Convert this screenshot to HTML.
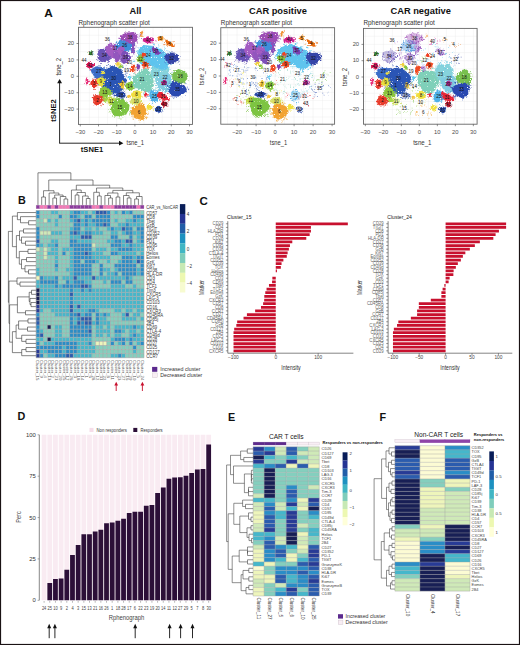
<!DOCTYPE html>
<html><head><meta charset="utf-8"><title>Figure</title>
<style>
html,body{margin:0;padding:0;background:#fff;width:520px;height:645px;overflow:hidden}
svg{display:block;font-family:"Liberation Sans", sans-serif}
</style></head><body>
<svg width="520" height="645" viewBox="0 0 520 645">
<defs><filter id="rough" x="-10%" y="-10%" width="120%" height="120%"><feTurbulence type="fractalNoise" baseFrequency="0.7" numOctaves="2" seed="3" result="n"/><feDisplacementMap in="SourceGraphic" in2="n" scale="3.2" xChannelSelector="R" yChannelSelector="G" result="d"/><feTurbulence type="fractalNoise" baseFrequency="1.3" numOctaves="1" seed="11" result="n2"/><feColorMatrix in="n2" type="matrix" values="0 0 0 0 0  0 0 0 0 0  0 0 0 0 0  0 0 0 -14 10.6" result="m"/><feComposite in="d" in2="m" operator="in"/></filter></defs>
<text x="44.3" y="17.2" font-size="11.8" fill="#111" text-anchor="start" font-weight="bold">A</text>
<text x="135.5" y="14.2" font-size="9.3" fill="#111" text-anchor="middle" font-weight="bold">All</text>
<text x="78.5" y="24.6" font-size="6.35" fill="#333" text-anchor="start" font-weight="normal">Rphenograph scatter plot</text>
<rect x="78.5" y="27.3" width="114" height="97.1" fill="#fff"/>
<path d="M80.3 27.3V124.4M89.4 27.3V124.4M98.5 27.3V124.4M107.6 27.3V124.4M116.7 27.3V124.4M125.8 27.3V124.4M134.9 27.3V124.4M144 27.3V124.4M153.1 27.3V124.4M162.2 27.3V124.4M171.3 27.3V124.4M180.4 27.3V124.4M189.5 27.3V124.4M78.5 117.3H192.5M78.5 109.1H192.5M78.5 100.9H192.5M78.5 92.7H192.5M78.5 84.5H192.5M78.5 76.3H192.5M78.5 68.1H192.5M78.5 59.9H192.5M78.5 51.7H192.5M78.5 43.5H192.5M78.5 35.3H192.5" stroke="#ececec" stroke-width="0.4" fill="none"/>
<clipPath id="clipA0"><rect x="78.5" y="27.3" width="114" height="97.1"/></clipPath>
<g clip-path="url(#clipA0)"><g filter="url(#rough)">
<path d="M101.24 60.82h0.9v0.9h-0.9zM100.49 50.67h0.9v0.9h-0.9zM97.08 53.9h0.9v0.9h-0.9zM111.45 57.94h0.9v0.9h-0.9zM111.52 57.01h0.9v0.9h-0.9zM110.01 57.9h0.9v0.9h-0.9zM96.37 59.08h0.9v0.9h-0.9zM109.08 59.8h0.9v0.9h-0.9zM97.8 49.35h0.9v0.9h-0.9zM97.65 52.24h0.9v0.9h-0.9zM110.4 54.54h0.9v0.9h-0.9zM108.65 50.37h0.9v0.9h-0.9zM108.21 60.09h0.9v0.9h-0.9zM101.05 62.9h0.9v0.9h-0.9zM107.58 62.05h0.9v0.9h-0.9zM99.49 50.26h0.9v0.9h-0.9zM98.16 53.69h0.9v0.9h-0.9zM110.52 57.68h0.9v0.9h-0.9zM101.02 49.17h0.9v0.9h-0.9zM101.06 62.16h0.9v0.9h-0.9zM97.41 57.29h0.9v0.9h-0.9zM106.51 48.01h0.9v0.9h-0.9z" stroke="none" stroke-width="0" fill="#6753b6"/>
<path d="M112.14 55.4 L111.56 57.38 L110.61 59.18 L108.76 60.23 L106.82 60.65 L105.27 62.23 L103.21 61.71 L101 61.83 L98.9 61.01 L98.42 58.8 L97.69 57.15 L98.24 55.4 L97.51 53.6 L97.8 51.63 L99.07 49.98 L100.75 48.47 L103.17 48.82 L105.23 48.86 L106.99 49.81 L108.62 50.73 L110.11 51.92 L111.92 53.32Z" stroke="none" stroke-width="0" fill="#6753b6"/>
<path d="M117.3 47.17h0.9v0.9h-0.9zM108.89 44.13h0.9v0.9h-0.9zM109.51 41.51h0.9v0.9h-0.9zM118.57 49.59h0.9v0.9h-0.9zM110.22 57.8h0.9v0.9h-0.9zM109.06 44.15h0.9v0.9h-0.9zM106.29 51.72h0.9v0.9h-0.9zM115.27 54.59h0.9v0.9h-0.9zM112.1 42.96h0.9v0.9h-0.9zM111.59 58h0.9v0.9h-0.9zM115.05 45h0.9v0.9h-0.9zM105.46 52.69h0.9v0.9h-0.9zM116.75 43.64h0.9v0.9h-0.9zM115.21 44.26h0.9v0.9h-0.9zM106.45 54h0.9v0.9h-0.9zM117.05 43.35h0.9v0.9h-0.9zM114.64 55.89h0.9v0.9h-0.9zM112.13 57.4h0.9v0.9h-0.9zM105.06 50.82h0.9v0.9h-0.9zM111.1 56.62h0.9v0.9h-0.9zM106.35 53.86h0.9v0.9h-0.9z" stroke="none" stroke-width="0" fill="#a35cc2"/>
<path d="M117.2 47.93 L117.17 50.15 L117.08 52.13 L117.13 54.27 L116.61 56.37 L114.95 57.04 L113.61 58.53 L111.67 57.78 L109.96 56.79 L108.46 55.45 L107.28 53.74 L105.95 52.02 L105.43 49.84 L104.87 47.48 L106.28 46.03 L107.45 44.95 L108.57 44.02 L109.86 43.37 L111.34 42.64 L113.04 43.2 L114.63 44.39 L115.87 46.13Z" stroke="none" stroke-width="0" fill="#a35cc2"/>
<path d="M119.85 59.62h0.9v0.9h-0.9zM121.3 57.19h0.9v0.9h-0.9zM114.58 52.39h0.9v0.9h-0.9zM116.95 62.04h0.9v0.9h-0.9zM114.92 60.09h0.9v0.9h-0.9zM119.64 49.67h0.9v0.9h-0.9zM113.35 57.36h0.9v0.9h-0.9zM119.69 58.76h0.9v0.9h-0.9zM115.14 60.86h0.9v0.9h-0.9zM118.53 51.13h0.9v0.9h-0.9zM121.43 57.11h0.9v0.9h-0.9zM113.84 55.03h0.9v0.9h-0.9zM114.09 54.61h0.9v0.9h-0.9z" stroke="none" stroke-width="0" fill="#9256bd"/>
<path d="M120.75 56 L120.32 57.67 L119.8 59.08 L119.11 60.18 L118.48 61.55 L117.51 62.1 L116.44 62.67 L115.52 61.54 L114.73 60.49 L114.41 58.85 L114 57.51 L113.25 56 L113.09 54.03 L113.62 52.27 L114.5 51.06 L115.52 50.45 L116.52 50.32 L117.44 50.79 L118.44 50.58 L119.37 51.31 L119.96 52.74 L120.26 54.36Z" stroke="none" stroke-width="0" fill="#9256bd"/>
<path d="M132 52.65h0.9v0.9h-0.9zM131.23 37.62h0.9v0.9h-0.9zM129.13 48.9h0.9v0.9h-0.9zM136.07 45.33h0.9v0.9h-0.9zM130.75 50.99h0.9v0.9h-0.9zM132.88 52.5h0.9v0.9h-0.9zM133.4 53.59h0.9v0.9h-0.9zM135.29 40.96h0.9v0.9h-0.9zM129.32 47.03h0.9v0.9h-0.9zM133.26 40.08h0.9v0.9h-0.9zM130.62 38.54h0.9v0.9h-0.9zM133.17 37.86h0.9v0.9h-0.9z" stroke="none" stroke-width="0" fill="#8d4fba"/>
<path d="M135.17 46 L135.17 47.96 L134.57 49.33 L134.33 51.27 L133.78 52.99 L132.92 53.32 L132.07 53.4 L131.2 53.12 L130.66 51.31 L130.49 49.23 L130.2 47.69 L129.91 46 L129.46 43.77 L129.8 41.67 L130.68 40.74 L131.28 39.34 L132.1 39 L132.88 39.47 L133.59 40.04 L134.42 40.46 L134.9 42.14 L135.15 44.05Z" stroke="none" stroke-width="0" fill="#8d4fba"/>
<path d="M132.92 43.65h0.9v0.9h-0.9zM115.11 43.63h0.9v0.9h-0.9zM115.98 48.26h0.9v0.9h-0.9zM127.76 39.55h0.9v0.9h-0.9zM124.42 51.38h0.9v0.9h-0.9zM125 52.23h0.9v0.9h-0.9zM124.04 51.74h0.9v0.9h-0.9zM130.92 51.01h0.9v0.9h-0.9zM119.69 50.46h0.9v0.9h-0.9zM116.34 40.92h0.9v0.9h-0.9zM116.18 48.93h0.9v0.9h-0.9zM116.33 44.93h0.9v0.9h-0.9zM118.13 44.18h0.9v0.9h-0.9zM118 47.23h0.9v0.9h-0.9zM133.57 45.19h0.9v0.9h-0.9zM128.24 51.1h0.9v0.9h-0.9zM123.22 37.93h0.9v0.9h-0.9zM120.77 51.25h0.9v0.9h-0.9zM116.02 42.33h0.9v0.9h-0.9zM131 49.43h0.9v0.9h-0.9zM124.57 51.33h0.9v0.9h-0.9zM125.63 38.06h0.9v0.9h-0.9zM116.22 42.07h0.9v0.9h-0.9z" stroke="none" stroke-width="0" fill="#3f8fda"/>
<path d="M131.57 45 L132.04 46.92 L131.34 48.81 L129.82 50.32 L127.8 51.26 L125.5 51.06 L123.52 50.9 L121.61 50.49 L119.19 50.31 L117.53 48.88 L116.18 47.12 L116.05 45 L117.81 43.3 L118.64 41.74 L119.6 40.09 L121.27 38.87 L123.45 38.66 L125.59 38.43 L127.79 38.75 L129.03 40.47 L130.08 41.89 L130.5 43.47Z" stroke="none" stroke-width="0" fill="#3f8fda"/>
<path d="M124.75 31.62h0.9v0.9h-0.9zM136.6 34.31h0.9v0.9h-0.9zM127.82 31.25h0.9v0.9h-0.9zM136.99 42.57h0.9v0.9h-0.9zM138.36 36.26h0.9v0.9h-0.9zM138.85 35.66h0.9v0.9h-0.9zM118.38 37.86h0.9v0.9h-0.9zM134.11 32.97h0.9v0.9h-0.9zM121.15 39.74h0.9v0.9h-0.9zM125.52 41.59h0.9v0.9h-0.9zM125.59 43.07h0.9v0.9h-0.9zM139.82 38.02h0.9v0.9h-0.9zM122.81 38.99h0.9v0.9h-0.9zM125.01 42.62h0.9v0.9h-0.9zM122.11 36.94h0.9v0.9h-0.9zM140.8 36.69h0.9v0.9h-0.9zM137.95 36.44h0.9v0.9h-0.9zM129.24 41.96h0.9v0.9h-0.9zM131.58 32.14h0.9v0.9h-0.9zM136.43 41.38h0.9v0.9h-0.9zM139.31 33.82h0.9v0.9h-0.9zM129.55 42.25h0.9v0.9h-0.9zM138.7 34.39h0.9v0.9h-0.9z" stroke="none" stroke-width="0" fill="#9d4db5"/>
<path d="M137.56 37.3 L137.28 38.58 L137.71 40.27 L136.15 41.56 L133.79 42.28 L131.46 43.39 L128.7 42.72 L126.34 42.11 L125.06 40.72 L122.24 40.29 L121.74 38.76 L119.64 37.3 L120.77 35.67 L122.53 34.42 L124.39 33.41 L126.31 32.45 L128.85 32.5 L131.21 32.26 L134.03 32 L136.13 33.06 L137.34 34.47 L137.81 35.92Z" stroke="none" stroke-width="0" fill="#9d4db5"/>
<path d="M124.58 52.32h0.9v0.9h-0.9zM119.5 55.11h0.9v0.9h-0.9zM121.23 46.6h0.9v0.9h-0.9zM117.28 51h0.9v0.9h-0.9zM119.04 54.17h0.9v0.9h-0.9zM120.99 54.86h0.9v0.9h-0.9zM120.53 46.09h0.9v0.9h-0.9zM122.58 55.44h0.9v0.9h-0.9zM124.29 49.39h0.9v0.9h-0.9zM122.75 46.73h0.9v0.9h-0.9zM116.1 51.17h0.9v0.9h-0.9zM117.63 54.02h0.9v0.9h-0.9z" stroke="none" stroke-width="0" fill="#a35cc2"/>
<path d="M125.01 51 L124.42 52.13 L124.49 53.52 L123.85 54.7 L122.85 55.56 L121.6 55.67 L120.45 55.32 L119.59 54.48 L118.79 53.87 L118.05 53.13 L116.89 52.36 L116.84 51 L117.09 49.71 L117.81 48.69 L118.35 47.56 L119.38 47 L120.45 46.7 L121.55 46.71 L122.7 46.81 L123.75 47.42 L124.5 48.47 L124.49 49.85Z" stroke="none" stroke-width="0" fill="#a35cc2"/>
<path d="M120.84 59.54h0.9v0.9h-0.9zM131.65 55.76h0.9v0.9h-0.9zM120.81 55.92h0.9v0.9h-0.9zM130.23 56.33h0.9v0.9h-0.9zM122.76 61.6h0.9v0.9h-0.9zM121.49 61.92h0.9v0.9h-0.9zM120.7 57.5h0.9v0.9h-0.9zM121.14 57.45h0.9v0.9h-0.9zM125 62.92h0.9v0.9h-0.9zM121.89 60.68h0.9v0.9h-0.9zM130.29 58.43h0.9v0.9h-0.9zM126 64.24h0.9v0.9h-0.9zM119.56 56.3h0.9v0.9h-0.9zM122.18 51.72h0.9v0.9h-0.9zM129.12 53.36h0.9v0.9h-0.9zM122.42 64.49h0.9v0.9h-0.9z" stroke="none" stroke-width="0" fill="#7b4fb8"/>
<path d="M130.96 57.6 L130.74 59.48 L129.44 60.71 L128.77 62.26 L127.45 62.98 L126.07 63.21 L124.67 63.68 L123.09 63.66 L122.04 62.25 L120.91 61.06 L120.63 59.28 L120.46 57.6 L120.76 55.97 L121.12 54.3 L121.97 52.85 L123 51.29 L124.61 51 L126.15 51.35 L127.26 52.71 L128.1 53.86 L129.06 54.77 L130.11 55.94Z" stroke="none" stroke-width="0" fill="#7b4fb8"/>
<path d="M92.54 54.75h0.9v0.9h-0.9zM88.9 52.67h0.9v0.9h-0.9zM89.34 51.92h0.9v0.9h-0.9zM89.27 53.5h0.9v0.9h-0.9zM91.43 51.36h0.9v0.9h-0.9zM88.84 53.36h0.9v0.9h-0.9zM89.95 52.07h0.9v0.9h-0.9z" stroke="none" stroke-width="0" fill="#3a9a3a"/>
<path d="M92.36 53.4 L92.28 53.84 L92.26 54.34 L92.11 54.91 L91.57 55.09 L91.08 55.34 L90.53 55.28 L90.12 54.9 L89.74 54.62 L89.32 54.35 L88.92 53.95 L88.75 53.4 L88.93 52.85 L89.25 52.41 L89.79 52.24 L90.17 52.01 L90.57 51.78 L91.08 51.49 L91.58 51.68 L92.09 51.91 L92.21 52.49 L92.3 52.96Z" stroke="none" stroke-width="0" fill="#3a9a3a"/>
<path d="M89.71 68.75h0.9v0.9h-0.9zM88.72 61.86h0.9v0.9h-0.9zM89.21 68.45h0.9v0.9h-0.9zM86.48 65.92h0.9v0.9h-0.9zM93.51 67.83h0.9v0.9h-0.9zM91.66 69h0.9v0.9h-0.9zM93.04 64.16h0.9v0.9h-0.9zM85.96 66.16h0.9v0.9h-0.9zM93.91 64.55h0.9v0.9h-0.9z" stroke="none" stroke-width="0" fill="#d8185a"/>
<path d="M93.93 65.2 L94.11 66.19 L93 66.75 L92.4 67.39 L91.48 67.6 L90.7 68.2 L89.62 68.66 L88.67 68.08 L87.54 67.84 L87.16 66.88 L86.73 66.08 L86.79 65.2 L87.09 64.41 L86.88 63.37 L87.66 62.67 L88.71 62.39 L89.72 62.32 L90.69 62.28 L91.55 62.66 L92.31 63.1 L93.03 63.64 L93.79 64.29Z" stroke="none" stroke-width="0" fill="#d8185a"/>
<path d="M95.14 79.47h0.9v0.9h-0.9zM108.26 72.58h0.9v0.9h-0.9zM102.74 67.75h0.9v0.9h-0.9zM107.17 69.26h0.9v0.9h-0.9zM105.23 68.97h0.9v0.9h-0.9zM93.44 77.08h0.9v0.9h-0.9zM107.7 72.45h0.9v0.9h-0.9zM93.79 77.46h0.9v0.9h-0.9zM97.93 77.84h0.9v0.9h-0.9zM106.67 77.03h0.9v0.9h-0.9zM96.8 80.18h0.9v0.9h-0.9zM99.03 78.51h0.9v0.9h-0.9zM91.72 72.1h0.9v0.9h-0.9zM92.01 78.17h0.9v0.9h-0.9zM106.08 67.49h0.9v0.9h-0.9zM92.31 66.77h0.9v0.9h-0.9zM106.97 70.02h0.9v0.9h-0.9zM97.71 67.19h0.9v0.9h-0.9zM98.09 66.01h0.9v0.9h-0.9zM99.15 65.43h0.9v0.9h-0.9zM97.47 77.77h0.9v0.9h-0.9zM105.34 70h0.9v0.9h-0.9z" stroke="none" stroke-width="0" fill="#3a6cc8"/>
<path d="M106.7 72.5 L105.79 74.08 L105.25 75.69 L104.23 77.3 L102.13 77.95 L100.22 79.26 L97.83 78.95 L95.6 78.42 L94.17 76.93 L93.39 75.36 L92.55 74.01 L91.73 72.5 L90.55 70.53 L91.85 68.85 L93.84 67.76 L95.55 66.5 L97.87 66.27 L100 66.95 L101.9 67.45 L104 67.91 L105.64 69.11 L106.85 70.67Z" stroke="none" stroke-width="0" fill="#3a6cc8"/>
<path d="M123.06 85.98h0.9v0.9h-0.9zM112.27 93.31h0.9v0.9h-0.9zM124.27 69.84h0.9v0.9h-0.9zM101.94 86.25h0.9v0.9h-0.9zM100.4 77.57h0.9v0.9h-0.9zM107.23 88.83h0.9v0.9h-0.9zM110.24 95.33h0.9v0.9h-0.9zM122.46 89.07h0.9v0.9h-0.9zM102.38 68.24h0.9v0.9h-0.9zM115.58 91.37h0.9v0.9h-0.9zM113.13 92.37h0.9v0.9h-0.9zM97.93 84.84h0.9v0.9h-0.9zM122.03 66.86h0.9v0.9h-0.9zM123.71 80.98h0.9v0.9h-0.9zM109.06 64.34h0.9v0.9h-0.9zM99.27 81.83h0.9v0.9h-0.9zM125.83 79.51h0.9v0.9h-0.9zM126.68 72.72h0.9v0.9h-0.9zM122.9 66.81h0.9v0.9h-0.9zM113.11 90.74h0.9v0.9h-0.9zM120.67 90.69h0.9v0.9h-0.9zM106.41 65.01h0.9v0.9h-0.9zM110.48 65.46h0.9v0.9h-0.9zM114.22 66.36h0.9v0.9h-0.9zM102.72 76.05h0.9v0.9h-0.9zM115.4 67.81h0.9v0.9h-0.9zM125.49 72.62h0.9v0.9h-0.9zM109.24 90.2h0.9v0.9h-0.9zM112.84 93.7h0.9v0.9h-0.9zM109.43 68.83h0.9v0.9h-0.9zM125.27 85.31h0.9v0.9h-0.9zM101.89 73.13h0.9v0.9h-0.9zM115.31 93.31h0.9v0.9h-0.9zM125.29 80.31h0.9v0.9h-0.9zM97.47 83.42h0.9v0.9h-0.9zM103.41 67.2h0.9v0.9h-0.9zM101.2 81.35h0.9v0.9h-0.9zM113.3 95.53h0.9v0.9h-0.9zM109.53 67.64h0.9v0.9h-0.9zM126.3 81.33h0.9v0.9h-0.9zM107.06 67.95h0.9v0.9h-0.9zM112.35 93.86h0.9v0.9h-0.9zM123.61 74.11h0.9v0.9h-0.9zM125.24 82.16h0.9v0.9h-0.9zM100.3 86.42h0.9v0.9h-0.9zM117.84 93.81h0.9v0.9h-0.9zM112.08 66.07h0.9v0.9h-0.9zM117.47 94.95h0.9v0.9h-0.9zM107.24 93.61h0.9v0.9h-0.9zM114.43 91.28h0.9v0.9h-0.9zM113.81 67.24h0.9v0.9h-0.9zM125.81 75.51h0.9v0.9h-0.9zM117.56 90.47h0.9v0.9h-0.9zM100.54 86.66h0.9v0.9h-0.9zM123.86 75.88h0.9v0.9h-0.9zM103.73 86.84h0.9v0.9h-0.9zM124.27 77.65h0.9v0.9h-0.9zM123.39 83.01h0.9v0.9h-0.9zM100.72 89.24h0.9v0.9h-0.9zM123.97 69.65h0.9v0.9h-0.9z" stroke="none" stroke-width="0" fill="#2c55b5"/>
<path d="M126.45 79.5 L125.43 83.15 L123.86 86.48 L122.24 90.16 L118.3 91.1 L114.48 89.83 L111.32 91.22 L108.06 90.32 L104.61 89.18 L101.87 86.65 L100.89 83.06 L101.6 79.5 L102.28 76.35 L103.7 73.53 L104.55 69.75 L108.04 68.63 L110.93 65.09 L114.83 66.76 L118.2 68.12 L121.27 69.95 L123.19 72.95 L124.02 76.26Z" stroke="none" stroke-width="0" fill="#2c55b5"/>
<path d="M120.56 90.28h0.9v0.9h-0.9zM111.1 93.49h0.9v0.9h-0.9zM117.28 93.72h0.9v0.9h-0.9zM118.94 85.64h0.9v0.9h-0.9zM110.35 92.05h0.9v0.9h-0.9zM115.95 83.75h0.9v0.9h-0.9zM119.79 89.55h0.9v0.9h-0.9zM119.73 85.94h0.9v0.9h-0.9zM115.39 81.6h0.9v0.9h-0.9zM112.92 93.03h0.9v0.9h-0.9zM120.94 86.87h0.9v0.9h-0.9zM115.05 94.93h0.9v0.9h-0.9zM113.52 93.4h0.9v0.9h-0.9zM121.45 88.66h0.9v0.9h-0.9zM120.41 85.37h0.9v0.9h-0.9z" stroke="none" stroke-width="0" fill="#2c55b5"/>
<path d="M119.91 88.5 L120.27 90.04 L120.06 91.72 L119.28 93.3 L117.76 93.95 L116.15 93.49 L114.88 93.21 L113.56 93.17 L112.17 92.73 L110.64 91.94 L110.57 90.09 L110.07 88.5 L110.7 86.95 L111.42 85.62 L112.3 84.44 L113.4 83.43 L114.77 82.88 L116.25 82.74 L117.64 83.35 L118.88 84.21 L119.06 85.99 L119.63 87.17Z" stroke="none" stroke-width="0" fill="#2c55b5"/>
<path d="M105.55 97.1h0.9v0.9h-0.9zM107.88 100.36h0.9v0.9h-0.9zM102.67 98.69h0.9v0.9h-0.9zM109.21 99.11h0.9v0.9h-0.9zM108.4 99.31h0.9v0.9h-0.9zM107.81 100.63h0.9v0.9h-0.9zM101.99 99.53h0.9v0.9h-0.9zM102.79 100.28h0.9v0.9h-0.9z" stroke="none" stroke-width="0" fill="#a8d848"/>
<path d="M108.7 99.5 L108.38 100.21 L107.93 100.8 L107.43 101.36 L106.76 101.79 L105.92 101.93 L105.01 102.35 L104.22 101.84 L103.52 101.4 L103.21 100.73 L102.75 100.17 L102.8 99.5 L102.67 98.81 L102.88 98.1 L103.5 97.58 L104.14 97.02 L105.09 97.12 L105.88 97.32 L106.64 97.42 L107.65 97.44 L108.21 98.05 L108.49 98.77Z" stroke="none" stroke-width="0" fill="#a8d848"/>
<path d="M95.44 78.59h0.9v0.9h-0.9zM97.13 83.27h0.9v0.9h-0.9zM89.79 84.39h0.9v0.9h-0.9zM96.38 78.61h0.9v0.9h-0.9zM97.33 84.63h0.9v0.9h-0.9zM96.4 86.43h0.9v0.9h-0.9zM97.84 82.63h0.9v0.9h-0.9zM97.22 81.51h0.9v0.9h-0.9zM96.45 79.89h0.9v0.9h-0.9zM93.74 89.01h0.9v0.9h-0.9zM96.96 82.12h0.9v0.9h-0.9z" stroke="none" stroke-width="0" fill="#e8352a"/>
<path d="M97.4 83.5 L96.89 84.61 L96.68 85.76 L96.15 86.76 L95.48 87.75 L94.52 88.26 L93.47 88.35 L92.55 87.68 L92.02 86.5 L91.55 85.57 L90.82 84.73 L90.21 83.5 L90.53 82.16 L90.96 80.93 L91.84 80.22 L92.57 79.39 L93.54 79.31 L94.44 79.52 L95.39 79.5 L96.44 79.8 L97.21 80.79 L97.52 82.14Z" stroke="none" stroke-width="0" fill="#e8352a"/>
<path d="M88.09 82.7h0.9v0.9h-0.9zM86.51 77.69h0.9v0.9h-0.9zM86.71 84.29h0.9v0.9h-0.9zM88.33 80.02h0.9v0.9h-0.9zM85.71 79.61h0.9v0.9h-0.9zM85.5 83.11h0.9v0.9h-0.9zM88.42 80.93h0.9v0.9h-0.9z" stroke="none" stroke-width="0" fill="#e8307a"/>
<path d="M88.58 81 L88.38 81.98 L88.09 82.71 L87.93 83.61 L87.52 83.77 L87.2 84.35 L86.8 84.34 L86.34 84.53 L86.01 83.78 L85.85 82.8 L85.82 81.84 L85.71 81 L85.73 80.09 L85.76 79.06 L86.1 78.48 L86.35 77.56 L86.79 77.5 L87.2 77.66 L87.5 78.33 L87.8 78.76 L88.13 79.23 L88.49 79.94Z" stroke="none" stroke-width="0" fill="#e8307a"/>
<path d="M104.02 84.58h0.9v0.9h-0.9zM102.43 76.28h0.9v0.9h-0.9zM101.88 85.37h0.9v0.9h-0.9zM105.53 79.61h0.9v0.9h-0.9zM97.22 82.02h0.9v0.9h-0.9zM104.36 79.58h0.9v0.9h-0.9zM104.42 78.79h0.9v0.9h-0.9zM102.36 77.98h0.9v0.9h-0.9zM101.55 77.53h0.9v0.9h-0.9zM96.64 84.66h0.9v0.9h-0.9zM102.48 77.99h0.9v0.9h-0.9zM101.52 86.04h0.9v0.9h-0.9z" stroke="none" stroke-width="0" fill="#e6df3e"/>
<path d="M104.58 81.6 L103.99 82.66 L103.62 83.66 L103.32 84.93 L102.54 86.03 L101.27 85.97 L100.08 86.34 L98.94 85.85 L98.45 84.46 L97.43 83.91 L97.36 82.68 L96.59 81.6 L96.54 80.26 L96.96 78.96 L98.07 78.26 L99.12 77.79 L100.17 77.55 L101.22 77.64 L102.38 77.55 L103.44 78.12 L104.33 79.03 L104.44 80.39Z" stroke="none" stroke-width="0" fill="#e6df3e"/>
<path d="M100.09 88.37h0.9v0.9h-0.9zM105.46 98.72h0.9v0.9h-0.9zM105.99 86.7h0.9v0.9h-0.9zM107.53 97.49h0.9v0.9h-0.9zM109.06 95.35h0.9v0.9h-0.9zM99.95 94.33h0.9v0.9h-0.9zM98.75 94.38h0.9v0.9h-0.9zM111.4 93.85h0.9v0.9h-0.9zM110.96 95.45h0.9v0.9h-0.9zM105.92 86.55h0.9v0.9h-0.9zM110.89 94.24h0.9v0.9h-0.9zM99.28 97.09h0.9v0.9h-0.9zM109.66 97.34h0.9v0.9h-0.9zM111.87 92.14h0.9v0.9h-0.9zM107.03 87.66h0.9v0.9h-0.9zM111.19 91.64h0.9v0.9h-0.9zM112.09 90.46h0.9v0.9h-0.9z" stroke="none" stroke-width="0" fill="#8cc43c"/>
<path d="M111.58 92.3 L111.49 94.07 L109.63 95.09 L108.46 96.11 L107.19 97.01 L105.54 96.92 L103.89 97.98 L102.26 97.31 L100.29 96.98 L99.79 95.2 L99.13 93.8 L98.81 92.3 L99.84 90.99 L100.14 89.61 L100.71 88.05 L102.17 87.12 L103.95 87.01 L105.61 87.21 L106.99 87.99 L108.68 88.27 L109.73 89.45 L111.06 90.65Z" stroke="none" stroke-width="0" fill="#8cc43c"/>
<path d="M100.72 105.25h0.9v0.9h-0.9zM101.93 103.6h0.9v0.9h-0.9zM94.09 96.18h0.9v0.9h-0.9zM101.67 96.06h0.9v0.9h-0.9zM91.81 97h0.9v0.9h-0.9zM103.04 103.96h0.9v0.9h-0.9zM93.87 96.26h0.9v0.9h-0.9zM99.11 95.37h0.9v0.9h-0.9zM103.47 99.67h0.9v0.9h-0.9zM93.56 104.59h0.9v0.9h-0.9zM92.99 101.65h0.9v0.9h-0.9zM97.41 95.64h0.9v0.9h-0.9zM99.77 95.64h0.9v0.9h-0.9zM93.21 95.04h0.9v0.9h-0.9zM92.38 97.05h0.9v0.9h-0.9z" stroke="none" stroke-width="0" fill="#e83a2a"/>
<path d="M102.87 100 L102.4 101.33 L101.57 102.41 L100.84 103.52 L99.62 104.17 L98.35 104.94 L96.74 105.63 L95.35 104.65 L94.12 103.79 L93.12 102.72 L93.36 101.17 L93.22 100 L92.79 98.67 L93.25 97.36 L93.91 95.98 L95.35 95.36 L96.83 94.96 L98.32 95.3 L99.49 96.1 L100.97 96.33 L102.14 97.25 L102.76 98.57Z" stroke="none" stroke-width="0" fill="#e83a2a"/>
<path d="M114.94 99.31h0.9v0.9h-0.9zM113.51 103.68h0.9v0.9h-0.9zM108.19 97.01h0.9v0.9h-0.9zM112.23 96.76h0.9v0.9h-0.9zM111.09 104.21h0.9v0.9h-0.9zM108.69 97.31h0.9v0.9h-0.9zM108.71 104.49h0.9v0.9h-0.9zM106.63 102.56h0.9v0.9h-0.9zM111 96.97h0.9v0.9h-0.9zM114.26 98.82h0.9v0.9h-0.9zM107.35 99.99h0.9v0.9h-0.9z" stroke="none" stroke-width="0" fill="#c6dc48"/>
<path d="M115.44 100.8 L115.68 102.06 L114.45 102.76 L113.86 103.63 L113.05 104.41 L111.91 104.33 L110.84 104.67 L109.57 104.82 L108.57 104.07 L107.88 103.06 L107.55 101.93 L107.99 100.8 L107.94 99.78 L108.14 98.7 L108.81 97.81 L109.48 96.59 L110.78 96.47 L111.97 96.81 L112.77 97.79 L113.97 97.83 L114.85 98.58 L115.42 99.62Z" stroke="none" stroke-width="0" fill="#c6dc48"/>
<path d="M119.18 97.83h0.9v0.9h-0.9zM120.98 115.28h0.9v0.9h-0.9zM120.62 115.06h0.9v0.9h-0.9zM113.93 116.48h0.9v0.9h-0.9zM115.75 96.88h0.9v0.9h-0.9zM117.5 98.82h0.9v0.9h-0.9zM110.32 104.18h0.9v0.9h-0.9zM122.17 97.81h0.9v0.9h-0.9zM118.66 117.5h0.9v0.9h-0.9zM128.49 105.45h0.9v0.9h-0.9zM125.63 102.02h0.9v0.9h-0.9zM119.11 115.89h0.9v0.9h-0.9zM119.23 95.83h0.9v0.9h-0.9zM119.47 98.33h0.9v0.9h-0.9zM126.62 101.16h0.9v0.9h-0.9zM120.51 118.6h0.9v0.9h-0.9zM112.18 99.65h0.9v0.9h-0.9zM113.47 97.29h0.9v0.9h-0.9zM108.25 109.41h0.9v0.9h-0.9zM115.9 96.77h0.9v0.9h-0.9zM109.39 111.37h0.9v0.9h-0.9zM111.21 103.5h0.9v0.9h-0.9zM122.24 117.18h0.9v0.9h-0.9zM130.27 112.62h0.9v0.9h-0.9zM124.74 113.42h0.9v0.9h-0.9zM129.14 114.39h0.9v0.9h-0.9zM114.83 114.11h0.9v0.9h-0.9zM127.82 108.7h0.9v0.9h-0.9zM115.89 97.74h0.9v0.9h-0.9zM116.03 97.25h0.9v0.9h-0.9zM129.41 111.33h0.9v0.9h-0.9zM112.14 115.59h0.9v0.9h-0.9zM124.73 97.1h0.9v0.9h-0.9zM130.49 111.79h0.9v0.9h-0.9zM130.1 101.42h0.9v0.9h-0.9z" stroke="none" stroke-width="0" fill="#7dc443"/>
<path d="M129.23 107.3 L129 109.89 L127.52 112.06 L126.25 114.47 L123.58 115.34 L120.97 115.65 L118.32 116.37 L115.53 115.96 L113.19 114.42 L111.66 112.19 L111.09 109.69 L110.29 107.3 L111.89 105.13 L112.46 102.89 L113.51 100.53 L115.8 99.22 L118.29 98 L121.05 98.38 L123.67 99.07 L125.24 101.24 L126.81 102.97 L129.43 104.59Z" stroke="none" stroke-width="0" fill="#7dc443"/>
<path d="M114.84 94.71h0.9v0.9h-0.9zM117.82 93.05h0.9v0.9h-0.9zM116.53 96.43h0.9v0.9h-0.9zM121.72 91.81h0.9v0.9h-0.9zM119.46 91.66h0.9v0.9h-0.9zM122.29 98.43h0.9v0.9h-0.9zM126.13 96.78h0.9v0.9h-0.9zM123.04 97.04h0.9v0.9h-0.9zM122.77 98.22h0.9v0.9h-0.9zM125.22 94.45h0.9v0.9h-0.9zM115.65 94.99h0.9v0.9h-0.9z" stroke="none" stroke-width="0" fill="#2a48a8"/>
<path d="M125.29 94.8 L125.62 95.61 L125.25 96.44 L124.75 97.4 L123.14 97.62 L121.78 98.04 L120.36 97.48 L119.22 97.14 L117.8 97.02 L116.74 96.44 L116.17 95.65 L115.45 94.8 L116.39 93.99 L116.73 93.16 L117.89 92.65 L118.97 92.14 L120.28 91.8 L121.74 91.73 L123.23 91.87 L124.4 92.44 L125.45 93.09 L125.08 94.08Z" stroke="none" stroke-width="0" fill="#2a48a8"/>
<path d="M123.75 82.76h0.9v0.9h-0.9zM122.76 87.96h0.9v0.9h-0.9zM124.29 82.51h0.9v0.9h-0.9zM119.84 87.7h0.9v0.9h-0.9zM122.37 88.38h0.9v0.9h-0.9zM119.18 83.88h0.9v0.9h-0.9zM122.15 80.71h0.9v0.9h-0.9zM120.65 87.54h0.9v0.9h-0.9zM123.82 88.26h0.9v0.9h-0.9z" stroke="none" stroke-width="0" fill="#f0c838"/>
<path d="M124.52 84.7 L124.15 85.54 L124.1 86.5 L123.88 87.58 L123.24 88.21 L122.46 88.19 L121.74 88.18 L121.05 87.91 L120.69 86.98 L120.24 86.38 L119.75 85.66 L119.32 84.7 L119.35 83.57 L120.05 82.86 L120.63 82.32 L121.2 81.94 L121.78 81.6 L122.45 81.26 L123.14 81.52 L123.83 81.9 L124.21 82.8 L124.67 83.64Z" stroke="none" stroke-width="0" fill="#f0c838"/>
<path d="M129.39 82.08h0.9v0.9h-0.9zM133.64 85h0.9v0.9h-0.9zM125.75 89.6h0.9v0.9h-0.9zM131.31 81.03h0.9v0.9h-0.9zM126.2 87.5h0.9v0.9h-0.9zM127.4 82.96h0.9v0.9h-0.9zM131.09 90.14h0.9v0.9h-0.9zM134.23 86.84h0.9v0.9h-0.9zM131.17 81.07h0.9v0.9h-0.9zM125.02 85.89h0.9v0.9h-0.9zM126.07 86.8h0.9v0.9h-0.9zM126.37 83.21h0.9v0.9h-0.9z" stroke="none" stroke-width="0" fill="#88c840"/>
<path d="M134.13 85.9 L133.71 87.02 L133.59 88.27 L133.05 89.53 L131.82 90.1 L130.51 90.13 L129.28 90.19 L128.14 89.75 L127.17 89.06 L126.22 88.27 L125.29 87.25 L125.07 85.9 L125.41 84.58 L126.34 83.61 L127.38 83 L128.23 82.24 L129.36 82.13 L130.52 81.57 L131.93 81.46 L133.04 82.27 L133.67 83.48 L133.61 84.81Z" stroke="none" stroke-width="0" fill="#88c840"/>
<path d="M130.85 70.45h0.9v0.9h-0.9zM131.28 65.64h0.9v0.9h-0.9zM131.68 63.98h0.9v0.9h-0.9zM134.07 72.68h0.9v0.9h-0.9zM133.41 64.46h0.9v0.9h-0.9zM130.04 68.83h0.9v0.9h-0.9zM135.45 69.54h0.9v0.9h-0.9zM134.47 72.57h0.9v0.9h-0.9zM135.32 66.92h0.9v0.9h-0.9z" stroke="none" stroke-width="0" fill="#f04a20"/>
<path d="M135.31 69.34 L134.85 70.49 L134.19 71.47 L133.38 71.84 L132.67 72.07 L131.98 72.22 L131.4 71.96 L130.83 71.64 L130.15 71.21 L130.37 69.91 L130.41 68.82 L131 67.77 L131.38 66.76 L132.06 66.16 L132.58 64.83 L133.36 64.58 L134.06 64.64 L134.67 64.88 L135.04 65.56 L135.03 66.57 L135.32 67.26 L135.38 68.21Z" stroke="none" stroke-width="0" fill="#f04a20"/>
<path d="M128.72 75.78h0.9v0.9h-0.9zM129.06 79.2h0.9v0.9h-0.9zM129.1 75.21h0.9v0.9h-0.9zM127.8 77.21h0.9v0.9h-0.9zM129.69 75.75h0.9v0.9h-0.9zM129.52 79.09h0.9v0.9h-0.9z" stroke="none" stroke-width="0" fill="#60c8f0"/>
<path d="M130.65 77.5 L130.61 78 L130.49 78.49 L130.27 78.99 L129.84 79.19 L129.44 79.47 L129 79.14 L128.62 79.03 L128.23 78.85 L127.86 78.53 L127.67 78.04 L127.62 77.5 L127.68 76.96 L128.06 76.62 L128.24 76.17 L128.64 76.04 L128.98 75.65 L129.42 75.7 L129.86 75.75 L130.2 76.11 L130.44 76.54 L130.46 77.06Z" stroke="none" stroke-width="0" fill="#60c8f0"/>
<path d="M136.61 81.06h0.9v0.9h-0.9zM134.98 83.83h0.9v0.9h-0.9zM134.79 84.03h0.9v0.9h-0.9zM133.97 82.48h0.9v0.9h-0.9zM134.54 78.44h0.9v0.9h-0.9zM136.54 79.4h0.9v0.9h-0.9zM136.57 82.29h0.9v0.9h-0.9z" stroke="none" stroke-width="0" fill="#e83a2a"/>
<path d="M136.4 81 L136.3 81.81 L136.35 82.85 L136.07 83.51 L135.67 83.57 L135.35 83.57 L135.03 83.95 L134.72 83.62 L134.45 83.16 L134.2 82.61 L134.02 81.87 L134 81 L134.02 80.13 L134.3 79.55 L134.53 79.06 L134.68 78.15 L135.01 77.74 L135.38 77.94 L135.77 77.89 L136 78.68 L136.19 79.4 L136.28 80.2Z" stroke="none" stroke-width="0" fill="#e83a2a"/>
<path d="M141.33 91.62h0.9v0.9h-0.9zM139.08 91.41h0.9v0.9h-0.9zM134.68 90.52h0.9v0.9h-0.9zM136.33 90.42h0.9v0.9h-0.9zM140.67 91.64h0.9v0.9h-0.9zM136.17 98.41h0.9v0.9h-0.9zM140.03 97.89h0.9v0.9h-0.9zM141.55 96.12h0.9v0.9h-0.9zM139.9 97.98h0.9v0.9h-0.9zM131.14 94.65h0.9v0.9h-0.9zM139.38 92.01h0.9v0.9h-0.9zM139.46 91.03h0.9v0.9h-0.9zM131.29 92.84h0.9v0.9h-0.9z" stroke="none" stroke-width="0" fill="#f0e040"/>
<path d="M141.11 94.6 L141.26 95.7 L141.4 97.07 L139.92 97.66 L138.85 98.54 L137.32 98.61 L136 97.92 L134.66 98 L133.34 97.61 L131.91 97.01 L131.54 95.79 L130.79 94.6 L131.73 93.46 L132.65 92.57 L133.39 91.63 L134.82 91.48 L135.85 90.44 L137.38 90.25 L138.8 90.75 L140.21 91.27 L140.55 92.57 L140.96 93.58Z" stroke="none" stroke-width="0" fill="#f0e040"/>
<path d="M129.5 100.63h0.9v0.9h-0.9zM137.41 104.85h0.9v0.9h-0.9zM130.66 103.1h0.9v0.9h-0.9zM138.5 98.26h0.9v0.9h-0.9zM138.66 98.11h0.9v0.9h-0.9zM130.65 101.22h0.9v0.9h-0.9zM128.92 101.12h0.9v0.9h-0.9zM132.25 97.81h0.9v0.9h-0.9zM133.34 104.34h0.9v0.9h-0.9zM134.14 105.01h0.9v0.9h-0.9zM131.62 98.15h0.9v0.9h-0.9zM142.26 102.32h0.9v0.9h-0.9z" stroke="none" stroke-width="0" fill="#d8e068"/>
<path d="M141.22 101.3 L140.91 102.22 L140.81 103.27 L139.59 103.94 L138.24 104.43 L136.81 104.9 L135.27 104.53 L133.82 104.33 L132.26 104.05 L130.76 103.44 L130.14 102.39 L130.06 101.3 L130.67 100.3 L131.56 99.48 L132.65 98.84 L133.73 98.13 L135.23 97.89 L136.87 97.43 L138.44 97.9 L139.82 98.49 L140.02 99.65 L140.5 100.46Z" stroke="none" stroke-width="0" fill="#d8e068"/>
<path d="M147.75 114.01h0.9v0.9h-0.9zM146.37 107.09h0.9v0.9h-0.9zM132.78 118.96h0.9v0.9h-0.9zM140.88 103.21h0.9v0.9h-0.9zM138.63 119.68h0.9v0.9h-0.9zM132.43 115.55h0.9v0.9h-0.9zM131.26 115.64h0.9v0.9h-0.9zM145 108.97h0.9v0.9h-0.9zM133.07 108.94h0.9v0.9h-0.9zM145.69 118.4h0.9v0.9h-0.9zM130.57 107.19h0.9v0.9h-0.9zM132.94 114.06h0.9v0.9h-0.9zM132.65 117.62h0.9v0.9h-0.9zM147.95 107.86h0.9v0.9h-0.9zM131.33 113.07h0.9v0.9h-0.9zM145.85 117.25h0.9v0.9h-0.9zM140.62 118.94h0.9v0.9h-0.9zM145.36 112.46h0.9v0.9h-0.9zM136.26 105.18h0.9v0.9h-0.9zM145.52 110.31h0.9v0.9h-0.9zM143.65 106.49h0.9v0.9h-0.9zM147.75 112.85h0.9v0.9h-0.9zM139.43 121.23h0.9v0.9h-0.9zM141.51 118.25h0.9v0.9h-0.9zM140.32 102.54h0.9v0.9h-0.9zM144.44 104.37h0.9v0.9h-0.9zM146.33 116.38h0.9v0.9h-0.9z" stroke="none" stroke-width="0" fill="#f2a330"/>
<path d="M145.79 111.8 L146.22 114.06 L144.96 115.89 L144.62 118.72 L142.52 120.02 L140.03 119.47 L138.04 118.91 L136.04 118.71 L134.23 117.67 L133.39 115.65 L131.76 114.07 L130.54 111.8 L131.7 109.51 L132.22 107.15 L134.4 106.14 L136.41 105.75 L138.02 104.52 L140.1 103.65 L142.32 104.04 L144.49 105.04 L145.13 107.6 L146.3 109.51Z" stroke="none" stroke-width="0" fill="#f2a330"/>
<path d="M147.27 109.62h0.9v0.9h-0.9zM147.36 105.09h0.9v0.9h-0.9zM146.78 109.42h0.9v0.9h-0.9zM152.9 106.06h0.9v0.9h-0.9zM146.81 106.08h0.9v0.9h-0.9zM153.09 108.54h0.9v0.9h-0.9zM148.44 103.92h0.9v0.9h-0.9zM147.84 109.93h0.9v0.9h-0.9z" stroke="none" stroke-width="0" fill="#f0e040"/>
<path d="M152.64 107.2 L152.6 108.05 L152.16 108.8 L151.56 109.41 L150.82 109.89 L149.89 109.7 L149.1 109.82 L148.28 109.7 L147.32 109.55 L146.62 108.93 L146.52 108.02 L146.73 107.2 L146.91 106.49 L147.24 105.84 L147.62 105.18 L148.17 104.48 L149.01 104.03 L149.93 104.42 L150.87 104.4 L151.5 105.04 L151.97 105.72 L152.2 106.46Z" stroke="none" stroke-width="0" fill="#f0e040"/>
<path d="M128.42 98.43h0.9v0.9h-0.9zM129.31 94.97h0.9v0.9h-0.9zM129.99 95.82h0.9v0.9h-0.9zM130.12 97.44h0.9v0.9h-0.9zM129.11 95.25h0.9v0.9h-0.9zM128.7 94.7h0.9v0.9h-0.9z" stroke="none" stroke-width="0" fill="#f0c040"/>
<path d="M130.36 96.6 L130.28 97.06 L129.95 97.4 L129.56 97.59 L129.24 97.78 L128.91 98.08 L128.47 98.21 L128.03 98.07 L127.71 97.74 L127.34 97.47 L127.26 97.02 L127.41 96.6 L127.33 96.2 L127.34 95.73 L127.58 95.31 L128.02 95.11 L128.48 95.05 L128.91 95.13 L129.24 95.43 L129.55 95.62 L129.86 95.85 L130.27 96.14Z" stroke="none" stroke-width="0" fill="#f0c040"/>
<path d="M136.15 90.44h0.9v0.9h-0.9zM134.4 87.96h0.9v0.9h-0.9zM149.12 88.86h0.9v0.9h-0.9zM154.39 80.59h0.9v0.9h-0.9zM153.06 88.87h0.9v0.9h-0.9zM145.95 70.51h0.9v0.9h-0.9zM135.05 74.17h0.9v0.9h-0.9zM134.75 79.6h0.9v0.9h-0.9zM157 83.92h0.9v0.9h-0.9zM151.18 71.63h0.9v0.9h-0.9zM134.43 76.24h0.9v0.9h-0.9zM145.69 69.02h0.9v0.9h-0.9zM155.55 76.26h0.9v0.9h-0.9zM149.35 67.4h0.9v0.9h-0.9zM143.47 90.77h0.9v0.9h-0.9zM146.66 91.01h0.9v0.9h-0.9zM151.63 85.84h0.9v0.9h-0.9zM131.5 75.76h0.9v0.9h-0.9zM130.76 84.6h0.9v0.9h-0.9zM151.49 75.38h0.9v0.9h-0.9zM134.88 73.96h0.9v0.9h-0.9zM153.52 90.88h0.9v0.9h-0.9zM143.18 93.48h0.9v0.9h-0.9zM135.17 69.42h0.9v0.9h-0.9zM138.49 70.46h0.9v0.9h-0.9zM134.53 84.18h0.9v0.9h-0.9zM157 77.62h0.9v0.9h-0.9zM145.31 90.62h0.9v0.9h-0.9zM143.31 92.39h0.9v0.9h-0.9zM154.51 72.5h0.9v0.9h-0.9zM148.46 72.25h0.9v0.9h-0.9zM146.48 67.7h0.9v0.9h-0.9zM135.49 68.95h0.9v0.9h-0.9zM152.73 84.41h0.9v0.9h-0.9zM144.11 66.17h0.9v0.9h-0.9zM139.12 70.65h0.9v0.9h-0.9zM133.2 73.36h0.9v0.9h-0.9zM151.94 87.84h0.9v0.9h-0.9zM143.28 91.21h0.9v0.9h-0.9zM134.05 82.05h0.9v0.9h-0.9zM144.4 91.29h0.9v0.9h-0.9zM139.75 71.96h0.9v0.9h-0.9zM141.69 70.24h0.9v0.9h-0.9zM156.67 84.07h0.9v0.9h-0.9zM146.15 95.16h0.9v0.9h-0.9zM152.49 70.12h0.9v0.9h-0.9zM150.75 90.1h0.9v0.9h-0.9zM154.62 89.15h0.9v0.9h-0.9z" stroke="none" stroke-width="0" fill="#7fd0b9"/>
<path d="M153.65 80.8 L153.56 83.97 L152.8 87.21 L151.59 90.78 L148.3 91.83 L145.21 92.29 L142.42 90.59 L139.93 89.83 L137.63 88.48 L134.19 87.49 L132.66 84.35 L133.08 80.8 L132.83 77.3 L135.76 75.21 L137.55 73.03 L139.86 71.6 L142.25 69.73 L145.4 67.86 L148.31 69.75 L150.42 72.31 L152.18 74.83 L152.57 77.95Z" stroke="none" stroke-width="0" fill="#7fd0b9"/>
<path d="M166.66 67.35h0.9v0.9h-0.9zM167.81 71.33h0.9v0.9h-0.9zM168.18 65.45h0.9v0.9h-0.9zM162.32 82.83h0.9v0.9h-0.9zM158.04 81.91h0.9v0.9h-0.9zM162.73 82.17h0.9v0.9h-0.9zM171.67 71.77h0.9v0.9h-0.9zM167.17 68.44h0.9v0.9h-0.9zM157.23 84.65h0.9v0.9h-0.9zM169.91 76.66h0.9v0.9h-0.9zM156.86 84.92h0.9v0.9h-0.9zM170.86 73.72h0.9v0.9h-0.9zM155.56 80.18h0.9v0.9h-0.9zM171.02 72.65h0.9v0.9h-0.9zM151.71 70.95h0.9v0.9h-0.9zM149.58 77.49h0.9v0.9h-0.9zM161.97 83.35h0.9v0.9h-0.9zM165.42 79.6h0.9v0.9h-0.9zM161.35 60.89h0.9v0.9h-0.9zM162.62 80.86h0.9v0.9h-0.9zM168.63 78.37h0.9v0.9h-0.9zM151.24 72.78h0.9v0.9h-0.9zM162.76 83.33h0.9v0.9h-0.9zM157.13 60.77h0.9v0.9h-0.9zM152.65 67.82h0.9v0.9h-0.9zM169.73 77.23h0.9v0.9h-0.9zM151.14 78.91h0.9v0.9h-0.9zM170.28 76.64h0.9v0.9h-0.9zM154.36 83.07h0.9v0.9h-0.9zM166.36 64.44h0.9v0.9h-0.9zM171.28 73.72h0.9v0.9h-0.9zM148.94 74.32h0.9v0.9h-0.9zM159.14 81.79h0.9v0.9h-0.9zM164.48 63.65h0.9v0.9h-0.9zM164.73 81.2h0.9v0.9h-0.9zM153.65 67.72h0.9v0.9h-0.9zM150.62 71.2h0.9v0.9h-0.9z" stroke="none" stroke-width="0" fill="#86d3dc"/>
<path d="M168.31 72.5 L168.34 75.22 L167.34 77.74 L166.04 80.24 L163.74 81.61 L161.44 83.62 L158.65 82.96 L156.03 82.16 L154.9 79.04 L152.6 77.78 L151.19 75.37 L150.93 72.5 L150.71 69.47 L151.73 66.59 L153.82 64.58 L156.71 64.49 L158.72 62.61 L161.12 63.86 L163.46 64.08 L165.8 65.06 L167.91 66.85 L169.66 69.35Z" stroke="none" stroke-width="0" fill="#86d3dc"/>
<path d="M171.52 84.51h0.9v0.9h-0.9zM162.13 74.99h0.9v0.9h-0.9zM173.4 84.12h0.9v0.9h-0.9zM156.8 78.49h0.9v0.9h-0.9zM162.4 75.29h0.9v0.9h-0.9zM170.9 75.28h0.9v0.9h-0.9zM171.45 85.28h0.9v0.9h-0.9zM155.9 83.39h0.9v0.9h-0.9zM163.16 91h0.9v0.9h-0.9zM158.45 87.58h0.9v0.9h-0.9zM156.2 76.93h0.9v0.9h-0.9zM169.83 90.96h0.9v0.9h-0.9zM164.34 74.69h0.9v0.9h-0.9zM169.18 72.83h0.9v0.9h-0.9zM158.14 89.02h0.9v0.9h-0.9zM169.14 74.73h0.9v0.9h-0.9zM156.43 89.99h0.9v0.9h-0.9zM165.85 74.11h0.9v0.9h-0.9zM164.98 91.99h0.9v0.9h-0.9zM155 87.58h0.9v0.9h-0.9zM167.88 72.31h0.9v0.9h-0.9zM168.41 72.83h0.9v0.9h-0.9zM172.68 86.22h0.9v0.9h-0.9zM174.31 80.01h0.9v0.9h-0.9zM164.54 92.36h0.9v0.9h-0.9zM159.05 76.24h0.9v0.9h-0.9zM157.58 81.48h0.9v0.9h-0.9zM156.63 86.96h0.9v0.9h-0.9zM171.74 84.07h0.9v0.9h-0.9zM173.92 80.96h0.9v0.9h-0.9zM172.88 79.06h0.9v0.9h-0.9z" stroke="none" stroke-width="0" fill="#80cce2"/>
<path d="M172.38 83 L172.47 85.63 L170.96 87.67 L170.33 90.57 L167.92 91.43 L165.68 92.24 L163.48 90.97 L161.45 90.51 L159.14 89.96 L157.49 88.07 L156.56 85.62 L155.8 83 L156.68 80.42 L157.52 77.95 L159.92 77.06 L161.53 75.68 L163.34 73.9 L165.63 74.13 L168.18 73.94 L170.45 75.28 L171.11 78.22 L171.25 80.77Z" stroke="none" stroke-width="0" fill="#80cce2"/>
<path d="M171.7 78.51h0.9v0.9h-0.9zM183.75 82.26h0.9v0.9h-0.9zM184.7 82.21h0.9v0.9h-0.9zM173.58 80.87h0.9v0.9h-0.9zM179.98 83.47h0.9v0.9h-0.9zM170.88 74.16h0.9v0.9h-0.9zM173.3 71.51h0.9v0.9h-0.9zM175.57 71.08h0.9v0.9h-0.9zM177.74 69.11h0.9v0.9h-0.9zM171.64 74.29h0.9v0.9h-0.9zM172.42 78.24h0.9v0.9h-0.9zM180.05 83.91h0.9v0.9h-0.9zM172.06 76.2h0.9v0.9h-0.9zM174.19 73.51h0.9v0.9h-0.9zM174.12 84.22h0.9v0.9h-0.9zM180.29 85.03h0.9v0.9h-0.9zM172.37 77.2h0.9v0.9h-0.9zM187.05 76.22h0.9v0.9h-0.9zM180.66 69.96h0.9v0.9h-0.9zM188.21 80.6h0.9v0.9h-0.9zM173.58 79.22h0.9v0.9h-0.9zM173.71 81.89h0.9v0.9h-0.9zM179.08 70.08h0.9v0.9h-0.9zM181.19 86.3h0.9v0.9h-0.9zM179.21 69.92h0.9v0.9h-0.9z" stroke="none" stroke-width="0" fill="#78c050"/>
<path d="M187.58 76.8 L187.23 79.01 L185.78 80.71 L184.48 82.32 L182.81 83.6 L180.78 84.33 L178.51 85.1 L176.18 84.51 L174.37 82.96 L173.64 80.69 L172.75 78.84 L172.5 76.8 L172.08 74.56 L173.45 72.79 L174.02 70.24 L176.67 70.17 L178.59 69.1 L180.7 69.81 L182.54 70.57 L184.83 70.88 L186.31 72.55 L187.41 74.54Z" stroke="none" stroke-width="0" fill="#78c050"/>
<path d="M164.95 79.56h0.9v0.9h-0.9zM162.31 81.01h0.9v0.9h-0.9zM161.78 83.38h0.9v0.9h-0.9zM163.89 80.18h0.9v0.9h-0.9zM162.17 84.34h0.9v0.9h-0.9zM162.44 84.25h0.9v0.9h-0.9zM165.01 79.6h0.9v0.9h-0.9zM161.68 82.61h0.9v0.9h-0.9z" stroke="none" stroke-width="0" fill="#b0208a"/>
<path d="M166.92 82.6 L166.74 83.32 L166.48 84 L165.88 84.42 L165.17 84.5 L164.66 85.1 L163.96 85 L163.13 85.17 L162.42 84.77 L161.92 84.13 L162.09 83.25 L162.04 82.6 L161.92 81.9 L162.43 81.4 L162.71 80.77 L163.16 80.1 L163.92 79.96 L164.68 79.94 L165.32 80.37 L165.8 80.87 L166.49 81.19 L166.77 81.87Z" stroke="none" stroke-width="0" fill="#b0208a"/>
<path d="M166.64 88.4h0.9v0.9h-0.9zM170.01 93.96h0.9v0.9h-0.9zM169.49 85.23h0.9v0.9h-0.9zM186.84 86.63h0.9v0.9h-0.9zM169.05 88.28h0.9v0.9h-0.9zM170.47 94.57h0.9v0.9h-0.9zM167.76 86.3h0.9v0.9h-0.9zM185.41 82.96h0.9v0.9h-0.9zM167.6 89.93h0.9v0.9h-0.9zM168.72 82.71h0.9v0.9h-0.9zM171.58 95.83h0.9v0.9h-0.9zM180.35 83.19h0.9v0.9h-0.9zM172.18 97.75h0.9v0.9h-0.9zM181.47 82.39h0.9v0.9h-0.9zM185.66 95.07h0.9v0.9h-0.9zM172.95 81.14h0.9v0.9h-0.9zM188.23 88.75h0.9v0.9h-0.9zM169.72 92.46h0.9v0.9h-0.9zM174.59 96.83h0.9v0.9h-0.9zM168.59 89.09h0.9v0.9h-0.9zM181.2 96.74h0.9v0.9h-0.9zM169.76 84.92h0.9v0.9h-0.9zM187.22 88.98h0.9v0.9h-0.9zM185.99 91.26h0.9v0.9h-0.9zM179.08 82.38h0.9v0.9h-0.9zM174.21 83.59h0.9v0.9h-0.9zM173.29 97.64h0.9v0.9h-0.9zM168.13 85.03h0.9v0.9h-0.9z" stroke="none" stroke-width="0" fill="#2a48b0"/>
<path d="M186.76 89.3 L186.39 91.51 L184.38 93.1 L182.72 94.58 L180.42 95.3 L178.32 96.62 L175.69 96.58 L173.05 96.22 L170.99 94.85 L169.58 93.11 L168.25 91.36 L169.4 89.3 L169.66 87.58 L170.01 85.71 L170.76 83.53 L172.71 81.78 L175.61 81.58 L178.34 81.84 L180.17 83.75 L181.86 84.81 L184.63 85.38 L185.65 87.27Z" stroke="none" stroke-width="0" fill="#2a48b0"/>
<path d="M153.3 89.89h0.9v0.9h-0.9zM157.09 100.89h0.9v0.9h-0.9zM160.11 100.21h0.9v0.9h-0.9zM149.68 92.81h0.9v0.9h-0.9zM149.15 97.7h0.9v0.9h-0.9zM160.98 98.33h0.9v0.9h-0.9zM148.38 91.98h0.9v0.9h-0.9zM148.73 98.31h0.9v0.9h-0.9zM154.52 101.02h0.9v0.9h-0.9zM160.66 92.68h0.9v0.9h-0.9zM151.77 102.71h0.9v0.9h-0.9zM156.68 90.38h0.9v0.9h-0.9zM148.86 91.18h0.9v0.9h-0.9zM147.48 96.01h0.9v0.9h-0.9zM154.75 101.95h0.9v0.9h-0.9zM153.47 90.21h0.9v0.9h-0.9zM152.02 102.75h0.9v0.9h-0.9z" stroke="none" stroke-width="0" fill="#50b0e8"/>
<path d="M160.34 95.8 L159.21 97.31 L158.44 98.56 L157.81 99.97 L156.69 101.04 L155.41 102.7 L153.68 102.02 L152.11 101.5 L151.3 99.83 L150.25 98.78 L149.72 97.33 L149.15 95.8 L149.31 94.14 L149.77 92.48 L150.49 90.75 L152.31 90.58 L153.81 90.6 L155.17 90.7 L156.62 90.74 L158.08 91.29 L159.14 92.54 L160.32 93.94Z" stroke="none" stroke-width="0" fill="#50b0e8"/>
<path d="M159.5 99.05h0.9v0.9h-0.9zM161.29 93.67h0.9v0.9h-0.9zM161.94 100.51h0.9v0.9h-0.9zM168.1 98.99h0.9v0.9h-0.9zM167.38 93.07h0.9v0.9h-0.9zM166.81 99.3h0.9v0.9h-0.9zM161.77 93.19h0.9v0.9h-0.9zM169.38 95.69h0.9v0.9h-0.9zM170.18 95.42h0.9v0.9h-0.9zM164.05 99.94h0.9v0.9h-0.9zM168.56 99.33h0.9v0.9h-0.9zM162.41 100.63h0.9v0.9h-0.9zM156.94 94.75h0.9v0.9h-0.9zM163.19 100.21h0.9v0.9h-0.9z" stroke="none" stroke-width="0" fill="#e82838"/>
<path d="M170 100.54 L168.38 100.69 L167.25 101.04 L165.57 100.71 L163.88 100.02 L162.23 99.81 L160.51 98.82 L158.55 97.77 L157.28 96.35 L157.01 95.1 L157.1 94.1 L157.92 93.57 L158.35 92.88 L158.56 91.76 L160.2 91.91 L161.86 91.96 L163.76 93.22 L165.48 94.18 L166.61 95.47 L167.77 96.62 L168.57 97.8 L169.05 98.96Z" stroke="none" stroke-width="0" fill="#e82838"/>
<path d="M163.23 106.01h0.9v0.9h-0.9zM166.77 105.89h0.9v0.9h-0.9zM163.68 106.33h0.9v0.9h-0.9zM167.32 102.18h0.9v0.9h-0.9zM167.05 101.72h0.9v0.9h-0.9zM166.27 105.6h0.9v0.9h-0.9zM167.71 104.33h0.9v0.9h-0.9zM162.74 101.64h0.9v0.9h-0.9z" stroke="none" stroke-width="0" fill="#c01830"/>
<path d="M167.53 103.8 L167.2 104.51 L166.5 104.98 L166.23 105.65 L165.48 105.96 L164.76 106.46 L163.86 106.35 L163.06 106.07 L162.19 105.83 L161.84 105.11 L161.57 104.47 L161.69 103.8 L161.58 103.13 L161.72 102.42 L162.28 101.86 L163.07 101.55 L163.9 101.5 L164.65 101.75 L165.42 101.76 L166.32 101.86 L166.85 102.43 L167.61 102.99Z" stroke="none" stroke-width="0" fill="#c01830"/>
<path d="M154.9 107.75h0.9v0.9h-0.9zM158.3 112.85h0.9v0.9h-0.9zM157.07 106.36h0.9v0.9h-0.9zM162.44 109.42h0.9v0.9h-0.9zM158.93 106.21h0.9v0.9h-0.9zM162.33 110.49h0.9v0.9h-0.9zM156.15 107.6h0.9v0.9h-0.9zM158.5 112.37h0.9v0.9h-0.9zM159.2 106.39h0.9v0.9h-0.9z" stroke="none" stroke-width="0" fill="#2848a8"/>
<path d="M161.7 109.4 L161.42 110.29 L161.5 111.39 L160.69 112.05 L159.86 112.6 L158.87 112.69 L157.99 112.25 L157.22 111.98 L156.06 112.1 L155.47 111.28 L154.71 110.48 L154.83 109.4 L155.19 108.46 L155.69 107.66 L156.36 107.05 L157.07 106.49 L157.94 106.23 L158.93 105.72 L159.84 106.24 L160.56 106.91 L161.2 107.6 L161.07 108.62Z" stroke="none" stroke-width="0" fill="#2848a8"/>
<path d="M145.92 93.04h0.9v0.9h-0.9zM145.16 92.51h0.9v0.9h-0.9zM145.66 96.57h0.9v0.9h-0.9zM147.81 94.21h0.9v0.9h-0.9zM144.13 94.13h0.9v0.9h-0.9zM147.49 95.26h0.9v0.9h-0.9zM144.36 95.49h0.9v0.9h-0.9z" stroke="none" stroke-width="0" fill="#e82838"/>
<path d="M147.63 94.6 L147.64 95.14 L147.29 95.56 L146.82 95.78 L146.46 96.05 L146.06 96.38 L145.53 96.48 L144.93 96.51 L144.59 96 L144.37 95.52 L144.09 95.1 L144.27 94.6 L144.1 94.1 L144.26 93.61 L144.45 93.04 L144.99 92.83 L145.53 92.73 L146.02 93.04 L146.5 93.06 L146.94 93.29 L147.34 93.61 L147.75 94.03Z" stroke="none" stroke-width="0" fill="#e82838"/>
<path d="M150.72 37.64h0.9v0.9h-0.9zM146.94 42.94h0.9v0.9h-0.9zM149.6 42.53h0.9v0.9h-0.9zM147.3 42.76h0.9v0.9h-0.9zM146.57 36.99h0.9v0.9h-0.9zM152.45 41.95h0.9v0.9h-0.9zM142.83 40.6h0.9v0.9h-0.9zM150.69 42.3h0.9v0.9h-0.9zM155.41 40.26h0.9v0.9h-0.9zM148.31 37.34h0.9v0.9h-0.9zM146.84 36.21h0.9v0.9h-0.9z" stroke="none" stroke-width="0" fill="#d02090"/>
<path d="M153.22 40 L153.12 40.77 L152.52 41.48 L151.64 42.11 L150.73 42.91 L149.08 42.97 L147.41 43.37 L145.98 42.77 L144.88 42.15 L143.71 41.61 L143.09 40.83 L142.85 40 L142.81 39.12 L143.62 38.36 L144.95 37.89 L146.03 37.29 L147.54 37.12 L149.01 37.32 L150.48 37.4 L152.26 37.51 L153.62 38.14 L154.19 39.06Z" stroke="none" stroke-width="0" fill="#d02090"/>
<path d="M162.27 40.4h0.9v0.9h-0.9zM162.22 36.23h0.9v0.9h-0.9zM159.2 39.95h0.9v0.9h-0.9zM161.86 36.53h0.9v0.9h-0.9zM158.27 39.91h0.9v0.9h-0.9zM158 40.09h0.9v0.9h-0.9zM160.67 40.03h0.9v0.9h-0.9zM157.4 37.38h0.9v0.9h-0.9z" stroke="none" stroke-width="0" fill="#f08a20"/>
<path d="M163.37 38.3 L163.52 38.89 L163.35 39.52 L162.64 39.94 L161.83 40.24 L160.9 40.16 L160.12 40.07 L159.35 39.98 L158.78 39.62 L157.83 39.45 L157.56 38.88 L157.29 38.3 L157.31 37.67 L158.29 37.35 L158.87 37.05 L159.35 36.62 L160.1 36.43 L160.97 36.11 L161.75 36.48 L162.68 36.62 L163.12 37.18 L163.29 37.75Z" stroke="none" stroke-width="0" fill="#f08a20"/>
<path d="M164.7 44.38h0.9v0.9h-0.9zM166.36 41.66h0.9v0.9h-0.9zM164.65 44.45h0.9v0.9h-0.9zM163.64 44.36h0.9v0.9h-0.9zM172.68 41.27h0.9v0.9h-0.9zM172.27 45.19h0.9v0.9h-0.9zM163.81 44.27h0.9v0.9h-0.9zM166.52 45.03h0.9v0.9h-0.9zM174.21 44.51h0.9v0.9h-0.9z" stroke="none" stroke-width="0" fill="#e86a10"/>
<path d="M174.49 46.99 L173.59 47.07 L172.59 46.96 L171.62 46.87 L170.4 46.54 L168.96 45.76 L167.47 44.84 L166.68 43.67 L165.67 42.67 L165.37 41.84 L165.4 41.23 L165.04 40.38 L164.97 39.55 L166.06 39.66 L167.22 39.89 L168.7 40.81 L169.95 41.63 L171.24 42.35 L172.03 43.34 L173.21 44.3 L174.42 45.47 L174.48 46.25Z" stroke="none" stroke-width="0" fill="#e86a10"/>
<path d="M142.49 35.56h0.9v0.9h-0.9zM140.73 36.2h0.9v0.9h-0.9zM140.56 35.44h0.9v0.9h-0.9zM140.56 32.58h0.9v0.9h-0.9zM142.2 35.64h0.9v0.9h-0.9zM142.34 31.7h0.9v0.9h-0.9zM142.44 36.21h0.9v0.9h-0.9z" stroke="none" stroke-width="0" fill="#f09030"/>
<path d="M142.46 34.15 L142.15 34.99 L141.72 35.5 L141.35 35.97 L141 36.3 L140.69 36.4 L140.29 36.68 L140.15 36.26 L140 35.85 L140.12 35.07 L140.47 34.2 L140.66 33.49 L140.97 32.83 L141.26 31.98 L141.68 31.11 L142.09 30.84 L142.45 30.75 L142.66 31.04 L142.62 31.76 L142.91 31.87 L142.88 32.53 L142.68 33.34Z" stroke="none" stroke-width="0" fill="#f09030"/>
<path d="M158.43 46.51h0.9v0.9h-0.9zM160.13 66.78h0.9v0.9h-0.9zM134.41 50.88h0.9v0.9h-0.9zM162.74 64.58h0.9v0.9h-0.9zM164.42 58.88h0.9v0.9h-0.9zM142.07 61.66h0.9v0.9h-0.9zM139.23 50.22h0.9v0.9h-0.9zM145.59 66.61h0.9v0.9h-0.9zM134.24 61.11h0.9v0.9h-0.9zM137.51 46.93h0.9v0.9h-0.9zM133.52 50.63h0.9v0.9h-0.9zM160.55 48.78h0.9v0.9h-0.9zM150.57 45.47h0.9v0.9h-0.9zM152.48 43.98h0.9v0.9h-0.9zM157.21 47.45h0.9v0.9h-0.9zM138.62 63.96h0.9v0.9h-0.9zM167.69 51.73h0.9v0.9h-0.9zM167.2 58.53h0.9v0.9h-0.9zM164.33 61.93h0.9v0.9h-0.9zM155.42 46.99h0.9v0.9h-0.9zM166.44 50.28h0.9v0.9h-0.9zM150.59 64.87h0.9v0.9h-0.9zM133.61 59.53h0.9v0.9h-0.9zM139.21 51.09h0.9v0.9h-0.9zM164.38 56.68h0.9v0.9h-0.9zM155.38 46.64h0.9v0.9h-0.9zM137.14 52.22h0.9v0.9h-0.9zM145.11 46.07h0.9v0.9h-0.9zM162.51 65.29h0.9v0.9h-0.9zM134.1 52.73h0.9v0.9h-0.9zM157.85 43.57h0.9v0.9h-0.9zM166 56.37h0.9v0.9h-0.9zM160.41 64.24h0.9v0.9h-0.9zM163.68 46.84h0.9v0.9h-0.9zM164.63 57.56h0.9v0.9h-0.9zM158.21 44.99h0.9v0.9h-0.9zM138.54 62.15h0.9v0.9h-0.9zM161.06 65.82h0.9v0.9h-0.9zM136.38 63.22h0.9v0.9h-0.9zM140.83 49.83h0.9v0.9h-0.9zM144.21 63.82h0.9v0.9h-0.9zM164.15 48.61h0.9v0.9h-0.9zM164.38 58.01h0.9v0.9h-0.9zM140.79 63.63h0.9v0.9h-0.9zM137.4 50.73h0.9v0.9h-0.9zM143.25 62.28h0.9v0.9h-0.9zM137.81 50.73h0.9v0.9h-0.9zM166.72 56.86h0.9v0.9h-0.9zM164.01 54.76h0.9v0.9h-0.9zM161.52 64.64h0.9v0.9h-0.9zM148.93 65.13h0.9v0.9h-0.9zM136.48 55.5h0.9v0.9h-0.9zM136.19 50.93h0.9v0.9h-0.9zM169.74 52.03h0.9v0.9h-0.9zM167.16 57.84h0.9v0.9h-0.9zM153.44 43.18h0.9v0.9h-0.9zM153.59 44.28h0.9v0.9h-0.9zM140.92 47.92h0.9v0.9h-0.9z" stroke="none" stroke-width="0" fill="#5ec4ee"/>
<path d="M168.12 55.5 L167 58.63 L164.24 61.17 L160.32 62.67 L156.51 63.55 L153.19 65.66 L148.66 66.35 L144.2 65.43 L140.3 63.73 L138.78 60.73 L137.5 58.14 L137.58 55.5 L138.39 53.03 L138.37 50.09 L140.67 47.55 L143.72 44.88 L148.83 45.43 L152.97 46.36 L156.38 47.64 L159.72 48.79 L163.34 50.21 L165.47 52.67Z" stroke="none" stroke-width="0" fill="#5ec4ee"/>
<path d="M170.93 64.78h0.9v0.9h-0.9zM152.96 66.03h0.9v0.9h-0.9zM153.84 62.44h0.9v0.9h-0.9zM164.43 68.34h0.9v0.9h-0.9zM158.49 69.19h0.9v0.9h-0.9zM159.71 59.07h0.9v0.9h-0.9zM168.41 62.58h0.9v0.9h-0.9zM168.83 61.86h0.9v0.9h-0.9zM167.52 66.74h0.9v0.9h-0.9zM151.94 61.37h0.9v0.9h-0.9zM155.03 69.19h0.9v0.9h-0.9zM152.07 67.2h0.9v0.9h-0.9zM168.78 66.71h0.9v0.9h-0.9zM167.28 61.61h0.9v0.9h-0.9zM160.67 68.8h0.9v0.9h-0.9zM164.97 68.67h0.9v0.9h-0.9zM158.85 59.95h0.9v0.9h-0.9zM154.93 67.27h0.9v0.9h-0.9zM153.09 60.77h0.9v0.9h-0.9zM156.51 60.74h0.9v0.9h-0.9z" stroke="none" stroke-width="0" fill="#5ec4ee"/>
<path d="M168.95 64.5 L168.31 65.84 L167.24 67.01 L166.9 68.75 L164.84 69.76 L162.16 69.53 L159.97 68.98 L158.14 68.41 L156.15 68 L153.96 67.33 L152.73 66.02 L151.67 64.5 L153.22 63.07 L154.5 61.89 L155.89 60.82 L157.88 60.23 L159.93 59.86 L162.21 59.25 L164.5 59.71 L166.24 60.72 L167.77 61.78 L167.65 63.28Z" stroke="none" stroke-width="0" fill="#5ec4ee"/>
<path d="M152.19 49.15h0.9v0.9h-0.9zM150.11 51.1h0.9v0.9h-0.9zM155.47 53.75h0.9v0.9h-0.9zM162.01 51.28h0.9v0.9h-0.9zM149.75 49.68h0.9v0.9h-0.9zM160.99 52.01h0.9v0.9h-0.9zM154.89 48.44h0.9v0.9h-0.9zM159.53 52.33h0.9v0.9h-0.9zM159.43 53.43h0.9v0.9h-0.9zM160.84 52.69h0.9v0.9h-0.9z" stroke="none" stroke-width="0" fill="#7b3fb0"/>
<path d="M159.41 54.71 L158.53 54.84 L157.53 54.67 L156.58 54.52 L155.5 54.14 L154.35 53.38 L153.07 52.49 L152.5 51.21 L151.88 50.05 L151.83 49.07 L151.94 48.23 L152.43 47.73 L152.59 46.77 L153.38 46.35 L154.71 47.04 L155.9 47.93 L156.95 48.8 L158 49.7 L158.44 50.82 L159.11 51.85 L159.94 53.12 L160.06 54.21Z" stroke="none" stroke-width="0" fill="#7b3fb0"/>
<path d="M172.54 52.49h0.9v0.9h-0.9zM177.96 57.94h0.9v0.9h-0.9zM171.75 53.14h0.9v0.9h-0.9zM177.6 59.22h0.9v0.9h-0.9zM178.3 60.6h0.9v0.9h-0.9zM165.54 56.46h0.9v0.9h-0.9zM177.91 56.12h0.9v0.9h-0.9zM175.24 62.65h0.9v0.9h-0.9zM170.84 50.99h0.9v0.9h-0.9zM174.58 62.56h0.9v0.9h-0.9zM172.64 52.82h0.9v0.9h-0.9zM178.76 57.61h0.9v0.9h-0.9zM167.02 53.9h0.9v0.9h-0.9zM173.74 52.48h0.9v0.9h-0.9zM167.68 64.82h0.9v0.9h-0.9zM177.75 62.59h0.9v0.9h-0.9zM178.61 60.94h0.9v0.9h-0.9zM164.63 62.46h0.9v0.9h-0.9zM178.48 60.66h0.9v0.9h-0.9z" stroke="none" stroke-width="0" fill="#3545a8"/>
<path d="M179.14 58.3 L178.38 60.02 L176.88 61.25 L175.37 62.11 L174.13 63.21 L172.47 64.08 L170.46 64.48 L168.62 63.68 L167.29 62.45 L165.9 61.37 L165.39 59.83 L165.28 58.3 L164.23 56.48 L165.6 55.07 L166.63 53.5 L168.78 53.22 L170.52 52.46 L172.45 52.69 L174.02 53.6 L176.16 53.72 L177.94 54.77 L178.35 56.58Z" stroke="none" stroke-width="0" fill="#3545a8"/>
<path d="M138.47 62.26h0.9v0.9h-0.9zM142.8 56.96h0.9v0.9h-0.9zM138.69 55.43h0.9v0.9h-0.9zM136.58 60.13h0.9v0.9h-0.9zM142.75 56.78h0.9v0.9h-0.9zM142.94 56.63h0.9v0.9h-0.9zM141.11 54.74h0.9v0.9h-0.9zM142.09 62.95h0.9v0.9h-0.9zM143.74 58.89h0.9v0.9h-0.9zM143.41 59.48h0.9v0.9h-0.9z" stroke="none" stroke-width="0" fill="#8cc63e"/>
<path d="M143.44 59 L144.1 60.12 L143.32 60.94 L142.83 61.92 L141.63 61.92 L140.73 62 L139.83 62.28 L139.01 61.82 L137.99 61.66 L136.88 61.2 L136.55 60.1 L136.51 59 L136.84 57.99 L137.87 57.44 L138.26 56.64 L138.75 55.61 L139.75 55.16 L140.8 55.52 L141.81 55.69 L142.4 56.58 L142.95 57.29 L143.16 58.16Z" stroke="none" stroke-width="0" fill="#8cc63e"/>
<path d="M149.5 64.99h0.9v0.9h-0.9zM143.23 67.91h0.9v0.9h-0.9zM147.72 66.7h0.9v0.9h-0.9zM147.4 66.86h0.9v0.9h-0.9zM146.75 67.63h0.9v0.9h-0.9zM147.48 67.34h0.9v0.9h-0.9zM141.85 64.49h0.9v0.9h-0.9zM142.72 67.06h0.9v0.9h-0.9zM148.07 63.02h0.9v0.9h-0.9z" stroke="none" stroke-width="0" fill="#f04a20"/>
<path d="M149.1 64.5 L148.83 65.46 L148.09 66.2 L147.05 66.53 L146.24 66.83 L145.45 67.18 L144.53 67.29 L143.55 67.22 L142.51 66.96 L142.01 66.15 L141.75 65.32 L141.89 64.5 L142.18 63.79 L141.98 62.83 L142.5 62.03 L143.4 61.5 L144.47 61.34 L145.51 61.48 L146.47 61.75 L147.25 62.27 L147.97 62.87 L148.44 63.63Z" stroke="none" stroke-width="0" fill="#f04a20"/>
<path d="M142.52 56.3h0.9v0.9h-0.9zM145.12 54.29h0.9v0.9h-0.9zM141.9 55.83h0.9v0.9h-0.9zM144.76 56.43h0.9v0.9h-0.9zM145.32 54.67h0.9v0.9h-0.9zM144.85 53.82h0.9v0.9h-0.9zM141.89 53.42h0.9v0.9h-0.9z" stroke="none" stroke-width="0" fill="#f04020"/>
<path d="M145.16 54.6 L145.02 55.1 L144.9 55.63 L144.45 55.93 L144.04 56.21 L143.52 56.16 L143.03 56.5 L142.51 56.32 L142 56.1 L141.75 55.6 L141.72 55.06 L141.51 54.6 L141.84 54.17 L141.71 53.58 L141.96 53.05 L142.49 52.82 L143.03 52.71 L143.57 52.72 L143.95 53.18 L144.41 53.31 L144.85 53.6 L145.08 54.08Z" stroke="none" stroke-width="0" fill="#f04020"/>
<path d="M137.96 64.6h0.9v0.9h-0.9zM136.4 66.56h0.9v0.9h-0.9zM137.61 64.86h0.9v0.9h-0.9zM137.04 65.1h0.9v0.9h-0.9zM138.74 69.66h0.9v0.9h-0.9zM138.19 70.01h0.9v0.9h-0.9zM136.32 67.47h0.9v0.9h-0.9z" stroke="none" stroke-width="0" fill="#8040b0"/>
<path d="M140.17 67 L139.91 67.59 L139.69 68.1 L139.62 68.88 L139.18 69.27 L138.68 69.59 L138.12 69.57 L137.6 69.34 L137.35 68.62 L137.11 68.1 L136.68 67.68 L136.59 67 L136.5 66.26 L136.67 65.51 L137.09 64.99 L137.63 64.75 L138.19 65.02 L138.63 64.86 L139.18 64.72 L139.72 64.98 L139.95 65.67 L140.12 66.33Z" stroke="none" stroke-width="0" fill="#8040b0"/>
<path d="M117.99 65.79h0.9v0.9h-0.9zM116.65 65.9h0.9v0.9h-0.9zM116.12 63.72h0.9v0.9h-0.9zM119.57 65.08h0.9v0.9h-0.9zM120.09 63.96h0.9v0.9h-0.9zM116.18 64.67h0.9v0.9h-0.9zM118.64 61.73h0.9v0.9h-0.9z" stroke="none" stroke-width="0" fill="#f0d040"/>
<path d="M119.99 64 L119.84 64.6 L119.58 65.13 L119.08 65.39 L118.67 65.62 L118.23 65.77 L117.75 65.9 L117.28 65.76 L116.78 65.57 L116.37 65.16 L116.42 64.51 L116.44 64 L116.36 63.46 L116.61 63.01 L116.82 62.49 L117.22 62.11 L117.71 61.75 L118.24 62.13 L118.73 62.24 L119.15 62.53 L119.34 63.04 L119.72 63.44Z" stroke="none" stroke-width="0" fill="#f0d040"/>
<path d="M121.53 64.54h0.9v0.9h-0.9zM119.92 67.63h0.9v0.9h-0.9zM119.29 67.15h0.9v0.9h-0.9zM120.59 64.78h0.9v0.9h-0.9zM119.28 67.62h0.9v0.9h-0.9zM121.68 64.82h0.9v0.9h-0.9zM119.5 67.82h0.9v0.9h-0.9z" stroke="none" stroke-width="0" fill="#8cc63e"/>
<path d="M122.63 66.5 L122.93 67.07 L122.7 67.59 L122.24 67.94 L121.78 68.21 L121.23 68.13 L120.79 67.98 L120.26 68.11 L119.84 67.84 L119.37 67.55 L119.12 67.05 L119 66.5 L119.25 65.99 L119.74 65.69 L119.89 65.22 L120.27 64.9 L120.73 64.63 L121.29 64.45 L121.78 64.79 L122.16 65.16 L122.51 65.53 L122.56 66.04Z" stroke="none" stroke-width="0" fill="#8cc63e"/>
<path d="M100.77 72.78h0.9v0.9h-0.9zM103.33 71.26h0.9v0.9h-0.9zM102.4 71.26h0.9v0.9h-0.9zM104.29 73.11h0.9v0.9h-0.9zM100.69 72.14h0.9v0.9h-0.9zM102.68 71.45h0.9v0.9h-0.9z" stroke="none" stroke-width="0" fill="#f0e040"/>
<path d="M104.12 72.7 L104.23 73.14 L103.75 73.41 L103.4 73.61 L103.14 73.92 L102.72 74.03 L102.29 74 L101.76 74.12 L101.33 73.89 L101.12 73.48 L101.16 73.04 L100.99 72.7 L101.1 72.34 L101.14 71.93 L101.29 71.48 L101.74 71.24 L102.25 71.15 L102.71 71.43 L103.09 71.57 L103.46 71.73 L103.69 72.03 L104.24 72.25Z" stroke="none" stroke-width="0" fill="#f0e040"/>
</g>
<text x="104.2" y="57.1" font-size="4.6" fill="#111" text-anchor="middle" font-weight="normal">34</text>
<text x="115.2" y="49.8" font-size="4.6" fill="#111" text-anchor="middle" font-weight="normal">17</text>
<text x="124.5" y="46.7" font-size="4.6" fill="#111" text-anchor="middle" font-weight="normal">26</text>
<text x="130" y="38.7" font-size="4.6" fill="#111" text-anchor="middle" font-weight="normal">38</text>
<text x="125.4" y="59.3" font-size="4.6" fill="#111" text-anchor="middle" font-weight="normal">39</text>
<text x="90.8" y="55.1" font-size="4.6" fill="#111" text-anchor="middle" font-weight="normal">16</text>
<text x="90" y="67.2" font-size="4.6" fill="#111" text-anchor="middle" font-weight="normal">42</text>
<text x="98.5" y="72.7" font-size="4.6" fill="#111" text-anchor="middle" font-weight="normal">27</text>
<text x="113.5" y="79.7" font-size="4.6" fill="#111" text-anchor="middle" font-weight="normal">30</text>
<text x="94" y="85.2" font-size="4.6" fill="#111" text-anchor="middle" font-weight="normal">3</text>
<text x="100.7" y="83.3" font-size="4.6" fill="#111" text-anchor="middle" font-weight="normal">9</text>
<text x="104.8" y="94" font-size="4.6" fill="#111" text-anchor="middle" font-weight="normal">13</text>
<text x="97.6" y="101.7" font-size="4.6" fill="#111" text-anchor="middle" font-weight="normal">2</text>
<text x="111.4" y="102.5" font-size="4.6" fill="#111" text-anchor="middle" font-weight="normal">11</text>
<text x="119.7" y="109" font-size="4.6" fill="#111" text-anchor="middle" font-weight="normal">15</text>
<text x="121" y="96.5" font-size="4.6" fill="#111" text-anchor="middle" font-weight="normal">28</text>
<text x="122.1" y="86.4" font-size="4.6" fill="#111" text-anchor="middle" font-weight="normal">7</text>
<text x="129.9" y="87.6" font-size="4.6" fill="#111" text-anchor="middle" font-weight="normal">14</text>
<text x="136.6" y="96.3" font-size="4.6" fill="#111" text-anchor="middle" font-weight="normal">8</text>
<text x="136" y="103" font-size="4.6" fill="#111" text-anchor="middle" font-weight="normal">10</text>
<text x="139" y="113.5" font-size="4.6" fill="#111" text-anchor="middle" font-weight="normal">6</text>
<text x="142" y="81.2" font-size="4.6" fill="#111" text-anchor="middle" font-weight="normal">21</text>
<text x="156.3" y="75.7" font-size="4.6" fill="#111" text-anchor="middle" font-weight="normal">23</text>
<text x="165" y="79.2" font-size="4.6" fill="#111" text-anchor="middle" font-weight="normal">22</text>
<text x="180.2" y="78.1" font-size="4.6" fill="#111" text-anchor="middle" font-weight="normal">18</text>
<text x="163.7" y="84.9" font-size="4.6" fill="#111" text-anchor="middle" font-weight="normal">29</text>
<text x="177.5" y="90.7" font-size="4.6" fill="#111" text-anchor="middle" font-weight="normal">35</text>
<text x="154.5" y="97.5" font-size="4.6" fill="#111" text-anchor="middle" font-weight="normal">25</text>
<text x="163" y="98.2" font-size="4.6" fill="#111" text-anchor="middle" font-weight="normal">31</text>
<text x="164.3" y="105.5" font-size="4.6" fill="#111" text-anchor="middle" font-weight="normal">43</text>
<text x="158.4" y="111.1" font-size="4.6" fill="#111" text-anchor="middle" font-weight="normal">33</text>
<text x="148.3" y="41.7" font-size="4.6" fill="#111" text-anchor="middle" font-weight="normal">40</text>
<text x="160.5" y="40" font-size="4.6" fill="#111" text-anchor="middle" font-weight="normal">5</text>
<text x="169.5" y="45.2" font-size="4.6" fill="#111" text-anchor="middle" font-weight="normal">4</text>
<text x="148.3" y="57.4" font-size="4.6" fill="#111" text-anchor="middle" font-weight="normal">24</text>
<text x="155.7" y="52.7" font-size="4.6" fill="#111" text-anchor="middle" font-weight="normal">37</text>
<text x="171.5" y="60.2" font-size="4.6" fill="#111" text-anchor="middle" font-weight="normal">32</text>
<text x="140.3" y="60.7" font-size="4.6" fill="#111" text-anchor="middle" font-weight="normal">12</text>
<text x="145" y="66.2" font-size="4.6" fill="#111" text-anchor="middle" font-weight="normal">9</text>
<text x="129.6" y="64.3" font-size="4.6" fill="#111" text-anchor="middle" font-weight="normal">20</text>
<text x="107.2" y="40.9" font-size="4.6" fill="#111" text-anchor="middle" font-weight="normal">36</text>
<text x="84.1" y="61.6" font-size="4.6" fill="#111" text-anchor="middle" font-weight="normal">44</text>
<text x="126.6" y="72.2" font-size="4.6" fill="#111" text-anchor="middle" font-weight="normal">19</text>
<text x="110.9" y="86.2" font-size="4.6" fill="#111" text-anchor="middle" font-weight="normal">1</text>
</g>
<rect x="78.5" y="27.3" width="114" height="97.1" fill="none" stroke="#666" stroke-width="0.9"/>
<line x1="76.5" y1="43.5" x2="78.5" y2="43.5" stroke="#4a4a4a" stroke-width="0.6"/>
<text x="74.1" y="45.1" font-size="5.8" fill="#4d4d4d" text-anchor="end" font-weight="normal">20</text>
<line x1="76.5" y1="59.9" x2="78.5" y2="59.9" stroke="#4a4a4a" stroke-width="0.6"/>
<text x="74.1" y="61.5" font-size="5.8" fill="#4d4d4d" text-anchor="end" font-weight="normal">10</text>
<line x1="76.5" y1="76.3" x2="78.5" y2="76.3" stroke="#4a4a4a" stroke-width="0.6"/>
<text x="74.1" y="77.9" font-size="5.8" fill="#4d4d4d" text-anchor="end" font-weight="normal">0</text>
<line x1="76.5" y1="92.7" x2="78.5" y2="92.7" stroke="#4a4a4a" stroke-width="0.6"/>
<text x="74.1" y="94.3" font-size="5.8" fill="#4d4d4d" text-anchor="end" font-weight="normal">−10</text>
<line x1="76.5" y1="109.1" x2="78.5" y2="109.1" stroke="#4a4a4a" stroke-width="0.6"/>
<text x="74.1" y="110.7" font-size="5.8" fill="#4d4d4d" text-anchor="end" font-weight="normal">−20</text>
<line x1="80.3" y1="124.4" x2="80.3" y2="126.4" stroke="#4a4a4a" stroke-width="0.6"/>
<text x="80.3" y="133.8" font-size="5.8" fill="#4d4d4d" text-anchor="middle" font-weight="normal">−30</text>
<line x1="98.5" y1="124.4" x2="98.5" y2="126.4" stroke="#4a4a4a" stroke-width="0.6"/>
<text x="98.5" y="133.8" font-size="5.8" fill="#4d4d4d" text-anchor="middle" font-weight="normal">−20</text>
<line x1="116.7" y1="124.4" x2="116.7" y2="126.4" stroke="#4a4a4a" stroke-width="0.6"/>
<text x="116.7" y="133.8" font-size="5.8" fill="#4d4d4d" text-anchor="middle" font-weight="normal">−10</text>
<line x1="134.9" y1="124.4" x2="134.9" y2="126.4" stroke="#4a4a4a" stroke-width="0.6"/>
<text x="134.9" y="133.8" font-size="5.8" fill="#4d4d4d" text-anchor="middle" font-weight="normal">0</text>
<line x1="153.1" y1="124.4" x2="153.1" y2="126.4" stroke="#4a4a4a" stroke-width="0.6"/>
<text x="153.1" y="133.8" font-size="5.8" fill="#4d4d4d" text-anchor="middle" font-weight="normal">10</text>
<line x1="171.3" y1="124.4" x2="171.3" y2="126.4" stroke="#4a4a4a" stroke-width="0.6"/>
<text x="171.3" y="133.8" font-size="5.8" fill="#4d4d4d" text-anchor="middle" font-weight="normal">20</text>
<line x1="189.5" y1="124.4" x2="189.5" y2="126.4" stroke="#4a4a4a" stroke-width="0.6"/>
<text x="189.5" y="133.8" font-size="5.8" fill="#4d4d4d" text-anchor="middle" font-weight="normal">30</text>
<text transform="translate(135.3 144.8) scale(0.814 1)" font-size="7.2" fill="#333" text-anchor="middle" font-weight="normal">tsne_1</text>
<text x="277.9" y="14.2" font-size="9.3" fill="#111" text-anchor="middle" font-weight="bold">CAR positive</text>
<text x="220.8" y="24.6" font-size="6.35" fill="#333" text-anchor="start" font-weight="normal">Rphenograph scatter plot</text>
<rect x="220.8" y="27.7" width="113.8" height="96.5" fill="#fff"/>
<path d="M227.6 27.7V124.2M237.1 27.7V124.2M246.6 27.7V124.2M256.1 27.7V124.2M265.6 27.7V124.2M275.1 27.7V124.2M284.6 27.7V124.2M294.1 27.7V124.2M303.6 27.7V124.2M313.1 27.7V124.2M322.6 27.7V124.2M332.1 27.7V124.2M220.8 117H334.6M220.8 108.8H334.6M220.8 100.6H334.6M220.8 92.4H334.6M220.8 84.2H334.6M220.8 76H334.6M220.8 67.8H334.6M220.8 59.6H334.6M220.8 51.4H334.6M220.8 43.2H334.6M220.8 35H334.6" stroke="#ececec" stroke-width="0.4" fill="none"/>
<clipPath id="clipA1"><rect x="220.8" y="27.7" width="113.8" height="96.5"/></clipPath>
<g clip-path="url(#clipA1)"><g filter="url(#rough)">
<path d="M244.46 63.48h0.9v0.9h-0.9zM249.2 60.59h0.9v0.9h-0.9zM249.27 58.34h0.9v0.9h-0.9zM250.15 55.06h0.9v0.9h-0.9zM238.06 49.68h0.9v0.9h-0.9zM235.33 57.16h0.9v0.9h-0.9zM246.32 62.65h0.9v0.9h-0.9zM249.12 58.46h0.9v0.9h-0.9zM250.28 55.9h0.9v0.9h-0.9zM235.16 59.64h0.9v0.9h-0.9zM238.14 59.2h0.9v0.9h-0.9zM242.54 63.64h0.9v0.9h-0.9zM250.88 57.98h0.9v0.9h-0.9zM236.87 60.38h0.9v0.9h-0.9zM238.45 61.61h0.9v0.9h-0.9zM234.46 55.22h0.9v0.9h-0.9zM249.85 50.84h0.9v0.9h-0.9zM247.19 59.62h0.9v0.9h-0.9zM250.63 52.75h0.9v0.9h-0.9zM246.36 63h0.9v0.9h-0.9zM235.26 51.4h0.9v0.9h-0.9zM248.44 50.71h0.9v0.9h-0.9zM237.24 61.54h0.9v0.9h-0.9z" stroke="none" stroke-width="0" fill="#6753b6"/>
<path d="M251.43 55.1 L250.38 56.99 L249.9 58.97 L248.03 60.15 L246.17 61.1 L244.1 61.5 L242.01 61.47 L239.95 61.06 L238 60.22 L236.26 58.93 L235.82 56.96 L236.62 55.1 L235.96 53.27 L237.03 51.7 L237.83 49.81 L239.83 48.91 L241.94 48.33 L244.05 48.97 L245.94 49.55 L247.33 50.77 L248.85 51.83 L250.1 53.28Z" stroke="none" stroke-width="0" fill="#6753b6"/>
<path d="M254.5 41.28h0.9v0.9h-0.9zM253.49 56.85h0.9v0.9h-0.9zM254.17 57.44h0.9v0.9h-0.9zM256.3 48.54h0.9v0.9h-0.9zM251.29 42.06h0.9v0.9h-0.9zM257.88 50.47h0.9v0.9h-0.9zM247.61 55.76h0.9v0.9h-0.9zM245.36 52.63h0.9v0.9h-0.9zM245.3 54.09h0.9v0.9h-0.9zM244.8 53.99h0.9v0.9h-0.9zM249.37 56.46h0.9v0.9h-0.9zM255.35 53.27h0.9v0.9h-0.9zM244.6 48.66h0.9v0.9h-0.9zM252.98 41.84h0.9v0.9h-0.9zM248.64 39.98h0.9v0.9h-0.9zM255.46 52.28h0.9v0.9h-0.9zM254.61 55.87h0.9v0.9h-0.9zM244.25 45.57h0.9v0.9h-0.9zM246.04 57.75h0.9v0.9h-0.9zM258.09 49.88h0.9v0.9h-0.9zM252.54 59.1h0.9v0.9h-0.9zM258.28 51.77h0.9v0.9h-0.9z" stroke="none" stroke-width="0" fill="#a35cc2"/>
<path d="M256.35 47.63 L256.63 49.77 L256.65 51.83 L257.35 54.56 L255.82 55.94 L253.98 56.37 L252.46 57.08 L250.73 56.56 L249.09 56.06 L247.56 55.01 L245.99 53.73 L244.39 51.99 L244.17 49.62 L244.97 47.67 L245.44 45.89 L246.09 44.15 L247.2 42.7 L248.77 41.87 L250.6 41.66 L252.46 42.47 L253.88 44.23 L254.83 46.12Z" stroke="none" stroke-width="0" fill="#a35cc2"/>
<path d="M253.32 57.49h0.9v0.9h-0.9zM255.75 48.77h0.9v0.9h-0.9zM254.01 52.37h0.9v0.9h-0.9zM253.91 60.43h0.9v0.9h-0.9zM260.33 59.97h0.9v0.9h-0.9zM256.55 49.25h0.9v0.9h-0.9zM255.46 50.28h0.9v0.9h-0.9zM256.92 62.17h0.9v0.9h-0.9zM256.25 48.86h0.9v0.9h-0.9zM260.52 55.98h0.9v0.9h-0.9zM260.05 51.85h0.9v0.9h-0.9zM260.65 52.29h0.9v0.9h-0.9zM257.01 61.52h0.9v0.9h-0.9z" stroke="none" stroke-width="0" fill="#9256bd"/>
<path d="M260.28 55.7 L259.55 57.21 L259.48 58.94 L258.9 60.41 L258.01 61.44 L256.99 62.3 L255.82 62.53 L254.82 61.43 L254.27 59.76 L253.42 58.86 L253.27 57.22 L252.75 55.7 L252.33 53.73 L252.9 51.99 L254.04 51.21 L255.03 50.72 L255.93 50.17 L256.93 49.8 L257.98 50.06 L259.16 50.5 L259.89 52.03 L260.29 53.83Z" stroke="none" stroke-width="0" fill="#9256bd"/>
<path d="M270.25 41.36h0.9v0.9h-0.9zM269.78 49h0.9v0.9h-0.9zM269.07 44.15h0.9v0.9h-0.9zM272.29 51.82h0.9v0.9h-0.9zM272.29 38.94h0.9v0.9h-0.9zM270.28 48.75h0.9v0.9h-0.9zM273.95 39.72h0.9v0.9h-0.9zM271.68 53.89h0.9v0.9h-0.9zM269.75 45.52h0.9v0.9h-0.9zM274.91 41.02h0.9v0.9h-0.9zM270.18 52.58h0.9v0.9h-0.9zM273.46 37.66h0.9v0.9h-0.9zM272.6 54.21h0.9v0.9h-0.9z" stroke="none" stroke-width="0" fill="#8d4fba"/>
<path d="M275.54 45.7 L275.08 47.45 L275.02 49.43 L274.62 51.29 L273.87 52.38 L273.06 53.44 L272.14 53.3 L271.31 52.45 L270.69 50.95 L270.21 49.37 L270.04 47.5 L269.46 45.7 L269.45 43.49 L270.16 41.95 L270.7 40.46 L271.38 39.36 L272.19 38.88 L273.02 38.56 L273.75 39.62 L274.7 39.87 L275.41 41.36 L275.54 43.63Z" stroke="none" stroke-width="0" fill="#8d4fba"/>
<path d="M261.35 49.8h0.9v0.9h-0.9zM272.72 40.82h0.9v0.9h-0.9zM259.72 39.28h0.9v0.9h-0.9zM268.75 37.73h0.9v0.9h-0.9zM262.85 37.51h0.9v0.9h-0.9zM261 50.5h0.9v0.9h-0.9zM259.36 49.76h0.9v0.9h-0.9zM257.24 43.96h0.9v0.9h-0.9zM262.83 38.26h0.9v0.9h-0.9zM268.3 49.99h0.9v0.9h-0.9zM257.97 49.05h0.9v0.9h-0.9zM265.65 39h0.9v0.9h-0.9zM265.56 50.99h0.9v0.9h-0.9zM268.38 51.61h0.9v0.9h-0.9zM269.54 48.29h0.9v0.9h-0.9zM255.56 42.06h0.9v0.9h-0.9zM268.16 38.32h0.9v0.9h-0.9zM259.72 51.88h0.9v0.9h-0.9zM263.52 37.8h0.9v0.9h-0.9zM255.05 41.52h0.9v0.9h-0.9zM274.18 44.56h0.9v0.9h-0.9zM269.49 49.5h0.9v0.9h-0.9zM258.18 47.99h0.9v0.9h-0.9z" stroke="none" stroke-width="0" fill="#3f8fda"/>
<path d="M270.75 44.7 L271.88 46.56 L271.06 48.34 L269.88 50.1 L267.72 51.02 L265.48 51.84 L263.16 50.95 L261.04 50.51 L259.09 49.63 L257.47 48.31 L255.6 46.81 L255.73 44.7 L256.51 42.81 L257.38 41.04 L259.5 40.15 L261.38 39.49 L263.13 38.26 L265.4 38.02 L267.56 38.66 L270.05 39.14 L270.87 41.16 L271.91 42.83Z" stroke="none" stroke-width="0" fill="#3f8fda"/>
<path d="M258.3 35.56h0.9v0.9h-0.9zM267.82 41.96h0.9v0.9h-0.9zM258.91 35.93h0.9v0.9h-0.9zM274.84 31.51h0.9v0.9h-0.9zM276.84 40.9h0.9v0.9h-0.9zM279.31 38.2h0.9v0.9h-0.9zM278.87 35.15h0.9v0.9h-0.9zM266.64 31.21h0.9v0.9h-0.9zM276.76 41.91h0.9v0.9h-0.9zM277.67 39.42h0.9v0.9h-0.9zM262.51 34.64h0.9v0.9h-0.9zM279.53 35.75h0.9v0.9h-0.9zM261.74 31.94h0.9v0.9h-0.9zM279.49 41.41h0.9v0.9h-0.9zM280.19 38.49h0.9v0.9h-0.9zM263.21 31.2h0.9v0.9h-0.9zM262.45 42.36h0.9v0.9h-0.9zM264.12 32.35h0.9v0.9h-0.9zM274.33 41.52h0.9v0.9h-0.9zM263.73 41.07h0.9v0.9h-0.9zM262.09 41.73h0.9v0.9h-0.9zM262.46 41.33h0.9v0.9h-0.9zM278.31 38.18h0.9v0.9h-0.9z" stroke="none" stroke-width="0" fill="#9d4db5"/>
<path d="M279.22 37 L278.03 38.36 L277.14 39.64 L276.22 41.13 L274.14 42.23 L271.37 42.52 L268.65 42.32 L266.52 41.36 L264.2 40.84 L261.95 39.97 L260.15 38.66 L259.36 37 L260.16 35.34 L262.34 34.18 L263.83 32.92 L266.58 32.72 L268.64 31.61 L271.33 31.62 L274.28 31.59 L276.66 32.57 L278.38 33.9 L278.38 35.58Z" stroke="none" stroke-width="0" fill="#9d4db5"/>
<path d="M256.24 48.19h0.9v0.9h-0.9zM257.58 54.56h0.9v0.9h-0.9zM256.32 51.99h0.9v0.9h-0.9zM257.18 53.99h0.9v0.9h-0.9zM259.61 46.66h0.9v0.9h-0.9zM263.68 55.06h0.9v0.9h-0.9zM264.87 53.57h0.9v0.9h-0.9zM260.81 46.44h0.9v0.9h-0.9zM257.95 47.43h0.9v0.9h-0.9zM263.47 47.84h0.9v0.9h-0.9zM263.29 53.29h0.9v0.9h-0.9zM259.81 46.53h0.9v0.9h-0.9z" stroke="none" stroke-width="0" fill="#a35cc2"/>
<path d="M265.47 50.7 L264.88 52.06 L264.09 53.12 L263.12 53.85 L262.25 54.61 L261.13 54.75 L259.92 55.7 L258.75 55.03 L257.54 54.49 L257.21 53.04 L256.61 51.96 L257.13 50.7 L256.35 49.36 L257.17 48.33 L257.61 46.99 L258.74 46.34 L259.94 45.85 L261.17 46.37 L262.32 46.62 L263.39 47.22 L264.14 48.24 L264.67 49.41Z" stroke="none" stroke-width="0" fill="#a35cc2"/>
<path d="M268.9 62.87h0.9v0.9h-0.9zM270.9 55.22h0.9v0.9h-0.9zM261.86 62.82h0.9v0.9h-0.9zM262.4 52.48h0.9v0.9h-0.9zM263.49 52.01h0.9v0.9h-0.9zM269.7 58.22h0.9v0.9h-0.9zM259.13 57.82h0.9v0.9h-0.9zM266 63.4h0.9v0.9h-0.9zM263.41 51.86h0.9v0.9h-0.9zM259.39 56.36h0.9v0.9h-0.9zM261.09 60.45h0.9v0.9h-0.9zM263.04 50.76h0.9v0.9h-0.9zM267.55 64.05h0.9v0.9h-0.9zM261.55 51.14h0.9v0.9h-0.9zM266.24 50.98h0.9v0.9h-0.9zM264.08 51.49h0.9v0.9h-0.9z" stroke="none" stroke-width="0" fill="#7b4fb8"/>
<path d="M269.62 57.3 L269.61 58.8 L269.4 60.42 L268.96 62.3 L267.61 63.4 L266.04 64.14 L264.38 63.73 L262.95 62.91 L262 61.52 L260.97 60.41 L260.15 59 L259.84 57.3 L259.47 55.37 L260.53 53.86 L262.09 53.2 L263.3 52.56 L264.53 52.12 L265.94 51.22 L267.51 51.44 L268.72 52.6 L269.99 53.75 L270.2 55.61Z" stroke="none" stroke-width="0" fill="#7b4fb8"/>
<path d="M228.86 54.98h0.9v0.9h-0.9zM230.78 53.02h0.9v0.9h-0.9zM229.24 55.1h0.9v0.9h-0.9zM230.33 51.18h0.9v0.9h-0.9zM227.25 54.37h0.9v0.9h-0.9zM230.48 54.35h0.9v0.9h-0.9zM230.41 51.48h0.9v0.9h-0.9z" stroke="none" stroke-width="0" fill="#3a9a3a"/>
<path d="M231.03 53.1 L230.78 53.58 L230.52 54 L230.29 54.46 L229.91 54.87 L229.33 54.9 L228.76 55.12 L228.18 54.95 L227.83 54.46 L227.61 54 L227.45 53.55 L227.24 53.1 L227.15 52.56 L227.31 52.02 L227.83 51.74 L228.21 51.31 L228.82 51.51 L229.31 51.46 L229.76 51.64 L230.35 51.68 L230.65 52.12 L230.96 52.57Z" stroke="none" stroke-width="0" fill="#3a9a3a"/>
<path d="M226.39 66.39h0.8v0.8h-0.8zM226.5 65.03h0.8v0.8h-0.8zM224.08 65.11h0.8v0.8h-0.8zM225.11 62.03h0.8v0.8h-0.8zM231.65 64.04h0.8v0.8h-0.8zM224.26 65.61h0.8v0.8h-0.8zM231.05 62.87h0.8v0.8h-0.8zM226.42 61.99h0.8v0.8h-0.8z" stroke="none" stroke-width="0" fill="#d8185a" fill-opacity="0.8"/>
<path d="M230.1 71.7h0.8v0.8h-0.8zM231.86 75.35h0.8v0.8h-0.8zM228.26 73.37h0.8v0.8h-0.8zM239.57 74.53h0.8v0.8h-0.8zM244.32 69.53h0.8v0.8h-0.8zM234.3 64.91h0.8v0.8h-0.8zM236.93 66.16h0.8v0.8h-0.8zM245.61 70.31h0.8v0.8h-0.8zM233.35 73.33h0.8v0.8h-0.8zM242.71 78.24h0.8v0.8h-0.8zM242.66 69.28h0.8v0.8h-0.8zM229.05 71h0.8v0.8h-0.8zM233.27 69.57h0.8v0.8h-0.8zM244.3 69.03h0.8v0.8h-0.8zM235.67 65.68h0.8v0.8h-0.8zM229.42 74.75h0.8v0.8h-0.8zM240.51 77.75h0.8v0.8h-0.8zM232.75 66.99h0.8v0.8h-0.8zM236.44 75.51h0.8v0.8h-0.8zM240.62 73.89h0.8v0.8h-0.8zM240.58 77.34h0.8v0.8h-0.8zM229.54 69.37h0.8v0.8h-0.8z" stroke="none" stroke-width="0" fill="#3a6cc8" fill-opacity="0.8"/>
<path d="M238.49 84.61h0.8v0.8h-0.8zM262.08 80.97h0.8v0.8h-0.8zM261.16 87.16h0.8v0.8h-0.8zM240.6 73.74h0.8v0.8h-0.8zM242.59 82.62h0.8v0.8h-0.8zM249.62 83.86h0.8v0.8h-0.8zM256.36 89.82h0.8v0.8h-0.8zM247.34 77.08h0.8v0.8h-0.8zM253.83 76.96h0.8v0.8h-0.8zM260.21 86.94h0.8v0.8h-0.8zM246.15 89.36h0.8v0.8h-0.8zM247.42 67.55h0.8v0.8h-0.8zM254.77 68.33h0.8v0.8h-0.8zM247.34 69.8h0.8v0.8h-0.8zM255.48 82.35h0.8v0.8h-0.8zM256.93 89.05h0.8v0.8h-0.8zM250.16 91.2h0.8v0.8h-0.8zM244.15 65.68h0.8v0.8h-0.8zM262.02 92.05h0.8v0.8h-0.8zM268.23 79.32h0.8v0.8h-0.8zM262.44 78.26h0.8v0.8h-0.8zM255.86 68.18h0.8v0.8h-0.8zM237.71 73.49h0.8v0.8h-0.8zM260.91 76h0.8v0.8h-0.8zM255.32 94.47h0.8v0.8h-0.8zM238.74 70.77h0.8v0.8h-0.8zM255.06 93.93h0.8v0.8h-0.8zM255.74 84.44h0.8v0.8h-0.8zM248.34 94.4h0.8v0.8h-0.8zM243.69 86.21h0.8v0.8h-0.8zM251.11 83.51h0.8v0.8h-0.8zM241.07 83.3h0.8v0.8h-0.8zM244.89 91.17h0.8v0.8h-0.8zM246.08 94.16h0.8v0.8h-0.8zM263.1 72.53h0.8v0.8h-0.8zM262.43 86.45h0.8v0.8h-0.8zM242.33 70.17h0.8v0.8h-0.8zM239.35 85.46h0.8v0.8h-0.8zM266.45 78.91h0.8v0.8h-0.8zM265.24 82.49h0.8v0.8h-0.8zM243.28 70.81h0.8v0.8h-0.8zM255.83 77.79h0.8v0.8h-0.8zM266.57 80.69h0.8v0.8h-0.8zM257.31 82.75h0.8v0.8h-0.8zM256.42 70.29h0.8v0.8h-0.8zM263.52 69.47h0.8v0.8h-0.8zM246.93 70.9h0.8v0.8h-0.8zM266.8 87.15h0.8v0.8h-0.8zM263.41 67.9h0.8v0.8h-0.8zM243.26 78.72h0.8v0.8h-0.8zM244.6 71.64h0.8v0.8h-0.8zM254.27 84.3h0.8v0.8h-0.8zM246.77 82.62h0.8v0.8h-0.8zM250.35 95.16h0.8v0.8h-0.8zM266.83 73.01h0.8v0.8h-0.8zM237.47 78.1h0.8v0.8h-0.8zM259.12 90.17h0.8v0.8h-0.8zM267.13 76.89h0.8v0.8h-0.8zM265.63 78.09h0.8v0.8h-0.8zM251.43 81.4h0.8v0.8h-0.8z" stroke="none" stroke-width="0" fill="#2c55b5" fill-opacity="0.8"/>
<path d="M254.05 94.66h0.8v0.8h-0.8zM249.57 87.22h0.8v0.8h-0.8zM256.04 84.52h0.8v0.8h-0.8zM258.9 93.41h0.8v0.8h-0.8zM253.95 87.5h0.8v0.8h-0.8zM252.95 82.47h0.8v0.8h-0.8zM255.02 85.62h0.8v0.8h-0.8zM254.01 94.22h0.8v0.8h-0.8zM252.91 84.52h0.8v0.8h-0.8zM258.51 87.43h0.8v0.8h-0.8zM256.78 86.54h0.8v0.8h-0.8zM248.33 90.09h0.8v0.8h-0.8zM252.82 82.36h0.8v0.8h-0.8zM258.85 84.42h0.8v0.8h-0.8z" stroke="none" stroke-width="0" fill="#2c55b5" fill-opacity="0.8"/>
<path d="M240.86 98.36h0.8v0.8h-0.8zM240.5 98.58h0.8v0.8h-0.8zM244.42 99.09h0.8v0.8h-0.8zM243.51 102.17h0.8v0.8h-0.8zM244.78 99.47h0.8v0.8h-0.8zM241.45 97.87h0.8v0.8h-0.8zM248.37 98.82h0.8v0.8h-0.8z" stroke="none" stroke-width="0" fill="#a8d848" fill-opacity="0.8"/>
<path d="M229.62 79.63h0.8v0.8h-0.8zM228.1 82.15h0.8v0.8h-0.8zM231.8 81.19h0.8v0.8h-0.8zM231.65 82.24h0.8v0.8h-0.8zM231 86.17h0.8v0.8h-0.8zM234.36 81.85h0.8v0.8h-0.8zM229.86 86.35h0.8v0.8h-0.8zM233.29 87.07h0.8v0.8h-0.8zM231.23 88.06h0.8v0.8h-0.8zM233.38 78.81h0.8v0.8h-0.8z" stroke="none" stroke-width="0" fill="#e8352a" fill-opacity="0.8"/>
<path d="M226.15 78.01h0.9v0.9h-0.9zM225.07 77.67h0.9v0.9h-0.9zM223.99 82.9h0.9v0.9h-0.9zM226.28 78.32h0.9v0.9h-0.9zM223.9 83.44h0.9v0.9h-0.9zM226.81 79.52h0.9v0.9h-0.9zM225.65 77.01h0.9v0.9h-0.9z" stroke="none" stroke-width="0" fill="#e8307a"/>
<path d="M226.45 80.7 L226.42 81.61 L226.33 82.55 L226.09 83.38 L225.73 83.93 L225.3 84.09 L224.89 84.08 L224.57 83.37 L224.21 83.08 L223.9 82.49 L223.59 81.73 L223.62 80.7 L223.61 79.69 L223.84 78.82 L224.15 78.16 L224.55 77.91 L224.9 77.56 L225.32 76.99 L225.78 77.19 L226.05 78.13 L226.21 79.04 L226.43 79.79Z" stroke="none" stroke-width="0" fill="#e8307a"/>
<path d="M236.54 84.14h0.8v0.8h-0.8zM234.71 79.18h0.8v0.8h-0.8zM241.34 83.37h0.8v0.8h-0.8zM243.8 82.32h0.8v0.8h-0.8zM243.8 83.82h0.8v0.8h-0.8zM236.4 78.69h0.8v0.8h-0.8zM238.84 86.6h0.8v0.8h-0.8zM242.51 84.17h0.8v0.8h-0.8zM241.51 77.23h0.8v0.8h-0.8zM241.12 81.88h0.8v0.8h-0.8zM238.37 86.07h0.8v0.8h-0.8z" stroke="none" stroke-width="0" fill="#e6df3e" fill-opacity="0.8"/>
<path d="M248.87 97.2h0.8v0.8h-0.8zM248.32 88.51h0.8v0.8h-0.8zM248.32 88.09h0.8v0.8h-0.8zM246.45 95.77h0.8v0.8h-0.8zM249.01 92.7h0.8v0.8h-0.8zM248.84 91.7h0.8v0.8h-0.8zM241.17 88.39h0.8v0.8h-0.8zM241.53 88.38h0.8v0.8h-0.8zM248.14 89.67h0.8v0.8h-0.8zM243.04 96.57h0.8v0.8h-0.8zM247.84 93.83h0.8v0.8h-0.8zM243.32 87.55h0.8v0.8h-0.8zM239.95 93.11h0.8v0.8h-0.8zM247.13 86.11h0.8v0.8h-0.8zM243.38 92.16h0.8v0.8h-0.8zM236.84 94.88h0.8v0.8h-0.8z" stroke="none" stroke-width="0" fill="#8cc43c" fill-opacity="0.8"/>
<path d="M234.17 97.17h0.8v0.8h-0.8zM241.51 103.46h0.8v0.8h-0.8zM241.12 102.14h0.8v0.8h-0.8zM233.63 98.13h0.8v0.8h-0.8zM229.92 101.86h0.8v0.8h-0.8zM238.13 99.67h0.8v0.8h-0.8zM239.76 100.34h0.8v0.8h-0.8zM242.75 101.64h0.8v0.8h-0.8zM239.98 101.61h0.8v0.8h-0.8zM239.21 96.23h0.8v0.8h-0.8zM236.35 101.32h0.8v0.8h-0.8zM236.75 103.28h0.8v0.8h-0.8zM238.88 96.19h0.8v0.8h-0.8zM232.67 98.62h0.8v0.8h-0.8z" stroke="none" stroke-width="0" fill="#e83a2a" fill-opacity="0.8"/>
<path d="M246.14 103.27h0.9v0.9h-0.9zM254.23 103.57h0.9v0.9h-0.9zM248.88 104.33h0.9v0.9h-0.9zM249.78 96.54h0.9v0.9h-0.9zM246.11 100.8h0.9v0.9h-0.9zM246.9 100.84h0.9v0.9h-0.9zM247.24 103.05h0.9v0.9h-0.9zM246.99 102.4h0.9v0.9h-0.9zM245.88 102h0.9v0.9h-0.9zM253.87 102.08h0.9v0.9h-0.9zM246.04 99.53h0.9v0.9h-0.9z" stroke="none" stroke-width="0" fill="#c6dc48"/>
<path d="M254.03 100.5 L254.08 101.49 L254.29 102.79 L253.4 103.63 L252.43 104.41 L251.15 104.36 L250.05 103.93 L248.97 103.85 L248.08 103.25 L247.01 102.69 L245.99 101.79 L246.07 100.5 L246.17 99.26 L247.32 98.5 L248.23 97.91 L248.99 97.2 L250 96.73 L251.22 96.14 L252.34 96.78 L253.57 97.18 L253.85 98.48 L254.2 99.48Z" stroke="none" stroke-width="0" fill="#c6dc48"/>
<path d="M261.16 115.05h0.9v0.9h-0.9zM267.48 115.92h0.9v0.9h-0.9zM269.43 113.65h0.9v0.9h-0.9zM247.25 109.78h0.9v0.9h-0.9zM263.98 116.04h0.9v0.9h-0.9zM255.2 98.9h0.9v0.9h-0.9zM249.81 99.6h0.9v0.9h-0.9zM251.83 110.9h0.9v0.9h-0.9zM250.05 100.11h0.9v0.9h-0.9zM247.54 110.1h0.9v0.9h-0.9zM252.81 114.48h0.9v0.9h-0.9zM251.17 110.31h0.9v0.9h-0.9zM269.39 111.44h0.9v0.9h-0.9zM266.33 101.61h0.9v0.9h-0.9zM267.4 101.95h0.9v0.9h-0.9zM251.73 110.85h0.9v0.9h-0.9zM270.22 107.46h0.9v0.9h-0.9zM267.65 100.21h0.9v0.9h-0.9zM267.04 114.52h0.9v0.9h-0.9zM266.44 113.96h0.9v0.9h-0.9zM259.22 97.78h0.9v0.9h-0.9zM255.15 115.14h0.9v0.9h-0.9zM257.08 114.46h0.9v0.9h-0.9zM257.76 97.86h0.9v0.9h-0.9zM263.01 115.22h0.9v0.9h-0.9zM269.41 109.44h0.9v0.9h-0.9zM249.53 101.91h0.9v0.9h-0.9zM247.15 110.97h0.9v0.9h-0.9zM264.69 113.84h0.9v0.9h-0.9zM249.72 103.49h0.9v0.9h-0.9zM255.41 117h0.9v0.9h-0.9zM248.32 106.07h0.9v0.9h-0.9zM255.54 98.26h0.9v0.9h-0.9zM246.43 106.13h0.9v0.9h-0.9zM264.76 115.11h0.9v0.9h-0.9zM250.23 100.02h0.9v0.9h-0.9zM266.82 111.3h0.9v0.9h-0.9z" stroke="none" stroke-width="0" fill="#7dc443"/>
<path d="M270.34 107 L268.74 109.53 L266.69 111.35 L265.11 113.15 L262.75 114 L260.65 115.96 L257.64 117.04 L254.56 116.29 L252.2 114.36 L251 111.8 L251.15 109.15 L250.32 107 L250.17 104.58 L251 102.2 L252.32 99.76 L254.44 97.48 L257.81 98.04 L260.52 98.88 L262.94 99.63 L265.78 100.14 L266.86 102.55 L269.32 104.31Z" stroke="none" stroke-width="0" fill="#7dc443"/>
<path d="M266.25 94.28h0.9v0.9h-0.9zM258.44 97.23h0.9v0.9h-0.9zM258.89 91.95h0.9v0.9h-0.9zM266.36 93.44h0.9v0.9h-0.9zM264.67 93.03h0.9v0.9h-0.9zM265.75 94.83h0.9v0.9h-0.9zM255.03 95.17h0.9v0.9h-0.9zM257.34 92.7h0.9v0.9h-0.9zM265 93.43h0.9v0.9h-0.9zM262.44 97h0.9v0.9h-0.9zM257.06 96.38h0.9v0.9h-0.9z" stroke="none" stroke-width="0" fill="#2a48a8"/>
<path d="M265.21 94.5 L264.9 95.23 L264.84 96.07 L264.42 97.04 L262.97 97.5 L261.31 97.4 L259.85 97.46 L258.59 97.01 L257.45 96.58 L256.14 96.14 L255.69 95.33 L254.73 94.5 L254.97 93.55 L255.84 92.74 L257.46 92.42 L258.72 92.15 L259.86 91.58 L261.41 91.21 L263.11 91.33 L264.35 92 L264.98 92.88 L265.77 93.63Z" stroke="none" stroke-width="0" fill="#2a48a8"/>
<path d="M263.45 87.66h0.9v0.9h-0.9zM263.52 81.37h0.9v0.9h-0.9zM261.6 80.75h0.9v0.9h-0.9zM261.03 81.23h0.9v0.9h-0.9zM260.74 81.5h0.9v0.9h-0.9zM262.82 87.21h0.9v0.9h-0.9zM260.76 87.08h0.9v0.9h-0.9zM260.76 80.18h0.9v0.9h-0.9zM262.93 81.82h0.9v0.9h-0.9z" stroke="none" stroke-width="0" fill="#f0c838"/>
<path d="M264.18 84.4 L264.11 85.33 L263.54 85.96 L263.5 87.12 L262.84 87.63 L262.12 87.94 L261.34 88.1 L260.66 87.57 L260.11 86.92 L259.77 86.1 L259.2 85.4 L259.22 84.4 L259.26 83.43 L259.32 82.32 L259.95 81.63 L260.7 81.37 L261.36 80.93 L262.1 81.01 L262.77 81.36 L263.41 81.81 L264.28 82.21 L264.55 83.29Z" stroke="none" stroke-width="0" fill="#f0c838"/>
<path d="M274.01 83.6h0.9v0.9h-0.9zM270.37 90.24h0.9v0.9h-0.9zM264.66 84.75h0.9v0.9h-0.9zM273.55 89.86h0.9v0.9h-0.9zM265.6 84.61h0.9v0.9h-0.9zM266.72 83.33h0.9v0.9h-0.9zM272.2 81.46h0.9v0.9h-0.9zM271.02 89.19h0.9v0.9h-0.9zM264.57 84.52h0.9v0.9h-0.9zM270.29 91.09h0.9v0.9h-0.9zM266.12 82.67h0.9v0.9h-0.9zM274.32 84.74h0.9v0.9h-0.9z" stroke="none" stroke-width="0" fill="#88c840"/>
<path d="M273.88 85.6 L273.74 86.69 L273.62 87.9 L273.23 89.3 L271.78 89.58 L270.55 90.04 L269.3 89.47 L268.18 89.16 L267.43 88.31 L266.04 87.96 L265.28 86.89 L264.63 85.6 L265.06 84.24 L266.15 83.31 L267.05 82.47 L268.3 82.28 L269.29 81.65 L270.48 81.6 L272.04 81.07 L273.16 81.97 L273.64 83.29 L274.06 84.42Z" stroke="none" stroke-width="0" fill="#88c840"/>
<path d="M270.79 71.36h0.9v0.9h-0.9zM271.85 64.03h0.9v0.9h-0.9zM271.55 65.61h0.9v0.9h-0.9zM270.44 66.1h0.9v0.9h-0.9zM271.71 70.67h0.9v0.9h-0.9zM272.36 71.4h0.9v0.9h-0.9zM270.79 66.44h0.9v0.9h-0.9zM275.41 71.35h0.9v0.9h-0.9zM273.1 72.4h0.9v0.9h-0.9z" stroke="none" stroke-width="0" fill="#f04a20"/>
<path d="M275.55 69.08 L275.08 70.23 L274.37 71.14 L273.51 71.18 L272.85 71.41 L272.23 71.49 L271.53 71.61 L270.7 71.62 L270.22 70.86 L270.2 69.68 L270.56 68.47 L271.22 67.51 L271.56 66.59 L272.01 65.59 L272.64 64.57 L273.44 64.2 L274.22 64.09 L274.77 64.65 L275.19 65.27 L275.37 66.13 L275.52 66.98 L275.88 67.91Z" stroke="none" stroke-width="0" fill="#f04a20"/>
<path d="M267.75 75.9h0.9v0.9h-0.9zM270.3 75.53h0.9v0.9h-0.9zM269.05 79.33h0.9v0.9h-0.9zM267.88 75.89h0.9v0.9h-0.9zM268.58 75.09h0.9v0.9h-0.9zM268.75 78.9h0.9v0.9h-0.9z" stroke="none" stroke-width="0" fill="#60c8f0"/>
<path d="M270.57 77.2 L270.61 77.69 L270.29 78.04 L270.11 78.47 L269.86 78.99 L269.41 79.26 L268.92 79.03 L268.54 78.74 L268.16 78.52 L267.92 78.11 L267.75 77.67 L267.65 77.2 L267.4 76.61 L267.82 76.21 L268.02 75.71 L268.56 75.71 L268.96 75.66 L269.35 75.57 L269.75 75.68 L270.29 75.69 L270.51 76.19 L270.67 76.69Z" stroke="none" stroke-width="0" fill="#60c8f0"/>
<path d="M274.62 83.64h0.8v0.8h-0.8zM276.77 81.48h0.8v0.8h-0.8zM275.17 83.8h0.8v0.8h-0.8zM276.1 80.37h0.8v0.8h-0.8zM276.29 81.1h0.8v0.8h-0.8zM275.22 78.89h0.8v0.8h-0.8z" stroke="none" stroke-width="0" fill="#e83a2a" fill-opacity="0.8"/>
<path d="M273.88 98.91h0.8v0.8h-0.8zM281.2 90.43h0.8v0.8h-0.8zM278.15 98.52h0.8v0.8h-0.8zM274.77 98.35h0.8v0.8h-0.8zM279.35 90.53h0.8v0.8h-0.8zM271.39 94.27h0.8v0.8h-0.8zM275.83 92.36h0.8v0.8h-0.8zM276.3 92.51h0.8v0.8h-0.8zM279.28 91.88h0.8v0.8h-0.8zM277.64 94.67h0.8v0.8h-0.8zM275.46 93.45h0.8v0.8h-0.8zM275.7 94.91h0.8v0.8h-0.8z" stroke="none" stroke-width="0" fill="#f0e040" fill-opacity="0.8"/>
<path d="M273.56 96.99h0.9v0.9h-0.9zM282.64 101.61h0.9v0.9h-0.9zM272.47 97.91h0.9v0.9h-0.9zM281.82 100.3h0.9v0.9h-0.9zM281.21 98.66h0.9v0.9h-0.9zM277.17 104.37h0.9v0.9h-0.9zM281.75 103.49h0.9v0.9h-0.9zM277.36 104.84h0.9v0.9h-0.9zM277.07 97.66h0.9v0.9h-0.9zM272.41 97.7h0.9v0.9h-0.9zM270.03 102.82h0.9v0.9h-0.9zM271.52 102.4h0.9v0.9h-0.9zM280.66 102.74h0.9v0.9h-0.9z" stroke="none" stroke-width="0" fill="#d8e068"/>
<path d="M281.48 101 L281.02 101.85 L281.46 103.04 L279.93 103.59 L278.89 104.52 L277.1 104.62 L275.39 104.62 L274.01 103.98 L272.57 103.59 L271.79 102.75 L270.45 102.04 L269.71 101 L270.49 99.97 L271.21 99.03 L272.8 98.57 L274.14 98.19 L275.51 97.85 L277.11 97.34 L279.04 97.28 L280.01 98.36 L280.96 99.16 L281.06 100.14Z" stroke="none" stroke-width="0" fill="#d8e068"/>
<path d="M283.4 119.08h0.9v0.9h-0.9zM270.95 108.01h0.9v0.9h-0.9zM286.12 118.55h0.9v0.9h-0.9zM282.48 120.58h0.9v0.9h-0.9zM272.68 116.79h0.9v0.9h-0.9zM284.56 102.91h0.9v0.9h-0.9zM272.73 109.76h0.9v0.9h-0.9zM275.94 120.18h0.9v0.9h-0.9zM283.44 102.4h0.9v0.9h-0.9zM272.78 109.07h0.9v0.9h-0.9zM277.88 119.69h0.9v0.9h-0.9zM284.61 117.52h0.9v0.9h-0.9zM275.99 120.25h0.9v0.9h-0.9zM270.93 113.55h0.9v0.9h-0.9zM276.76 120.51h0.9v0.9h-0.9zM272.78 109.29h0.9v0.9h-0.9zM285.63 108.19h0.9v0.9h-0.9zM279.47 118.61h0.9v0.9h-0.9zM282.24 102.05h0.9v0.9h-0.9zM270.35 113.96h0.9v0.9h-0.9zM282.34 102.09h0.9v0.9h-0.9zM287.8 108.41h0.9v0.9h-0.9zM273.91 107.42h0.9v0.9h-0.9zM281.33 121.68h0.9v0.9h-0.9zM269.58 109.65h0.9v0.9h-0.9zM281.05 121.09h0.9v0.9h-0.9zM281.92 102.43h0.9v0.9h-0.9z" stroke="none" stroke-width="0" fill="#f2a330"/>
<path d="M288.56 111.5 L286.89 113.75 L286.26 116.02 L284.46 117.49 L282.16 117.72 L280.4 118.78 L278.21 119.8 L275.97 119.12 L274.08 117.75 L273.31 115.49 L272.13 113.68 L272.78 111.5 L271.96 109.27 L272.7 107.12 L273.95 105.1 L275.84 103.57 L278.36 104.23 L280.47 103.74 L282.32 104.92 L284.46 105.51 L286.49 106.83 L288.06 108.9Z" stroke="none" stroke-width="0" fill="#f2a330"/>
<path d="M293.37 107.08h0.9v0.9h-0.9zM288.42 109.44h0.9v0.9h-0.9zM289.39 109.7h0.9v0.9h-0.9zM286.6 106.84h0.9v0.9h-0.9zM293.09 108.34h0.9v0.9h-0.9zM290.62 109.81h0.9v0.9h-0.9zM288.47 109h0.9v0.9h-0.9zM292.79 105.96h0.9v0.9h-0.9zM293.94 107.63h0.9v0.9h-0.9z" stroke="none" stroke-width="0" fill="#f0e040"/>
<path d="M293.98 106.9 L293.64 107.77 L293.15 108.52 L292.43 109.06 L291.58 109.33 L290.8 109.75 L289.91 109.56 L289.01 109.51 L288.29 109.01 L287.86 108.33 L287.3 107.7 L287.37 106.9 L287.66 106.2 L287.9 105.49 L288.31 104.8 L288.92 104.12 L289.83 103.73 L290.74 104.43 L291.56 104.52 L292.29 104.89 L292.77 105.5 L293.29 106.13Z" stroke="none" stroke-width="0" fill="#f0e040"/>
<path d="M270.27 95.42h0.9v0.9h-0.9zM267.62 97.96h0.9v0.9h-0.9zM266.79 96.85h0.9v0.9h-0.9zM268.14 94.78h0.9v0.9h-0.9zM267.69 97.29h0.9v0.9h-0.9zM267.35 97.57h0.9v0.9h-0.9z" stroke="none" stroke-width="0" fill="#f0c040"/>
<path d="M270.27 96.3 L270.12 96.72 L269.78 97.01 L269.63 97.41 L269.25 97.61 L268.86 97.82 L268.38 97.98 L267.91 97.81 L267.57 97.47 L267.26 97.14 L267.32 96.67 L267.12 96.3 L267.03 95.85 L267.33 95.5 L267.56 95.12 L267.95 94.88 L268.4 94.76 L268.84 94.91 L269.21 95.08 L269.68 95.14 L269.96 95.48 L270.18 95.86Z" stroke="none" stroke-width="0" fill="#f0c040"/>
<path d="M298.05 83.42h0.8v0.8h-0.8zM298.33 80h0.8v0.8h-0.8zM275.5 74.52h0.8v0.8h-0.8zM294.27 77.03h0.8v0.8h-0.8zM277.46 90.31h0.8v0.8h-0.8zM284.8 91.16h0.8v0.8h-0.8zM286.82 87.18h0.8v0.8h-0.8zM275.65 89.05h0.8v0.8h-0.8zM285.8 76.98h0.8v0.8h-0.8zM271.2 80.59h0.8v0.8h-0.8zM289.96 84.65h0.8v0.8h-0.8zM279.33 74.21h0.8v0.8h-0.8zM286.4 78.93h0.8v0.8h-0.8zM279.38 70.3h0.8v0.8h-0.8zM282.87 93.15h0.8v0.8h-0.8zM283.23 84.52h0.8v0.8h-0.8zM280.68 80.35h0.8v0.8h-0.8zM278.56 77.3h0.8v0.8h-0.8zM270.32 81.26h0.8v0.8h-0.8zM279.97 70.27h0.8v0.8h-0.8zM286.59 71.11h0.8v0.8h-0.8zM271.96 73.98h0.8v0.8h-0.8zM285.44 80.32h0.8v0.8h-0.8zM275.75 71.11h0.8v0.8h-0.8zM290.24 71.73h0.8v0.8h-0.8zM291.2 86.92h0.8v0.8h-0.8zM283.2 91.07h0.8v0.8h-0.8zM287.76 84.1h0.8v0.8h-0.8zM293.5 77.1h0.8v0.8h-0.8zM287.03 69.17h0.8v0.8h-0.8zM275.46 87.55h0.8v0.8h-0.8zM288.75 77.15h0.8v0.8h-0.8zM278.57 67.11h0.8v0.8h-0.8zM294.94 79.13h0.8v0.8h-0.8zM295.53 84.47h0.8v0.8h-0.8zM270.32 82.23h0.8v0.8h-0.8zM284.55 85.74h0.8v0.8h-0.8zM293.1 86.87h0.8v0.8h-0.8zM278.1 72.36h0.8v0.8h-0.8zM294.08 69.74h0.8v0.8h-0.8zM290.88 88.89h0.8v0.8h-0.8zM280.38 82.03h0.8v0.8h-0.8zM287.89 90.95h0.8v0.8h-0.8zM277.39 83.86h0.8v0.8h-0.8zM295.3 85.42h0.8v0.8h-0.8zM288.64 76.79h0.8v0.8h-0.8zM290.41 73.55h0.8v0.8h-0.8z" stroke="none" stroke-width="0" fill="#7fd0b9" fill-opacity="0.8"/>
<path d="M312.04 66.75h0.8v0.8h-0.8zM303.19 71.72h0.8v0.8h-0.8zM301.2 69.54h0.8v0.8h-0.8zM310.26 74.81h0.8v0.8h-0.8zM299.3 84.76h0.8v0.8h-0.8zM294.9 71.53h0.8v0.8h-0.8zM292.82 71.44h0.8v0.8h-0.8zM312.69 73.41h0.8v0.8h-0.8zM292.92 65.76h0.8v0.8h-0.8zM306.95 62.43h0.8v0.8h-0.8zM311.39 73.22h0.8v0.8h-0.8zM294.51 64.53h0.8v0.8h-0.8zM291.28 66.34h0.8v0.8h-0.8zM307.84 76.15h0.8v0.8h-0.8zM303.34 64.4h0.8v0.8h-0.8zM311.91 66.81h0.8v0.8h-0.8zM291.73 67.95h0.8v0.8h-0.8zM307.31 74.85h0.8v0.8h-0.8zM300.79 72.09h0.8v0.8h-0.8zM296.09 64.67h0.8v0.8h-0.8zM307.69 80.35h0.8v0.8h-0.8zM298.25 73.28h0.8v0.8h-0.8zM302.32 77.74h0.8v0.8h-0.8zM292.63 70.77h0.8v0.8h-0.8zM291.6 78.76h0.8v0.8h-0.8zM312.11 74.97h0.8v0.8h-0.8zM296.45 73.99h0.8v0.8h-0.8zM300.65 78.53h0.8v0.8h-0.8zM310.6 71.81h0.8v0.8h-0.8zM299.66 78.93h0.8v0.8h-0.8zM306.46 68.38h0.8v0.8h-0.8zM305.37 66.13h0.8v0.8h-0.8zM302.11 72.29h0.8v0.8h-0.8zM311.26 65.39h0.8v0.8h-0.8zM306.97 64.79h0.8v0.8h-0.8zM310.22 73.12h0.8v0.8h-0.8z" stroke="none" stroke-width="0" fill="#86d3dc" fill-opacity="0.8"/>
<path d="M305.93 90.6h0.8v0.8h-0.8zM309.22 79.02h0.8v0.8h-0.8zM304.88 78.75h0.8v0.8h-0.8zM309.61 83.81h0.8v0.8h-0.8zM303.42 85.47h0.8v0.8h-0.8zM305.72 75.03h0.8v0.8h-0.8zM300.94 83.03h0.8v0.8h-0.8zM304.48 81.81h0.8v0.8h-0.8zM309.18 85.92h0.8v0.8h-0.8zM302.67 92.77h0.8v0.8h-0.8zM304.88 87.89h0.8v0.8h-0.8zM305.39 82.79h0.8v0.8h-0.8zM300.62 89.79h0.8v0.8h-0.8zM297.08 77.54h0.8v0.8h-0.8zM298.31 85h0.8v0.8h-0.8zM311.32 89.13h0.8v0.8h-0.8zM312.47 76.87h0.8v0.8h-0.8zM312.47 85.45h0.8v0.8h-0.8zM306.05 80.72h0.8v0.8h-0.8zM314.19 77.4h0.8v0.8h-0.8zM299.49 75.29h0.8v0.8h-0.8zM297.24 83.15h0.8v0.8h-0.8zM296.94 83.6h0.8v0.8h-0.8zM308.26 88.74h0.8v0.8h-0.8zM303.66 91.13h0.8v0.8h-0.8zM311.35 77h0.8v0.8h-0.8zM295.87 80.83h0.8v0.8h-0.8zM309.37 87.55h0.8v0.8h-0.8zM300.64 73.96h0.8v0.8h-0.8zM300.62 81.57h0.8v0.8h-0.8z" stroke="none" stroke-width="0" fill="#80cce2" fill-opacity="0.8"/>
<path d="M324.51 70.01h0.8v0.8h-0.8zM325.57 77.1h0.8v0.8h-0.8zM324.16 71.63h0.8v0.8h-0.8zM325.88 80.02h0.8v0.8h-0.8zM322.54 73.18h0.8v0.8h-0.8zM314.8 82.27h0.8v0.8h-0.8zM316.24 80.05h0.8v0.8h-0.8zM324.97 79.11h0.8v0.8h-0.8zM321.33 81.48h0.8v0.8h-0.8zM321.8 79.81h0.8v0.8h-0.8zM321.33 84.09h0.8v0.8h-0.8zM327.64 74.48h0.8v0.8h-0.8zM317.49 76.16h0.8v0.8h-0.8zM318.09 79.34h0.8v0.8h-0.8zM319.29 79.47h0.8v0.8h-0.8zM329.77 72.02h0.8v0.8h-0.8zM322.81 78.02h0.8v0.8h-0.8zM316.19 78.51h0.8v0.8h-0.8zM325.5 73.83h0.8v0.8h-0.8zM329.13 70.49h0.8v0.8h-0.8zM312.43 75.32h0.8v0.8h-0.8zM323.39 73.02h0.8v0.8h-0.8zM329.27 70.17h0.8v0.8h-0.8zM313.39 79.85h0.8v0.8h-0.8z" stroke="none" stroke-width="0" fill="#78c050" fill-opacity="0.8"/>
<path d="M308.83 83.5h0.9v0.9h-0.9zM309.17 82.08h0.9v0.9h-0.9zM308.32 80.64h0.9v0.9h-0.9zM304.05 80.29h0.9v0.9h-0.9zM303.2 83.03h0.9v0.9h-0.9zM306.8 84.24h0.9v0.9h-0.9zM303.67 84.78h0.9v0.9h-0.9zM308.02 83.65h0.9v0.9h-0.9z" stroke="none" stroke-width="0" fill="#b0208a"/>
<path d="M308.43 82.3 L308.26 82.99 L307.86 83.57 L307.48 84.17 L307.02 84.87 L306.18 84.9 L305.4 84.95 L304.74 84.52 L304.24 84.02 L303.84 83.5 L303.38 82.98 L302.9 82.3 L302.88 81.48 L303.6 80.95 L304.09 80.41 L304.83 80.27 L305.42 79.85 L306.15 79.94 L306.91 79.96 L307.61 80.29 L308.05 80.91 L308.36 81.58Z" stroke="none" stroke-width="0" fill="#b0208a"/>
<path d="M313.69 96.53h0.8v0.8h-0.8zM319 83.67h0.8v0.8h-0.8zM314.98 92.42h0.8v0.8h-0.8zM328.36 86.32h0.8v0.8h-0.8zM314.96 86.43h0.8v0.8h-0.8zM330.32 87.38h0.8v0.8h-0.8zM322.38 92.8h0.8v0.8h-0.8zM321.15 87.41h0.8v0.8h-0.8zM311.71 89.28h0.8v0.8h-0.8zM318.24 82.53h0.8v0.8h-0.8zM313.54 91.05h0.8v0.8h-0.8zM318.37 89.49h0.8v0.8h-0.8zM327.49 92.77h0.8v0.8h-0.8zM314.29 89.29h0.8v0.8h-0.8zM310.82 85.88h0.8v0.8h-0.8zM320.13 94.55h0.8v0.8h-0.8zM314.63 92.03h0.8v0.8h-0.8zM316.96 95.91h0.8v0.8h-0.8zM327.79 94.52h0.8v0.8h-0.8zM315.95 92.23h0.8v0.8h-0.8zM317.62 85.74h0.8v0.8h-0.8zM318.15 87.9h0.8v0.8h-0.8zM322.35 86.08h0.8v0.8h-0.8zM323.5 94.87h0.8v0.8h-0.8zM314.67 83.85h0.8v0.8h-0.8zM314.39 94.4h0.8v0.8h-0.8zM321.49 82.35h0.8v0.8h-0.8zM322.93 97.03h0.8v0.8h-0.8z" stroke="none" stroke-width="0" fill="#2a48b0" fill-opacity="0.8"/>
<path d="M301.43 95.5 L301 97.17 L300.21 98.62 L298.74 99.34 L297.67 100.32 L296.22 100.26 L294.74 101.48 L293.08 101.17 L291.41 100.51 L290.67 98.79 L289.97 97.22 L290.84 95.5 L290.81 94.04 L291.02 92.45 L291.88 91.06 L293.25 90.22 L294.76 89.64 L296.39 89.46 L297.53 90.99 L298.5 91.96 L300.03 92.5 L300.58 93.96Z" stroke="none" stroke-width="0" fill="#50b0e8" fill-opacity="0.38"/>
<path d="M292.78 94.3h0.9v0.9h-0.9zM295.98 102.24h0.9v0.9h-0.9zM301.45 93.43h0.9v0.9h-0.9zM292.15 96.21h0.9v0.9h-0.9zM295.07 91h0.9v0.9h-0.9zM296.46 91.02h0.9v0.9h-0.9zM292.41 92.21h0.9v0.9h-0.9zM292.47 92.56h0.9v0.9h-0.9zM293.32 95.68h0.9v0.9h-0.9zM289.13 94.46h0.9v0.9h-0.9zM297.36 97.11h0.9v0.9h-0.9zM297.42 97.7h0.9v0.9h-0.9zM295.58 89.06h0.9v0.9h-0.9zM293.64 98.73h0.9v0.9h-0.9zM298.4 98.96h0.9v0.9h-0.9zM296.51 88.96h0.9v0.9h-0.9zM290.08 98.12h0.9v0.9h-0.9zM298 101.63h0.9v0.9h-0.9zM294.15 92.39h0.9v0.9h-0.9zM289.96 95.98h0.9v0.9h-0.9zM297.41 92.03h0.9v0.9h-0.9zM294.75 88.95h0.9v0.9h-0.9zM296.54 97.57h0.9v0.9h-0.9zM295.98 101.39h0.9v0.9h-0.9zM301.03 94.17h0.9v0.9h-0.9zM299.24 92.64h0.9v0.9h-0.9zM291.18 93.67h0.9v0.9h-0.9zM290.79 98.29h0.9v0.9h-0.9zM298.25 96.03h0.9v0.9h-0.9zM295.06 99.15h0.9v0.9h-0.9zM296.33 96.85h0.9v0.9h-0.9zM295.94 97.56h0.9v0.9h-0.9zM291.72 100.03h0.9v0.9h-0.9zM295.76 92.61h0.9v0.9h-0.9z" stroke="none" stroke-width="0" fill="#50b0e8"/>
<path d="M303.38 98.51h0.8v0.8h-0.8zM312.86 97.7h0.8v0.8h-0.8zM303.86 93.34h0.8v0.8h-0.8zM304.86 98.91h0.8v0.8h-0.8zM307.51 96.21h0.8v0.8h-0.8zM300.35 96.75h0.8v0.8h-0.8zM298.44 98.77h0.8v0.8h-0.8zM307.02 92.65h0.8v0.8h-0.8zM308.29 100.11h0.8v0.8h-0.8zM309.09 95.16h0.8v0.8h-0.8zM301.86 95.77h0.8v0.8h-0.8zM298.13 97.4h0.8v0.8h-0.8zM305.71 94.96h0.8v0.8h-0.8z" stroke="none" stroke-width="0" fill="#e82838" fill-opacity="0.8"/>
<path d="M307.88 104.88h0.8v0.8h-0.8zM305.62 104.05h0.8v0.8h-0.8zM305.58 102.68h0.8v0.8h-0.8zM307.57 101.12h0.8v0.8h-0.8zM308.25 105.61h0.8v0.8h-0.8zM303.09 102.87h0.8v0.8h-0.8zM304.29 105.25h0.8v0.8h-0.8z" stroke="none" stroke-width="0" fill="#c01830" fill-opacity="0.8"/>
<path d="M303.09 109.1 L302.72 109.97 L302.34 110.77 L301.42 111.08 L300.97 111.9 L300.08 112.09 L299.11 112.6 L298.27 111.97 L297.27 111.71 L297.11 110.65 L296.77 109.91 L296.51 109.1 L296.63 108.26 L296.8 107.36 L297.37 106.6 L298.21 106.11 L299.19 106.12 L300.06 106.26 L300.81 106.64 L301.49 107.05 L302.62 107.26 L302.99 108.16Z" stroke="none" stroke-width="0" fill="#2848a8" fill-opacity="0.38"/>
<path d="M300.25 111.79h0.9v0.9h-0.9zM295.71 109.22h0.9v0.9h-0.9zM300.11 109.87h0.9v0.9h-0.9zM297.46 112.08h0.9v0.9h-0.9zM301.39 109.58h0.9v0.9h-0.9zM300.95 112.35h0.9v0.9h-0.9zM298.44 111.33h0.9v0.9h-0.9zM295.97 108.01h0.9v0.9h-0.9zM297.32 106.75h0.9v0.9h-0.9zM298.83 110.53h0.9v0.9h-0.9zM302.13 107.62h0.9v0.9h-0.9zM297.68 107.68h0.9v0.9h-0.9zM297.11 110.73h0.9v0.9h-0.9zM298.78 107.76h0.9v0.9h-0.9zM301.74 109.76h0.9v0.9h-0.9zM301.44 108.87h0.9v0.9h-0.9zM298.91 109.62h0.9v0.9h-0.9z" stroke="none" stroke-width="0" fill="#2848a8"/>
<path d="M285.17 96.08h0.8v0.8h-0.8zM286.98 93.06h0.8v0.8h-0.8zM288.09 94.21h0.8v0.8h-0.8zM287.64 93.65h0.8v0.8h-0.8zM285.62 96.48h0.8v0.8h-0.8zM286.26 92.77h0.8v0.8h-0.8z" stroke="none" stroke-width="0" fill="#e82838" fill-opacity="0.8"/>
<path d="M290.87 36.64h0.9v0.9h-0.9zM294.13 37.33h0.9v0.9h-0.9zM289.74 43.02h0.9v0.9h-0.9zM295.09 39.21h0.9v0.9h-0.9zM283.75 42.13h0.9v0.9h-0.9zM284.08 39.28h0.9v0.9h-0.9zM284.1 38.61h0.9v0.9h-0.9zM288.03 42.5h0.9v0.9h-0.9zM283.29 38.34h0.9v0.9h-0.9zM292.7 41.7h0.9v0.9h-0.9zM283.28 38.12h0.9v0.9h-0.9zM293.67 40.73h0.9v0.9h-0.9z" stroke="none" stroke-width="0" fill="#d02090"/>
<path d="M295.25 39.7 L294.64 40.55 L294.01 41.35 L292.7 41.88 L291.13 42.03 L289.86 42.51 L288.24 42.79 L286.56 42.59 L284.99 42.17 L283.46 41.59 L283.61 40.54 L283.2 39.7 L284.4 38.98 L284.82 38.27 L285.18 37.34 L286.66 36.92 L288.14 36.24 L289.92 36.66 L291.25 37.23 L292.84 37.44 L293.76 38.13 L294.62 38.85Z" stroke="none" stroke-width="0" fill="#d02090"/>
<path d="M298.75 36.88h0.9v0.9h-0.9zM302.25 40.03h0.9v0.9h-0.9zM301.54 35.53h0.9v0.9h-0.9zM298.5 37.27h0.9v0.9h-0.9zM299.17 37.13h0.9v0.9h-0.9zM302.05 39.82h0.9v0.9h-0.9zM303.93 36.15h0.9v0.9h-0.9zM302.4 35.54h0.9v0.9h-0.9z" stroke="none" stroke-width="0" fill="#f08a20"/>
<path d="M304.64 38 L304.35 38.47 L304.35 39.04 L303.77 39.44 L303.32 40.09 L302.34 40.27 L301.4 39.91 L300.62 39.68 L299.94 39.39 L299.24 39.06 L298.84 38.56 L298.24 38 L298.73 37.42 L299.03 36.85 L299.98 36.64 L300.7 36.43 L301.45 36.31 L302.24 36.15 L303.16 36.13 L304.14 36.3 L304.42 36.94 L305.06 37.39Z" stroke="none" stroke-width="0" fill="#f08a20"/>
<path d="M313.88 45.3h0.9v0.9h-0.9zM314.07 44.61h0.9v0.9h-0.9zM305.3 43.67h0.9v0.9h-0.9zM316.27 42.67h0.9v0.9h-0.9zM315.7 41.81h0.9v0.9h-0.9zM316.28 42.94h0.9v0.9h-0.9zM304.08 43.44h0.9v0.9h-0.9zM308.13 44.91h0.9v0.9h-0.9zM312.9 45.03h0.9v0.9h-0.9zM310.05 45.01h0.9v0.9h-0.9z" stroke="none" stroke-width="0" fill="#e86a10"/>
<path d="M315.9 46.47 L314.85 46.34 L314.39 46.67 L313.54 46.75 L312.22 46.33 L310.72 45.46 L309.29 44.43 L308.27 43.32 L307.93 42.44 L306.98 41.45 L306.02 40.3 L305.88 39.46 L306.81 39.39 L307.58 39.22 L309.29 40.24 L310.42 40.69 L311.65 41.25 L312.93 42.11 L314.52 43.07 L315.18 44.12 L316.37 45.32 L316.14 45.94Z" stroke="none" stroke-width="0" fill="#e86a10"/>
<path d="M282.39 37.01h0.9v0.9h-0.9zM280.8 32.12h0.9v0.9h-0.9zM282.97 33.3h0.9v0.9h-0.9zM282.8 32.05h0.9v0.9h-0.9zM282.68 35.57h0.9v0.9h-0.9zM281.16 35.67h0.9v0.9h-0.9zM281.47 31.04h0.9v0.9h-0.9z" stroke="none" stroke-width="0" fill="#f09030"/>
<path d="M282.92 33.84 L282.58 34.52 L282.27 35.4 L281.85 35.91 L281.45 36.28 L281.12 36.32 L280.82 36.26 L280.75 35.73 L280.65 35.29 L280.65 34.69 L280.81 33.93 L280.99 33.14 L281.32 32.33 L281.72 31.66 L282.11 31.3 L282.5 30.89 L282.8 30.89 L283.04 31.01 L283.5 30.78 L283.47 31.51 L283.58 32.09 L283.26 33.03Z" stroke="none" stroke-width="0" fill="#f09030"/>
<path d="M279.34 50.1h0.9v0.9h-0.9zM298.77 64.79h0.9v0.9h-0.9zM301.62 46.23h0.9v0.9h-0.9zM284.31 44.51h0.9v0.9h-0.9zM285.74 43.87h0.9v0.9h-0.9zM309.97 53.69h0.9v0.9h-0.9zM277.63 51.17h0.9v0.9h-0.9zM306.49 53.84h0.9v0.9h-0.9zM287.54 64.88h0.9v0.9h-0.9zM283.8 61.95h0.9v0.9h-0.9zM292.82 44.91h0.9v0.9h-0.9zM299.64 64.24h0.9v0.9h-0.9zM296.4 42.59h0.9v0.9h-0.9zM277.43 49.25h0.9v0.9h-0.9zM308.63 61.08h0.9v0.9h-0.9zM309.73 50.17h0.9v0.9h-0.9zM280.23 48.26h0.9v0.9h-0.9zM281.99 65.51h0.9v0.9h-0.9zM296.62 63.26h0.9v0.9h-0.9zM310.43 56.39h0.9v0.9h-0.9zM305.89 53.58h0.9v0.9h-0.9zM277.14 63.39h0.9v0.9h-0.9zM277.09 55.97h0.9v0.9h-0.9zM296.69 42.6h0.9v0.9h-0.9zM308.74 57.14h0.9v0.9h-0.9zM277.66 60.88h0.9v0.9h-0.9zM278.97 49.21h0.9v0.9h-0.9zM275.04 58.24h0.9v0.9h-0.9zM305.58 50.07h0.9v0.9h-0.9zM307.29 47.08h0.9v0.9h-0.9zM279.96 46.22h0.9v0.9h-0.9zM300.69 46.62h0.9v0.9h-0.9zM276.77 50.57h0.9v0.9h-0.9zM305.36 63.86h0.9v0.9h-0.9zM306.9 59.32h0.9v0.9h-0.9zM273.87 57.04h0.9v0.9h-0.9zM306.36 61.65h0.9v0.9h-0.9zM309.21 57.17h0.9v0.9h-0.9zM289.68 42.56h0.9v0.9h-0.9zM310.42 57.49h0.9v0.9h-0.9zM306.89 53.66h0.9v0.9h-0.9zM309.12 49.92h0.9v0.9h-0.9zM287.27 65.32h0.9v0.9h-0.9zM283.49 43.78h0.9v0.9h-0.9zM279.71 49.43h0.9v0.9h-0.9zM303.11 61.71h0.9v0.9h-0.9zM277.24 58h0.9v0.9h-0.9zM275.92 55.32h0.9v0.9h-0.9zM304.21 58.54h0.9v0.9h-0.9zM285.03 45.85h0.9v0.9h-0.9zM307.72 47.41h0.9v0.9h-0.9zM281.23 60.94h0.9v0.9h-0.9zM306.3 46.8h0.9v0.9h-0.9zM295.04 43.11h0.9v0.9h-0.9zM307.88 55.35h0.9v0.9h-0.9zM282.97 44.31h0.9v0.9h-0.9zM276.95 57.81h0.9v0.9h-0.9zM273.29 53.82h0.9v0.9h-0.9zM300.02 63.69h0.9v0.9h-0.9zM294.04 64.36h0.9v0.9h-0.9z" stroke="none" stroke-width="0" fill="#5ec4ee"/>
<path d="M307.51 55.2 L307.82 58.18 L304.8 60.49 L302.22 62.8 L298.23 64.04 L293.87 63.9 L289.64 65.25 L285.03 64.82 L280.46 63.64 L278.25 60.81 L276.07 58.17 L277.14 55.2 L276.86 52.38 L278.3 49.62 L281.01 47.17 L285.22 45.85 L289.4 44.04 L294.28 44.67 L297.95 46.74 L301.76 47.94 L304.17 50.17 L307.99 52.18Z" stroke="none" stroke-width="0" fill="#5ec4ee"/>
<path d="M294.66 62.75h0.9v0.9h-0.9zM310.69 65.5h0.9v0.9h-0.9zM295.29 67.91h0.9v0.9h-0.9zM305.53 59.63h0.9v0.9h-0.9zM300.43 59.74h0.9v0.9h-0.9zM310.48 68.12h0.9v0.9h-0.9zM309.35 61.65h0.9v0.9h-0.9zM301.93 70.12h0.9v0.9h-0.9zM300.26 69.79h0.9v0.9h-0.9zM307.58 69.28h0.9v0.9h-0.9zM309.41 62.23h0.9v0.9h-0.9zM308.97 67.11h0.9v0.9h-0.9zM299.95 59.7h0.9v0.9h-0.9zM292.35 66.33h0.9v0.9h-0.9zM294.67 61.6h0.9v0.9h-0.9zM307.85 68.75h0.9v0.9h-0.9zM294.02 63.99h0.9v0.9h-0.9zM294.31 65.49h0.9v0.9h-0.9zM304.84 58.86h0.9v0.9h-0.9zM295.38 62.27h0.9v0.9h-0.9z" stroke="none" stroke-width="0" fill="#5ec4ee"/>
<path d="M311.47 64.2 L310.63 65.66 L308.45 66.55 L307.43 67.71 L305.74 68.65 L303.69 69.79 L301.03 69.7 L298.64 69.07 L297.07 67.85 L295.84 66.7 L294.54 65.57 L294.81 64.2 L294.67 62.85 L294.11 61.03 L296.06 59.86 L298.99 59.8 L301.13 59.12 L303.46 59.58 L305.93 59.51 L307.65 60.54 L310.51 61.06 L310.67 62.74Z" stroke="none" stroke-width="0" fill="#5ec4ee"/>
<path d="M295.73 48.28h0.9v0.9h-0.9zM293.01 52.05h0.9v0.9h-0.9zM302.29 50.21h0.9v0.9h-0.9zM292.09 50.07h0.9v0.9h-0.9zM292.78 52.65h0.9v0.9h-0.9zM301.56 49.4h0.9v0.9h-0.9zM293.86 52.46h0.9v0.9h-0.9zM294.04 48.3h0.9v0.9h-0.9zM293.7 47.94h0.9v0.9h-0.9zM301.7 51.51h0.9v0.9h-0.9z" stroke="none" stroke-width="0" fill="#7b3fb0"/>
<path d="M300.14 54.02 L299.69 54.56 L298.74 54.43 L297.86 54.58 L296.66 54.17 L295.46 53.16 L294.31 52.08 L293.78 50.83 L293.04 49.68 L293 48.73 L292.43 47.44 L292.7 46.58 L293.7 46.52 L294.58 46.37 L295.75 46.76 L296.93 48.05 L297.97 48.6 L299 49.49 L300.2 50.55 L301 51.83 L300.92 52.82 L300.89 53.74Z" stroke="none" stroke-width="0" fill="#7b3fb0"/>
<path d="M305.58 55.05h0.9v0.9h-0.9zM316.34 63.4h0.9v0.9h-0.9zM320.25 54.62h0.9v0.9h-0.9zM311.29 64.89h0.9v0.9h-0.9zM318.39 52.61h0.9v0.9h-0.9zM314.07 64.12h0.9v0.9h-0.9zM309.14 52.64h0.9v0.9h-0.9zM310.88 63.11h0.9v0.9h-0.9zM306.82 62.63h0.9v0.9h-0.9zM313.96 51.7h0.9v0.9h-0.9zM320.68 58.41h0.9v0.9h-0.9zM308.88 53.85h0.9v0.9h-0.9zM305.99 60.12h0.9v0.9h-0.9zM316.42 62.74h0.9v0.9h-0.9zM312.59 65.43h0.9v0.9h-0.9zM319.15 56.3h0.9v0.9h-0.9zM309.02 51.68h0.9v0.9h-0.9zM306.55 61.51h0.9v0.9h-0.9zM306.27 62.68h0.9v0.9h-0.9zM308.88 53.37h0.9v0.9h-0.9z" stroke="none" stroke-width="0" fill="#3545a8"/>
<path d="M321.18 58 L320.11 59.63 L318.37 60.66 L317.94 62.36 L316.21 63.19 L314.46 64.52 L312.13 64.67 L310.11 63.72 L308.8 62.25 L308.04 60.76 L307.19 59.47 L305.91 58 L306.32 56.32 L306.87 54.62 L307.96 52.95 L310.15 52.36 L312.45 53.13 L314.3 52.38 L316.18 52.86 L318.34 53.25 L319.38 54.81 L321.28 56.09Z" stroke="none" stroke-width="0" fill="#3545a8"/>
<path d="M284.19 58.47h0.9v0.9h-0.9zM276.98 57.79h0.9v0.9h-0.9zM281.2 54.76h0.9v0.9h-0.9zM282.12 55.94h0.9v0.9h-0.9zM278.12 56.21h0.9v0.9h-0.9zM281.92 63.03h0.9v0.9h-0.9zM281.16 62.56h0.9v0.9h-0.9zM283.72 56.21h0.9v0.9h-0.9zM281.49 62.49h0.9v0.9h-0.9zM281.83 61.75h0.9v0.9h-0.9z" stroke="none" stroke-width="0" fill="#8cc63e"/>
<path d="M284.58 58.7 L284.81 59.85 L284.21 60.84 L283.27 61.5 L282.09 61.55 L281.17 61.58 L280.2 62.27 L279.08 62.18 L277.95 61.78 L277.73 60.55 L276.99 59.75 L277.1 58.7 L277.29 57.73 L278.07 57.06 L278.1 55.78 L279.2 55.47 L280.17 54.94 L281.25 55.29 L282.2 55.64 L282.9 56.31 L283.84 56.79 L283.94 57.8Z" stroke="none" stroke-width="0" fill="#8cc63e"/>
<path d="M286.2 60.92h0.9v0.9h-0.9zM283.61 67.51h0.9v0.9h-0.9zM284.76 67.73h0.9v0.9h-0.9zM281.91 65.06h0.9v0.9h-0.9zM289.25 62.18h0.9v0.9h-0.9zM286.08 66.85h0.9v0.9h-0.9zM282.6 65.46h0.9v0.9h-0.9zM289.48 64.17h0.9v0.9h-0.9zM289.47 61.91h0.9v0.9h-0.9z" stroke="none" stroke-width="0" fill="#f04a20"/>
<path d="M288.96 64.2 L288.95 65 L288.89 65.91 L288.14 66.56 L287.29 67.16 L286.17 67.23 L285.13 67.16 L284.29 66.64 L283.2 66.52 L282.29 65.97 L281.71 65.15 L281.95 64.2 L281.94 63.31 L282.86 62.73 L283.48 62.15 L284.13 61.48 L285.07 60.9 L286.24 60.79 L287.41 61.02 L288.3 61.68 L288.75 62.56 L288.73 63.46Z" stroke="none" stroke-width="0" fill="#f04a20"/>
<path d="M283.22 56.45h0.9v0.9h-0.9zM285.09 55.91h0.9v0.9h-0.9zM285.53 55.21h0.9v0.9h-0.9zM282.4 53.26h0.9v0.9h-0.9zM283.14 52.66h0.9v0.9h-0.9zM285.68 54.1h0.9v0.9h-0.9zM285.77 52.97h0.9v0.9h-0.9z" stroke="none" stroke-width="0" fill="#f04020"/>
<path d="M285.79 54.3 L285.84 54.85 L285.59 55.36 L285.05 55.61 L284.56 55.75 L284.1 55.81 L283.62 55.95 L283.04 56.03 L282.55 55.75 L282.36 55.23 L282.29 54.74 L282.11 54.3 L282.11 53.8 L282.3 53.34 L282.5 52.78 L283.01 52.49 L283.58 52.35 L284.13 52.53 L284.66 52.65 L285.09 52.95 L285.39 53.37 L285.84 53.75Z" stroke="none" stroke-width="0" fill="#f04020"/>
<path d="M277.84 64.85h0.9v0.9h-0.9zM280.39 65.7h0.9v0.9h-0.9zM276.73 66.84h0.9v0.9h-0.9zM276.56 67.4h0.9v0.9h-0.9zM278.54 64.01h0.9v0.9h-0.9zM280.96 66.3h0.9v0.9h-0.9zM277.4 64.43h0.9v0.9h-0.9z" stroke="none" stroke-width="0" fill="#8040b0"/>
<path d="M280.77 66.7 L280.82 67.47 L280.54 68.17 L279.92 68.43 L279.42 68.57 L279.02 69.06 L278.5 68.92 L277.93 69.01 L277.35 68.77 L277.14 68.02 L276.99 67.36 L277.04 66.7 L277.15 66.1 L277.28 65.49 L277.46 64.8 L277.94 64.43 L278.45 64 L279.01 64.39 L279.48 64.68 L279.97 64.91 L280.09 65.6 L280.53 66.03Z" stroke="none" stroke-width="0" fill="#8040b0"/>
<path d="M257.43 61.79h0.9v0.9h-0.9zM259.02 62.05h0.9v0.9h-0.9zM258.6 65.26h0.9v0.9h-0.9zM258.82 64.74h0.9v0.9h-0.9zM258.66 65.37h0.9v0.9h-0.9zM258.01 65.62h0.9v0.9h-0.9zM259.11 63.7h0.9v0.9h-0.9z" stroke="none" stroke-width="0" fill="#f0d040"/>
<path d="M259.08 63.7 L259.11 64.22 L259.2 64.89 L258.75 65.28 L258.3 65.65 L257.73 65.74 L257.2 65.62 L256.75 65.35 L256.26 65.17 L255.85 64.8 L255.48 64.32 L255.25 63.7 L255.54 63.1 L256.03 62.72 L256.25 62.22 L256.75 62.05 L257.19 61.71 L257.74 61.57 L258.27 61.8 L258.66 62.22 L259.05 62.61 L259.13 63.18Z" stroke="none" stroke-width="0" fill="#f0d040"/>
<path d="M260.56 68.15h0.9v0.9h-0.9zM262.23 66.79h0.9v0.9h-0.9zM261.5 64.13h0.9v0.9h-0.9zM260.28 67.75h0.9v0.9h-0.9zM258.78 66.29h0.9v0.9h-0.9zM261.27 67.61h0.9v0.9h-0.9zM260.49 67.96h0.9v0.9h-0.9z" stroke="none" stroke-width="0" fill="#8cc63e"/>
<path d="M262.79 66.2 L262.48 66.73 L262.17 67.17 L261.8 67.54 L261.34 67.78 L260.88 68.13 L260.28 68.25 L259.7 68.06 L259.27 67.66 L259.04 67.15 L258.85 66.69 L258.77 66.2 L258.94 65.74 L258.95 65.19 L259.24 64.71 L259.71 64.36 L260.34 64.51 L260.85 64.46 L261.36 64.59 L261.72 64.95 L262.11 65.27 L262.52 65.66Z" stroke="none" stroke-width="0" fill="#8cc63e"/>
<path d="M243.21 71.69h0.8v0.8h-0.8zM241.01 71.41h0.8v0.8h-0.8zM242.52 73.48h0.8v0.8h-0.8zM242.39 72.65h0.8v0.8h-0.8zM243.29 72.27h0.8v0.8h-0.8z" stroke="none" stroke-width="0" fill="#f0e040" fill-opacity="0.8"/>
</g>
<text x="243.05" y="56.8" font-size="4.6" fill="#111" text-anchor="middle" font-weight="normal">34</text>
<text x="254.53" y="49.5" font-size="4.6" fill="#111" text-anchor="middle" font-weight="normal">17</text>
<text x="264.24" y="46.4" font-size="4.6" fill="#111" text-anchor="middle" font-weight="normal">26</text>
<text x="269.98" y="38.4" font-size="4.6" fill="#111" text-anchor="middle" font-weight="normal">38</text>
<text x="265.18" y="59" font-size="4.6" fill="#111" text-anchor="middle" font-weight="normal">39</text>
<text x="229.06" y="54.8" font-size="4.6" fill="#111" text-anchor="middle" font-weight="normal">16</text>
<text x="228.23" y="66.9" font-size="4.6" fill="#111" text-anchor="middle" font-weight="normal">42</text>
<text x="237.1" y="72.4" font-size="4.6" fill="#111" text-anchor="middle" font-weight="normal">27</text>
<text x="252.76" y="79.4" font-size="4.6" fill="#111" text-anchor="middle" font-weight="normal">30</text>
<text x="232.4" y="84.9" font-size="4.6" fill="#111" text-anchor="middle" font-weight="normal">3</text>
<text x="239.4" y="83" font-size="4.6" fill="#111" text-anchor="middle" font-weight="normal">9</text>
<text x="243.68" y="93.7" font-size="4.6" fill="#111" text-anchor="middle" font-weight="normal">13</text>
<text x="236.16" y="101.4" font-size="4.6" fill="#111" text-anchor="middle" font-weight="normal">2</text>
<text x="250.57" y="102.2" font-size="4.6" fill="#111" text-anchor="middle" font-weight="normal">11</text>
<text x="259.23" y="108.7" font-size="4.6" fill="#111" text-anchor="middle" font-weight="normal">15</text>
<text x="260.59" y="96.2" font-size="4.6" fill="#111" text-anchor="middle" font-weight="normal">28</text>
<text x="261.74" y="86.1" font-size="4.6" fill="#111" text-anchor="middle" font-weight="normal">7</text>
<text x="269.88" y="87.3" font-size="4.6" fill="#111" text-anchor="middle" font-weight="normal">14</text>
<text x="276.87" y="96" font-size="4.6" fill="#111" text-anchor="middle" font-weight="normal">8</text>
<text x="276.25" y="102.7" font-size="4.6" fill="#111" text-anchor="middle" font-weight="normal">10</text>
<text x="279.38" y="113.2" font-size="4.6" fill="#111" text-anchor="middle" font-weight="normal">6</text>
<text x="282.51" y="80.9" font-size="4.6" fill="#111" text-anchor="middle" font-weight="normal">21</text>
<text x="297.44" y="75.4" font-size="4.6" fill="#111" text-anchor="middle" font-weight="normal">23</text>
<text x="306.52" y="78.9" font-size="4.6" fill="#111" text-anchor="middle" font-weight="normal">22</text>
<text x="322.39" y="77.8" font-size="4.6" fill="#111" text-anchor="middle" font-weight="normal">18</text>
<text x="305.17" y="84.6" font-size="4.6" fill="#111" text-anchor="middle" font-weight="normal">29</text>
<text x="319.57" y="90.4" font-size="4.6" fill="#111" text-anchor="middle" font-weight="normal">35</text>
<text x="295.56" y="97.2" font-size="4.6" fill="#111" text-anchor="middle" font-weight="normal">25</text>
<text x="304.44" y="97.9" font-size="4.6" fill="#111" text-anchor="middle" font-weight="normal">31</text>
<text x="305.79" y="105.2" font-size="4.6" fill="#111" text-anchor="middle" font-weight="normal">43</text>
<text x="299.63" y="110.8" font-size="4.6" fill="#111" text-anchor="middle" font-weight="normal">33</text>
<text x="289.09" y="41.4" font-size="4.6" fill="#111" text-anchor="middle" font-weight="normal">40</text>
<text x="301.83" y="39.7" font-size="4.6" fill="#111" text-anchor="middle" font-weight="normal">5</text>
<text x="311.22" y="44.9" font-size="4.6" fill="#111" text-anchor="middle" font-weight="normal">4</text>
<text x="289.09" y="57.1" font-size="4.6" fill="#111" text-anchor="middle" font-weight="normal">24</text>
<text x="296.81" y="52.4" font-size="4.6" fill="#111" text-anchor="middle" font-weight="normal">37</text>
<text x="313.31" y="59.9" font-size="4.6" fill="#111" text-anchor="middle" font-weight="normal">32</text>
<text x="280.74" y="60.4" font-size="4.6" fill="#111" text-anchor="middle" font-weight="normal">12</text>
<text x="285.64" y="65.9" font-size="4.6" fill="#111" text-anchor="middle" font-weight="normal">9</text>
<text x="269.57" y="64" font-size="4.6" fill="#111" text-anchor="middle" font-weight="normal">20</text>
<text x="246.18" y="40.6" font-size="4.6" fill="#111" text-anchor="middle" font-weight="normal">36</text>
<text x="222.07" y="61.3" font-size="4.6" fill="#111" text-anchor="middle" font-weight="normal">44</text>
<text x="266.44" y="71.9" font-size="4.6" fill="#111" text-anchor="middle" font-weight="normal">19</text>
<text x="250.05" y="85.9" font-size="4.6" fill="#111" text-anchor="middle" font-weight="normal">1</text>
</g>
<rect x="220.8" y="27.7" width="113.8" height="96.5" fill="none" stroke="#666" stroke-width="0.9"/>
<line x1="218.8" y1="43.2" x2="220.8" y2="43.2" stroke="#4a4a4a" stroke-width="0.6"/>
<text x="216.4" y="44.8" font-size="5.8" fill="#4d4d4d" text-anchor="end" font-weight="normal">20</text>
<line x1="218.8" y1="59.6" x2="220.8" y2="59.6" stroke="#4a4a4a" stroke-width="0.6"/>
<text x="216.4" y="61.2" font-size="5.8" fill="#4d4d4d" text-anchor="end" font-weight="normal">10</text>
<line x1="218.8" y1="76" x2="220.8" y2="76" stroke="#4a4a4a" stroke-width="0.6"/>
<text x="216.4" y="77.6" font-size="5.8" fill="#4d4d4d" text-anchor="end" font-weight="normal">0</text>
<line x1="218.8" y1="92.4" x2="220.8" y2="92.4" stroke="#4a4a4a" stroke-width="0.6"/>
<text x="216.4" y="94" font-size="5.8" fill="#4d4d4d" text-anchor="end" font-weight="normal">−10</text>
<line x1="218.8" y1="108.8" x2="220.8" y2="108.8" stroke="#4a4a4a" stroke-width="0.6"/>
<text x="216.4" y="110.4" font-size="5.8" fill="#4d4d4d" text-anchor="end" font-weight="normal">−20</text>
<line x1="237.1" y1="124.2" x2="237.1" y2="126.2" stroke="#4a4a4a" stroke-width="0.6"/>
<text x="237.1" y="133.6" font-size="5.8" fill="#4d4d4d" text-anchor="middle" font-weight="normal">−20</text>
<line x1="256.1" y1="124.2" x2="256.1" y2="126.2" stroke="#4a4a4a" stroke-width="0.6"/>
<text x="256.1" y="133.6" font-size="5.8" fill="#4d4d4d" text-anchor="middle" font-weight="normal">−10</text>
<line x1="275.1" y1="124.2" x2="275.1" y2="126.2" stroke="#4a4a4a" stroke-width="0.6"/>
<text x="275.1" y="133.6" font-size="5.8" fill="#4d4d4d" text-anchor="middle" font-weight="normal">0</text>
<line x1="294.1" y1="124.2" x2="294.1" y2="126.2" stroke="#4a4a4a" stroke-width="0.6"/>
<text x="294.1" y="133.6" font-size="5.8" fill="#4d4d4d" text-anchor="middle" font-weight="normal">10</text>
<line x1="313.1" y1="124.2" x2="313.1" y2="126.2" stroke="#4a4a4a" stroke-width="0.6"/>
<text x="313.1" y="133.6" font-size="5.8" fill="#4d4d4d" text-anchor="middle" font-weight="normal">20</text>
<line x1="332.1" y1="124.2" x2="332.1" y2="126.2" stroke="#4a4a4a" stroke-width="0.6"/>
<text x="332.1" y="133.6" font-size="5.8" fill="#4d4d4d" text-anchor="middle" font-weight="normal">30</text>
<text transform="translate(278.5 144.8) scale(0.800 1)" font-size="7.2" fill="#333" text-anchor="middle" font-weight="normal">tsne_1</text>
<text x="420.7" y="14.2" font-size="9.3" fill="#111" text-anchor="middle" font-weight="bold">CAR negative</text>
<text x="363.5" y="24.6" font-size="6.35" fill="#333" text-anchor="start" font-weight="normal">Rphenograph scatter plot</text>
<rect x="363.5" y="28.4" width="113.6" height="95.8" fill="#fff"/>
<path d="M365.35 28.4V124.2M374.35 28.4V124.2M383.35 28.4V124.2M392.35 28.4V124.2M401.35 28.4V124.2M410.35 28.4V124.2M419.35 28.4V124.2M428.35 28.4V124.2M437.35 28.4V124.2M446.35 28.4V124.2M455.35 28.4V124.2M464.35 28.4V124.2M473.35 28.4V124.2M363.5 117.75H477.1M363.5 109.6H477.1M363.5 101.45H477.1M363.5 93.3H477.1M363.5 85.15H477.1M363.5 77H477.1M363.5 68.85H477.1M363.5 60.7H477.1M363.5 52.55H477.1M363.5 44.4H477.1M363.5 36.25H477.1" stroke="#ececec" stroke-width="0.4" fill="none"/>
<clipPath id="clipA2"><rect x="363.5" y="28.4" width="113.6" height="95.8"/></clipPath>
<g clip-path="url(#clipA2)"><g filter="url(#rough)">
<path d="M395.74 56.23 L394.72 57.78 L394.54 59.52 L392.74 60.21 L391.81 61.93 L390.09 63.28 L388.01 62.48 L386.02 62.2 L384.6 60.9 L384.24 59.04 L383.16 57.8 L382.12 56.23 L382.21 54.39 L382.56 52.42 L384.54 51.5 L386.32 50.85 L388.16 50.93 L389.87 50.6 L391.89 50.38 L393.62 51.3 L395.44 52.41 L395.86 54.37Z" stroke="none" stroke-width="0" fill="#6753b6" fill-opacity="0.38"/>
<path d="M388.92 53.82h0.9v0.9h-0.9zM387.27 62.22h0.9v0.9h-0.9zM388.18 51.39h0.9v0.9h-0.9zM392.59 58.27h0.9v0.9h-0.9zM390.07 60.1h0.9v0.9h-0.9zM390.32 53.09h0.9v0.9h-0.9zM394.79 51.6h0.9v0.9h-0.9zM393.73 57.79h0.9v0.9h-0.9zM387.73 56.29h0.9v0.9h-0.9zM382.05 59.5h0.9v0.9h-0.9zM393.81 60h0.9v0.9h-0.9zM393.5 60.19h0.9v0.9h-0.9zM391.91 54.15h0.9v0.9h-0.9zM391.35 56.34h0.9v0.9h-0.9zM387.94 55.98h0.9v0.9h-0.9zM393.96 58.93h0.9v0.9h-0.9zM393.65 53.9h0.9v0.9h-0.9zM383.74 59.83h0.9v0.9h-0.9zM394.18 59.41h0.9v0.9h-0.9zM391.98 61.43h0.9v0.9h-0.9zM390.83 55.77h0.9v0.9h-0.9zM382.99 54.24h0.9v0.9h-0.9zM391.5 59.38h0.9v0.9h-0.9zM397.16 55.98h0.9v0.9h-0.9zM393.96 60.6h0.9v0.9h-0.9zM392.78 55.11h0.9v0.9h-0.9zM387.69 55.22h0.9v0.9h-0.9zM384.51 60.85h0.9v0.9h-0.9zM382.91 52.66h0.9v0.9h-0.9zM393.11 58.53h0.9v0.9h-0.9zM393.1 51.88h0.9v0.9h-0.9zM384.04 57.67h0.9v0.9h-0.9zM395.17 55.73h0.9v0.9h-0.9zM396.26 57h0.9v0.9h-0.9zM386.43 60.6h0.9v0.9h-0.9zM390.23 61.12h0.9v0.9h-0.9zM387.88 58.23h0.9v0.9h-0.9zM387.18 54.47h0.9v0.9h-0.9zM389.26 55.05h0.9v0.9h-0.9zM390.4 49.57h0.9v0.9h-0.9zM382.09 56.33h0.9v0.9h-0.9zM389.06 62.71h0.9v0.9h-0.9z" stroke="none" stroke-width="0" fill="#6753b6"/>
<path d="M393.01 53.06h0.8v0.8h-0.8zM400.81 49.43h0.8v0.8h-0.8zM391.38 57.55h0.8v0.8h-0.8zM392.05 56.89h0.8v0.8h-0.8zM399.47 59h0.8v0.8h-0.8zM396.11 53.12h0.8v0.8h-0.8zM399.27 50.21h0.8v0.8h-0.8zM403.2 47.56h0.8v0.8h-0.8zM395.57 50.18h0.8v0.8h-0.8zM399.37 52.58h0.8v0.8h-0.8zM391.74 55.93h0.8v0.8h-0.8zM400.55 49.6h0.8v0.8h-0.8zM399.75 56.7h0.8v0.8h-0.8zM397.63 53.11h0.8v0.8h-0.8zM390.37 47.97h0.8v0.8h-0.8zM400.8 53.57h0.8v0.8h-0.8zM394.34 42.42h0.8v0.8h-0.8zM391 57.23h0.8v0.8h-0.8zM399.28 58.31h0.8v0.8h-0.8zM397.16 41.49h0.8v0.8h-0.8z" stroke="none" stroke-width="0" fill="#a35cc2" fill-opacity="0.8"/>
<path d="M400.23 56.91h0.8v0.8h-0.8zM404.77 58.51h0.8v0.8h-0.8zM403.3 62.28h0.8v0.8h-0.8zM405.08 60.28h0.8v0.8h-0.8zM401.74 57.69h0.8v0.8h-0.8zM403.01 61.5h0.8v0.8h-0.8zM399.03 55.07h0.8v0.8h-0.8zM403.1 61.59h0.8v0.8h-0.8zM404.75 54.95h0.8v0.8h-0.8zM402.36 56.35h0.8v0.8h-0.8zM405.89 56.51h0.8v0.8h-0.8zM398.52 55.28h0.8v0.8h-0.8z" stroke="none" stroke-width="0" fill="#9256bd" fill-opacity="0.8"/>
<path d="M419.75 46.88 L419.1 48.45 L419.06 50.25 L418.66 51.77 L418.08 52.95 L417.4 54.27 L416.56 54.15 L415.96 52.5 L415.3 51.74 L414.98 50.11 L414.59 48.65 L414.23 46.88 L414.45 45.02 L414.54 42.95 L415.24 41.85 L415.86 40.73 L416.65 41.24 L417.35 40.43 L418.11 40.65 L418.85 41.45 L419.54 42.75 L419.42 45.08Z" stroke="none" stroke-width="0" fill="#8d4fba" fill-opacity="0.38"/>
<path d="M414.93 43.3h0.9v0.9h-0.9zM416.09 42.3h0.9v0.9h-0.9zM418.23 48.35h0.9v0.9h-0.9zM415.92 44.74h0.9v0.9h-0.9zM418.72 48.77h0.9v0.9h-0.9zM414.69 47.97h0.9v0.9h-0.9zM419.74 48.03h0.9v0.9h-0.9zM415.56 53h0.9v0.9h-0.9zM420.08 47.31h0.9v0.9h-0.9zM414.32 42.64h0.9v0.9h-0.9zM419.87 46.26h0.9v0.9h-0.9zM418.45 49.81h0.9v0.9h-0.9zM417.31 53.9h0.9v0.9h-0.9zM417.51 50.4h0.9v0.9h-0.9zM417.82 48.66h0.9v0.9h-0.9zM419.89 43.89h0.9v0.9h-0.9zM415.07 51.83h0.9v0.9h-0.9zM414.72 48.06h0.9v0.9h-0.9zM415.25 51.55h0.9v0.9h-0.9zM417.12 50.92h0.9v0.9h-0.9zM415.57 46.49h0.9v0.9h-0.9zM414.11 49.78h0.9v0.9h-0.9zM417.99 47.24h0.9v0.9h-0.9z" stroke="none" stroke-width="0" fill="#8d4fba"/>
<path d="M414.95 45.89 L415.28 47.48 L415.6 49.55 L414.17 51.02 L412.06 51.61 L410 51.55 L408.16 51.35 L406.51 50.77 L404.46 50.51 L402.54 49.54 L401.43 47.84 L400.9 45.89 L401.54 43.97 L402.97 42.48 L404.5 41.31 L406.11 40.25 L408.15 40.32 L410.1 39.65 L412.12 40.06 L414.03 40.9 L414.89 42.63 L415.12 44.34Z" stroke="none" stroke-width="0" fill="#3f8fda" fill-opacity="0.38"/>
<path d="M411.87 41.88h0.9v0.9h-0.9zM410.21 49.67h0.9v0.9h-0.9zM402.59 47.27h0.9v0.9h-0.9zM403.92 43.84h0.9v0.9h-0.9zM411.17 50.23h0.9v0.9h-0.9zM407.46 48.62h0.9v0.9h-0.9zM405.5 45.01h0.9v0.9h-0.9zM407.41 40.04h0.9v0.9h-0.9zM413.44 50.36h0.9v0.9h-0.9zM406.07 50.12h0.9v0.9h-0.9zM403.23 41.87h0.9v0.9h-0.9zM414.5 41.64h0.9v0.9h-0.9zM410.58 51.2h0.9v0.9h-0.9zM408.46 46.77h0.9v0.9h-0.9zM403.53 44.24h0.9v0.9h-0.9zM412.32 42.75h0.9v0.9h-0.9zM412.13 41.28h0.9v0.9h-0.9zM414.93 49.56h0.9v0.9h-0.9zM407.72 51.19h0.9v0.9h-0.9zM409.86 46.23h0.9v0.9h-0.9zM410.6 45.17h0.9v0.9h-0.9zM411.11 48.31h0.9v0.9h-0.9zM415.44 49.72h0.9v0.9h-0.9zM415.93 45.71h0.9v0.9h-0.9zM402.7 50.17h0.9v0.9h-0.9zM405.93 45.78h0.9v0.9h-0.9zM407.19 41.75h0.9v0.9h-0.9zM408.46 50.06h0.9v0.9h-0.9zM406.33 47.99h0.9v0.9h-0.9zM403.02 41.39h0.9v0.9h-0.9zM408.32 45.58h0.9v0.9h-0.9zM408.58 44.93h0.9v0.9h-0.9zM401.2 46.81h0.9v0.9h-0.9zM405.47 39.54h0.9v0.9h-0.9zM409.19 42.01h0.9v0.9h-0.9zM412.61 49.81h0.9v0.9h-0.9zM407.31 42.65h0.9v0.9h-0.9zM405.47 51.5h0.9v0.9h-0.9zM405.26 50.6h0.9v0.9h-0.9zM401.18 43.88h0.9v0.9h-0.9zM412.7 46.42h0.9v0.9h-0.9zM410.31 39.91h0.9v0.9h-0.9zM411.63 47.44h0.9v0.9h-0.9z" stroke="none" stroke-width="0" fill="#3f8fda"/>
<path d="M423.76 38.24 L423.8 39.88 L421.32 40.88 L419.4 41.65 L417.82 42.61 L415.62 42.93 L413.21 43.68 L410.4 43.65 L408.06 42.72 L406.87 41.2 L406.72 39.62 L407.45 38.24 L406.54 36.83 L407.59 35.56 L408.66 34.17 L410.59 33.07 L413.13 32.49 L415.7 33.22 L418.01 33.61 L420.03 34.39 L420.84 35.78 L422.73 36.78Z" stroke="none" stroke-width="0" fill="#9d4db5" fill-opacity="0.38"/>
<path d="M421.36 34.75h0.9v0.9h-0.9zM418.84 37.72h0.9v0.9h-0.9zM404.81 37.08h0.9v0.9h-0.9zM406.38 36.99h0.9v0.9h-0.9zM418.71 37.83h0.9v0.9h-0.9zM423.37 40.22h0.9v0.9h-0.9zM410.5 36.89h0.9v0.9h-0.9zM417.2 35.38h0.9v0.9h-0.9zM418.33 40.69h0.9v0.9h-0.9zM420.86 39.12h0.9v0.9h-0.9zM415.78 34.15h0.9v0.9h-0.9zM416.55 37.96h0.9v0.9h-0.9zM416.31 40.31h0.9v0.9h-0.9zM410.42 36.99h0.9v0.9h-0.9zM410.82 34.36h0.9v0.9h-0.9zM406.28 35.48h0.9v0.9h-0.9zM416.94 32.49h0.9v0.9h-0.9zM418.14 41.34h0.9v0.9h-0.9zM420.75 37.28h0.9v0.9h-0.9zM412.93 42.42h0.9v0.9h-0.9zM418.47 43.39h0.9v0.9h-0.9zM412.44 36.81h0.9v0.9h-0.9zM421.7 37.25h0.9v0.9h-0.9zM414.32 43.07h0.9v0.9h-0.9zM420.23 37.1h0.9v0.9h-0.9zM419.04 38.48h0.9v0.9h-0.9zM421.45 39.85h0.9v0.9h-0.9zM410.95 43.51h0.9v0.9h-0.9zM414.85 38.97h0.9v0.9h-0.9zM411 38.72h0.9v0.9h-0.9zM412.7 40.96h0.9v0.9h-0.9zM418.06 42.67h0.9v0.9h-0.9zM420.24 36.77h0.9v0.9h-0.9zM410.75 35.55h0.9v0.9h-0.9zM421.06 35.9h0.9v0.9h-0.9zM423.17 39.21h0.9v0.9h-0.9zM415.06 39.53h0.9v0.9h-0.9zM423.82 38.92h0.9v0.9h-0.9zM412.97 34.66h0.9v0.9h-0.9zM406.46 36.4h0.9v0.9h-0.9zM422.15 40.61h0.9v0.9h-0.9zM411.96 32.45h0.9v0.9h-0.9zM421.72 39.93h0.9v0.9h-0.9z" stroke="none" stroke-width="0" fill="#9d4db5"/>
<path d="M400.88 51.58h0.8v0.8h-0.8zM402.85 55.42h0.8v0.8h-0.8zM408.03 49.78h0.8v0.8h-0.8zM400.76 51.32h0.8v0.8h-0.8zM410.56 53.08h0.8v0.8h-0.8zM404.26 55.48h0.8v0.8h-0.8zM404.53 56.9h0.8v0.8h-0.8zM401.25 50.83h0.8v0.8h-0.8zM409.44 55.17h0.8v0.8h-0.8zM407.43 47.53h0.8v0.8h-0.8zM406.05 54.77h0.8v0.8h-0.8z" stroke="none" stroke-width="0" fill="#a35cc2" fill-opacity="0.8"/>
<path d="M414.41 58.41 L414.62 60.06 L413.49 61.15 L413.07 62.75 L411.79 63.27 L410.69 64.55 L409.19 64.82 L407.85 63.96 L406.99 62.53 L406.67 60.96 L405.87 59.86 L405.48 58.41 L404.87 56.61 L405.31 54.82 L406.41 53.48 L407.83 52.81 L409.37 53.52 L410.51 53.78 L411.74 53.71 L412.83 54.41 L413.96 55.31 L414.9 56.66Z" stroke="none" stroke-width="0" fill="#7b4fb8" fill-opacity="0.38"/>
<path d="M411.3 63.52h0.9v0.9h-0.9zM407.78 60.86h0.9v0.9h-0.9zM412.36 57.85h0.9v0.9h-0.9zM413 55.06h0.9v0.9h-0.9zM408.83 56.19h0.9v0.9h-0.9zM409.78 51.95h0.9v0.9h-0.9zM411.21 62.88h0.9v0.9h-0.9zM407.72 54.54h0.9v0.9h-0.9zM410.01 52.91h0.9v0.9h-0.9zM408.12 63.62h0.9v0.9h-0.9zM410.51 53.79h0.9v0.9h-0.9zM406.13 55.48h0.9v0.9h-0.9zM408.28 58.71h0.9v0.9h-0.9zM405.76 61.73h0.9v0.9h-0.9zM409.7 56.57h0.9v0.9h-0.9zM405.64 59.14h0.9v0.9h-0.9zM407.8 57.87h0.9v0.9h-0.9zM407.08 53.85h0.9v0.9h-0.9zM404.58 56.94h0.9v0.9h-0.9zM409.4 58.06h0.9v0.9h-0.9zM408.92 64.02h0.9v0.9h-0.9zM414.85 61.65h0.9v0.9h-0.9zM408.39 52.72h0.9v0.9h-0.9zM410.18 58.91h0.9v0.9h-0.9zM412.79 54.9h0.9v0.9h-0.9zM406.13 60.17h0.9v0.9h-0.9zM410.35 54.26h0.9v0.9h-0.9zM410.28 55.68h0.9v0.9h-0.9zM414.66 57.71h0.9v0.9h-0.9zM408.31 62.72h0.9v0.9h-0.9z" stroke="none" stroke-width="0" fill="#7b4fb8"/>
<path d="M377.04 53.03h0.9v0.9h-0.9zM375.03 52.1h0.9v0.9h-0.9zM377.4 53.82h0.9v0.9h-0.9zM376.29 52.31h0.9v0.9h-0.9zM376.3 52.77h0.9v0.9h-0.9zM374.13 55.22h0.9v0.9h-0.9zM376.47 52.51h0.9v0.9h-0.9z" stroke="none" stroke-width="0" fill="#3a9a3a"/>
<path d="M377.46 54.24 L377.68 54.81 L377.46 55.35 L376.95 55.65 L376.38 55.67 L375.98 55.94 L375.48 56 L375.02 55.8 L374.49 55.68 L374.16 55.26 L374.08 54.73 L373.92 54.24 L374.27 53.81 L374.47 53.42 L374.51 52.82 L375.01 52.65 L375.45 52.23 L376.02 52.25 L376.44 52.68 L376.8 53.01 L377.02 53.41 L377.42 53.74Z" stroke="none" stroke-width="0" fill="#3a9a3a"/>
<path d="M379.3 65.36h0.9v0.9h-0.9zM371.26 66.12h0.9v0.9h-0.9zM371.65 67.94h0.9v0.9h-0.9zM374.73 68.9h0.9v0.9h-0.9zM374 63.16h0.9v0.9h-0.9zM379.32 65.7h0.9v0.9h-0.9zM376.38 68.39h0.9v0.9h-0.9zM372.5 64.35h0.9v0.9h-0.9zM371.15 65.97h0.9v0.9h-0.9z" stroke="none" stroke-width="0" fill="#d8185a"/>
<path d="M378.33 65.97 L378.48 66.82 L378.44 67.8 L377.52 68.35 L376.68 68.89 L375.68 69.2 L374.68 68.74 L373.68 68.74 L373.11 68 L372.31 67.54 L371.54 66.88 L371.3 65.97 L371.7 65.09 L372.43 64.46 L373.04 63.87 L373.66 63.17 L374.6 62.7 L375.69 62.65 L376.69 63.04 L377.63 63.48 L377.89 64.44 L378.02 65.24Z" stroke="none" stroke-width="0" fill="#d8185a"/>
<path d="M385.93 67.48h0.9v0.9h-0.9zM388.85 79.58h0.9v0.9h-0.9zM389.15 77.32h0.9v0.9h-0.9zM389.44 79.51h0.9v0.9h-0.9zM380.85 68.01h0.9v0.9h-0.9zM392.58 76.61h0.9v0.9h-0.9zM390.1 78.44h0.9v0.9h-0.9zM380.68 66.84h0.9v0.9h-0.9zM375.91 74.07h0.9v0.9h-0.9zM382.13 80.12h0.9v0.9h-0.9zM388.64 78.55h0.9v0.9h-0.9zM383.34 79.47h0.9v0.9h-0.9zM390.44 68.91h0.9v0.9h-0.9zM378.46 67.66h0.9v0.9h-0.9zM393.12 73.29h0.9v0.9h-0.9zM390.31 68.05h0.9v0.9h-0.9zM374.44 72.16h0.9v0.9h-0.9zM390.9 71.16h0.9v0.9h-0.9zM387.82 78.52h0.9v0.9h-0.9zM391.17 73.89h0.9v0.9h-0.9zM389.56 75.83h0.9v0.9h-0.9zM378.53 76.32h0.9v0.9h-0.9z" stroke="none" stroke-width="0" fill="#3a6cc8"/>
<path d="M392.13 73.22 L391.08 74.92 L389.23 75.99 L388.81 77.8 L386.92 78.6 L385.09 80.13 L382.62 80 L380.5 79.07 L379.05 77.64 L377.36 76.55 L377.38 74.74 L375.66 73.22 L376.39 71.47 L377.25 69.84 L378.76 68.54 L380.95 68.17 L382.77 67.23 L384.79 67.99 L386.98 67.74 L388.89 68.57 L390.73 69.69 L392.18 71.27Z" stroke="none" stroke-width="0" fill="#3a6cc8"/>
<path d="M386.27 76.5h0.9v0.9h-0.9zM397.33 68.82h0.9v0.9h-0.9zM411.59 83.84h0.9v0.9h-0.9zM406.54 68.31h0.9v0.9h-0.9zM392.58 65.28h0.9v0.9h-0.9zM409.91 74.04h0.9v0.9h-0.9zM403.75 92.56h0.9v0.9h-0.9zM384.74 86.61h0.9v0.9h-0.9zM391.34 89.1h0.9v0.9h-0.9zM401.62 90.83h0.9v0.9h-0.9zM396.13 65.86h0.9v0.9h-0.9zM385.68 77.65h0.9v0.9h-0.9zM395.97 67.23h0.9v0.9h-0.9zM386.1 80.6h0.9v0.9h-0.9zM410.66 79.93h0.9v0.9h-0.9zM386.22 82.29h0.9v0.9h-0.9zM385.26 84.42h0.9v0.9h-0.9zM384.64 86.86h0.9v0.9h-0.9zM390.58 92.27h0.9v0.9h-0.9zM392.28 70.26h0.9v0.9h-0.9zM402.51 70.36h0.9v0.9h-0.9zM396.97 95.37h0.9v0.9h-0.9zM406.51 88.42h0.9v0.9h-0.9zM384.23 88.43h0.9v0.9h-0.9zM409.19 77.89h0.9v0.9h-0.9zM388.11 68.42h0.9v0.9h-0.9zM385.48 79.1h0.9v0.9h-0.9zM403.96 89.13h0.9v0.9h-0.9zM408.04 83.18h0.9v0.9h-0.9zM395.45 66.5h0.9v0.9h-0.9zM412.03 86.66h0.9v0.9h-0.9zM410.45 79.03h0.9v0.9h-0.9zM387.72 91.95h0.9v0.9h-0.9zM390.26 67.49h0.9v0.9h-0.9zM403.69 93.52h0.9v0.9h-0.9zM387.57 84.03h0.9v0.9h-0.9zM409.13 83.76h0.9v0.9h-0.9zM398.87 92.18h0.9v0.9h-0.9zM408.5 73.44h0.9v0.9h-0.9zM400.59 90.94h0.9v0.9h-0.9zM409.68 84.58h0.9v0.9h-0.9zM388.08 85.45h0.9v0.9h-0.9zM385.33 78.89h0.9v0.9h-0.9zM410.74 81.76h0.9v0.9h-0.9zM404.01 89.85h0.9v0.9h-0.9zM397.86 67.23h0.9v0.9h-0.9zM389.23 90.87h0.9v0.9h-0.9zM396.27 66.19h0.9v0.9h-0.9zM411.45 75.63h0.9v0.9h-0.9zM389.12 93.53h0.9v0.9h-0.9zM409.19 81.32h0.9v0.9h-0.9zM406.81 88.96h0.9v0.9h-0.9zM390 90.31h0.9v0.9h-0.9zM389.33 70.92h0.9v0.9h-0.9zM383.5 81.73h0.9v0.9h-0.9zM411.85 73.06h0.9v0.9h-0.9zM389.12 89.53h0.9v0.9h-0.9zM412.85 79.34h0.9v0.9h-0.9zM405.69 72.38h0.9v0.9h-0.9z" stroke="none" stroke-width="0" fill="#2c55b5"/>
<path d="M410.96 80.18 L409.63 83.7 L407.67 86.62 L405.74 89.52 L402.32 90.38 L399.42 92.29 L395.89 92.78 L392.01 92.68 L389.03 90.22 L387.98 86.45 L387.64 83.14 L385.85 80.18 L385.6 76.61 L387.24 73.43 L389.34 70.5 L392.53 68.81 L395.86 67.41 L399.38 68.4 L402.77 69.01 L405.55 71.07 L408.33 73.31 L410.63 76.36Z" stroke="none" stroke-width="0" fill="#2c55b5"/>
<path d="M405.42 85.39h0.9v0.9h-0.9zM402.37 93.43h0.9v0.9h-0.9zM403.09 92.5h0.9v0.9h-0.9zM403.94 83.49h0.9v0.9h-0.9zM394.27 89.1h0.9v0.9h-0.9zM397.2 83.79h0.9v0.9h-0.9zM395.22 93.5h0.9v0.9h-0.9zM398.6 93.7h0.9v0.9h-0.9zM405.79 91.27h0.9v0.9h-0.9zM401.31 82.5h0.9v0.9h-0.9zM401.6 84.17h0.9v0.9h-0.9zM397.01 93.17h0.9v0.9h-0.9zM402.94 85.63h0.9v0.9h-0.9zM398.24 95.01h0.9v0.9h-0.9zM397.42 85.6h0.9v0.9h-0.9z" stroke="none" stroke-width="0" fill="#2c55b5"/>
<path d="M405.1 89.13 L405.1 90.73 L404.58 92.26 L403.09 92.86 L402.18 94.02 L400.8 94.03 L399.47 94.48 L398.08 94.16 L396.44 93.87 L395.98 92.1 L395.04 90.79 L395.73 89.13 L395.83 87.72 L396.2 86.31 L396.78 84.82 L397.94 83.74 L399.37 83.03 L400.84 83.95 L402.15 84.31 L403.12 85.35 L404.1 86.33 L404.51 87.72Z" stroke="none" stroke-width="0" fill="#2c55b5"/>
<path d="M389.58 97.93h0.9v0.9h-0.9zM392.75 100.68h0.9v0.9h-0.9zM392.99 99.75h0.9v0.9h-0.9zM389.23 98.07h0.9v0.9h-0.9zM388.05 98.61h0.9v0.9h-0.9zM387.42 98.34h0.9v0.9h-0.9zM388.83 97.63h0.9v0.9h-0.9zM389.76 97.99h0.9v0.9h-0.9z" stroke="none" stroke-width="0" fill="#a8d848"/>
<path d="M393.19 100.06 L393.33 100.81 L393.09 101.57 L392.09 101.81 L391.38 102.08 L390.66 102.31 L389.89 102.28 L389.13 102.16 L388.27 102 L387.77 101.41 L387.55 100.73 L387.21 100.06 L387.76 99.44 L387.88 98.77 L388.46 98.3 L388.92 97.58 L389.78 97.21 L390.69 97.65 L391.52 97.77 L392.22 98.18 L392.67 98.77 L392.8 99.44Z" stroke="none" stroke-width="0" fill="#a8d848"/>
<path d="M378.39 78.76h0.9v0.9h-0.9zM381.02 88.58h0.9v0.9h-0.9zM376.58 81.15h0.9v0.9h-0.9zM380.72 79.05h0.9v0.9h-0.9zM382.18 86.35h0.9v0.9h-0.9zM376.39 82.1h0.9v0.9h-0.9zM374.52 83.52h0.9v0.9h-0.9zM377.06 88.41h0.9v0.9h-0.9zM382.87 81.98h0.9v0.9h-0.9zM381.85 82.96h0.9v0.9h-0.9zM382.36 84.15h0.9v0.9h-0.9z" stroke="none" stroke-width="0" fill="#e8352a"/>
<path d="M382.41 84.16 L382.41 85.52 L381.66 86.5 L380.95 87.28 L380.26 88.1 L379.4 88.8 L378.36 89.11 L377.43 88.4 L376.48 87.84 L376.25 86.41 L376.16 85.22 L375.39 84.16 L375.83 82.96 L375.64 81.39 L376.32 80.23 L377.41 79.84 L378.41 79.65 L379.33 80.21 L380.14 80.55 L381.26 80.56 L382.08 81.46 L382.68 82.69Z" stroke="none" stroke-width="0" fill="#e8352a"/>
<path d="M370.82 82.44h0.9v0.9h-0.9zM372.24 77.39h0.9v0.9h-0.9zM371.33 85.15h0.9v0.9h-0.9zM373.04 85.14h0.9v0.9h-0.9zM371.67 78.8h0.9v0.9h-0.9zM371.49 77.96h0.9v0.9h-0.9zM370.56 83.14h0.9v0.9h-0.9z" stroke="none" stroke-width="0" fill="#e8307a"/>
<path d="M373.35 81.67 L373.35 82.65 L373.34 83.81 L372.97 84.48 L372.59 84.94 L372.16 84.85 L371.79 84.87 L371.41 84.71 L371.06 84.26 L370.73 83.62 L370.61 82.65 L370.5 81.67 L370.64 80.72 L370.93 80.03 L371.21 79.51 L371.39 78.52 L371.76 78.04 L372.2 77.94 L372.55 78.61 L372.93 78.97 L373.1 79.91 L373.26 80.75Z" stroke="none" stroke-width="0" fill="#e8307a"/>
<path d="M387.83 85.67h0.9v0.9h-0.9zM382.23 81.5h0.9v0.9h-0.9zM389.15 81.59h0.9v0.9h-0.9zM388.3 86.57h0.9v0.9h-0.9zM385.92 87.1h0.9v0.9h-0.9zM383.36 78.92h0.9v0.9h-0.9zM389.92 83.84h0.9v0.9h-0.9zM388.92 78.52h0.9v0.9h-0.9zM388.68 84.91h0.9v0.9h-0.9zM382.26 83.38h0.9v0.9h-0.9zM389.13 78.71h0.9v0.9h-0.9zM390.42 81.2h0.9v0.9h-0.9z" stroke="none" stroke-width="0" fill="#e6df3e"/>
<path d="M389.03 82.27 L389.37 83.52 L389.27 84.93 L388.12 85.58 L387.14 86.18 L386.13 86.93 L385.05 85.96 L383.9 86.19 L383.09 85.37 L382.23 84.61 L381.49 83.58 L380.99 82.27 L381.57 80.98 L382.61 80.2 L383.02 79.07 L384.03 78.64 L384.92 77.64 L386.13 77.62 L387.42 77.68 L388.24 78.8 L388.65 80.05 L389.33 81.03Z" stroke="none" stroke-width="0" fill="#e6df3e"/>
<path d="M396.04 92.21h0.9v0.9h-0.9zM382.99 92.06h0.9v0.9h-0.9zM386.97 88.25h0.9v0.9h-0.9zM395.17 90.54h0.9v0.9h-0.9zM396.15 92.78h0.9v0.9h-0.9zM396.09 89.52h0.9v0.9h-0.9zM388.77 97.49h0.9v0.9h-0.9zM383.82 90.03h0.9v0.9h-0.9zM386.47 97.53h0.9v0.9h-0.9zM388.79 97.64h0.9v0.9h-0.9zM383.36 94.39h0.9v0.9h-0.9zM382.84 95.43h0.9v0.9h-0.9zM383.09 95.4h0.9v0.9h-0.9zM389.76 87.12h0.9v0.9h-0.9zM384.05 94.02h0.9v0.9h-0.9zM386.7 86.78h0.9v0.9h-0.9zM396.65 91.72h0.9v0.9h-0.9z" stroke="none" stroke-width="0" fill="#8cc43c"/>
<path d="M395.5 92.9 L395.54 94.48 L395.45 96.32 L393.83 97.34 L391.84 97.37 L390.42 98.17 L388.8 97.84 L387.06 97.89 L385.63 97.02 L384.05 96.12 L383.34 94.56 L383.42 92.9 L383.81 91.37 L385.13 90.32 L385.82 88.97 L386.9 87.6 L388.74 87.6 L390.55 86.78 L392.23 87.65 L393.3 89.02 L393.73 90.49 L394.82 91.51Z" stroke="none" stroke-width="0" fill="#8cc43c"/>
<path d="M384.95 104.57h0.9v0.9h-0.9zM376.53 100.38h0.9v0.9h-0.9zM387.87 98.22h0.9v0.9h-0.9zM383.09 95.14h0.9v0.9h-0.9zM387.63 101.34h0.9v0.9h-0.9zM386.79 104.33h0.9v0.9h-0.9zM380.49 105.83h0.9v0.9h-0.9zM380.09 104.25h0.9v0.9h-0.9zM383.41 106.8h0.9v0.9h-0.9zM376.74 102.33h0.9v0.9h-0.9zM377.09 99.25h0.9v0.9h-0.9zM379.76 94.85h0.9v0.9h-0.9zM378.18 96.15h0.9v0.9h-0.9zM379.48 104.49h0.9v0.9h-0.9zM388.16 100.91h0.9v0.9h-0.9z" stroke="none" stroke-width="0" fill="#e83a2a"/>
<path d="M387.66 100.56 L387.88 102.07 L387.11 103.39 L385.77 104.17 L384.48 104.76 L383.19 105.4 L381.75 105.23 L380.2 105.25 L378.47 104.93 L377.55 103.54 L376.82 102.13 L377.21 100.56 L377.58 99.2 L378.31 98.02 L378.77 96.52 L380.14 95.74 L381.67 95.34 L383.27 95.2 L384.46 96.41 L385.59 97.13 L386.84 97.89 L386.97 99.3Z" stroke="none" stroke-width="0" fill="#e83a2a"/>
<path d="M399.92 101.35 L399.7 102.41 L399.21 103.36 L398.29 103.88 L397.65 104.74 L396.62 104.95 L395.55 105.25 L394.46 104.97 L393.58 104.28 L392.95 103.39 L392.57 102.39 L392.53 101.35 L392.57 100.31 L392.5 99.02 L393.29 98.08 L394.42 97.65 L395.58 97.68 L396.61 97.86 L397.53 98.22 L398.6 98.46 L399.41 99.22 L400.17 100.15Z" stroke="none" stroke-width="0" fill="#c6dc48" fill-opacity="0.38"/>
<path d="M397.91 99.61h0.9v0.9h-0.9zM395.98 99.9h0.9v0.9h-0.9zM397.79 102.4h0.9v0.9h-0.9zM395.36 104.27h0.9v0.9h-0.9zM392.79 104.15h0.9v0.9h-0.9zM400.1 102.77h0.9v0.9h-0.9zM396.26 103.86h0.9v0.9h-0.9zM393.14 101.97h0.9v0.9h-0.9zM395.37 101h0.9v0.9h-0.9zM395.34 100.83h0.9v0.9h-0.9zM397.37 103.42h0.9v0.9h-0.9zM392.24 101.05h0.9v0.9h-0.9zM396.88 101.52h0.9v0.9h-0.9zM394.25 102.5h0.9v0.9h-0.9zM395.24 97.32h0.9v0.9h-0.9zM399.84 98.79h0.9v0.9h-0.9zM398.27 100.82h0.9v0.9h-0.9zM394.61 100.68h0.9v0.9h-0.9zM392.45 100.3h0.9v0.9h-0.9zM393.08 98h0.9v0.9h-0.9zM394 103.45h0.9v0.9h-0.9z" stroke="none" stroke-width="0" fill="#c6dc48"/>
<path d="M413.2 101.77h0.8v0.8h-0.8zM407.34 114.53h0.8v0.8h-0.8zM404.77 105.01h0.8v0.8h-0.8zM408.95 97.73h0.8v0.8h-0.8zM401.8 104.6h0.8v0.8h-0.8zM399.78 106.34h0.8v0.8h-0.8zM408.99 104.07h0.8v0.8h-0.8zM412.1 110.27h0.8v0.8h-0.8zM405.21 118.58h0.8v0.8h-0.8zM406.15 111.43h0.8v0.8h-0.8zM398.63 113.31h0.8v0.8h-0.8zM392.72 104.97h0.8v0.8h-0.8zM395.15 114.31h0.8v0.8h-0.8zM410.07 113.74h0.8v0.8h-0.8zM412.93 101.05h0.8v0.8h-0.8zM402.04 105.13h0.8v0.8h-0.8zM411.64 107.76h0.8v0.8h-0.8zM402.35 104.66h0.8v0.8h-0.8zM410.72 112.15h0.8v0.8h-0.8zM406.98 98.03h0.8v0.8h-0.8zM399.65 111.66h0.8v0.8h-0.8zM397.08 104.27h0.8v0.8h-0.8zM404.35 111.95h0.8v0.8h-0.8zM407.73 108.99h0.8v0.8h-0.8zM406.34 96.61h0.8v0.8h-0.8zM407.56 98.8h0.8v0.8h-0.8zM398.26 109.82h0.8v0.8h-0.8zM396.64 108.81h0.8v0.8h-0.8zM410.12 97.84h0.8v0.8h-0.8zM399.06 111.31h0.8v0.8h-0.8zM402.83 96.73h0.8v0.8h-0.8zM416.19 105.64h0.8v0.8h-0.8zM407.37 97.63h0.8v0.8h-0.8z" stroke="none" stroke-width="0" fill="#7dc443" fill-opacity="0.8"/>
<path d="M410.54 95.39 L409.62 96.1 L409.55 96.92 L408.34 97.29 L407.67 98.11 L406.36 98.54 L404.83 98.63 L403.62 98.01 L402.64 97.45 L402.33 96.65 L401.14 96.18 L400.91 95.39 L401.13 94.6 L401.41 93.76 L402.4 93.16 L403.68 92.85 L405.01 92.89 L406.18 92.95 L407.48 92.9 L408.93 93.07 L409.87 93.73 L410.41 94.54Z" stroke="none" stroke-width="0" fill="#2a48a8" fill-opacity="0.38"/>
<path d="M401.52 97.62h0.9v0.9h-0.9zM405.92 92.54h0.9v0.9h-0.9zM410.24 96.46h0.9v0.9h-0.9zM401.27 96.55h0.9v0.9h-0.9zM404.01 95.57h0.9v0.9h-0.9zM400.96 94.54h0.9v0.9h-0.9zM407.75 97.74h0.9v0.9h-0.9zM405.53 95.75h0.9v0.9h-0.9zM409 96.02h0.9v0.9h-0.9zM405.64 96.83h0.9v0.9h-0.9zM403.2 98.06h0.9v0.9h-0.9zM401.31 95.17h0.9v0.9h-0.9zM407.88 94.43h0.9v0.9h-0.9zM409.27 93.64h0.9v0.9h-0.9zM404.61 92.15h0.9v0.9h-0.9zM407.55 97.22h0.9v0.9h-0.9zM401.58 94.79h0.9v0.9h-0.9zM408.36 95.24h0.9v0.9h-0.9zM404.95 98.38h0.9v0.9h-0.9zM406.47 93.51h0.9v0.9h-0.9z" stroke="none" stroke-width="0" fill="#2a48a8"/>
<path d="M409.11 85.35 L409.16 86.37 L408.95 87.39 L408.28 87.93 L407.62 88.22 L407.01 88.49 L406.37 88.5 L405.69 88.44 L405.18 87.81 L404.47 87.36 L404.36 86.31 L404.39 85.35 L404.61 84.49 L404.77 83.61 L405.28 83.06 L405.6 81.98 L406.35 82 L407.07 81.68 L407.72 82.17 L407.99 83.24 L408.51 83.7 L408.97 84.41Z" stroke="none" stroke-width="0" fill="#f0c838" fill-opacity="0.38"/>
<path d="M406.24 86.78h0.9v0.9h-0.9zM407.94 84.67h0.9v0.9h-0.9zM408.35 85.26h0.9v0.9h-0.9zM408.68 84.32h0.9v0.9h-0.9zM407.9 86.25h0.9v0.9h-0.9zM406.46 85.08h0.9v0.9h-0.9zM406.92 87.75h0.9v0.9h-0.9zM408.87 87.73h0.9v0.9h-0.9zM404.99 85.06h0.9v0.9h-0.9zM406.07 86.35h0.9v0.9h-0.9zM404.83 83.38h0.9v0.9h-0.9zM406.63 81.63h0.9v0.9h-0.9zM407.83 83.51h0.9v0.9h-0.9zM406.8 86.55h0.9v0.9h-0.9zM405.9 82.34h0.9v0.9h-0.9zM408.54 87.53h0.9v0.9h-0.9z" stroke="none" stroke-width="0" fill="#f0c838"/>
<path d="M415.12 85.92h0.8v0.8h-0.8zM411.01 83.02h0.8v0.8h-0.8zM414.21 83.64h0.8v0.8h-0.8zM413.26 87.68h0.8v0.8h-0.8zM415.17 90.7h0.8v0.8h-0.8zM416.95 84.55h0.8v0.8h-0.8zM411.66 81.93h0.8v0.8h-0.8zM413.82 84.03h0.8v0.8h-0.8zM411.77 91.21h0.8v0.8h-0.8zM418.27 86.92h0.8v0.8h-0.8zM412.87 88.3h0.8v0.8h-0.8z" stroke="none" stroke-width="0" fill="#88c840" fill-opacity="0.8"/>
<path d="M415.38 67.77h0.9v0.9h-0.9zM417.04 74.05h0.9v0.9h-0.9zM416.63 64.51h0.9v0.9h-0.9zM420.23 69.38h0.9v0.9h-0.9zM415.06 69.98h0.9v0.9h-0.9zM419.63 67.16h0.9v0.9h-0.9zM419.68 66.41h0.9v0.9h-0.9zM420.02 71.36h0.9v0.9h-0.9zM416.57 73.29h0.9v0.9h-0.9z" stroke="none" stroke-width="0" fill="#f04a20"/>
<path d="M419.65 70.04 L418.89 70.78 L418.44 71.7 L417.84 72.53 L417.13 72.94 L416.29 73.57 L415.69 73.13 L415.32 72.36 L415.31 71.31 L415.32 70.41 L415.26 69.53 L415.33 68.47 L415.55 67.18 L416.28 66.25 L417.1 65.97 L417.79 65.81 L418.5 65.47 L418.85 66.25 L419.72 66 L420.16 66.68 L420.4 67.67 L419.93 68.94Z" stroke="none" stroke-width="0" fill="#f04a20"/>
<path d="M414.61 76.62h0.9v0.9h-0.9zM412.38 78.85h0.9v0.9h-0.9zM412.8 79.95h0.9v0.9h-0.9zM413.38 80.46h0.9v0.9h-0.9zM414.07 76h0.9v0.9h-0.9zM412.9 76.32h0.9v0.9h-0.9z" stroke="none" stroke-width="0" fill="#60c8f0"/>
<path d="M415.23 78.19 L415.12 78.69 L414.97 79.17 L414.68 79.54 L414.26 79.64 L413.92 79.91 L413.5 79.96 L413.03 80.01 L412.6 79.74 L412.4 79.21 L412.38 78.66 L412.25 78.19 L412.39 77.72 L412.35 77.13 L412.61 76.66 L413.02 76.36 L413.49 76.3 L413.91 76.52 L414.26 76.74 L414.58 76.98 L414.99 77.21 L415.32 77.62Z" stroke="none" stroke-width="0" fill="#60c8f0"/>
<path d="M419.94 84.77h0.9v0.9h-0.9zM419.34 84.5h0.9v0.9h-0.9zM420.07 85.21h0.9v0.9h-0.9zM418.27 82.7h0.9v0.9h-0.9zM420.33 84.77h0.9v0.9h-0.9zM418.26 80.15h0.9v0.9h-0.9zM418.62 83.1h0.9v0.9h-0.9z" stroke="none" stroke-width="0" fill="#e83a2a"/>
<path d="M420.94 81.67 L420.94 82.63 L420.63 83.26 L420.43 83.96 L420.13 84.32 L419.8 84.28 L419.5 84.25 L419.16 84.36 L418.8 84.13 L418.57 83.42 L418.44 82.56 L418.61 81.67 L418.61 80.91 L418.74 80.21 L418.82 79.28 L419.1 78.64 L419.45 78.25 L419.82 78.57 L420.15 78.88 L420.39 79.52 L420.63 80.09 L420.72 80.88Z" stroke="none" stroke-width="0" fill="#e83a2a"/>
<path d="M419.39 91.15h0.9v0.9h-0.9zM416.84 97.08h0.9v0.9h-0.9zM425.31 97.13h0.9v0.9h-0.9zM415.21 93.21h0.9v0.9h-0.9zM423.82 99.62h0.9v0.9h-0.9zM422.41 90.61h0.9v0.9h-0.9zM415.81 95.79h0.9v0.9h-0.9zM415.98 92.72h0.9v0.9h-0.9zM424.27 93h0.9v0.9h-0.9zM425.66 92.13h0.9v0.9h-0.9zM424.54 92.45h0.9v0.9h-0.9zM418.77 99.73h0.9v0.9h-0.9z" stroke="none" stroke-width="0" fill="#f0e040"/>
<path d="M425.55 95.19 L425.69 96.29 L425.3 97.39 L424.36 98.28 L423.07 98.77 L421.7 98.9 L420.42 98.59 L419.11 98.57 L417.73 98.25 L416.66 97.45 L416.05 96.36 L415.98 95.19 L416.3 94.07 L417.39 93.31 L418.13 92.5 L419.21 91.98 L420.29 91.02 L421.82 90.76 L423.11 91.53 L424.16 92.28 L424.87 93.2 L425.11 94.23Z" stroke="none" stroke-width="0" fill="#f0e040"/>
<path d="M424.44 100.11h0.8v0.8h-0.8zM424.6 102.21h0.8v0.8h-0.8zM416.7 98.25h0.8v0.8h-0.8zM416.69 105.45h0.8v0.8h-0.8zM421.99 103.86h0.8v0.8h-0.8zM419.12 98.46h0.8v0.8h-0.8zM418.45 102.89h0.8v0.8h-0.8zM417.09 101.47h0.8v0.8h-0.8zM425.89 99.07h0.8v0.8h-0.8zM417.44 98.85h0.8v0.8h-0.8zM422.11 102.68h0.8v0.8h-0.8z" stroke="none" stroke-width="0" fill="#d8e068" fill-opacity="0.8"/>
<path d="M418.19 115.33h0.8v0.8h-0.8zM420.32 102.85h0.8v0.8h-0.8zM415.48 114.23h0.8v0.8h-0.8zM427.88 111.62h0.8v0.8h-0.8zM426.7 113.25h0.8v0.8h-0.8zM424.37 104.62h0.8v0.8h-0.8zM421 102.42h0.8v0.8h-0.8zM428.61 117.98h0.8v0.8h-0.8zM416.83 112.35h0.8v0.8h-0.8zM416.26 112.31h0.8v0.8h-0.8zM424.6 104.98h0.8v0.8h-0.8zM425.84 106.74h0.8v0.8h-0.8zM429.51 107.92h0.8v0.8h-0.8zM420.98 105.42h0.8v0.8h-0.8zM421.26 105.73h0.8v0.8h-0.8zM420.65 103.39h0.8v0.8h-0.8zM429.98 112.81h0.8v0.8h-0.8zM422.24 114.83h0.8v0.8h-0.8zM431.17 115.41h0.8v0.8h-0.8zM431.04 114.17h0.8v0.8h-0.8zM427.08 113.8h0.8v0.8h-0.8zM415.66 115.16h0.8v0.8h-0.8zM421.7 105.79h0.8v0.8h-0.8zM415.75 111.86h0.8v0.8h-0.8zM429.33 114.29h0.8v0.8h-0.8z" stroke="none" stroke-width="0" fill="#f2a330" fill-opacity="0.8"/>
<path d="M431.27 107.95h0.9v0.9h-0.9zM430.61 107.39h0.9v0.9h-0.9zM433.03 105.29h0.9v0.9h-0.9zM435.19 104.82h0.9v0.9h-0.9zM432.38 109.72h0.9v0.9h-0.9zM435.45 104.95h0.9v0.9h-0.9zM437.61 107.6h0.9v0.9h-0.9zM433.71 110.85h0.9v0.9h-0.9z" stroke="none" stroke-width="0" fill="#f0e040"/>
<path d="M436.92 107.71 L436.41 108.43 L436.09 109.1 L435.47 109.53 L435.14 110.49 L434.21 110.46 L433.33 110.68 L432.45 110.46 L432.03 109.62 L431.61 109.03 L431.07 108.46 L431.06 107.71 L430.76 106.88 L430.85 105.94 L431.82 105.58 L432.53 105.13 L433.4 105.17 L434.17 105.23 L434.98 105.26 L435.99 105.33 L436.34 106.17 L436.88 106.86Z" stroke="none" stroke-width="0" fill="#f0e040"/>
<path d="M412.39 98.25h0.9v0.9h-0.9zM412.46 98.88h0.9v0.9h-0.9zM411.7 97.55h0.9v0.9h-0.9zM414.45 96.82h0.9v0.9h-0.9zM411.58 96.27h0.9v0.9h-0.9zM414.69 97.13h0.9v0.9h-0.9z" stroke="none" stroke-width="0" fill="#f0c040"/>
<path d="M414.89 97.18 L414.68 97.61 L414.31 97.88 L414.04 98.13 L413.83 98.53 L413.43 98.66 L412.98 98.85 L412.51 98.73 L412.23 98.32 L412.01 97.95 L411.93 97.56 L411.86 97.18 L411.9 96.79 L411.95 96.35 L412.21 96 L412.57 95.76 L413 95.65 L413.41 95.81 L413.73 96.05 L414.16 96.09 L414.59 96.29 L414.87 96.69Z" stroke="none" stroke-width="0" fill="#f0c040"/>
<path d="M432.27 68.07h0.9v0.9h-0.9zM433.33 94.08h0.9v0.9h-0.9zM421.75 90.38h0.9v0.9h-0.9zM417.4 90.01h0.9v0.9h-0.9zM425.01 68.64h0.9v0.9h-0.9zM423.07 93.68h0.9v0.9h-0.9zM430.67 93.15h0.9v0.9h-0.9zM432.86 67.66h0.9v0.9h-0.9zM418.19 75.15h0.9v0.9h-0.9zM419.63 86.01h0.9v0.9h-0.9zM419.99 72.12h0.9v0.9h-0.9zM437.9 85.26h0.9v0.9h-0.9zM423.13 94.74h0.9v0.9h-0.9zM430.96 70.74h0.9v0.9h-0.9zM424.55 92.32h0.9v0.9h-0.9zM435.34 88.97h0.9v0.9h-0.9zM427.03 92.09h0.9v0.9h-0.9zM423.35 72.9h0.9v0.9h-0.9zM431.14 68.38h0.9v0.9h-0.9zM428.29 93.01h0.9v0.9h-0.9zM418.22 71.61h0.9v0.9h-0.9zM437.01 90.93h0.9v0.9h-0.9zM425.26 94.81h0.9v0.9h-0.9zM426.63 69.99h0.9v0.9h-0.9zM432.73 91.75h0.9v0.9h-0.9zM422.85 69.85h0.9v0.9h-0.9zM430.76 92.09h0.9v0.9h-0.9zM421.44 88.01h0.9v0.9h-0.9zM416.38 75.43h0.9v0.9h-0.9zM435.86 86.7h0.9v0.9h-0.9zM426.98 68.16h0.9v0.9h-0.9zM435.21 72.17h0.9v0.9h-0.9zM440.52 78.31h0.9v0.9h-0.9zM424.85 92.49h0.9v0.9h-0.9zM438.81 85.21h0.9v0.9h-0.9zM420.44 72.07h0.9v0.9h-0.9zM415.78 76.38h0.9v0.9h-0.9zM436.1 74.58h0.9v0.9h-0.9zM437.2 83.67h0.9v0.9h-0.9zM437.64 78.35h0.9v0.9h-0.9zM439.58 78.8h0.9v0.9h-0.9zM439.13 81.88h0.9v0.9h-0.9zM431.36 92.28h0.9v0.9h-0.9zM422.16 90.01h0.9v0.9h-0.9zM437.11 82.1h0.9v0.9h-0.9zM438.33 78.2h0.9v0.9h-0.9zM418.81 80.32h0.9v0.9h-0.9z" stroke="none" stroke-width="0" fill="#7fd0b9"/>
<path d="M439.07 81.47 L438.13 84.73 L435.61 86.82 L435.05 90.36 L432.62 92.47 L429.59 93.25 L426.55 92.99 L423.79 91.76 L421.87 89.33 L420.65 86.71 L418.63 84.52 L417.07 81.47 L417.5 78.06 L418.1 74.43 L420.41 71.76 L423.43 70.32 L426.68 70.98 L429.44 70.86 L432.35 71.11 L435.63 71.85 L437.78 74.59 L439.2 77.87Z" stroke="none" stroke-width="0" fill="#7fd0b9"/>
<path d="M434.4 68.17h0.9v0.9h-0.9zM447.97 65.32h0.9v0.9h-0.9zM452.42 68.79h0.9v0.9h-0.9zM437.56 63.69h0.9v0.9h-0.9zM453.46 77.59h0.9v0.9h-0.9zM439.16 63.78h0.9v0.9h-0.9zM433.97 71.71h0.9v0.9h-0.9zM435.31 77.53h0.9v0.9h-0.9zM450.06 63.28h0.9v0.9h-0.9zM436.62 63.69h0.9v0.9h-0.9zM438.83 63.09h0.9v0.9h-0.9zM436.11 66.83h0.9v0.9h-0.9zM444.67 60.95h0.9v0.9h-0.9zM436.44 72.73h0.9v0.9h-0.9zM437.18 79.29h0.9v0.9h-0.9zM449.78 63.25h0.9v0.9h-0.9zM439.97 62.09h0.9v0.9h-0.9zM434.88 71.12h0.9v0.9h-0.9zM453.17 75.44h0.9v0.9h-0.9zM445.5 64.12h0.9v0.9h-0.9zM435.51 72.21h0.9v0.9h-0.9zM445.08 82.74h0.9v0.9h-0.9zM444.44 84.91h0.9v0.9h-0.9zM444.26 85.77h0.9v0.9h-0.9zM455.22 76.77h0.9v0.9h-0.9zM449.28 62.12h0.9v0.9h-0.9zM443.49 81.64h0.9v0.9h-0.9zM445.44 62.49h0.9v0.9h-0.9zM449.56 84.09h0.9v0.9h-0.9zM441.45 81.88h0.9v0.9h-0.9zM446.64 61.88h0.9v0.9h-0.9zM448.75 81.54h0.9v0.9h-0.9zM435.73 66.9h0.9v0.9h-0.9zM448.51 65.34h0.9v0.9h-0.9zM452.38 69.66h0.9v0.9h-0.9zM449.55 83.14h0.9v0.9h-0.9z" stroke="none" stroke-width="0" fill="#86d3dc"/>
<path d="M452.73 73.22 L452.04 75.8 L451.39 78.4 L450.07 80.82 L448.04 82.68 L445.52 83.67 L442.92 82.95 L440.82 81.42 L438.99 79.91 L437.86 77.75 L435.41 76.1 L435.59 73.22 L434.7 70.12 L436.14 67.46 L437.95 65.21 L440.61 64.5 L443.04 64.39 L445.31 64.41 L448.03 63.79 L450.07 65.63 L451.93 67.66 L453.55 70.15Z" stroke="none" stroke-width="0" fill="#86d3dc"/>
<path d="M454.59 74.47h0.9v0.9h-0.9zM456.39 79.23h0.9v0.9h-0.9zM456.38 89.43h0.9v0.9h-0.9zM453.44 77.88h0.9v0.9h-0.9zM439.93 88.49h0.9v0.9h-0.9zM449.62 92.35h0.9v0.9h-0.9zM446.88 94.61h0.9v0.9h-0.9zM455.7 85.49h0.9v0.9h-0.9zM445.74 92.55h0.9v0.9h-0.9zM438.54 83.18h0.9v0.9h-0.9zM456.17 85.9h0.9v0.9h-0.9zM441.71 82.7h0.9v0.9h-0.9zM446.86 95h0.9v0.9h-0.9zM457.3 82.37h0.9v0.9h-0.9zM456.06 81.68h0.9v0.9h-0.9zM451.93 73.7h0.9v0.9h-0.9zM455.66 80.88h0.9v0.9h-0.9zM439.47 78.79h0.9v0.9h-0.9zM449.42 73.68h0.9v0.9h-0.9zM439.4 87.67h0.9v0.9h-0.9zM453.75 77.75h0.9v0.9h-0.9zM452.56 75.99h0.9v0.9h-0.9zM451.64 75.76h0.9v0.9h-0.9zM440.51 76.75h0.9v0.9h-0.9zM452.65 92.28h0.9v0.9h-0.9zM452.03 90.62h0.9v0.9h-0.9zM456.38 83.97h0.9v0.9h-0.9zM452.11 93.66h0.9v0.9h-0.9zM455.12 89.27h0.9v0.9h-0.9zM455.41 84.95h0.9v0.9h-0.9z" stroke="none" stroke-width="0" fill="#80cce2"/>
<path d="M456.29 83.66 L455.73 86.02 L455.17 88.42 L453.56 90.09 L452.15 92.39 L449.78 92.73 L447.44 92.95 L445.43 91.57 L443.99 89.7 L442.47 88.13 L441.55 86.01 L440.15 83.66 L441.02 81.14 L441.25 78.3 L444.06 77.71 L445.46 75.83 L447.56 75.31 L449.76 74.74 L451.95 75.42 L454.22 76.36 L455.52 78.65 L455.83 81.27Z" stroke="none" stroke-width="0" fill="#80cce2"/>
<path d="M461.3 70.85h0.9v0.9h-0.9zM468.54 84.39h0.9v0.9h-0.9zM471.2 83.21h0.9v0.9h-0.9zM457.86 74.27h0.9v0.9h-0.9zM470.39 72.9h0.9v0.9h-0.9zM469.33 83.11h0.9v0.9h-0.9zM467.12 71.1h0.9v0.9h-0.9zM458.68 72.08h0.9v0.9h-0.9zM470.81 80.78h0.9v0.9h-0.9zM457.72 82.36h0.9v0.9h-0.9zM470.45 71.07h0.9v0.9h-0.9zM454.98 76.68h0.9v0.9h-0.9zM467.05 70.75h0.9v0.9h-0.9zM463.63 70.87h0.9v0.9h-0.9zM464.44 84.74h0.9v0.9h-0.9zM458.3 73.73h0.9v0.9h-0.9zM471.65 75.67h0.9v0.9h-0.9zM466.64 70.48h0.9v0.9h-0.9zM469.89 71.65h0.9v0.9h-0.9zM463.63 69.72h0.9v0.9h-0.9zM456.97 83.27h0.9v0.9h-0.9zM468.12 83.28h0.9v0.9h-0.9zM457.02 81.85h0.9v0.9h-0.9zM470.23 80.61h0.9v0.9h-0.9zM463.28 86.57h0.9v0.9h-0.9z" stroke="none" stroke-width="0" fill="#78c050"/>
<path d="M470.92 77.5 L471 79.66 L470.65 82.01 L469.31 84.05 L466.94 84.73 L464.66 84.47 L462.7 84.16 L460.9 83.57 L459.23 82.63 L457.83 81.26 L456.07 79.74 L454.96 77.5 L456.87 75.49 L457.81 73.72 L459.51 72.69 L460.92 71.46 L462.55 69.74 L464.79 69.58 L467.14 69.83 L468.46 71.93 L469.73 73.58 L470.26 75.55Z" stroke="none" stroke-width="0" fill="#78c050"/>
<path d="M449.67 85.47h0.9v0.9h-0.9zM445.64 84.32h0.9v0.9h-0.9zM451.29 82.83h0.9v0.9h-0.9zM450.89 82.2h0.9v0.9h-0.9zM447.66 85.26h0.9v0.9h-0.9zM449.61 86.08h0.9v0.9h-0.9zM449.28 80.43h0.9v0.9h-0.9zM451.15 83.67h0.9v0.9h-0.9z" stroke="none" stroke-width="0" fill="#b0208a"/>
<path d="M450.89 83.26 L451.05 84.04 L450.67 84.71 L450.14 85.25 L449.38 85.36 L448.77 85.68 L448.07 85.78 L447.33 85.69 L446.79 85.16 L446.18 84.71 L446.2 83.92 L446.16 83.26 L446.15 82.59 L446.54 82.04 L446.68 81.24 L447.28 80.74 L448.04 80.55 L448.78 80.79 L449.39 81.13 L450.02 81.42 L450.44 81.96 L450.75 82.58Z" stroke="none" stroke-width="0" fill="#b0208a"/>
<path d="M455.29 96h0.9v0.9h-0.9zM455.82 94.49h0.9v0.9h-0.9zM452.67 96.23h0.9v0.9h-0.9zM468.55 85.49h0.9v0.9h-0.9zM457.71 81.98h0.9v0.9h-0.9zM467.73 97.13h0.9v0.9h-0.9zM454.75 86.43h0.9v0.9h-0.9zM452.98 87.63h0.9v0.9h-0.9zM453.99 82.52h0.9v0.9h-0.9zM462.08 98.23h0.9v0.9h-0.9zM465.03 82.66h0.9v0.9h-0.9zM450.33 91.51h0.9v0.9h-0.9zM451.73 88.27h0.9v0.9h-0.9zM454.68 85.91h0.9v0.9h-0.9zM467.82 82.7h0.9v0.9h-0.9zM455.42 96.15h0.9v0.9h-0.9zM464.72 96.97h0.9v0.9h-0.9zM465.73 95.35h0.9v0.9h-0.9zM453.36 96.71h0.9v0.9h-0.9zM458.75 83.52h0.9v0.9h-0.9zM451.34 87.17h0.9v0.9h-0.9zM452.96 96.48h0.9v0.9h-0.9zM469.76 87.55h0.9v0.9h-0.9zM455.15 82.03h0.9v0.9h-0.9zM470.35 85.16h0.9v0.9h-0.9zM454.59 97.61h0.9v0.9h-0.9zM457.9 83.4h0.9v0.9h-0.9zM452.13 87.45h0.9v0.9h-0.9z" stroke="none" stroke-width="0" fill="#2a48b0"/>
<path d="M469.87 89.92 L468.12 91.6 L468.39 93.75 L467.41 95.88 L464.73 96.5 L462.42 97.94 L459.66 97.33 L457.37 96.29 L455.71 94.82 L453.82 93.62 L452.85 91.84 L452.26 89.92 L452.16 87.84 L453.73 86.17 L455.69 85.01 L457.84 84.38 L459.93 84 L462.23 82.96 L465.04 82.79 L467.02 84.32 L469.26 85.65 L469.69 87.87Z" stroke="none" stroke-width="0" fill="#2a48b0"/>
<path d="M443.38 98.68h0.9v0.9h-0.9zM432.6 94.27h0.9v0.9h-0.9zM443.05 94.2h0.9v0.9h-0.9zM432.64 98.86h0.9v0.9h-0.9zM433.51 97.88h0.9v0.9h-0.9zM441.32 101.33h0.9v0.9h-0.9zM436.33 91.71h0.9v0.9h-0.9zM441.11 101.34h0.9v0.9h-0.9zM438.45 91.13h0.9v0.9h-0.9zM443.01 91.62h0.9v0.9h-0.9zM444.67 95.39h0.9v0.9h-0.9zM432.75 96.89h0.9v0.9h-0.9zM441.04 91.45h0.9v0.9h-0.9zM443.83 98.74h0.9v0.9h-0.9zM439.44 104.07h0.9v0.9h-0.9zM444.65 95.77h0.9v0.9h-0.9zM434.29 94.03h0.9v0.9h-0.9z" stroke="none" stroke-width="0" fill="#50b0e8"/>
<path d="M444.38 96.38 L444.32 98.18 L443.68 99.86 L442.04 100.56 L440.76 101.24 L439.39 101.38 L437.93 102.54 L436.31 102.21 L434.71 101.47 L434.17 99.6 L433.72 98 L433.77 96.38 L433.81 94.8 L434.66 93.51 L434.91 91.54 L436.26 90.44 L437.93 90.26 L439.49 90.62 L441.04 90.85 L441.72 92.6 L443.29 93.17 L444.26 94.6Z" stroke="none" stroke-width="0" fill="#50b0e8"/>
<path d="M441.16 97.67h0.9v0.9h-0.9zM443.79 100.97h0.9v0.9h-0.9zM453.28 96.54h0.9v0.9h-0.9zM443.25 93.25h0.9v0.9h-0.9zM453.22 100.16h0.9v0.9h-0.9zM442.18 95.2h0.9v0.9h-0.9zM445.21 100.63h0.9v0.9h-0.9zM451.85 99.33h0.9v0.9h-0.9zM450.38 94.38h0.9v0.9h-0.9zM448.44 92.96h0.9v0.9h-0.9zM452.42 95.64h0.9v0.9h-0.9zM444.89 100.22h0.9v0.9h-0.9zM441.47 97.93h0.9v0.9h-0.9z" stroke="none" stroke-width="0" fill="#e82838"/>
<path d="M452.67 100.27 L452.39 101.17 L451.06 101.27 L449.64 101.18 L448.2 101.33 L446.35 100.48 L444.3 99.74 L443.12 98.23 L442.34 96.97 L441.73 95.82 L441.56 94.81 L441.32 93.72 L441.03 92.31 L442.39 91.99 L444.32 92.44 L446.26 93.54 L447.86 93.99 L449.6 94.78 L450.73 96.04 L452.45 97.2 L454.11 98.69 L454.2 99.94Z" stroke="none" stroke-width="0" fill="#e82838"/>
<path d="M447.58 106.34h0.9v0.9h-0.9zM447.47 106.67h0.9v0.9h-0.9zM449.91 106.72h0.9v0.9h-0.9zM446.16 102.03h0.9v0.9h-0.9zM448.55 101.48h0.9v0.9h-0.9zM450.86 105.82h0.9v0.9h-0.9zM445.25 105.37h0.9v0.9h-0.9zM451.71 104.45h0.9v0.9h-0.9z" stroke="none" stroke-width="0" fill="#c01830"/>
<path d="M451.27 104.33 L451.21 105.02 L450.9 105.67 L450.23 106.08 L449.84 106.93 L448.87 106.9 L448.01 106.78 L447.25 106.49 L446.51 106.18 L446.21 105.53 L445.76 104.99 L445.39 104.33 L445.58 103.63 L445.87 102.96 L446.57 102.54 L447.21 102.1 L448.02 101.95 L448.8 102.15 L449.71 101.98 L450.64 102.19 L450.91 103 L451.13 103.67Z" stroke="none" stroke-width="0" fill="#c01830"/>
<path d="M439.82 108.12h0.9v0.9h-0.9zM444.91 107.23h0.9v0.9h-0.9zM445.4 107.72h0.9v0.9h-0.9zM441.04 107.55h0.9v0.9h-0.9zM439.63 108.4h0.9v0.9h-0.9zM439.8 111.58h0.9v0.9h-0.9zM442.91 106.64h0.9v0.9h-0.9zM439.18 111.78h0.9v0.9h-0.9zM439.29 109.69h0.9v0.9h-0.9z" stroke="none" stroke-width="0" fill="#2848a8"/>
<path d="M445.45 109.9 L445.49 110.75 L444.89 111.38 L444.78 112.44 L443.96 112.91 L443.07 113.21 L442.1 113.36 L441.22 112.92 L440.48 112.35 L439.93 111.61 L439.79 110.73 L439.36 109.9 L439.17 108.89 L439.43 107.86 L440.46 107.42 L441.28 107.01 L442.18 107.04 L443.05 106.71 L443.85 107.13 L444.82 107.31 L445.63 107.94 L445.98 108.9Z" stroke="none" stroke-width="0" fill="#2848a8"/>
<path d="M428.56 95.72h0.9v0.9h-0.9zM428.06 94.16h0.9v0.9h-0.9zM428.14 95.04h0.9v0.9h-0.9zM431.16 93.33h0.9v0.9h-0.9zM431.21 93.46h0.9v0.9h-0.9zM428.02 94.5h0.9v0.9h-0.9zM430.02 93.22h0.9v0.9h-0.9z" stroke="none" stroke-width="0" fill="#e82838"/>
<path d="M431.93 95.19 L431.95 95.72 L431.82 96.28 L431.33 96.58 L430.83 96.72 L430.37 96.86 L429.89 96.87 L429.4 96.8 L428.95 96.56 L428.5 96.24 L428.47 95.68 L428.63 95.19 L428.53 94.72 L428.72 94.28 L428.86 93.72 L429.29 93.33 L429.88 93.44 L430.37 93.54 L430.83 93.66 L431.12 94.04 L431.52 94.29 L431.97 94.65Z" stroke="none" stroke-width="0" fill="#e82838"/>
<path d="M431.45 42.27h0.8v0.8h-0.8zM431.71 39.58h0.8v0.8h-0.8zM438.93 40.36h0.8v0.8h-0.8zM434.78 38.33h0.8v0.8h-0.8zM431.19 44.3h0.8v0.8h-0.8zM436.57 43.11h0.8v0.8h-0.8zM433.35 41.29h0.8v0.8h-0.8zM439.24 39.73h0.8v0.8h-0.8zM436.94 40.71h0.8v0.8h-0.8zM429.95 43.87h0.8v0.8h-0.8z" stroke="none" stroke-width="0" fill="#d02090" fill-opacity="0.8"/>
<path d="M443.32 41.43h0.8v0.8h-0.8zM446.04 38.69h0.8v0.8h-0.8zM446.77 39.54h0.8v0.8h-0.8zM442.26 40.84h0.8v0.8h-0.8zM442.3 39.42h0.8v0.8h-0.8zM444.9 39.18h0.8v0.8h-0.8zM445.01 39.34h0.8v0.8h-0.8z" stroke="none" stroke-width="0" fill="#f08a20" fill-opacity="0.8"/>
<path d="M460.21 44.42h0.8v0.8h-0.8zM451.56 42h0.8v0.8h-0.8zM455.26 46.75h0.8v0.8h-0.8zM456.46 45.9h0.8v0.8h-0.8zM458.12 43.66h0.8v0.8h-0.8zM458.46 44.91h0.8v0.8h-0.8zM449.46 45.47h0.8v0.8h-0.8zM455.03 45.64h0.8v0.8h-0.8z" stroke="none" stroke-width="0" fill="#e86a10" fill-opacity="0.8"/>
<path d="M425.79 33.68h0.8v0.8h-0.8zM427.06 36.07h0.8v0.8h-0.8zM425.35 36.16h0.8v0.8h-0.8zM425.22 36.98h0.8v0.8h-0.8zM426.83 35.33h0.8v0.8h-0.8zM426.77 34.67h0.8v0.8h-0.8z" stroke="none" stroke-width="0" fill="#f09030" fill-opacity="0.8"/>
<path d="M452.34 51.25h0.8v0.8h-0.8zM425.71 60.31h0.8v0.8h-0.8zM448.74 58.2h0.8v0.8h-0.8zM448.25 46.92h0.8v0.8h-0.8zM432.04 53.82h0.8v0.8h-0.8zM432.94 52.77h0.8v0.8h-0.8zM422.25 62.45h0.8v0.8h-0.8zM423.25 49.67h0.8v0.8h-0.8zM422.21 60.25h0.8v0.8h-0.8zM435.06 44.17h0.8v0.8h-0.8zM440.94 63.05h0.8v0.8h-0.8zM434.24 54.84h0.8v0.8h-0.8zM427.83 61.63h0.8v0.8h-0.8zM445.29 53.09h0.8v0.8h-0.8zM418.31 59.66h0.8v0.8h-0.8zM444.88 63.9h0.8v0.8h-0.8zM441.67 57.12h0.8v0.8h-0.8zM440.1 52.93h0.8v0.8h-0.8zM444.05 58.3h0.8v0.8h-0.8zM440.43 53.72h0.8v0.8h-0.8zM441.58 50.53h0.8v0.8h-0.8zM438.32 62.14h0.8v0.8h-0.8zM434.74 46.24h0.8v0.8h-0.8zM428.45 59.14h0.8v0.8h-0.8zM448.97 56.59h0.8v0.8h-0.8zM438.46 52.66h0.8v0.8h-0.8zM435.74 64.91h0.8v0.8h-0.8zM432.82 54.1h0.8v0.8h-0.8zM447.46 63.69h0.8v0.8h-0.8zM416.22 54.63h0.8v0.8h-0.8zM438.73 63.79h0.8v0.8h-0.8zM424.69 64.5h0.8v0.8h-0.8zM441.59 65.48h0.8v0.8h-0.8zM438.06 63.41h0.8v0.8h-0.8zM423.5 64.18h0.8v0.8h-0.8zM436.49 46.51h0.8v0.8h-0.8zM434.04 61.89h0.8v0.8h-0.8zM421.38 63.68h0.8v0.8h-0.8zM452.36 52.05h0.8v0.8h-0.8zM437.76 49.38h0.8v0.8h-0.8zM448.54 57.62h0.8v0.8h-0.8zM427.74 55.95h0.8v0.8h-0.8zM438.29 46.77h0.8v0.8h-0.8zM443.54 65.75h0.8v0.8h-0.8zM421.16 50.05h0.8v0.8h-0.8zM437.57 68.37h0.8v0.8h-0.8zM435.3 49.66h0.8v0.8h-0.8zM428.06 53.05h0.8v0.8h-0.8zM420.53 60.29h0.8v0.8h-0.8zM443.08 47.26h0.8v0.8h-0.8zM430.34 60.83h0.8v0.8h-0.8zM424.9 48.42h0.8v0.8h-0.8zM432.23 45.02h0.8v0.8h-0.8zM431.91 44.1h0.8v0.8h-0.8zM428.66 53.61h0.8v0.8h-0.8z" stroke="none" stroke-width="0" fill="#5ec4ee" fill-opacity="0.8"/>
<path d="M443.4 67.56h0.8v0.8h-0.8zM445.49 59.89h0.8v0.8h-0.8zM453.31 65.65h0.8v0.8h-0.8zM440.16 63.84h0.8v0.8h-0.8zM446.55 62.19h0.8v0.8h-0.8zM445.14 62.05h0.8v0.8h-0.8zM440.49 62.57h0.8v0.8h-0.8zM442.79 70.67h0.8v0.8h-0.8zM435.3 66.6h0.8v0.8h-0.8zM450.22 68.68h0.8v0.8h-0.8zM444.41 71.24h0.8v0.8h-0.8zM445.08 61.25h0.8v0.8h-0.8zM445.12 68.1h0.8v0.8h-0.8zM451.84 67.99h0.8v0.8h-0.8zM449.97 64.34h0.8v0.8h-0.8zM439.66 64.41h0.8v0.8h-0.8zM441.34 60.33h0.8v0.8h-0.8zM450.78 61.93h0.8v0.8h-0.8z" stroke="none" stroke-width="0" fill="#5ec4ee" fill-opacity="0.8"/>
<path d="M442.81 54.75 L442.85 55.84 L441.79 55.62 L440.85 55.59 L439.73 54.63 L438.71 53.99 L438 52.95 L437.2 52.04 L436.13 50.92 L435.96 49.88 L435.99 48.97 L436.6 48.53 L437.53 48.59 L438.35 48.69 L439.09 48.5 L440.12 48.95 L441.13 49.73 L442.46 50.41 L442.88 51.66 L443.21 52.67 L443.35 53.56 L443.51 54.49Z" stroke="none" stroke-width="0" fill="#7b3fb0" fill-opacity="0.38"/>
<path d="M438.42 50.75h0.9v0.9h-0.9zM439 53.6h0.9v0.9h-0.9zM441.61 54.31h0.9v0.9h-0.9zM440 53.93h0.9v0.9h-0.9zM442.71 52.37h0.9v0.9h-0.9zM439.41 54.36h0.9v0.9h-0.9zM443.52 50.24h0.9v0.9h-0.9zM435.24 51.04h0.9v0.9h-0.9zM439.24 51.43h0.9v0.9h-0.9zM438.55 51.57h0.9v0.9h-0.9zM442.04 54.1h0.9v0.9h-0.9zM439.56 51.66h0.9v0.9h-0.9zM440.74 52.24h0.9v0.9h-0.9zM438.07 49.05h0.9v0.9h-0.9zM443.01 53.58h0.9v0.9h-0.9zM442.63 49.78h0.9v0.9h-0.9zM436 50.24h0.9v0.9h-0.9zM444.29 53.59h0.9v0.9h-0.9z" stroke="none" stroke-width="0" fill="#7b3fb0"/>
<path d="M448.95 55.56h0.8v0.8h-0.8zM457.64 54.89h0.8v0.8h-0.8zM457.76 56.6h0.8v0.8h-0.8zM456.88 57.83h0.8v0.8h-0.8zM453.97 59.25h0.8v0.8h-0.8zM449.11 63.79h0.8v0.8h-0.8zM453.33 56.16h0.8v0.8h-0.8zM458.48 53.86h0.8v0.8h-0.8zM454.25 61.34h0.8v0.8h-0.8zM458.84 63.3h0.8v0.8h-0.8zM453.55 62.47h0.8v0.8h-0.8zM456.15 62.82h0.8v0.8h-0.8zM454.78 55.18h0.8v0.8h-0.8zM460.75 56.74h0.8v0.8h-0.8zM451.27 61.16h0.8v0.8h-0.8zM458.3 56.94h0.8v0.8h-0.8zM454.56 64.37h0.8v0.8h-0.8zM451.36 57.8h0.8v0.8h-0.8z" stroke="none" stroke-width="0" fill="#3545a8" fill-opacity="0.8"/>
<path d="M424.18 57.15h0.8v0.8h-0.8zM424.01 58.02h0.8v0.8h-0.8zM420.61 60.07h0.8v0.8h-0.8zM421.22 61.82h0.8v0.8h-0.8zM422.45 60.85h0.8v0.8h-0.8zM424.55 55.75h0.8v0.8h-0.8zM425.49 58.91h0.8v0.8h-0.8zM421.79 56.86h0.8v0.8h-0.8zM425.4 57.01h0.8v0.8h-0.8z" stroke="none" stroke-width="0" fill="#8cc63e" fill-opacity="0.8"/>
<path d="M431.86 63.6h0.9v0.9h-0.9zM425.87 65.29h0.9v0.9h-0.9zM432.37 63.18h0.9v0.9h-0.9zM427.39 62.25h0.9v0.9h-0.9zM432.25 66.52h0.9v0.9h-0.9zM426.67 67.52h0.9v0.9h-0.9zM429.83 68.34h0.9v0.9h-0.9zM428.47 68.38h0.9v0.9h-0.9zM429.48 62.5h0.9v0.9h-0.9z" stroke="none" stroke-width="0" fill="#f04a20"/>
<path d="M432.51 65.27 L432.3 66.02 L431.83 66.65 L431.5 67.42 L430.97 68.35 L429.91 68.7 L428.86 68.14 L427.9 67.99 L427.38 67.22 L426.81 66.67 L426.16 66.08 L425.47 65.27 L425.82 64.38 L426.42 63.66 L427.05 63 L427.93 62.62 L428.85 62.34 L429.83 62.35 L430.85 62.42 L431.94 62.69 L432.6 63.47 L432.92 64.37Z" stroke="none" stroke-width="0" fill="#f04a20"/>
<path d="M426.79 54.14h0.9v0.9h-0.9zM428.24 53.18h0.9v0.9h-0.9zM428.17 53.94h0.9v0.9h-0.9zM429.46 56.43h0.9v0.9h-0.9zM428.72 53.55h0.9v0.9h-0.9zM429.06 56.69h0.9v0.9h-0.9zM429.65 56.08h0.9v0.9h-0.9z" stroke="none" stroke-width="0" fill="#f04020"/>
<path d="M429.3 55.43 L429.23 55.9 L429.06 56.34 L428.75 56.7 L428.43 57.12 L427.94 57.41 L427.4 57.22 L426.89 57.13 L426.54 56.73 L426.33 56.29 L426.05 55.91 L425.67 55.43 L425.72 54.86 L426.2 54.49 L426.56 54.16 L426.94 53.85 L427.44 53.92 L427.9 53.73 L428.44 53.7 L428.88 54.01 L429.29 54.38 L429.46 54.9Z" stroke="none" stroke-width="0" fill="#f04020"/>
<path d="M424.26 67.76 L424.51 68.43 L424.37 69.1 L424.11 69.76 L423.54 69.89 L423.06 70.05 L422.59 69.81 L422.11 69.82 L421.81 69.3 L421.37 69 L421.02 68.46 L420.89 67.76 L421.2 67.12 L421.4 66.54 L421.75 66.11 L422.09 65.63 L422.57 65.46 L423.09 65.2 L423.61 65.42 L423.86 66.14 L424.25 66.52 L424.32 67.16Z" stroke="none" stroke-width="0" fill="#8040b0" fill-opacity="0.38"/>
<path d="M423.39 67.16h0.9v0.9h-0.9zM422.7 67.24h0.9v0.9h-0.9zM424.38 67.33h0.9v0.9h-0.9zM424.49 68.41h0.9v0.9h-0.9zM424.43 66.15h0.9v0.9h-0.9zM421.78 67.57h0.9v0.9h-0.9zM422.62 70.3h0.9v0.9h-0.9zM423.83 68.92h0.9v0.9h-0.9zM424.39 67.28h0.9v0.9h-0.9zM423.86 69.56h0.9v0.9h-0.9zM421.12 66.7h0.9v0.9h-0.9zM423.16 70.34h0.9v0.9h-0.9z" stroke="none" stroke-width="0" fill="#8040b0"/>
<path d="M402.38 63.05h0.9v0.9h-0.9zM404.59 63.68h0.9v0.9h-0.9zM403.76 65.96h0.9v0.9h-0.9zM404.61 65.39h0.9v0.9h-0.9zM402.86 66.74h0.9v0.9h-0.9zM401.84 63.1h0.9v0.9h-0.9zM400.83 65.06h0.9v0.9h-0.9z" stroke="none" stroke-width="0" fill="#f0d040"/>
<path d="M404.53 64.78 L404.4 65.35 L404.38 66.03 L403.82 66.3 L403.34 66.5 L402.85 66.42 L402.4 66.63 L401.94 66.48 L401.48 66.27 L400.91 66.01 L400.91 65.34 L400.9 64.78 L401.12 64.28 L401.18 63.73 L401.52 63.34 L401.94 63.07 L402.37 62.69 L402.91 62.65 L403.33 63.08 L403.85 63.21 L404.07 63.75 L404.1 64.29Z" stroke="none" stroke-width="0" fill="#f0d040"/>
<path d="M405.35 69.37h0.9v0.9h-0.9zM407.21 68.7h0.9v0.9h-0.9zM404.82 65.69h0.9v0.9h-0.9zM407.07 66.77h0.9v0.9h-0.9zM406.48 68.55h0.9v0.9h-0.9zM404.38 68.37h0.9v0.9h-0.9zM406.3 68.69h0.9v0.9h-0.9z" stroke="none" stroke-width="0" fill="#8cc63e"/>
<path d="M407.65 67.26 L407.33 67.77 L407.04 68.19 L406.64 68.47 L406.34 68.89 L405.83 68.82 L405.37 68.9 L404.87 68.86 L404.39 68.66 L404.15 68.2 L403.97 67.74 L404.13 67.26 L404.14 66.83 L404.13 66.31 L404.3 65.75 L404.79 65.48 L405.35 65.47 L405.85 65.55 L406.24 65.85 L406.69 65.99 L407.07 66.31 L407.3 66.76Z" stroke="none" stroke-width="0" fill="#8cc63e"/>
<path d="M385.96 73.09h0.9v0.9h-0.9zM388.39 72.2h0.9v0.9h-0.9zM389.06 72.52h0.9v0.9h-0.9zM387.35 72.23h0.9v0.9h-0.9zM385.46 73.61h0.9v0.9h-0.9zM387.32 75.04h0.9v0.9h-0.9z" stroke="none" stroke-width="0" fill="#f0e040"/>
<path d="M388.87 73.42 L388.89 73.83 L388.76 74.24 L388.37 74.51 L387.94 74.65 L387.52 74.71 L387.11 74.61 L386.64 74.7 L386.28 74.47 L385.83 74.25 L385.61 73.86 L385.75 73.42 L385.8 73.03 L385.99 72.68 L386.37 72.47 L386.63 72.11 L387.07 71.97 L387.57 71.83 L388.04 72.01 L388.29 72.42 L388.58 72.7 L388.77 73.05Z" stroke="none" stroke-width="0" fill="#f0e040"/>
</g>
<text x="388.99" y="57.93" font-size="4.6" fill="#111" text-anchor="middle" font-weight="normal">34</text>
<text x="399.87" y="50.67" font-size="4.6" fill="#111" text-anchor="middle" font-weight="normal">17</text>
<text x="409.06" y="47.59" font-size="4.6" fill="#111" text-anchor="middle" font-weight="normal">26</text>
<text x="414.5" y="39.64" font-size="4.6" fill="#111" text-anchor="middle" font-weight="normal">38</text>
<text x="409.95" y="60.11" font-size="4.6" fill="#111" text-anchor="middle" font-weight="normal">39</text>
<text x="375.73" y="55.94" font-size="4.6" fill="#111" text-anchor="middle" font-weight="normal">16</text>
<text x="374.94" y="67.97" font-size="4.6" fill="#111" text-anchor="middle" font-weight="normal">42</text>
<text x="383.35" y="73.43" font-size="4.6" fill="#111" text-anchor="middle" font-weight="normal">27</text>
<text x="398.19" y="80.39" font-size="4.6" fill="#111" text-anchor="middle" font-weight="normal">30</text>
<text x="378.9" y="85.86" font-size="4.6" fill="#111" text-anchor="middle" font-weight="normal">3</text>
<text x="385.53" y="83.97" font-size="4.6" fill="#111" text-anchor="middle" font-weight="normal">9</text>
<text x="389.58" y="94.6" font-size="4.6" fill="#111" text-anchor="middle" font-weight="normal">13</text>
<text x="382.46" y="102.26" font-size="4.6" fill="#111" text-anchor="middle" font-weight="normal">2</text>
<text x="396.11" y="103.05" font-size="4.6" fill="#111" text-anchor="middle" font-weight="normal">11</text>
<text x="404.32" y="109.51" font-size="4.6" fill="#111" text-anchor="middle" font-weight="normal">15</text>
<text x="405.6" y="97.09" font-size="4.6" fill="#111" text-anchor="middle" font-weight="normal">28</text>
<text x="406.69" y="87.05" font-size="4.6" fill="#111" text-anchor="middle" font-weight="normal">7</text>
<text x="414.4" y="88.24" font-size="4.6" fill="#111" text-anchor="middle" font-weight="normal">14</text>
<text x="421.03" y="96.89" font-size="4.6" fill="#111" text-anchor="middle" font-weight="normal">8</text>
<text x="420.44" y="103.55" font-size="4.6" fill="#111" text-anchor="middle" font-weight="normal">10</text>
<text x="423.4" y="113.98" font-size="4.6" fill="#111" text-anchor="middle" font-weight="normal">6</text>
<text x="426.37" y="81.88" font-size="4.6" fill="#111" text-anchor="middle" font-weight="normal">21</text>
<text x="440.51" y="76.41" font-size="4.6" fill="#111" text-anchor="middle" font-weight="normal">23</text>
<text x="449.12" y="79.89" font-size="4.6" fill="#111" text-anchor="middle" font-weight="normal">22</text>
<text x="464.15" y="78.8" font-size="4.6" fill="#111" text-anchor="middle" font-weight="normal">18</text>
<text x="447.83" y="85.56" font-size="4.6" fill="#111" text-anchor="middle" font-weight="normal">29</text>
<text x="461.48" y="91.32" font-size="4.6" fill="#111" text-anchor="middle" font-weight="normal">35</text>
<text x="438.73" y="98.08" font-size="4.6" fill="#111" text-anchor="middle" font-weight="normal">25</text>
<text x="447.14" y="98.78" font-size="4.6" fill="#111" text-anchor="middle" font-weight="normal">31</text>
<text x="448.43" y="106.03" font-size="4.6" fill="#111" text-anchor="middle" font-weight="normal">43</text>
<text x="442.59" y="111.6" font-size="4.6" fill="#111" text-anchor="middle" font-weight="normal">33</text>
<text x="432.6" y="42.62" font-size="4.6" fill="#111" text-anchor="middle" font-weight="normal">40</text>
<text x="444.67" y="40.93" font-size="4.6" fill="#111" text-anchor="middle" font-weight="normal">5</text>
<text x="453.57" y="46.1" font-size="4.6" fill="#111" text-anchor="middle" font-weight="normal">4</text>
<text x="432.6" y="58.23" font-size="4.6" fill="#111" text-anchor="middle" font-weight="normal">24</text>
<text x="439.92" y="53.55" font-size="4.6" fill="#111" text-anchor="middle" font-weight="normal">37</text>
<text x="455.55" y="61.01" font-size="4.6" fill="#111" text-anchor="middle" font-weight="normal">32</text>
<text x="424.69" y="61.51" font-size="4.6" fill="#111" text-anchor="middle" font-weight="normal">12</text>
<text x="429.34" y="66.97" font-size="4.6" fill="#111" text-anchor="middle" font-weight="normal">9</text>
<text x="414.11" y="65.08" font-size="4.6" fill="#111" text-anchor="middle" font-weight="normal">20</text>
<text x="391.95" y="41.83" font-size="4.6" fill="#111" text-anchor="middle" font-weight="normal">36</text>
<text x="369.11" y="62.4" font-size="4.6" fill="#111" text-anchor="middle" font-weight="normal">44</text>
<text x="411.14" y="72.94" font-size="4.6" fill="#111" text-anchor="middle" font-weight="normal">19</text>
<text x="395.61" y="86.85" font-size="4.6" fill="#111" text-anchor="middle" font-weight="normal">1</text>
</g>
<rect x="363.5" y="28.4" width="113.6" height="95.8" fill="none" stroke="#666" stroke-width="0.9"/>
<line x1="361.5" y1="44.4" x2="363.5" y2="44.4" stroke="#4a4a4a" stroke-width="0.6"/>
<text x="359.1" y="46" font-size="5.8" fill="#4d4d4d" text-anchor="end" font-weight="normal">20</text>
<line x1="361.5" y1="60.7" x2="363.5" y2="60.7" stroke="#4a4a4a" stroke-width="0.6"/>
<text x="359.1" y="62.3" font-size="5.8" fill="#4d4d4d" text-anchor="end" font-weight="normal">10</text>
<line x1="361.5" y1="77" x2="363.5" y2="77" stroke="#4a4a4a" stroke-width="0.6"/>
<text x="359.1" y="78.6" font-size="5.8" fill="#4d4d4d" text-anchor="end" font-weight="normal">0</text>
<line x1="361.5" y1="93.3" x2="363.5" y2="93.3" stroke="#4a4a4a" stroke-width="0.6"/>
<text x="359.1" y="94.9" font-size="5.8" fill="#4d4d4d" text-anchor="end" font-weight="normal">−10</text>
<line x1="361.5" y1="109.6" x2="363.5" y2="109.6" stroke="#4a4a4a" stroke-width="0.6"/>
<text x="359.1" y="111.2" font-size="5.8" fill="#4d4d4d" text-anchor="end" font-weight="normal">−20</text>
<line x1="365.35" y1="124.2" x2="365.35" y2="126.2" stroke="#4a4a4a" stroke-width="0.6"/>
<text x="365.35" y="133.6" font-size="5.8" fill="#4d4d4d" text-anchor="middle" font-weight="normal">−30</text>
<line x1="383.35" y1="124.2" x2="383.35" y2="126.2" stroke="#4a4a4a" stroke-width="0.6"/>
<text x="383.35" y="133.6" font-size="5.8" fill="#4d4d4d" text-anchor="middle" font-weight="normal">−20</text>
<line x1="401.35" y1="124.2" x2="401.35" y2="126.2" stroke="#4a4a4a" stroke-width="0.6"/>
<text x="401.35" y="133.6" font-size="5.8" fill="#4d4d4d" text-anchor="middle" font-weight="normal">−10</text>
<line x1="419.35" y1="124.2" x2="419.35" y2="126.2" stroke="#4a4a4a" stroke-width="0.6"/>
<text x="419.35" y="133.6" font-size="5.8" fill="#4d4d4d" text-anchor="middle" font-weight="normal">0</text>
<line x1="437.35" y1="124.2" x2="437.35" y2="126.2" stroke="#4a4a4a" stroke-width="0.6"/>
<text x="437.35" y="133.6" font-size="5.8" fill="#4d4d4d" text-anchor="middle" font-weight="normal">10</text>
<line x1="455.35" y1="124.2" x2="455.35" y2="126.2" stroke="#4a4a4a" stroke-width="0.6"/>
<text x="455.35" y="133.6" font-size="5.8" fill="#4d4d4d" text-anchor="middle" font-weight="normal">20</text>
<line x1="473.35" y1="124.2" x2="473.35" y2="126.2" stroke="#4a4a4a" stroke-width="0.6"/>
<text x="473.35" y="133.6" font-size="5.8" fill="#4d4d4d" text-anchor="middle" font-weight="normal">30</text>
<text transform="translate(422.3 144.8) scale(0.847 1)" font-size="7.2" fill="#333" text-anchor="middle" font-weight="normal">tsne_1</text>
<text transform="translate(61.4 66.8) rotate(-90) scale(0.814 1)" font-size="7.2" fill="#333" text-anchor="middle" font-weight="normal">tsne_2</text>
<text transform="translate(204.3 76.4) rotate(-90) scale(0.800 1)" font-size="7.2" fill="#333" text-anchor="middle" font-weight="normal">tsne_2</text>
<text transform="translate(347.1 77) rotate(-90) scale(0.833 1)" font-size="7.2" fill="#333" text-anchor="middle" font-weight="normal">tsne_2</text>
<path d="M59.6 143.2V82.5" stroke="#111" stroke-width="0.9" fill="none"/>
<path d="M57.2 83.2L59.6 78.9L62.0 83.2Z" stroke="none" stroke-width="0" fill="#111"/>
<path d="M59.2 143.2H119.5" stroke="#111" stroke-width="0.9" fill="none"/>
<path d="M119.0 140.8L123.4 143.2L119.0 145.6Z" stroke="none" stroke-width="0" fill="#111"/>
<text x="55.7" y="110.5" font-size="7.6" fill="#111" text-anchor="middle" font-weight="bold" transform="rotate(-90 55.7 110.5)">tSNE2</text>
<text x="92" y="152.3" font-size="7.6" fill="#111" text-anchor="middle" font-weight="bold">tSNE1</text>
<text x="18" y="204" font-size="10.8" fill="#111" text-anchor="start" font-weight="bold">B</text>
<g><rect x="36.1" y="210.5" width="3.72" height="4.09" fill="#2a8dc7"/><rect x="39.82" y="210.5" width="3.72" height="4.09" fill="#84cfbe"/><rect x="43.54" y="210.5" width="3.72" height="4.09" fill="#84cfbe"/><rect x="47.26" y="210.5" width="3.72" height="4.09" fill="#84cfbe"/><rect x="50.98" y="210.5" width="3.72" height="4.09" fill="#45b7cb"/><rect x="54.7" y="210.5" width="3.72" height="4.09" fill="#45b7cb"/><rect x="58.42" y="210.5" width="3.72" height="4.09" fill="#84cfbe"/><rect x="62.14" y="210.5" width="3.72" height="4.09" fill="#84cfbe"/><rect x="65.86" y="210.5" width="3.72" height="4.09" fill="#84cfbe"/><rect x="69.58" y="210.5" width="3.72" height="4.09" fill="#45b7cb"/><rect x="73.3" y="210.5" width="3.72" height="4.09" fill="#2a8dc7"/><rect x="77.02" y="210.5" width="3.72" height="4.09" fill="#2a8dc7"/><rect x="80.74" y="210.5" width="3.72" height="4.09" fill="#45b7cb"/><rect x="84.46" y="210.5" width="3.72" height="4.09" fill="#45b7cb"/><rect x="88.18" y="210.5" width="3.72" height="4.09" fill="#84cfbe"/><rect x="91.9" y="210.5" width="3.72" height="4.09" fill="#45b7cb"/><rect x="95.62" y="210.5" width="3.72" height="4.09" fill="#2b5cae"/><rect x="99.34" y="210.5" width="3.72" height="4.09" fill="#2b5cae"/><rect x="103.06" y="210.5" width="3.72" height="4.09" fill="#2b5cae"/><rect x="106.78" y="210.5" width="3.72" height="4.09" fill="#2a8dc7"/><rect x="110.5" y="210.5" width="3.72" height="4.09" fill="#84cfbe"/><rect x="114.22" y="210.5" width="3.72" height="4.09" fill="#45b7cb"/><rect x="117.94" y="210.5" width="3.72" height="4.09" fill="#84cfbe"/><rect x="121.66" y="210.5" width="3.72" height="4.09" fill="#2a8dc7"/><rect x="125.38" y="210.5" width="3.72" height="4.09" fill="#45b7cb"/><rect x="129.1" y="210.5" width="3.72" height="4.09" fill="#2a8dc7"/><rect x="132.82" y="210.5" width="3.72" height="4.09" fill="#84cfbe"/><rect x="136.54" y="210.5" width="3.72" height="4.09" fill="#84cfbe"/><rect x="140.26" y="210.5" width="3.72" height="4.09" fill="#84cfbe"/><rect x="36.1" y="214.59" width="3.72" height="4.09" fill="#2a8dc7"/><rect x="39.82" y="214.59" width="3.72" height="4.09" fill="#84cfbe"/><rect x="43.54" y="214.59" width="3.72" height="4.09" fill="#84cfbe"/><rect x="47.26" y="214.59" width="3.72" height="4.09" fill="#84cfbe"/><rect x="50.98" y="214.59" width="3.72" height="4.09" fill="#84cfbe"/><rect x="54.7" y="214.59" width="3.72" height="4.09" fill="#84cfbe"/><rect x="58.42" y="214.59" width="3.72" height="4.09" fill="#2a8dc7"/><rect x="62.14" y="214.59" width="3.72" height="4.09" fill="#84cfbe"/><rect x="65.86" y="214.59" width="3.72" height="4.09" fill="#84cfbe"/><rect x="69.58" y="214.59" width="3.72" height="4.09" fill="#2a8dc7"/><rect x="73.3" y="214.59" width="3.72" height="4.09" fill="#2a8dc7"/><rect x="77.02" y="214.59" width="3.72" height="4.09" fill="#45b7cb"/><rect x="80.74" y="214.59" width="3.72" height="4.09" fill="#84cfbe"/><rect x="84.46" y="214.59" width="3.72" height="4.09" fill="#2a8dc7"/><rect x="88.18" y="214.59" width="3.72" height="4.09" fill="#2a8dc7"/><rect x="91.9" y="214.59" width="3.72" height="4.09" fill="#84cfbe"/><rect x="95.62" y="214.59" width="3.72" height="4.09" fill="#2a8dc7"/><rect x="99.34" y="214.59" width="3.72" height="4.09" fill="#2a8dc7"/><rect x="103.06" y="214.59" width="3.72" height="4.09" fill="#2a8dc7"/><rect x="106.78" y="214.59" width="3.72" height="4.09" fill="#2a8dc7"/><rect x="110.5" y="214.59" width="3.72" height="4.09" fill="#84cfbe"/><rect x="114.22" y="214.59" width="3.72" height="4.09" fill="#84cfbe"/><rect x="117.94" y="214.59" width="3.72" height="4.09" fill="#84cfbe"/><rect x="121.66" y="214.59" width="3.72" height="4.09" fill="#84cfbe"/><rect x="125.38" y="214.59" width="3.72" height="4.09" fill="#84cfbe"/><rect x="129.1" y="214.59" width="3.72" height="4.09" fill="#84cfbe"/><rect x="132.82" y="214.59" width="3.72" height="4.09" fill="#2a8dc7"/><rect x="136.54" y="214.59" width="3.72" height="4.09" fill="#2a8dc7"/><rect x="140.26" y="214.59" width="3.72" height="4.09" fill="#2a8dc7"/><rect x="36.1" y="218.68" width="3.72" height="4.09" fill="#84cfbe"/><rect x="39.82" y="218.68" width="3.72" height="4.09" fill="#84cfbe"/><rect x="43.54" y="218.68" width="3.72" height="4.09" fill="#cfe9b8"/><rect x="47.26" y="218.68" width="3.72" height="4.09" fill="#45b7cb"/><rect x="50.98" y="218.68" width="3.72" height="4.09" fill="#84cfbe"/><rect x="54.7" y="218.68" width="3.72" height="4.09" fill="#45b7cb"/><rect x="58.42" y="218.68" width="3.72" height="4.09" fill="#84cfbe"/><rect x="62.14" y="218.68" width="3.72" height="4.09" fill="#84cfbe"/><rect x="65.86" y="218.68" width="3.72" height="4.09" fill="#84cfbe"/><rect x="69.58" y="218.68" width="3.72" height="4.09" fill="#45b7cb"/><rect x="73.3" y="218.68" width="3.72" height="4.09" fill="#2a8dc7"/><rect x="77.02" y="218.68" width="3.72" height="4.09" fill="#2b5cae"/><rect x="80.74" y="218.68" width="3.72" height="4.09" fill="#45b7cb"/><rect x="84.46" y="218.68" width="3.72" height="4.09" fill="#2a8dc7"/><rect x="88.18" y="218.68" width="3.72" height="4.09" fill="#45b7cb"/><rect x="91.9" y="218.68" width="3.72" height="4.09" fill="#2a8dc7"/><rect x="95.62" y="218.68" width="3.72" height="4.09" fill="#2a8dc7"/><rect x="99.34" y="218.68" width="3.72" height="4.09" fill="#2a8dc7"/><rect x="103.06" y="218.68" width="3.72" height="4.09" fill="#2a8dc7"/><rect x="106.78" y="218.68" width="3.72" height="4.09" fill="#2a8dc7"/><rect x="110.5" y="218.68" width="3.72" height="4.09" fill="#84cfbe"/><rect x="114.22" y="218.68" width="3.72" height="4.09" fill="#45b7cb"/><rect x="117.94" y="218.68" width="3.72" height="4.09" fill="#84cfbe"/><rect x="121.66" y="218.68" width="3.72" height="4.09" fill="#84cfbe"/><rect x="125.38" y="218.68" width="3.72" height="4.09" fill="#45b7cb"/><rect x="129.1" y="218.68" width="3.72" height="4.09" fill="#45b7cb"/><rect x="132.82" y="218.68" width="3.72" height="4.09" fill="#2a8dc7"/><rect x="136.54" y="218.68" width="3.72" height="4.09" fill="#45b7cb"/><rect x="140.26" y="218.68" width="3.72" height="4.09" fill="#45b7cb"/><rect x="36.1" y="222.77" width="3.72" height="4.09" fill="#84cfbe"/><rect x="39.82" y="222.77" width="3.72" height="4.09" fill="#84cfbe"/><rect x="43.54" y="222.77" width="3.72" height="4.09" fill="#84cfbe"/><rect x="47.26" y="222.77" width="3.72" height="4.09" fill="#84cfbe"/><rect x="50.98" y="222.77" width="3.72" height="4.09" fill="#84cfbe"/><rect x="54.7" y="222.77" width="3.72" height="4.09" fill="#45b7cb"/><rect x="58.42" y="222.77" width="3.72" height="4.09" fill="#84cfbe"/><rect x="62.14" y="222.77" width="3.72" height="4.09" fill="#84cfbe"/><rect x="65.86" y="222.77" width="3.72" height="4.09" fill="#84cfbe"/><rect x="69.58" y="222.77" width="3.72" height="4.09" fill="#84cfbe"/><rect x="73.3" y="222.77" width="3.72" height="4.09" fill="#2a8dc7"/><rect x="77.02" y="222.77" width="3.72" height="4.09" fill="#2a8dc7"/><rect x="80.74" y="222.77" width="3.72" height="4.09" fill="#45b7cb"/><rect x="84.46" y="222.77" width="3.72" height="4.09" fill="#2a8dc7"/><rect x="88.18" y="222.77" width="3.72" height="4.09" fill="#45b7cb"/><rect x="91.9" y="222.77" width="3.72" height="4.09" fill="#45b7cb"/><rect x="95.62" y="222.77" width="3.72" height="4.09" fill="#2a8dc7"/><rect x="99.34" y="222.77" width="3.72" height="4.09" fill="#2a8dc7"/><rect x="103.06" y="222.77" width="3.72" height="4.09" fill="#2b5cae"/><rect x="106.78" y="222.77" width="3.72" height="4.09" fill="#2a8dc7"/><rect x="110.5" y="222.77" width="3.72" height="4.09" fill="#84cfbe"/><rect x="114.22" y="222.77" width="3.72" height="4.09" fill="#84cfbe"/><rect x="117.94" y="222.77" width="3.72" height="4.09" fill="#45b7cb"/><rect x="121.66" y="222.77" width="3.72" height="4.09" fill="#45b7cb"/><rect x="125.38" y="222.77" width="3.72" height="4.09" fill="#2a8dc7"/><rect x="129.1" y="222.77" width="3.72" height="4.09" fill="#45b7cb"/><rect x="132.82" y="222.77" width="3.72" height="4.09" fill="#45b7cb"/><rect x="136.54" y="222.77" width="3.72" height="4.09" fill="#45b7cb"/><rect x="140.26" y="222.77" width="3.72" height="4.09" fill="#45b7cb"/><rect x="36.1" y="226.86" width="3.72" height="4.09" fill="#2a8dc7"/><rect x="39.82" y="226.86" width="3.72" height="4.09" fill="#84cfbe"/><rect x="43.54" y="226.86" width="3.72" height="4.09" fill="#84cfbe"/><rect x="47.26" y="226.86" width="3.72" height="4.09" fill="#84cfbe"/><rect x="50.98" y="226.86" width="3.72" height="4.09" fill="#84cfbe"/><rect x="54.7" y="226.86" width="3.72" height="4.09" fill="#84cfbe"/><rect x="58.42" y="226.86" width="3.72" height="4.09" fill="#84cfbe"/><rect x="62.14" y="226.86" width="3.72" height="4.09" fill="#84cfbe"/><rect x="65.86" y="226.86" width="3.72" height="4.09" fill="#84cfbe"/><rect x="69.58" y="226.86" width="3.72" height="4.09" fill="#45b7cb"/><rect x="73.3" y="226.86" width="3.72" height="4.09" fill="#2a8dc7"/><rect x="77.02" y="226.86" width="3.72" height="4.09" fill="#2a8dc7"/><rect x="80.74" y="226.86" width="3.72" height="4.09" fill="#84cfbe"/><rect x="84.46" y="226.86" width="3.72" height="4.09" fill="#45b7cb"/><rect x="88.18" y="226.86" width="3.72" height="4.09" fill="#45b7cb"/><rect x="91.9" y="226.86" width="3.72" height="4.09" fill="#84cfbe"/><rect x="95.62" y="226.86" width="3.72" height="4.09" fill="#45b7cb"/><rect x="99.34" y="226.86" width="3.72" height="4.09" fill="#84cfbe"/><rect x="103.06" y="226.86" width="3.72" height="4.09" fill="#84cfbe"/><rect x="106.78" y="226.86" width="3.72" height="4.09" fill="#45b7cb"/><rect x="110.5" y="226.86" width="3.72" height="4.09" fill="#2a8dc7"/><rect x="114.22" y="226.86" width="3.72" height="4.09" fill="#45b7cb"/><rect x="117.94" y="226.86" width="3.72" height="4.09" fill="#45b7cb"/><rect x="121.66" y="226.86" width="3.72" height="4.09" fill="#2b5cae"/><rect x="125.38" y="226.86" width="3.72" height="4.09" fill="#2a8dc7"/><rect x="129.1" y="226.86" width="3.72" height="4.09" fill="#2a8dc7"/><rect x="132.82" y="226.86" width="3.72" height="4.09" fill="#84cfbe"/><rect x="136.54" y="226.86" width="3.72" height="4.09" fill="#2a8dc7"/><rect x="140.26" y="226.86" width="3.72" height="4.09" fill="#2a8dc7"/><rect x="36.1" y="230.95" width="3.72" height="4.09" fill="#2a8dc7"/><rect x="39.82" y="230.95" width="3.72" height="4.09" fill="#cfe9b8"/><rect x="43.54" y="230.95" width="3.72" height="4.09" fill="#cfe9b8"/><rect x="47.26" y="230.95" width="3.72" height="4.09" fill="#cfe9b8"/><rect x="50.98" y="230.95" width="3.72" height="4.09" fill="#45b7cb"/><rect x="54.7" y="230.95" width="3.72" height="4.09" fill="#45b7cb"/><rect x="58.42" y="230.95" width="3.72" height="4.09" fill="#45b7cb"/><rect x="62.14" y="230.95" width="3.72" height="4.09" fill="#84cfbe"/><rect x="65.86" y="230.95" width="3.72" height="4.09" fill="#84cfbe"/><rect x="69.58" y="230.95" width="3.72" height="4.09" fill="#2a8dc7"/><rect x="73.3" y="230.95" width="3.72" height="4.09" fill="#2b5cae"/><rect x="77.02" y="230.95" width="3.72" height="4.09" fill="#2a8dc7"/><rect x="80.74" y="230.95" width="3.72" height="4.09" fill="#45b7cb"/><rect x="84.46" y="230.95" width="3.72" height="4.09" fill="#2a8dc7"/><rect x="88.18" y="230.95" width="3.72" height="4.09" fill="#2a8dc7"/><rect x="91.9" y="230.95" width="3.72" height="4.09" fill="#45b7cb"/><rect x="95.62" y="230.95" width="3.72" height="4.09" fill="#45b7cb"/><rect x="99.34" y="230.95" width="3.72" height="4.09" fill="#45b7cb"/><rect x="103.06" y="230.95" width="3.72" height="4.09" fill="#84cfbe"/><rect x="106.78" y="230.95" width="3.72" height="4.09" fill="#84cfbe"/><rect x="110.5" y="230.95" width="3.72" height="4.09" fill="#45b7cb"/><rect x="114.22" y="230.95" width="3.72" height="4.09" fill="#45b7cb"/><rect x="117.94" y="230.95" width="3.72" height="4.09" fill="#84cfbe"/><rect x="121.66" y="230.95" width="3.72" height="4.09" fill="#45b7cb"/><rect x="125.38" y="230.95" width="3.72" height="4.09" fill="#2a8dc7"/><rect x="129.1" y="230.95" width="3.72" height="4.09" fill="#2a8dc7"/><rect x="132.82" y="230.95" width="3.72" height="4.09" fill="#45b7cb"/><rect x="136.54" y="230.95" width="3.72" height="4.09" fill="#45b7cb"/><rect x="140.26" y="230.95" width="3.72" height="4.09" fill="#2a8dc7"/><rect x="36.1" y="235.04" width="3.72" height="4.09" fill="#2a8dc7"/><rect x="39.82" y="235.04" width="3.72" height="4.09" fill="#84cfbe"/><rect x="43.54" y="235.04" width="3.72" height="4.09" fill="#84cfbe"/><rect x="47.26" y="235.04" width="3.72" height="4.09" fill="#84cfbe"/><rect x="50.98" y="235.04" width="3.72" height="4.09" fill="#84cfbe"/><rect x="54.7" y="235.04" width="3.72" height="4.09" fill="#84cfbe"/><rect x="58.42" y="235.04" width="3.72" height="4.09" fill="#84cfbe"/><rect x="62.14" y="235.04" width="3.72" height="4.09" fill="#84cfbe"/><rect x="65.86" y="235.04" width="3.72" height="4.09" fill="#84cfbe"/><rect x="69.58" y="235.04" width="3.72" height="4.09" fill="#45b7cb"/><rect x="73.3" y="235.04" width="3.72" height="4.09" fill="#45b7cb"/><rect x="77.02" y="235.04" width="3.72" height="4.09" fill="#45b7cb"/><rect x="80.74" y="235.04" width="3.72" height="4.09" fill="#2b5cae"/><rect x="84.46" y="235.04" width="3.72" height="4.09" fill="#2b5cae"/><rect x="88.18" y="235.04" width="3.72" height="4.09" fill="#2b5cae"/><rect x="91.9" y="235.04" width="3.72" height="4.09" fill="#84cfbe"/><rect x="95.62" y="235.04" width="3.72" height="4.09" fill="#84cfbe"/><rect x="99.34" y="235.04" width="3.72" height="4.09" fill="#84cfbe"/><rect x="103.06" y="235.04" width="3.72" height="4.09" fill="#84cfbe"/><rect x="106.78" y="235.04" width="3.72" height="4.09" fill="#84cfbe"/><rect x="110.5" y="235.04" width="3.72" height="4.09" fill="#2a8dc7"/><rect x="114.22" y="235.04" width="3.72" height="4.09" fill="#2a8dc7"/><rect x="117.94" y="235.04" width="3.72" height="4.09" fill="#84cfbe"/><rect x="121.66" y="235.04" width="3.72" height="4.09" fill="#84cfbe"/><rect x="125.38" y="235.04" width="3.72" height="4.09" fill="#84cfbe"/><rect x="129.1" y="235.04" width="3.72" height="4.09" fill="#2a8dc7"/><rect x="132.82" y="235.04" width="3.72" height="4.09" fill="#84cfbe"/><rect x="136.54" y="235.04" width="3.72" height="4.09" fill="#45b7cb"/><rect x="140.26" y="235.04" width="3.72" height="4.09" fill="#2a8dc7"/><rect x="36.1" y="239.13" width="3.72" height="4.09" fill="#2b5cae"/><rect x="39.82" y="239.13" width="3.72" height="4.09" fill="#84cfbe"/><rect x="43.54" y="239.13" width="3.72" height="4.09" fill="#84cfbe"/><rect x="47.26" y="239.13" width="3.72" height="4.09" fill="#84cfbe"/><rect x="50.98" y="239.13" width="3.72" height="4.09" fill="#45b7cb"/><rect x="54.7" y="239.13" width="3.72" height="4.09" fill="#45b7cb"/><rect x="58.42" y="239.13" width="3.72" height="4.09" fill="#84cfbe"/><rect x="62.14" y="239.13" width="3.72" height="4.09" fill="#84cfbe"/><rect x="65.86" y="239.13" width="3.72" height="4.09" fill="#84cfbe"/><rect x="69.58" y="239.13" width="3.72" height="4.09" fill="#2a8dc7"/><rect x="73.3" y="239.13" width="3.72" height="4.09" fill="#2a8dc7"/><rect x="77.02" y="239.13" width="3.72" height="4.09" fill="#45b7cb"/><rect x="80.74" y="239.13" width="3.72" height="4.09" fill="#45b7cb"/><rect x="84.46" y="239.13" width="3.72" height="4.09" fill="#45b7cb"/><rect x="88.18" y="239.13" width="3.72" height="4.09" fill="#45b7cb"/><rect x="91.9" y="239.13" width="3.72" height="4.09" fill="#84cfbe"/><rect x="95.62" y="239.13" width="3.72" height="4.09" fill="#84cfbe"/><rect x="99.34" y="239.13" width="3.72" height="4.09" fill="#84cfbe"/><rect x="103.06" y="239.13" width="3.72" height="4.09" fill="#84cfbe"/><rect x="106.78" y="239.13" width="3.72" height="4.09" fill="#45b7cb"/><rect x="110.5" y="239.13" width="3.72" height="4.09" fill="#45b7cb"/><rect x="114.22" y="239.13" width="3.72" height="4.09" fill="#2a8dc7"/><rect x="117.94" y="239.13" width="3.72" height="4.09" fill="#2a8dc7"/><rect x="121.66" y="239.13" width="3.72" height="4.09" fill="#45b7cb"/><rect x="125.38" y="239.13" width="3.72" height="4.09" fill="#2b5cae"/><rect x="129.1" y="239.13" width="3.72" height="4.09" fill="#2b5cae"/><rect x="132.82" y="239.13" width="3.72" height="4.09" fill="#84cfbe"/><rect x="136.54" y="239.13" width="3.72" height="4.09" fill="#45b7cb"/><rect x="140.26" y="239.13" width="3.72" height="4.09" fill="#2a8dc7"/><rect x="36.1" y="243.22" width="3.72" height="4.09" fill="#2a8dc7"/><rect x="39.82" y="243.22" width="3.72" height="4.09" fill="#45b7cb"/><rect x="43.54" y="243.22" width="3.72" height="4.09" fill="#84cfbe"/><rect x="47.26" y="243.22" width="3.72" height="4.09" fill="#45b7cb"/><rect x="50.98" y="243.22" width="3.72" height="4.09" fill="#45b7cb"/><rect x="54.7" y="243.22" width="3.72" height="4.09" fill="#2a8dc7"/><rect x="58.42" y="243.22" width="3.72" height="4.09" fill="#84cfbe"/><rect x="62.14" y="243.22" width="3.72" height="4.09" fill="#84cfbe"/><rect x="65.86" y="243.22" width="3.72" height="4.09" fill="#84cfbe"/><rect x="69.58" y="243.22" width="3.72" height="4.09" fill="#2a8dc7"/><rect x="73.3" y="243.22" width="3.72" height="4.09" fill="#2a8dc7"/><rect x="77.02" y="243.22" width="3.72" height="4.09" fill="#2a8dc7"/><rect x="80.74" y="243.22" width="3.72" height="4.09" fill="#2a8dc7"/><rect x="84.46" y="243.22" width="3.72" height="4.09" fill="#2a8dc7"/><rect x="88.18" y="243.22" width="3.72" height="4.09" fill="#2a8dc7"/><rect x="91.9" y="243.22" width="3.72" height="4.09" fill="#cfe9b8"/><rect x="95.62" y="243.22" width="3.72" height="4.09" fill="#84cfbe"/><rect x="99.34" y="243.22" width="3.72" height="4.09" fill="#84cfbe"/><rect x="103.06" y="243.22" width="3.72" height="4.09" fill="#84cfbe"/><rect x="106.78" y="243.22" width="3.72" height="4.09" fill="#84cfbe"/><rect x="110.5" y="243.22" width="3.72" height="4.09" fill="#2a8dc7"/><rect x="114.22" y="243.22" width="3.72" height="4.09" fill="#2a8dc7"/><rect x="117.94" y="243.22" width="3.72" height="4.09" fill="#2a8dc7"/><rect x="121.66" y="243.22" width="3.72" height="4.09" fill="#45b7cb"/><rect x="125.38" y="243.22" width="3.72" height="4.09" fill="#45b7cb"/><rect x="129.1" y="243.22" width="3.72" height="4.09" fill="#2a8dc7"/><rect x="132.82" y="243.22" width="3.72" height="4.09" fill="#45b7cb"/><rect x="136.54" y="243.22" width="3.72" height="4.09" fill="#45b7cb"/><rect x="140.26" y="243.22" width="3.72" height="4.09" fill="#45b7cb"/><rect x="36.1" y="247.31" width="3.72" height="4.09" fill="#cfe9b8"/><rect x="39.82" y="247.31" width="3.72" height="4.09" fill="#84cfbe"/><rect x="43.54" y="247.31" width="3.72" height="4.09" fill="#cfe9b8"/><rect x="47.26" y="247.31" width="3.72" height="4.09" fill="#84cfbe"/><rect x="50.98" y="247.31" width="3.72" height="4.09" fill="#45b7cb"/><rect x="54.7" y="247.31" width="3.72" height="4.09" fill="#45b7cb"/><rect x="58.42" y="247.31" width="3.72" height="4.09" fill="#84cfbe"/><rect x="62.14" y="247.31" width="3.72" height="4.09" fill="#45b7cb"/><rect x="65.86" y="247.31" width="3.72" height="4.09" fill="#45b7cb"/><rect x="69.58" y="247.31" width="3.72" height="4.09" fill="#45b7cb"/><rect x="73.3" y="247.31" width="3.72" height="4.09" fill="#2a8dc7"/><rect x="77.02" y="247.31" width="3.72" height="4.09" fill="#2a8dc7"/><rect x="80.74" y="247.31" width="3.72" height="4.09" fill="#2a8dc7"/><rect x="84.46" y="247.31" width="3.72" height="4.09" fill="#2a8dc7"/><rect x="88.18" y="247.31" width="3.72" height="4.09" fill="#2a8dc7"/><rect x="91.9" y="247.31" width="3.72" height="4.09" fill="#84cfbe"/><rect x="95.62" y="247.31" width="3.72" height="4.09" fill="#45b7cb"/><rect x="99.34" y="247.31" width="3.72" height="4.09" fill="#45b7cb"/><rect x="103.06" y="247.31" width="3.72" height="4.09" fill="#45b7cb"/><rect x="106.78" y="247.31" width="3.72" height="4.09" fill="#84cfbe"/><rect x="110.5" y="247.31" width="3.72" height="4.09" fill="#45b7cb"/><rect x="114.22" y="247.31" width="3.72" height="4.09" fill="#45b7cb"/><rect x="117.94" y="247.31" width="3.72" height="4.09" fill="#2a8dc7"/><rect x="121.66" y="247.31" width="3.72" height="4.09" fill="#2a8dc7"/><rect x="125.38" y="247.31" width="3.72" height="4.09" fill="#2a8dc7"/><rect x="129.1" y="247.31" width="3.72" height="4.09" fill="#2a8dc7"/><rect x="132.82" y="247.31" width="3.72" height="4.09" fill="#45b7cb"/><rect x="136.54" y="247.31" width="3.72" height="4.09" fill="#45b7cb"/><rect x="140.26" y="247.31" width="3.72" height="4.09" fill="#45b7cb"/><rect x="36.1" y="251.4" width="3.72" height="4.09" fill="#84cfbe"/><rect x="39.82" y="251.4" width="3.72" height="4.09" fill="#84cfbe"/><rect x="43.54" y="251.4" width="3.72" height="4.09" fill="#cfe9b8"/><rect x="47.26" y="251.4" width="3.72" height="4.09" fill="#45b7cb"/><rect x="50.98" y="251.4" width="3.72" height="4.09" fill="#45b7cb"/><rect x="54.7" y="251.4" width="3.72" height="4.09" fill="#45b7cb"/><rect x="58.42" y="251.4" width="3.72" height="4.09" fill="#84cfbe"/><rect x="62.14" y="251.4" width="3.72" height="4.09" fill="#2a8dc7"/><rect x="65.86" y="251.4" width="3.72" height="4.09" fill="#84cfbe"/><rect x="69.58" y="251.4" width="3.72" height="4.09" fill="#45b7cb"/><rect x="73.3" y="251.4" width="3.72" height="4.09" fill="#2a8dc7"/><rect x="77.02" y="251.4" width="3.72" height="4.09" fill="#2a8dc7"/><rect x="80.74" y="251.4" width="3.72" height="4.09" fill="#2a8dc7"/><rect x="84.46" y="251.4" width="3.72" height="4.09" fill="#2b5cae"/><rect x="88.18" y="251.4" width="3.72" height="4.09" fill="#2a8dc7"/><rect x="91.9" y="251.4" width="3.72" height="4.09" fill="#45b7cb"/><rect x="95.62" y="251.4" width="3.72" height="4.09" fill="#45b7cb"/><rect x="99.34" y="251.4" width="3.72" height="4.09" fill="#45b7cb"/><rect x="103.06" y="251.4" width="3.72" height="4.09" fill="#84cfbe"/><rect x="106.78" y="251.4" width="3.72" height="4.09" fill="#84cfbe"/><rect x="110.5" y="251.4" width="3.72" height="4.09" fill="#2a8dc7"/><rect x="114.22" y="251.4" width="3.72" height="4.09" fill="#2a8dc7"/><rect x="117.94" y="251.4" width="3.72" height="4.09" fill="#45b7cb"/><rect x="121.66" y="251.4" width="3.72" height="4.09" fill="#45b7cb"/><rect x="125.38" y="251.4" width="3.72" height="4.09" fill="#45b7cb"/><rect x="129.1" y="251.4" width="3.72" height="4.09" fill="#45b7cb"/><rect x="132.82" y="251.4" width="3.72" height="4.09" fill="#45b7cb"/><rect x="136.54" y="251.4" width="3.72" height="4.09" fill="#84cfbe"/><rect x="140.26" y="251.4" width="3.72" height="4.09" fill="#45b7cb"/><rect x="36.1" y="255.49" width="3.72" height="4.09" fill="#84cfbe"/><rect x="39.82" y="255.49" width="3.72" height="4.09" fill="#84cfbe"/><rect x="43.54" y="255.49" width="3.72" height="4.09" fill="#cfe9b8"/><rect x="47.26" y="255.49" width="3.72" height="4.09" fill="#84cfbe"/><rect x="50.98" y="255.49" width="3.72" height="4.09" fill="#84cfbe"/><rect x="54.7" y="255.49" width="3.72" height="4.09" fill="#45b7cb"/><rect x="58.42" y="255.49" width="3.72" height="4.09" fill="#84cfbe"/><rect x="62.14" y="255.49" width="3.72" height="4.09" fill="#84cfbe"/><rect x="65.86" y="255.49" width="3.72" height="4.09" fill="#84cfbe"/><rect x="69.58" y="255.49" width="3.72" height="4.09" fill="#45b7cb"/><rect x="73.3" y="255.49" width="3.72" height="4.09" fill="#2a8dc7"/><rect x="77.02" y="255.49" width="3.72" height="4.09" fill="#2a8dc7"/><rect x="80.74" y="255.49" width="3.72" height="4.09" fill="#2a8dc7"/><rect x="84.46" y="255.49" width="3.72" height="4.09" fill="#2a8dc7"/><rect x="88.18" y="255.49" width="3.72" height="4.09" fill="#2a8dc7"/><rect x="91.9" y="255.49" width="3.72" height="4.09" fill="#45b7cb"/><rect x="95.62" y="255.49" width="3.72" height="4.09" fill="#45b7cb"/><rect x="99.34" y="255.49" width="3.72" height="4.09" fill="#45b7cb"/><rect x="103.06" y="255.49" width="3.72" height="4.09" fill="#45b7cb"/><rect x="106.78" y="255.49" width="3.72" height="4.09" fill="#45b7cb"/><rect x="110.5" y="255.49" width="3.72" height="4.09" fill="#84cfbe"/><rect x="114.22" y="255.49" width="3.72" height="4.09" fill="#84cfbe"/><rect x="117.94" y="255.49" width="3.72" height="4.09" fill="#84cfbe"/><rect x="121.66" y="255.49" width="3.72" height="4.09" fill="#2a8dc7"/><rect x="125.38" y="255.49" width="3.72" height="4.09" fill="#2a8dc7"/><rect x="129.1" y="255.49" width="3.72" height="4.09" fill="#2a8dc7"/><rect x="132.82" y="255.49" width="3.72" height="4.09" fill="#45b7cb"/><rect x="136.54" y="255.49" width="3.72" height="4.09" fill="#2a8dc7"/><rect x="140.26" y="255.49" width="3.72" height="4.09" fill="#2a8dc7"/><rect x="36.1" y="259.58" width="3.72" height="4.09" fill="#84cfbe"/><rect x="39.82" y="259.58" width="3.72" height="4.09" fill="#84cfbe"/><rect x="43.54" y="259.58" width="3.72" height="4.09" fill="#84cfbe"/><rect x="47.26" y="259.58" width="3.72" height="4.09" fill="#84cfbe"/><rect x="50.98" y="259.58" width="3.72" height="4.09" fill="#84cfbe"/><rect x="54.7" y="259.58" width="3.72" height="4.09" fill="#45b7cb"/><rect x="58.42" y="259.58" width="3.72" height="4.09" fill="#84cfbe"/><rect x="62.14" y="259.58" width="3.72" height="4.09" fill="#84cfbe"/><rect x="65.86" y="259.58" width="3.72" height="4.09" fill="#84cfbe"/><rect x="69.58" y="259.58" width="3.72" height="4.09" fill="#45b7cb"/><rect x="73.3" y="259.58" width="3.72" height="4.09" fill="#2a8dc7"/><rect x="77.02" y="259.58" width="3.72" height="4.09" fill="#2a8dc7"/><rect x="80.74" y="259.58" width="3.72" height="4.09" fill="#84cfbe"/><rect x="84.46" y="259.58" width="3.72" height="4.09" fill="#2a8dc7"/><rect x="88.18" y="259.58" width="3.72" height="4.09" fill="#2a8dc7"/><rect x="91.9" y="259.58" width="3.72" height="4.09" fill="#2a8dc7"/><rect x="95.62" y="259.58" width="3.72" height="4.09" fill="#45b7cb"/><rect x="99.34" y="259.58" width="3.72" height="4.09" fill="#84cfbe"/><rect x="103.06" y="259.58" width="3.72" height="4.09" fill="#84cfbe"/><rect x="106.78" y="259.58" width="3.72" height="4.09" fill="#45b7cb"/><rect x="110.5" y="259.58" width="3.72" height="4.09" fill="#84cfbe"/><rect x="114.22" y="259.58" width="3.72" height="4.09" fill="#84cfbe"/><rect x="117.94" y="259.58" width="3.72" height="4.09" fill="#45b7cb"/><rect x="121.66" y="259.58" width="3.72" height="4.09" fill="#2a8dc7"/><rect x="125.38" y="259.58" width="3.72" height="4.09" fill="#2a8dc7"/><rect x="129.1" y="259.58" width="3.72" height="4.09" fill="#2a8dc7"/><rect x="132.82" y="259.58" width="3.72" height="4.09" fill="#45b7cb"/><rect x="136.54" y="259.58" width="3.72" height="4.09" fill="#2b5cae"/><rect x="140.26" y="259.58" width="3.72" height="4.09" fill="#2a8dc7"/><rect x="36.1" y="263.67" width="3.72" height="4.09" fill="#84cfbe"/><rect x="39.82" y="263.67" width="3.72" height="4.09" fill="#84cfbe"/><rect x="43.54" y="263.67" width="3.72" height="4.09" fill="#84cfbe"/><rect x="47.26" y="263.67" width="3.72" height="4.09" fill="#84cfbe"/><rect x="50.98" y="263.67" width="3.72" height="4.09" fill="#84cfbe"/><rect x="54.7" y="263.67" width="3.72" height="4.09" fill="#2a8dc7"/><rect x="58.42" y="263.67" width="3.72" height="4.09" fill="#84cfbe"/><rect x="62.14" y="263.67" width="3.72" height="4.09" fill="#84cfbe"/><rect x="65.86" y="263.67" width="3.72" height="4.09" fill="#84cfbe"/><rect x="69.58" y="263.67" width="3.72" height="4.09" fill="#45b7cb"/><rect x="73.3" y="263.67" width="3.72" height="4.09" fill="#2a8dc7"/><rect x="77.02" y="263.67" width="3.72" height="4.09" fill="#2a8dc7"/><rect x="80.74" y="263.67" width="3.72" height="4.09" fill="#2a8dc7"/><rect x="84.46" y="263.67" width="3.72" height="4.09" fill="#2a8dc7"/><rect x="88.18" y="263.67" width="3.72" height="4.09" fill="#2a8dc7"/><rect x="91.9" y="263.67" width="3.72" height="4.09" fill="#84cfbe"/><rect x="95.62" y="263.67" width="3.72" height="4.09" fill="#84cfbe"/><rect x="99.34" y="263.67" width="3.72" height="4.09" fill="#2a8dc7"/><rect x="103.06" y="263.67" width="3.72" height="4.09" fill="#84cfbe"/><rect x="106.78" y="263.67" width="3.72" height="4.09" fill="#84cfbe"/><rect x="110.5" y="263.67" width="3.72" height="4.09" fill="#84cfbe"/><rect x="114.22" y="263.67" width="3.72" height="4.09" fill="#2a8dc7"/><rect x="117.94" y="263.67" width="3.72" height="4.09" fill="#2a8dc7"/><rect x="121.66" y="263.67" width="3.72" height="4.09" fill="#2a8dc7"/><rect x="125.38" y="263.67" width="3.72" height="4.09" fill="#2a8dc7"/><rect x="129.1" y="263.67" width="3.72" height="4.09" fill="#2a8dc7"/><rect x="132.82" y="263.67" width="3.72" height="4.09" fill="#2a8dc7"/><rect x="136.54" y="263.67" width="3.72" height="4.09" fill="#84cfbe"/><rect x="140.26" y="263.67" width="3.72" height="4.09" fill="#2a8dc7"/><rect x="36.1" y="267.76" width="3.72" height="4.09" fill="#45b7cb"/><rect x="39.82" y="267.76" width="3.72" height="4.09" fill="#84cfbe"/><rect x="43.54" y="267.76" width="3.72" height="4.09" fill="#84cfbe"/><rect x="47.26" y="267.76" width="3.72" height="4.09" fill="#84cfbe"/><rect x="50.98" y="267.76" width="3.72" height="4.09" fill="#84cfbe"/><rect x="54.7" y="267.76" width="3.72" height="4.09" fill="#45b7cb"/><rect x="58.42" y="267.76" width="3.72" height="4.09" fill="#84cfbe"/><rect x="62.14" y="267.76" width="3.72" height="4.09" fill="#84cfbe"/><rect x="65.86" y="267.76" width="3.72" height="4.09" fill="#45b7cb"/><rect x="69.58" y="267.76" width="3.72" height="4.09" fill="#45b7cb"/><rect x="73.3" y="267.76" width="3.72" height="4.09" fill="#2a8dc7"/><rect x="77.02" y="267.76" width="3.72" height="4.09" fill="#2a8dc7"/><rect x="80.74" y="267.76" width="3.72" height="4.09" fill="#2a8dc7"/><rect x="84.46" y="267.76" width="3.72" height="4.09" fill="#2a8dc7"/><rect x="88.18" y="267.76" width="3.72" height="4.09" fill="#2a8dc7"/><rect x="91.9" y="267.76" width="3.72" height="4.09" fill="#84cfbe"/><rect x="95.62" y="267.76" width="3.72" height="4.09" fill="#84cfbe"/><rect x="99.34" y="267.76" width="3.72" height="4.09" fill="#2a8dc7"/><rect x="103.06" y="267.76" width="3.72" height="4.09" fill="#45b7cb"/><rect x="106.78" y="267.76" width="3.72" height="4.09" fill="#45b7cb"/><rect x="110.5" y="267.76" width="3.72" height="4.09" fill="#84cfbe"/><rect x="114.22" y="267.76" width="3.72" height="4.09" fill="#45b7cb"/><rect x="117.94" y="267.76" width="3.72" height="4.09" fill="#2a8dc7"/><rect x="121.66" y="267.76" width="3.72" height="4.09" fill="#2a8dc7"/><rect x="125.38" y="267.76" width="3.72" height="4.09" fill="#2a8dc7"/><rect x="129.1" y="267.76" width="3.72" height="4.09" fill="#2a8dc7"/><rect x="132.82" y="267.76" width="3.72" height="4.09" fill="#2a8dc7"/><rect x="136.54" y="267.76" width="3.72" height="4.09" fill="#45b7cb"/><rect x="140.26" y="267.76" width="3.72" height="4.09" fill="#2a8dc7"/><rect x="36.1" y="271.85" width="3.72" height="4.09" fill="#45b7cb"/><rect x="39.82" y="271.85" width="3.72" height="4.09" fill="#84cfbe"/><rect x="43.54" y="271.85" width="3.72" height="4.09" fill="#84cfbe"/><rect x="47.26" y="271.85" width="3.72" height="4.09" fill="#84cfbe"/><rect x="50.98" y="271.85" width="3.72" height="4.09" fill="#84cfbe"/><rect x="54.7" y="271.85" width="3.72" height="4.09" fill="#84cfbe"/><rect x="58.42" y="271.85" width="3.72" height="4.09" fill="#84cfbe"/><rect x="62.14" y="271.85" width="3.72" height="4.09" fill="#84cfbe"/><rect x="65.86" y="271.85" width="3.72" height="4.09" fill="#84cfbe"/><rect x="69.58" y="271.85" width="3.72" height="4.09" fill="#45b7cb"/><rect x="73.3" y="271.85" width="3.72" height="4.09" fill="#2a8dc7"/><rect x="77.02" y="271.85" width="3.72" height="4.09" fill="#2a8dc7"/><rect x="80.74" y="271.85" width="3.72" height="4.09" fill="#2a8dc7"/><rect x="84.46" y="271.85" width="3.72" height="4.09" fill="#2a8dc7"/><rect x="88.18" y="271.85" width="3.72" height="4.09" fill="#2a8dc7"/><rect x="91.9" y="271.85" width="3.72" height="4.09" fill="#84cfbe"/><rect x="95.62" y="271.85" width="3.72" height="4.09" fill="#84cfbe"/><rect x="99.34" y="271.85" width="3.72" height="4.09" fill="#2a8dc7"/><rect x="103.06" y="271.85" width="3.72" height="4.09" fill="#84cfbe"/><rect x="106.78" y="271.85" width="3.72" height="4.09" fill="#45b7cb"/><rect x="110.5" y="271.85" width="3.72" height="4.09" fill="#45b7cb"/><rect x="114.22" y="271.85" width="3.72" height="4.09" fill="#2a8dc7"/><rect x="117.94" y="271.85" width="3.72" height="4.09" fill="#84cfbe"/><rect x="121.66" y="271.85" width="3.72" height="4.09" fill="#2a8dc7"/><rect x="125.38" y="271.85" width="3.72" height="4.09" fill="#2a8dc7"/><rect x="129.1" y="271.85" width="3.72" height="4.09" fill="#2a8dc7"/><rect x="132.82" y="271.85" width="3.72" height="4.09" fill="#2a8dc7"/><rect x="136.54" y="271.85" width="3.72" height="4.09" fill="#45b7cb"/><rect x="140.26" y="271.85" width="3.72" height="4.09" fill="#2a8dc7"/><rect x="36.1" y="275.94" width="3.72" height="4.09" fill="#eef5bb"/><rect x="39.82" y="275.94" width="3.72" height="4.09" fill="#2a8dc7"/><rect x="43.54" y="275.94" width="3.72" height="4.09" fill="#45b7cb"/><rect x="47.26" y="275.94" width="3.72" height="4.09" fill="#45b7cb"/><rect x="50.98" y="275.94" width="3.72" height="4.09" fill="#45b7cb"/><rect x="54.7" y="275.94" width="3.72" height="4.09" fill="#2a8dc7"/><rect x="58.42" y="275.94" width="3.72" height="4.09" fill="#84cfbe"/><rect x="62.14" y="275.94" width="3.72" height="4.09" fill="#45b7cb"/><rect x="65.86" y="275.94" width="3.72" height="4.09" fill="#45b7cb"/><rect x="69.58" y="275.94" width="3.72" height="4.09" fill="#45b7cb"/><rect x="73.3" y="275.94" width="3.72" height="4.09" fill="#2b5cae"/><rect x="77.02" y="275.94" width="3.72" height="4.09" fill="#45b7cb"/><rect x="80.74" y="275.94" width="3.72" height="4.09" fill="#45b7cb"/><rect x="84.46" y="275.94" width="3.72" height="4.09" fill="#45b7cb"/><rect x="88.18" y="275.94" width="3.72" height="4.09" fill="#45b7cb"/><rect x="91.9" y="275.94" width="3.72" height="4.09" fill="#2b5cae"/><rect x="95.62" y="275.94" width="3.72" height="4.09" fill="#45b7cb"/><rect x="99.34" y="275.94" width="3.72" height="4.09" fill="#45b7cb"/><rect x="103.06" y="275.94" width="3.72" height="4.09" fill="#45b7cb"/><rect x="106.78" y="275.94" width="3.72" height="4.09" fill="#45b7cb"/><rect x="110.5" y="275.94" width="3.72" height="4.09" fill="#45b7cb"/><rect x="114.22" y="275.94" width="3.72" height="4.09" fill="#45b7cb"/><rect x="117.94" y="275.94" width="3.72" height="4.09" fill="#45b7cb"/><rect x="121.66" y="275.94" width="3.72" height="4.09" fill="#45b7cb"/><rect x="125.38" y="275.94" width="3.72" height="4.09" fill="#2a8dc7"/><rect x="129.1" y="275.94" width="3.72" height="4.09" fill="#45b7cb"/><rect x="132.82" y="275.94" width="3.72" height="4.09" fill="#84cfbe"/><rect x="136.54" y="275.94" width="3.72" height="4.09" fill="#84cfbe"/><rect x="140.26" y="275.94" width="3.72" height="4.09" fill="#84cfbe"/><rect x="36.1" y="280.03" width="3.72" height="4.09" fill="#45b7cb"/><rect x="39.82" y="280.03" width="3.72" height="4.09" fill="#2a8dc7"/><rect x="43.54" y="280.03" width="3.72" height="4.09" fill="#2a8dc7"/><rect x="47.26" y="280.03" width="3.72" height="4.09" fill="#2a8dc7"/><rect x="50.98" y="280.03" width="3.72" height="4.09" fill="#2a8dc7"/><rect x="54.7" y="280.03" width="3.72" height="4.09" fill="#2a8dc7"/><rect x="58.42" y="280.03" width="3.72" height="4.09" fill="#84cfbe"/><rect x="62.14" y="280.03" width="3.72" height="4.09" fill="#84cfbe"/><rect x="65.86" y="280.03" width="3.72" height="4.09" fill="#2a8dc7"/><rect x="69.58" y="280.03" width="3.72" height="4.09" fill="#45b7cb"/><rect x="73.3" y="280.03" width="3.72" height="4.09" fill="#2a8dc7"/><rect x="77.02" y="280.03" width="3.72" height="4.09" fill="#2a8dc7"/><rect x="80.74" y="280.03" width="3.72" height="4.09" fill="#2a8dc7"/><rect x="84.46" y="280.03" width="3.72" height="4.09" fill="#45b7cb"/><rect x="88.18" y="280.03" width="3.72" height="4.09" fill="#45b7cb"/><rect x="91.9" y="280.03" width="3.72" height="4.09" fill="#84cfbe"/><rect x="95.62" y="280.03" width="3.72" height="4.09" fill="#84cfbe"/><rect x="99.34" y="280.03" width="3.72" height="4.09" fill="#84cfbe"/><rect x="103.06" y="280.03" width="3.72" height="4.09" fill="#45b7cb"/><rect x="106.78" y="280.03" width="3.72" height="4.09" fill="#84cfbe"/><rect x="110.5" y="280.03" width="3.72" height="4.09" fill="#2a8dc7"/><rect x="114.22" y="280.03" width="3.72" height="4.09" fill="#2a8dc7"/><rect x="117.94" y="280.03" width="3.72" height="4.09" fill="#2a8dc7"/><rect x="121.66" y="280.03" width="3.72" height="4.09" fill="#84cfbe"/><rect x="125.38" y="280.03" width="3.72" height="4.09" fill="#2a8dc7"/><rect x="129.1" y="280.03" width="3.72" height="4.09" fill="#2a8dc7"/><rect x="132.82" y="280.03" width="3.72" height="4.09" fill="#84cfbe"/><rect x="136.54" y="280.03" width="3.72" height="4.09" fill="#84cfbe"/><rect x="140.26" y="280.03" width="3.72" height="4.09" fill="#84cfbe"/><rect x="36.1" y="284.12" width="3.72" height="4.09" fill="#45b7cb"/><rect x="39.82" y="284.12" width="3.72" height="4.09" fill="#45b7cb"/><rect x="43.54" y="284.12" width="3.72" height="4.09" fill="#45b7cb"/><rect x="47.26" y="284.12" width="3.72" height="4.09" fill="#45b7cb"/><rect x="50.98" y="284.12" width="3.72" height="4.09" fill="#45b7cb"/><rect x="54.7" y="284.12" width="3.72" height="4.09" fill="#2a8dc7"/><rect x="58.42" y="284.12" width="3.72" height="4.09" fill="#45b7cb"/><rect x="62.14" y="284.12" width="3.72" height="4.09" fill="#2a8dc7"/><rect x="65.86" y="284.12" width="3.72" height="4.09" fill="#2a8dc7"/><rect x="69.58" y="284.12" width="3.72" height="4.09" fill="#2a8dc7"/><rect x="73.3" y="284.12" width="3.72" height="4.09" fill="#2a8dc7"/><rect x="77.02" y="284.12" width="3.72" height="4.09" fill="#2a8dc7"/><rect x="80.74" y="284.12" width="3.72" height="4.09" fill="#2b5cae"/><rect x="84.46" y="284.12" width="3.72" height="4.09" fill="#2b5cae"/><rect x="88.18" y="284.12" width="3.72" height="4.09" fill="#2a8dc7"/><rect x="91.9" y="284.12" width="3.72" height="4.09" fill="#84cfbe"/><rect x="95.62" y="284.12" width="3.72" height="4.09" fill="#84cfbe"/><rect x="99.34" y="284.12" width="3.72" height="4.09" fill="#84cfbe"/><rect x="103.06" y="284.12" width="3.72" height="4.09" fill="#84cfbe"/><rect x="106.78" y="284.12" width="3.72" height="4.09" fill="#84cfbe"/><rect x="110.5" y="284.12" width="3.72" height="4.09" fill="#45b7cb"/><rect x="114.22" y="284.12" width="3.72" height="4.09" fill="#45b7cb"/><rect x="117.94" y="284.12" width="3.72" height="4.09" fill="#45b7cb"/><rect x="121.66" y="284.12" width="3.72" height="4.09" fill="#45b7cb"/><rect x="125.38" y="284.12" width="3.72" height="4.09" fill="#84cfbe"/><rect x="129.1" y="284.12" width="3.72" height="4.09" fill="#84cfbe"/><rect x="132.82" y="284.12" width="3.72" height="4.09" fill="#45b7cb"/><rect x="136.54" y="284.12" width="3.72" height="4.09" fill="#84cfbe"/><rect x="140.26" y="284.12" width="3.72" height="4.09" fill="#84cfbe"/><rect x="36.1" y="288.21" width="3.72" height="4.09" fill="#181f55"/><rect x="39.82" y="288.21" width="3.72" height="4.09" fill="#45b7cb"/><rect x="43.54" y="288.21" width="3.72" height="4.09" fill="#45b7cb"/><rect x="47.26" y="288.21" width="3.72" height="4.09" fill="#45b7cb"/><rect x="50.98" y="288.21" width="3.72" height="4.09" fill="#45b7cb"/><rect x="54.7" y="288.21" width="3.72" height="4.09" fill="#45b7cb"/><rect x="58.42" y="288.21" width="3.72" height="4.09" fill="#45b7cb"/><rect x="62.14" y="288.21" width="3.72" height="4.09" fill="#45b7cb"/><rect x="65.86" y="288.21" width="3.72" height="4.09" fill="#45b7cb"/><rect x="69.58" y="288.21" width="3.72" height="4.09" fill="#2a8dc7"/><rect x="73.3" y="288.21" width="3.72" height="4.09" fill="#45b7cb"/><rect x="77.02" y="288.21" width="3.72" height="4.09" fill="#45b7cb"/><rect x="80.74" y="288.21" width="3.72" height="4.09" fill="#2a8dc7"/><rect x="84.46" y="288.21" width="3.72" height="4.09" fill="#45b7cb"/><rect x="88.18" y="288.21" width="3.72" height="4.09" fill="#2a8dc7"/><rect x="91.9" y="288.21" width="3.72" height="4.09" fill="#45b7cb"/><rect x="95.62" y="288.21" width="3.72" height="4.09" fill="#45b7cb"/><rect x="99.34" y="288.21" width="3.72" height="4.09" fill="#45b7cb"/><rect x="103.06" y="288.21" width="3.72" height="4.09" fill="#45b7cb"/><rect x="106.78" y="288.21" width="3.72" height="4.09" fill="#45b7cb"/><rect x="110.5" y="288.21" width="3.72" height="4.09" fill="#45b7cb"/><rect x="114.22" y="288.21" width="3.72" height="4.09" fill="#45b7cb"/><rect x="117.94" y="288.21" width="3.72" height="4.09" fill="#45b7cb"/><rect x="121.66" y="288.21" width="3.72" height="4.09" fill="#45b7cb"/><rect x="125.38" y="288.21" width="3.72" height="4.09" fill="#45b7cb"/><rect x="129.1" y="288.21" width="3.72" height="4.09" fill="#45b7cb"/><rect x="132.82" y="288.21" width="3.72" height="4.09" fill="#45b7cb"/><rect x="136.54" y="288.21" width="3.72" height="4.09" fill="#45b7cb"/><rect x="140.26" y="288.21" width="3.72" height="4.09" fill="#45b7cb"/><rect x="36.1" y="292.3" width="3.72" height="4.09" fill="#181f55"/><rect x="39.82" y="292.3" width="3.72" height="4.09" fill="#45b7cb"/><rect x="43.54" y="292.3" width="3.72" height="4.09" fill="#45b7cb"/><rect x="47.26" y="292.3" width="3.72" height="4.09" fill="#45b7cb"/><rect x="50.98" y="292.3" width="3.72" height="4.09" fill="#45b7cb"/><rect x="54.7" y="292.3" width="3.72" height="4.09" fill="#45b7cb"/><rect x="58.42" y="292.3" width="3.72" height="4.09" fill="#45b7cb"/><rect x="62.14" y="292.3" width="3.72" height="4.09" fill="#45b7cb"/><rect x="65.86" y="292.3" width="3.72" height="4.09" fill="#45b7cb"/><rect x="69.58" y="292.3" width="3.72" height="4.09" fill="#2b5cae"/><rect x="73.3" y="292.3" width="3.72" height="4.09" fill="#45b7cb"/><rect x="77.02" y="292.3" width="3.72" height="4.09" fill="#45b7cb"/><rect x="80.74" y="292.3" width="3.72" height="4.09" fill="#45b7cb"/><rect x="84.46" y="292.3" width="3.72" height="4.09" fill="#45b7cb"/><rect x="88.18" y="292.3" width="3.72" height="4.09" fill="#45b7cb"/><rect x="91.9" y="292.3" width="3.72" height="4.09" fill="#45b7cb"/><rect x="95.62" y="292.3" width="3.72" height="4.09" fill="#45b7cb"/><rect x="99.34" y="292.3" width="3.72" height="4.09" fill="#45b7cb"/><rect x="103.06" y="292.3" width="3.72" height="4.09" fill="#45b7cb"/><rect x="106.78" y="292.3" width="3.72" height="4.09" fill="#45b7cb"/><rect x="110.5" y="292.3" width="3.72" height="4.09" fill="#45b7cb"/><rect x="114.22" y="292.3" width="3.72" height="4.09" fill="#45b7cb"/><rect x="117.94" y="292.3" width="3.72" height="4.09" fill="#45b7cb"/><rect x="121.66" y="292.3" width="3.72" height="4.09" fill="#45b7cb"/><rect x="125.38" y="292.3" width="3.72" height="4.09" fill="#45b7cb"/><rect x="129.1" y="292.3" width="3.72" height="4.09" fill="#45b7cb"/><rect x="132.82" y="292.3" width="3.72" height="4.09" fill="#45b7cb"/><rect x="136.54" y="292.3" width="3.72" height="4.09" fill="#45b7cb"/><rect x="140.26" y="292.3" width="3.72" height="4.09" fill="#45b7cb"/><rect x="36.1" y="296.39" width="3.72" height="4.09" fill="#181f55"/><rect x="39.82" y="296.39" width="3.72" height="4.09" fill="#45b7cb"/><rect x="43.54" y="296.39" width="3.72" height="4.09" fill="#45b7cb"/><rect x="47.26" y="296.39" width="3.72" height="4.09" fill="#45b7cb"/><rect x="50.98" y="296.39" width="3.72" height="4.09" fill="#45b7cb"/><rect x="54.7" y="296.39" width="3.72" height="4.09" fill="#45b7cb"/><rect x="58.42" y="296.39" width="3.72" height="4.09" fill="#45b7cb"/><rect x="62.14" y="296.39" width="3.72" height="4.09" fill="#45b7cb"/><rect x="65.86" y="296.39" width="3.72" height="4.09" fill="#45b7cb"/><rect x="69.58" y="296.39" width="3.72" height="4.09" fill="#2a8dc7"/><rect x="73.3" y="296.39" width="3.72" height="4.09" fill="#45b7cb"/><rect x="77.02" y="296.39" width="3.72" height="4.09" fill="#45b7cb"/><rect x="80.74" y="296.39" width="3.72" height="4.09" fill="#45b7cb"/><rect x="84.46" y="296.39" width="3.72" height="4.09" fill="#45b7cb"/><rect x="88.18" y="296.39" width="3.72" height="4.09" fill="#45b7cb"/><rect x="91.9" y="296.39" width="3.72" height="4.09" fill="#45b7cb"/><rect x="95.62" y="296.39" width="3.72" height="4.09" fill="#45b7cb"/><rect x="99.34" y="296.39" width="3.72" height="4.09" fill="#45b7cb"/><rect x="103.06" y="296.39" width="3.72" height="4.09" fill="#45b7cb"/><rect x="106.78" y="296.39" width="3.72" height="4.09" fill="#45b7cb"/><rect x="110.5" y="296.39" width="3.72" height="4.09" fill="#45b7cb"/><rect x="114.22" y="296.39" width="3.72" height="4.09" fill="#45b7cb"/><rect x="117.94" y="296.39" width="3.72" height="4.09" fill="#45b7cb"/><rect x="121.66" y="296.39" width="3.72" height="4.09" fill="#45b7cb"/><rect x="125.38" y="296.39" width="3.72" height="4.09" fill="#45b7cb"/><rect x="129.1" y="296.39" width="3.72" height="4.09" fill="#45b7cb"/><rect x="132.82" y="296.39" width="3.72" height="4.09" fill="#45b7cb"/><rect x="136.54" y="296.39" width="3.72" height="4.09" fill="#45b7cb"/><rect x="140.26" y="296.39" width="3.72" height="4.09" fill="#45b7cb"/><rect x="36.1" y="300.48" width="3.72" height="4.09" fill="#181f55"/><rect x="39.82" y="300.48" width="3.72" height="4.09" fill="#45b7cb"/><rect x="43.54" y="300.48" width="3.72" height="4.09" fill="#45b7cb"/><rect x="47.26" y="300.48" width="3.72" height="4.09" fill="#45b7cb"/><rect x="50.98" y="300.48" width="3.72" height="4.09" fill="#45b7cb"/><rect x="54.7" y="300.48" width="3.72" height="4.09" fill="#45b7cb"/><rect x="58.42" y="300.48" width="3.72" height="4.09" fill="#45b7cb"/><rect x="62.14" y="300.48" width="3.72" height="4.09" fill="#45b7cb"/><rect x="65.86" y="300.48" width="3.72" height="4.09" fill="#45b7cb"/><rect x="69.58" y="300.48" width="3.72" height="4.09" fill="#2a8dc7"/><rect x="73.3" y="300.48" width="3.72" height="4.09" fill="#45b7cb"/><rect x="77.02" y="300.48" width="3.72" height="4.09" fill="#45b7cb"/><rect x="80.74" y="300.48" width="3.72" height="4.09" fill="#45b7cb"/><rect x="84.46" y="300.48" width="3.72" height="4.09" fill="#45b7cb"/><rect x="88.18" y="300.48" width="3.72" height="4.09" fill="#45b7cb"/><rect x="91.9" y="300.48" width="3.72" height="4.09" fill="#45b7cb"/><rect x="95.62" y="300.48" width="3.72" height="4.09" fill="#45b7cb"/><rect x="99.34" y="300.48" width="3.72" height="4.09" fill="#45b7cb"/><rect x="103.06" y="300.48" width="3.72" height="4.09" fill="#45b7cb"/><rect x="106.78" y="300.48" width="3.72" height="4.09" fill="#45b7cb"/><rect x="110.5" y="300.48" width="3.72" height="4.09" fill="#45b7cb"/><rect x="114.22" y="300.48" width="3.72" height="4.09" fill="#45b7cb"/><rect x="117.94" y="300.48" width="3.72" height="4.09" fill="#45b7cb"/><rect x="121.66" y="300.48" width="3.72" height="4.09" fill="#45b7cb"/><rect x="125.38" y="300.48" width="3.72" height="4.09" fill="#45b7cb"/><rect x="129.1" y="300.48" width="3.72" height="4.09" fill="#45b7cb"/><rect x="132.82" y="300.48" width="3.72" height="4.09" fill="#45b7cb"/><rect x="136.54" y="300.48" width="3.72" height="4.09" fill="#45b7cb"/><rect x="140.26" y="300.48" width="3.72" height="4.09" fill="#45b7cb"/><rect x="36.1" y="304.57" width="3.72" height="4.09" fill="#283b96"/><rect x="39.82" y="304.57" width="3.72" height="4.09" fill="#45b7cb"/><rect x="43.54" y="304.57" width="3.72" height="4.09" fill="#45b7cb"/><rect x="47.26" y="304.57" width="3.72" height="4.09" fill="#45b7cb"/><rect x="50.98" y="304.57" width="3.72" height="4.09" fill="#45b7cb"/><rect x="54.7" y="304.57" width="3.72" height="4.09" fill="#45b7cb"/><rect x="58.42" y="304.57" width="3.72" height="4.09" fill="#45b7cb"/><rect x="62.14" y="304.57" width="3.72" height="4.09" fill="#45b7cb"/><rect x="65.86" y="304.57" width="3.72" height="4.09" fill="#45b7cb"/><rect x="69.58" y="304.57" width="3.72" height="4.09" fill="#2b5cae"/><rect x="73.3" y="304.57" width="3.72" height="4.09" fill="#45b7cb"/><rect x="77.02" y="304.57" width="3.72" height="4.09" fill="#2b5cae"/><rect x="80.74" y="304.57" width="3.72" height="4.09" fill="#45b7cb"/><rect x="84.46" y="304.57" width="3.72" height="4.09" fill="#45b7cb"/><rect x="88.18" y="304.57" width="3.72" height="4.09" fill="#45b7cb"/><rect x="91.9" y="304.57" width="3.72" height="4.09" fill="#45b7cb"/><rect x="95.62" y="304.57" width="3.72" height="4.09" fill="#45b7cb"/><rect x="99.34" y="304.57" width="3.72" height="4.09" fill="#45b7cb"/><rect x="103.06" y="304.57" width="3.72" height="4.09" fill="#45b7cb"/><rect x="106.78" y="304.57" width="3.72" height="4.09" fill="#45b7cb"/><rect x="110.5" y="304.57" width="3.72" height="4.09" fill="#45b7cb"/><rect x="114.22" y="304.57" width="3.72" height="4.09" fill="#45b7cb"/><rect x="117.94" y="304.57" width="3.72" height="4.09" fill="#45b7cb"/><rect x="121.66" y="304.57" width="3.72" height="4.09" fill="#45b7cb"/><rect x="125.38" y="304.57" width="3.72" height="4.09" fill="#45b7cb"/><rect x="129.1" y="304.57" width="3.72" height="4.09" fill="#45b7cb"/><rect x="132.82" y="304.57" width="3.72" height="4.09" fill="#45b7cb"/><rect x="136.54" y="304.57" width="3.72" height="4.09" fill="#45b7cb"/><rect x="140.26" y="304.57" width="3.72" height="4.09" fill="#45b7cb"/><rect x="36.1" y="308.66" width="3.72" height="4.09" fill="#283b96"/><rect x="39.82" y="308.66" width="3.72" height="4.09" fill="#45b7cb"/><rect x="43.54" y="308.66" width="3.72" height="4.09" fill="#84cfbe"/><rect x="47.26" y="308.66" width="3.72" height="4.09" fill="#84cfbe"/><rect x="50.98" y="308.66" width="3.72" height="4.09" fill="#45b7cb"/><rect x="54.7" y="308.66" width="3.72" height="4.09" fill="#45b7cb"/><rect x="58.42" y="308.66" width="3.72" height="4.09" fill="#45b7cb"/><rect x="62.14" y="308.66" width="3.72" height="4.09" fill="#45b7cb"/><rect x="65.86" y="308.66" width="3.72" height="4.09" fill="#45b7cb"/><rect x="69.58" y="308.66" width="3.72" height="4.09" fill="#2b5cae"/><rect x="73.3" y="308.66" width="3.72" height="4.09" fill="#45b7cb"/><rect x="77.02" y="308.66" width="3.72" height="4.09" fill="#45b7cb"/><rect x="80.74" y="308.66" width="3.72" height="4.09" fill="#45b7cb"/><rect x="84.46" y="308.66" width="3.72" height="4.09" fill="#45b7cb"/><rect x="88.18" y="308.66" width="3.72" height="4.09" fill="#2a8dc7"/><rect x="91.9" y="308.66" width="3.72" height="4.09" fill="#2a8dc7"/><rect x="95.62" y="308.66" width="3.72" height="4.09" fill="#45b7cb"/><rect x="99.34" y="308.66" width="3.72" height="4.09" fill="#84cfbe"/><rect x="103.06" y="308.66" width="3.72" height="4.09" fill="#84cfbe"/><rect x="106.78" y="308.66" width="3.72" height="4.09" fill="#84cfbe"/><rect x="110.5" y="308.66" width="3.72" height="4.09" fill="#84cfbe"/><rect x="114.22" y="308.66" width="3.72" height="4.09" fill="#45b7cb"/><rect x="117.94" y="308.66" width="3.72" height="4.09" fill="#45b7cb"/><rect x="121.66" y="308.66" width="3.72" height="4.09" fill="#84cfbe"/><rect x="125.38" y="308.66" width="3.72" height="4.09" fill="#45b7cb"/><rect x="129.1" y="308.66" width="3.72" height="4.09" fill="#45b7cb"/><rect x="132.82" y="308.66" width="3.72" height="4.09" fill="#84cfbe"/><rect x="136.54" y="308.66" width="3.72" height="4.09" fill="#45b7cb"/><rect x="140.26" y="308.66" width="3.72" height="4.09" fill="#45b7cb"/><rect x="36.1" y="312.75" width="3.72" height="4.09" fill="#2a8dc7"/><rect x="39.82" y="312.75" width="3.72" height="4.09" fill="#84cfbe"/><rect x="43.54" y="312.75" width="3.72" height="4.09" fill="#84cfbe"/><rect x="47.26" y="312.75" width="3.72" height="4.09" fill="#84cfbe"/><rect x="50.98" y="312.75" width="3.72" height="4.09" fill="#84cfbe"/><rect x="54.7" y="312.75" width="3.72" height="4.09" fill="#45b7cb"/><rect x="58.42" y="312.75" width="3.72" height="4.09" fill="#45b7cb"/><rect x="62.14" y="312.75" width="3.72" height="4.09" fill="#45b7cb"/><rect x="65.86" y="312.75" width="3.72" height="4.09" fill="#45b7cb"/><rect x="69.58" y="312.75" width="3.72" height="4.09" fill="#2a8dc7"/><rect x="73.3" y="312.75" width="3.72" height="4.09" fill="#2a8dc7"/><rect x="77.02" y="312.75" width="3.72" height="4.09" fill="#2b5cae"/><rect x="80.74" y="312.75" width="3.72" height="4.09" fill="#45b7cb"/><rect x="84.46" y="312.75" width="3.72" height="4.09" fill="#2a8dc7"/><rect x="88.18" y="312.75" width="3.72" height="4.09" fill="#2a8dc7"/><rect x="91.9" y="312.75" width="3.72" height="4.09" fill="#84cfbe"/><rect x="95.62" y="312.75" width="3.72" height="4.09" fill="#2a8dc7"/><rect x="99.34" y="312.75" width="3.72" height="4.09" fill="#45b7cb"/><rect x="103.06" y="312.75" width="3.72" height="4.09" fill="#2a8dc7"/><rect x="106.78" y="312.75" width="3.72" height="4.09" fill="#45b7cb"/><rect x="110.5" y="312.75" width="3.72" height="4.09" fill="#84cfbe"/><rect x="114.22" y="312.75" width="3.72" height="4.09" fill="#84cfbe"/><rect x="117.94" y="312.75" width="3.72" height="4.09" fill="#84cfbe"/><rect x="121.66" y="312.75" width="3.72" height="4.09" fill="#45b7cb"/><rect x="125.38" y="312.75" width="3.72" height="4.09" fill="#2b5cae"/><rect x="129.1" y="312.75" width="3.72" height="4.09" fill="#84cfbe"/><rect x="132.82" y="312.75" width="3.72" height="4.09" fill="#45b7cb"/><rect x="136.54" y="312.75" width="3.72" height="4.09" fill="#45b7cb"/><rect x="140.26" y="312.75" width="3.72" height="4.09" fill="#84cfbe"/><rect x="36.1" y="316.84" width="3.72" height="4.09" fill="#2b5cae"/><rect x="39.82" y="316.84" width="3.72" height="4.09" fill="#84cfbe"/><rect x="43.54" y="316.84" width="3.72" height="4.09" fill="#84cfbe"/><rect x="47.26" y="316.84" width="3.72" height="4.09" fill="#84cfbe"/><rect x="50.98" y="316.84" width="3.72" height="4.09" fill="#84cfbe"/><rect x="54.7" y="316.84" width="3.72" height="4.09" fill="#84cfbe"/><rect x="58.42" y="316.84" width="3.72" height="4.09" fill="#84cfbe"/><rect x="62.14" y="316.84" width="3.72" height="4.09" fill="#84cfbe"/><rect x="65.86" y="316.84" width="3.72" height="4.09" fill="#84cfbe"/><rect x="69.58" y="316.84" width="3.72" height="4.09" fill="#2a8dc7"/><rect x="73.3" y="316.84" width="3.72" height="4.09" fill="#45b7cb"/><rect x="77.02" y="316.84" width="3.72" height="4.09" fill="#2a8dc7"/><rect x="80.74" y="316.84" width="3.72" height="4.09" fill="#2b5cae"/><rect x="84.46" y="316.84" width="3.72" height="4.09" fill="#2b5cae"/><rect x="88.18" y="316.84" width="3.72" height="4.09" fill="#2b5cae"/><rect x="91.9" y="316.84" width="3.72" height="4.09" fill="#84cfbe"/><rect x="95.62" y="316.84" width="3.72" height="4.09" fill="#2a8dc7"/><rect x="99.34" y="316.84" width="3.72" height="4.09" fill="#45b7cb"/><rect x="103.06" y="316.84" width="3.72" height="4.09" fill="#45b7cb"/><rect x="106.78" y="316.84" width="3.72" height="4.09" fill="#84cfbe"/><rect x="110.5" y="316.84" width="3.72" height="4.09" fill="#84cfbe"/><rect x="114.22" y="316.84" width="3.72" height="4.09" fill="#84cfbe"/><rect x="117.94" y="316.84" width="3.72" height="4.09" fill="#84cfbe"/><rect x="121.66" y="316.84" width="3.72" height="4.09" fill="#45b7cb"/><rect x="125.38" y="316.84" width="3.72" height="4.09" fill="#45b7cb"/><rect x="129.1" y="316.84" width="3.72" height="4.09" fill="#45b7cb"/><rect x="132.82" y="316.84" width="3.72" height="4.09" fill="#45b7cb"/><rect x="136.54" y="316.84" width="3.72" height="4.09" fill="#84cfbe"/><rect x="140.26" y="316.84" width="3.72" height="4.09" fill="#45b7cb"/><rect x="36.1" y="320.93" width="3.72" height="4.09" fill="#2b5cae"/><rect x="39.82" y="320.93" width="3.72" height="4.09" fill="#84cfbe"/><rect x="43.54" y="320.93" width="3.72" height="4.09" fill="#84cfbe"/><rect x="47.26" y="320.93" width="3.72" height="4.09" fill="#84cfbe"/><rect x="50.98" y="320.93" width="3.72" height="4.09" fill="#84cfbe"/><rect x="54.7" y="320.93" width="3.72" height="4.09" fill="#84cfbe"/><rect x="58.42" y="320.93" width="3.72" height="4.09" fill="#84cfbe"/><rect x="62.14" y="320.93" width="3.72" height="4.09" fill="#84cfbe"/><rect x="65.86" y="320.93" width="3.72" height="4.09" fill="#84cfbe"/><rect x="69.58" y="320.93" width="3.72" height="4.09" fill="#2a8dc7"/><rect x="73.3" y="320.93" width="3.72" height="4.09" fill="#45b7cb"/><rect x="77.02" y="320.93" width="3.72" height="4.09" fill="#2b5cae"/><rect x="80.74" y="320.93" width="3.72" height="4.09" fill="#2a8dc7"/><rect x="84.46" y="320.93" width="3.72" height="4.09" fill="#2b5cae"/><rect x="88.18" y="320.93" width="3.72" height="4.09" fill="#2b5cae"/><rect x="91.9" y="320.93" width="3.72" height="4.09" fill="#45b7cb"/><rect x="95.62" y="320.93" width="3.72" height="4.09" fill="#2a8dc7"/><rect x="99.34" y="320.93" width="3.72" height="4.09" fill="#45b7cb"/><rect x="103.06" y="320.93" width="3.72" height="4.09" fill="#45b7cb"/><rect x="106.78" y="320.93" width="3.72" height="4.09" fill="#45b7cb"/><rect x="110.5" y="320.93" width="3.72" height="4.09" fill="#84cfbe"/><rect x="114.22" y="320.93" width="3.72" height="4.09" fill="#84cfbe"/><rect x="117.94" y="320.93" width="3.72" height="4.09" fill="#84cfbe"/><rect x="121.66" y="320.93" width="3.72" height="4.09" fill="#84cfbe"/><rect x="125.38" y="320.93" width="3.72" height="4.09" fill="#84cfbe"/><rect x="129.1" y="320.93" width="3.72" height="4.09" fill="#84cfbe"/><rect x="132.82" y="320.93" width="3.72" height="4.09" fill="#84cfbe"/><rect x="136.54" y="320.93" width="3.72" height="4.09" fill="#84cfbe"/><rect x="140.26" y="320.93" width="3.72" height="4.09" fill="#84cfbe"/><rect x="36.1" y="325.02" width="3.72" height="4.09" fill="#2a8dc7"/><rect x="39.82" y="325.02" width="3.72" height="4.09" fill="#84cfbe"/><rect x="43.54" y="325.02" width="3.72" height="4.09" fill="#84cfbe"/><rect x="47.26" y="325.02" width="3.72" height="4.09" fill="#181f55"/><rect x="50.98" y="325.02" width="3.72" height="4.09" fill="#84cfbe"/><rect x="54.7" y="325.02" width="3.72" height="4.09" fill="#45b7cb"/><rect x="58.42" y="325.02" width="3.72" height="4.09" fill="#45b7cb"/><rect x="62.14" y="325.02" width="3.72" height="4.09" fill="#84cfbe"/><rect x="65.86" y="325.02" width="3.72" height="4.09" fill="#84cfbe"/><rect x="69.58" y="325.02" width="3.72" height="4.09" fill="#2a8dc7"/><rect x="73.3" y="325.02" width="3.72" height="4.09" fill="#2a8dc7"/><rect x="77.02" y="325.02" width="3.72" height="4.09" fill="#2a8dc7"/><rect x="80.74" y="325.02" width="3.72" height="4.09" fill="#2a8dc7"/><rect x="84.46" y="325.02" width="3.72" height="4.09" fill="#2a8dc7"/><rect x="88.18" y="325.02" width="3.72" height="4.09" fill="#2a8dc7"/><rect x="91.9" y="325.02" width="3.72" height="4.09" fill="#84cfbe"/><rect x="95.62" y="325.02" width="3.72" height="4.09" fill="#45b7cb"/><rect x="99.34" y="325.02" width="3.72" height="4.09" fill="#45b7cb"/><rect x="103.06" y="325.02" width="3.72" height="4.09" fill="#84cfbe"/><rect x="106.78" y="325.02" width="3.72" height="4.09" fill="#45b7cb"/><rect x="110.5" y="325.02" width="3.72" height="4.09" fill="#84cfbe"/><rect x="114.22" y="325.02" width="3.72" height="4.09" fill="#45b7cb"/><rect x="117.94" y="325.02" width="3.72" height="4.09" fill="#45b7cb"/><rect x="121.66" y="325.02" width="3.72" height="4.09" fill="#45b7cb"/><rect x="125.38" y="325.02" width="3.72" height="4.09" fill="#45b7cb"/><rect x="129.1" y="325.02" width="3.72" height="4.09" fill="#45b7cb"/><rect x="132.82" y="325.02" width="3.72" height="4.09" fill="#2a8dc7"/><rect x="136.54" y="325.02" width="3.72" height="4.09" fill="#45b7cb"/><rect x="140.26" y="325.02" width="3.72" height="4.09" fill="#45b7cb"/><rect x="36.1" y="329.11" width="3.72" height="4.09" fill="#2a8dc7"/><rect x="39.82" y="329.11" width="3.72" height="4.09" fill="#45b7cb"/><rect x="43.54" y="329.11" width="3.72" height="4.09" fill="#84cfbe"/><rect x="47.26" y="329.11" width="3.72" height="4.09" fill="#84cfbe"/><rect x="50.98" y="329.11" width="3.72" height="4.09" fill="#84cfbe"/><rect x="54.7" y="329.11" width="3.72" height="4.09" fill="#45b7cb"/><rect x="58.42" y="329.11" width="3.72" height="4.09" fill="#45b7cb"/><rect x="62.14" y="329.11" width="3.72" height="4.09" fill="#84cfbe"/><rect x="65.86" y="329.11" width="3.72" height="4.09" fill="#84cfbe"/><rect x="69.58" y="329.11" width="3.72" height="4.09" fill="#2a8dc7"/><rect x="73.3" y="329.11" width="3.72" height="4.09" fill="#2a8dc7"/><rect x="77.02" y="329.11" width="3.72" height="4.09" fill="#2a8dc7"/><rect x="80.74" y="329.11" width="3.72" height="4.09" fill="#2a8dc7"/><rect x="84.46" y="329.11" width="3.72" height="4.09" fill="#2a8dc7"/><rect x="88.18" y="329.11" width="3.72" height="4.09" fill="#2b5cae"/><rect x="91.9" y="329.11" width="3.72" height="4.09" fill="#84cfbe"/><rect x="95.62" y="329.11" width="3.72" height="4.09" fill="#45b7cb"/><rect x="99.34" y="329.11" width="3.72" height="4.09" fill="#45b7cb"/><rect x="103.06" y="329.11" width="3.72" height="4.09" fill="#45b7cb"/><rect x="106.78" y="329.11" width="3.72" height="4.09" fill="#45b7cb"/><rect x="110.5" y="329.11" width="3.72" height="4.09" fill="#84cfbe"/><rect x="114.22" y="329.11" width="3.72" height="4.09" fill="#2a8dc7"/><rect x="117.94" y="329.11" width="3.72" height="4.09" fill="#2a8dc7"/><rect x="121.66" y="329.11" width="3.72" height="4.09" fill="#45b7cb"/><rect x="125.38" y="329.11" width="3.72" height="4.09" fill="#84cfbe"/><rect x="129.1" y="329.11" width="3.72" height="4.09" fill="#45b7cb"/><rect x="132.82" y="329.11" width="3.72" height="4.09" fill="#45b7cb"/><rect x="136.54" y="329.11" width="3.72" height="4.09" fill="#84cfbe"/><rect x="140.26" y="329.11" width="3.72" height="4.09" fill="#45b7cb"/><rect x="36.1" y="333.2" width="3.72" height="4.09" fill="#2a8dc7"/><rect x="39.82" y="333.2" width="3.72" height="4.09" fill="#2b5cae"/><rect x="43.54" y="333.2" width="3.72" height="4.09" fill="#84cfbe"/><rect x="47.26" y="333.2" width="3.72" height="4.09" fill="#84cfbe"/><rect x="50.98" y="333.2" width="3.72" height="4.09" fill="#84cfbe"/><rect x="54.7" y="333.2" width="3.72" height="4.09" fill="#45b7cb"/><rect x="58.42" y="333.2" width="3.72" height="4.09" fill="#45b7cb"/><rect x="62.14" y="333.2" width="3.72" height="4.09" fill="#84cfbe"/><rect x="65.86" y="333.2" width="3.72" height="4.09" fill="#84cfbe"/><rect x="69.58" y="333.2" width="3.72" height="4.09" fill="#2a8dc7"/><rect x="73.3" y="333.2" width="3.72" height="4.09" fill="#2a8dc7"/><rect x="77.02" y="333.2" width="3.72" height="4.09" fill="#2a8dc7"/><rect x="80.74" y="333.2" width="3.72" height="4.09" fill="#2a8dc7"/><rect x="84.46" y="333.2" width="3.72" height="4.09" fill="#2a8dc7"/><rect x="88.18" y="333.2" width="3.72" height="4.09" fill="#2a8dc7"/><rect x="91.9" y="333.2" width="3.72" height="4.09" fill="#84cfbe"/><rect x="95.62" y="333.2" width="3.72" height="4.09" fill="#45b7cb"/><rect x="99.34" y="333.2" width="3.72" height="4.09" fill="#45b7cb"/><rect x="103.06" y="333.2" width="3.72" height="4.09" fill="#84cfbe"/><rect x="106.78" y="333.2" width="3.72" height="4.09" fill="#45b7cb"/><rect x="110.5" y="333.2" width="3.72" height="4.09" fill="#84cfbe"/><rect x="114.22" y="333.2" width="3.72" height="4.09" fill="#45b7cb"/><rect x="117.94" y="333.2" width="3.72" height="4.09" fill="#45b7cb"/><rect x="121.66" y="333.2" width="3.72" height="4.09" fill="#84cfbe"/><rect x="125.38" y="333.2" width="3.72" height="4.09" fill="#84cfbe"/><rect x="129.1" y="333.2" width="3.72" height="4.09" fill="#45b7cb"/><rect x="132.82" y="333.2" width="3.72" height="4.09" fill="#2a8dc7"/><rect x="136.54" y="333.2" width="3.72" height="4.09" fill="#45b7cb"/><rect x="140.26" y="333.2" width="3.72" height="4.09" fill="#45b7cb"/><rect x="36.1" y="337.29" width="3.72" height="4.09" fill="#45b7cb"/><rect x="39.82" y="337.29" width="3.72" height="4.09" fill="#45b7cb"/><rect x="43.54" y="337.29" width="3.72" height="4.09" fill="#84cfbe"/><rect x="47.26" y="337.29" width="3.72" height="4.09" fill="#181f55"/><rect x="50.98" y="337.29" width="3.72" height="4.09" fill="#45b7cb"/><rect x="54.7" y="337.29" width="3.72" height="4.09" fill="#45b7cb"/><rect x="58.42" y="337.29" width="3.72" height="4.09" fill="#45b7cb"/><rect x="62.14" y="337.29" width="3.72" height="4.09" fill="#45b7cb"/><rect x="65.86" y="337.29" width="3.72" height="4.09" fill="#45b7cb"/><rect x="69.58" y="337.29" width="3.72" height="4.09" fill="#45b7cb"/><rect x="73.3" y="337.29" width="3.72" height="4.09" fill="#45b7cb"/><rect x="77.02" y="337.29" width="3.72" height="4.09" fill="#45b7cb"/><rect x="80.74" y="337.29" width="3.72" height="4.09" fill="#45b7cb"/><rect x="84.46" y="337.29" width="3.72" height="4.09" fill="#45b7cb"/><rect x="88.18" y="337.29" width="3.72" height="4.09" fill="#45b7cb"/><rect x="91.9" y="337.29" width="3.72" height="4.09" fill="#84cfbe"/><rect x="95.62" y="337.29" width="3.72" height="4.09" fill="#84cfbe"/><rect x="99.34" y="337.29" width="3.72" height="4.09" fill="#84cfbe"/><rect x="103.06" y="337.29" width="3.72" height="4.09" fill="#84cfbe"/><rect x="106.78" y="337.29" width="3.72" height="4.09" fill="#84cfbe"/><rect x="110.5" y="337.29" width="3.72" height="4.09" fill="#45b7cb"/><rect x="114.22" y="337.29" width="3.72" height="4.09" fill="#2a8dc7"/><rect x="117.94" y="337.29" width="3.72" height="4.09" fill="#2a8dc7"/><rect x="121.66" y="337.29" width="3.72" height="4.09" fill="#2a8dc7"/><rect x="125.38" y="337.29" width="3.72" height="4.09" fill="#45b7cb"/><rect x="129.1" y="337.29" width="3.72" height="4.09" fill="#2a8dc7"/><rect x="132.82" y="337.29" width="3.72" height="4.09" fill="#45b7cb"/><rect x="136.54" y="337.29" width="3.72" height="4.09" fill="#45b7cb"/><rect x="140.26" y="337.29" width="3.72" height="4.09" fill="#45b7cb"/><rect x="36.1" y="341.38" width="3.72" height="4.09" fill="#2a8dc7"/><rect x="39.82" y="341.38" width="3.72" height="4.09" fill="#84cfbe"/><rect x="43.54" y="341.38" width="3.72" height="4.09" fill="#45b7cb"/><rect x="47.26" y="341.38" width="3.72" height="4.09" fill="#45b7cb"/><rect x="50.98" y="341.38" width="3.72" height="4.09" fill="#45b7cb"/><rect x="54.7" y="341.38" width="3.72" height="4.09" fill="#2a8dc7"/><rect x="58.42" y="341.38" width="3.72" height="4.09" fill="#2a8dc7"/><rect x="62.14" y="341.38" width="3.72" height="4.09" fill="#2a8dc7"/><rect x="65.86" y="341.38" width="3.72" height="4.09" fill="#2a8dc7"/><rect x="69.58" y="341.38" width="3.72" height="4.09" fill="#2a8dc7"/><rect x="73.3" y="341.38" width="3.72" height="4.09" fill="#2a8dc7"/><rect x="77.02" y="341.38" width="3.72" height="4.09" fill="#45b7cb"/><rect x="80.74" y="341.38" width="3.72" height="4.09" fill="#45b7cb"/><rect x="84.46" y="341.38" width="3.72" height="4.09" fill="#45b7cb"/><rect x="88.18" y="341.38" width="3.72" height="4.09" fill="#2a8dc7"/><rect x="91.9" y="341.38" width="3.72" height="4.09" fill="#84cfbe"/><rect x="95.62" y="341.38" width="3.72" height="4.09" fill="#eef5bb"/><rect x="99.34" y="341.38" width="3.72" height="4.09" fill="#eef5bb"/><rect x="103.06" y="341.38" width="3.72" height="4.09" fill="#eef5bb"/><rect x="106.78" y="341.38" width="3.72" height="4.09" fill="#84cfbe"/><rect x="110.5" y="341.38" width="3.72" height="4.09" fill="#2a8dc7"/><rect x="114.22" y="341.38" width="3.72" height="4.09" fill="#84cfbe"/><rect x="117.94" y="341.38" width="3.72" height="4.09" fill="#45b7cb"/><rect x="121.66" y="341.38" width="3.72" height="4.09" fill="#2a8dc7"/><rect x="125.38" y="341.38" width="3.72" height="4.09" fill="#84cfbe"/><rect x="129.1" y="341.38" width="3.72" height="4.09" fill="#2a8dc7"/><rect x="132.82" y="341.38" width="3.72" height="4.09" fill="#84cfbe"/><rect x="136.54" y="341.38" width="3.72" height="4.09" fill="#45b7cb"/><rect x="140.26" y="341.38" width="3.72" height="4.09" fill="#2a8dc7"/><rect x="36.1" y="345.47" width="3.72" height="4.09" fill="#2a8dc7"/><rect x="39.82" y="345.47" width="3.72" height="4.09" fill="#2a8dc7"/><rect x="43.54" y="345.47" width="3.72" height="4.09" fill="#2a8dc7"/><rect x="47.26" y="345.47" width="3.72" height="4.09" fill="#2a8dc7"/><rect x="50.98" y="345.47" width="3.72" height="4.09" fill="#2a8dc7"/><rect x="54.7" y="345.47" width="3.72" height="4.09" fill="#2a8dc7"/><rect x="58.42" y="345.47" width="3.72" height="4.09" fill="#2a8dc7"/><rect x="62.14" y="345.47" width="3.72" height="4.09" fill="#45b7cb"/><rect x="65.86" y="345.47" width="3.72" height="4.09" fill="#2a8dc7"/><rect x="69.58" y="345.47" width="3.72" height="4.09" fill="#2a8dc7"/><rect x="73.3" y="345.47" width="3.72" height="4.09" fill="#2a8dc7"/><rect x="77.02" y="345.47" width="3.72" height="4.09" fill="#45b7cb"/><rect x="80.74" y="345.47" width="3.72" height="4.09" fill="#45b7cb"/><rect x="84.46" y="345.47" width="3.72" height="4.09" fill="#45b7cb"/><rect x="88.18" y="345.47" width="3.72" height="4.09" fill="#45b7cb"/><rect x="91.9" y="345.47" width="3.72" height="4.09" fill="#45b7cb"/><rect x="95.62" y="345.47" width="3.72" height="4.09" fill="#84cfbe"/><rect x="99.34" y="345.47" width="3.72" height="4.09" fill="#84cfbe"/><rect x="103.06" y="345.47" width="3.72" height="4.09" fill="#84cfbe"/><rect x="106.78" y="345.47" width="3.72" height="4.09" fill="#84cfbe"/><rect x="110.5" y="345.47" width="3.72" height="4.09" fill="#84cfbe"/><rect x="114.22" y="345.47" width="3.72" height="4.09" fill="#84cfbe"/><rect x="117.94" y="345.47" width="3.72" height="4.09" fill="#84cfbe"/><rect x="121.66" y="345.47" width="3.72" height="4.09" fill="#84cfbe"/><rect x="125.38" y="345.47" width="3.72" height="4.09" fill="#84cfbe"/><rect x="129.1" y="345.47" width="3.72" height="4.09" fill="#84cfbe"/><rect x="132.82" y="345.47" width="3.72" height="4.09" fill="#2a8dc7"/><rect x="136.54" y="345.47" width="3.72" height="4.09" fill="#84cfbe"/><rect x="140.26" y="345.47" width="3.72" height="4.09" fill="#84cfbe"/><rect x="36.1" y="349.56" width="3.72" height="4.09" fill="#283b96"/><rect x="39.82" y="349.56" width="3.72" height="4.09" fill="#45b7cb"/><rect x="43.54" y="349.56" width="3.72" height="4.09" fill="#45b7cb"/><rect x="47.26" y="349.56" width="3.72" height="4.09" fill="#2a8dc7"/><rect x="50.98" y="349.56" width="3.72" height="4.09" fill="#2a8dc7"/><rect x="54.7" y="349.56" width="3.72" height="4.09" fill="#2a8dc7"/><rect x="58.42" y="349.56" width="3.72" height="4.09" fill="#2a8dc7"/><rect x="62.14" y="349.56" width="3.72" height="4.09" fill="#45b7cb"/><rect x="65.86" y="349.56" width="3.72" height="4.09" fill="#2a8dc7"/><rect x="69.58" y="349.56" width="3.72" height="4.09" fill="#2a8dc7"/><rect x="73.3" y="349.56" width="3.72" height="4.09" fill="#2a8dc7"/><rect x="77.02" y="349.56" width="3.72" height="4.09" fill="#45b7cb"/><rect x="80.74" y="349.56" width="3.72" height="4.09" fill="#45b7cb"/><rect x="84.46" y="349.56" width="3.72" height="4.09" fill="#45b7cb"/><rect x="88.18" y="349.56" width="3.72" height="4.09" fill="#45b7cb"/><rect x="91.9" y="349.56" width="3.72" height="4.09" fill="#45b7cb"/><rect x="95.62" y="349.56" width="3.72" height="4.09" fill="#84cfbe"/><rect x="99.34" y="349.56" width="3.72" height="4.09" fill="#84cfbe"/><rect x="103.06" y="349.56" width="3.72" height="4.09" fill="#84cfbe"/><rect x="106.78" y="349.56" width="3.72" height="4.09" fill="#84cfbe"/><rect x="110.5" y="349.56" width="3.72" height="4.09" fill="#84cfbe"/><rect x="114.22" y="349.56" width="3.72" height="4.09" fill="#84cfbe"/><rect x="117.94" y="349.56" width="3.72" height="4.09" fill="#84cfbe"/><rect x="121.66" y="349.56" width="3.72" height="4.09" fill="#84cfbe"/><rect x="125.38" y="349.56" width="3.72" height="4.09" fill="#84cfbe"/><rect x="129.1" y="349.56" width="3.72" height="4.09" fill="#84cfbe"/><rect x="132.82" y="349.56" width="3.72" height="4.09" fill="#45b7cb"/><rect x="136.54" y="349.56" width="3.72" height="4.09" fill="#84cfbe"/><rect x="140.26" y="349.56" width="3.72" height="4.09" fill="#84cfbe"/><rect x="36.1" y="353.65" width="3.72" height="4.09" fill="#283b96"/><rect x="39.82" y="353.65" width="3.72" height="4.09" fill="#2a8dc7"/><rect x="43.54" y="353.65" width="3.72" height="4.09" fill="#84cfbe"/><rect x="47.26" y="353.65" width="3.72" height="4.09" fill="#45b7cb"/><rect x="50.98" y="353.65" width="3.72" height="4.09" fill="#45b7cb"/><rect x="54.7" y="353.65" width="3.72" height="4.09" fill="#2a8dc7"/><rect x="58.42" y="353.65" width="3.72" height="4.09" fill="#2a8dc7"/><rect x="62.14" y="353.65" width="3.72" height="4.09" fill="#2a8dc7"/><rect x="65.86" y="353.65" width="3.72" height="4.09" fill="#2b5cae"/><rect x="69.58" y="353.65" width="3.72" height="4.09" fill="#2b5cae"/><rect x="73.3" y="353.65" width="3.72" height="4.09" fill="#45b7cb"/><rect x="77.02" y="353.65" width="3.72" height="4.09" fill="#45b7cb"/><rect x="80.74" y="353.65" width="3.72" height="4.09" fill="#45b7cb"/><rect x="84.46" y="353.65" width="3.72" height="4.09" fill="#45b7cb"/><rect x="88.18" y="353.65" width="3.72" height="4.09" fill="#45b7cb"/><rect x="91.9" y="353.65" width="3.72" height="4.09" fill="#84cfbe"/><rect x="95.62" y="353.65" width="3.72" height="4.09" fill="#84cfbe"/><rect x="99.34" y="353.65" width="3.72" height="4.09" fill="#84cfbe"/><rect x="103.06" y="353.65" width="3.72" height="4.09" fill="#84cfbe"/><rect x="106.78" y="353.65" width="3.72" height="4.09" fill="#84cfbe"/><rect x="110.5" y="353.65" width="3.72" height="4.09" fill="#45b7cb"/><rect x="114.22" y="353.65" width="3.72" height="4.09" fill="#45b7cb"/><rect x="117.94" y="353.65" width="3.72" height="4.09" fill="#2a8dc7"/><rect x="121.66" y="353.65" width="3.72" height="4.09" fill="#45b7cb"/><rect x="125.38" y="353.65" width="3.72" height="4.09" fill="#84cfbe"/><rect x="129.1" y="353.65" width="3.72" height="4.09" fill="#84cfbe"/><rect x="132.82" y="353.65" width="3.72" height="4.09" fill="#84cfbe"/><rect x="136.54" y="353.65" width="3.72" height="4.09" fill="#84cfbe"/><rect x="140.26" y="353.65" width="3.72" height="4.09" fill="#84cfbe"/></g>
<path d="M36.1 210.5V357.74M39.82 210.5V357.74M43.54 210.5V357.74M47.26 210.5V357.74M50.98 210.5V357.74M54.7 210.5V357.74M58.42 210.5V357.74M62.14 210.5V357.74M65.86 210.5V357.74M69.58 210.5V357.74M73.3 210.5V357.74M77.02 210.5V357.74M80.74 210.5V357.74M84.46 210.5V357.74M88.18 210.5V357.74M91.9 210.5V357.74M95.62 210.5V357.74M99.34 210.5V357.74M103.06 210.5V357.74M106.78 210.5V357.74M110.5 210.5V357.74M114.22 210.5V357.74M117.94 210.5V357.74M121.66 210.5V357.74M125.38 210.5V357.74M129.1 210.5V357.74M132.82 210.5V357.74M136.54 210.5V357.74M140.26 210.5V357.74M143.98 210.5V357.74M36.1 210.5H143.98M36.1 214.59H143.98M36.1 218.68H143.98M36.1 222.77H143.98M36.1 226.86H143.98M36.1 230.95H143.98M36.1 235.04H143.98M36.1 239.13H143.98M36.1 243.22H143.98M36.1 247.31H143.98M36.1 251.4H143.98M36.1 255.49H143.98M36.1 259.58H143.98M36.1 263.67H143.98M36.1 267.76H143.98M36.1 271.85H143.98M36.1 275.94H143.98M36.1 280.03H143.98M36.1 284.12H143.98M36.1 288.21H143.98M36.1 292.3H143.98M36.1 296.39H143.98M36.1 300.48H143.98M36.1 304.57H143.98M36.1 308.66H143.98M36.1 312.75H143.98M36.1 316.84H143.98M36.1 320.93H143.98M36.1 325.02H143.98M36.1 329.11H143.98M36.1 333.2H143.98M36.1 337.29H143.98M36.1 341.38H143.98M36.1 345.47H143.98M36.1 349.56H143.98M36.1 353.65H143.98M36.1 357.74H143.98" stroke="#a4a4a4" stroke-width="0.6" fill="none"/>
<rect x="36.1" y="205.1" width="3.72" height="3.7" fill="#8d3b9e" stroke="#b8a0b8" stroke-width="0.3"/>
<rect x="39.82" y="205.1" width="3.72" height="3.7" fill="#f577b5" stroke="#b8a0b8" stroke-width="0.3"/>
<rect x="43.54" y="205.1" width="3.72" height="3.7" fill="#f577b5" stroke="#b8a0b8" stroke-width="0.3"/>
<rect x="47.26" y="205.1" width="3.72" height="3.7" fill="#8d3b9e" stroke="#b8a0b8" stroke-width="0.3"/>
<rect x="50.98" y="205.1" width="3.72" height="3.7" fill="#f577b5" stroke="#b8a0b8" stroke-width="0.3"/>
<rect x="54.7" y="205.1" width="3.72" height="3.7" fill="#8d3b9e" stroke="#b8a0b8" stroke-width="0.3"/>
<rect x="58.42" y="205.1" width="3.72" height="3.7" fill="#f577b5" stroke="#b8a0b8" stroke-width="0.3"/>
<rect x="62.14" y="205.1" width="3.72" height="3.7" fill="#f577b5" stroke="#b8a0b8" stroke-width="0.3"/>
<rect x="65.86" y="205.1" width="3.72" height="3.7" fill="#f577b5" stroke="#b8a0b8" stroke-width="0.3"/>
<rect x="69.58" y="205.1" width="3.72" height="3.7" fill="#8d3b9e" stroke="#b8a0b8" stroke-width="0.3"/>
<rect x="73.3" y="205.1" width="3.72" height="3.7" fill="#8d3b9e" stroke="#b8a0b8" stroke-width="0.3"/>
<rect x="77.02" y="205.1" width="3.72" height="3.7" fill="#8d3b9e" stroke="#b8a0b8" stroke-width="0.3"/>
<rect x="80.74" y="205.1" width="3.72" height="3.7" fill="#8d3b9e" stroke="#b8a0b8" stroke-width="0.3"/>
<rect x="84.46" y="205.1" width="3.72" height="3.7" fill="#8d3b9e" stroke="#b8a0b8" stroke-width="0.3"/>
<rect x="88.18" y="205.1" width="3.72" height="3.7" fill="#8d3b9e" stroke="#b8a0b8" stroke-width="0.3"/>
<rect x="91.9" y="205.1" width="3.72" height="3.7" fill="#f577b5" stroke="#b8a0b8" stroke-width="0.3"/>
<rect x="95.62" y="205.1" width="3.72" height="3.7" fill="#f577b5" stroke="#b8a0b8" stroke-width="0.3"/>
<rect x="99.34" y="205.1" width="3.72" height="3.7" fill="#8d3b9e" stroke="#b8a0b8" stroke-width="0.3"/>
<rect x="103.06" y="205.1" width="3.72" height="3.7" fill="#f577b5" stroke="#b8a0b8" stroke-width="0.3"/>
<rect x="106.78" y="205.1" width="3.72" height="3.7" fill="#f577b5" stroke="#b8a0b8" stroke-width="0.3"/>
<rect x="110.5" y="205.1" width="3.72" height="3.7" fill="#f577b5" stroke="#b8a0b8" stroke-width="0.3"/>
<rect x="114.22" y="205.1" width="3.72" height="3.7" fill="#8d3b9e" stroke="#b8a0b8" stroke-width="0.3"/>
<rect x="117.94" y="205.1" width="3.72" height="3.7" fill="#8d3b9e" stroke="#b8a0b8" stroke-width="0.3"/>
<rect x="121.66" y="205.1" width="3.72" height="3.7" fill="#8d3b9e" stroke="#b8a0b8" stroke-width="0.3"/>
<rect x="125.38" y="205.1" width="3.72" height="3.7" fill="#8d3b9e" stroke="#b8a0b8" stroke-width="0.3"/>
<rect x="129.1" y="205.1" width="3.72" height="3.7" fill="#8d3b9e" stroke="#b8a0b8" stroke-width="0.3"/>
<rect x="132.82" y="205.1" width="3.72" height="3.7" fill="#8d3b9e" stroke="#b8a0b8" stroke-width="0.3"/>
<rect x="136.54" y="205.1" width="3.72" height="3.7" fill="#f577b5" stroke="#b8a0b8" stroke-width="0.3"/>
<rect x="140.26" y="205.1" width="3.72" height="3.7" fill="#8d3b9e" stroke="#b8a0b8" stroke-width="0.3"/>
<text transform="translate(146.2 208.6) scale(0.831 1)" font-size="4.7" fill="#333" text-anchor="start" font-weight="normal">CAR_vs_NonCAR</text>
<text transform="translate(146.2 214.5) scale(0.920 1)" font-size="4.7" fill="#3a3a3a" text-anchor="start" font-weight="normal">CD57</text>
<text transform="translate(146.2 218.59) scale(0.920 1)" font-size="4.7" fill="#3a3a3a" text-anchor="start" font-weight="normal">CD8</text>
<text transform="translate(146.2 222.68) scale(0.920 1)" font-size="4.7" fill="#3a3a3a" text-anchor="start" font-weight="normal">Tbet</text>
<text transform="translate(146.2 226.77) scale(0.920 1)" font-size="4.7" fill="#3a3a3a" text-anchor="start" font-weight="normal">GzB</text>
<text transform="translate(146.2 230.86) scale(0.920 1)" font-size="4.7" fill="#3a3a3a" text-anchor="start" font-weight="normal">TIGIT</text>
<text transform="translate(146.2 234.95) scale(0.920 1)" font-size="4.7" fill="#3a3a3a" text-anchor="start" font-weight="normal">CD352</text>
<text transform="translate(146.2 239.04) scale(0.920 1)" font-size="4.7" fill="#3a3a3a" text-anchor="start" font-weight="normal">CD39</text>
<text transform="translate(146.2 243.13) scale(0.920 1)" font-size="4.7" fill="#3a3a3a" text-anchor="start" font-weight="normal">PD1</text>
<text transform="translate(146.2 247.22) scale(0.920 1)" font-size="4.7" fill="#3a3a3a" text-anchor="start" font-weight="normal">CD95</text>
<text transform="translate(146.2 251.31) scale(0.920 1)" font-size="4.7" fill="#3a3a3a" text-anchor="start" font-weight="normal">TOX</text>
<text transform="translate(146.2 255.4) scale(0.920 1)" font-size="4.7" fill="#3a3a3a" text-anchor="start" font-weight="normal">Helios</text>
<text transform="translate(146.2 259.49) scale(0.920 1)" font-size="4.7" fill="#3a3a3a" text-anchor="start" font-weight="normal">Eomes</text>
<text transform="translate(146.2 263.58) scale(0.920 1)" font-size="4.7" fill="#3a3a3a" text-anchor="start" font-weight="normal">GzK</text>
<text transform="translate(146.2 267.67) scale(0.920 1)" font-size="4.7" fill="#3a3a3a" text-anchor="start" font-weight="normal">Ki67</text>
<text transform="translate(146.2 271.76) scale(0.920 1)" font-size="4.7" fill="#3a3a3a" text-anchor="start" font-weight="normal">CD38</text>
<text transform="translate(146.2 275.85) scale(0.920 1)" font-size="4.7" fill="#3a3a3a" text-anchor="start" font-weight="normal">HLA-DR</text>
<text transform="translate(146.2 279.94) scale(0.920 1)" font-size="4.7" fill="#3a3a3a" text-anchor="start" font-weight="normal">CD3</text>
<text transform="translate(146.2 284.03) scale(0.920 1)" font-size="4.7" fill="#3a3a3a" text-anchor="start" font-weight="normal">CD4</text>
<text transform="translate(146.2 288.12) scale(0.920 1)" font-size="4.7" fill="#3a3a3a" text-anchor="start" font-weight="normal">TCF1</text>
<text transform="translate(146.2 292.21) scale(0.920 1)" font-size="4.7" fill="#3a3a3a" text-anchor="start" font-weight="normal">Tim3</text>
<text transform="translate(146.2 296.3) scale(0.920 1)" font-size="4.7" fill="#3a3a3a" text-anchor="start" font-weight="normal">CXCR5</text>
<text transform="translate(146.2 300.39) scale(0.920 1)" font-size="4.7" fill="#3a3a3a" text-anchor="start" font-weight="normal">LAG-3</text>
<text transform="translate(146.2 304.48) scale(0.920 1)" font-size="4.7" fill="#3a3a3a" text-anchor="start" font-weight="normal">CD103</text>
<text transform="translate(146.2 308.57) scale(0.920 1)" font-size="4.7" fill="#3a3a3a" text-anchor="start" font-weight="normal">CD16</text>
<text transform="translate(146.2 312.66) scale(0.920 1)" font-size="4.7" fill="#3a3a3a" text-anchor="start" font-weight="normal">CXCR3</text>
<text transform="translate(146.2 316.75) scale(0.920 1)" font-size="4.7" fill="#3a3a3a" text-anchor="start" font-weight="normal">CD45RA</text>
<text transform="translate(146.2 320.84) scale(0.920 1)" font-size="4.7" fill="#3a3a3a" text-anchor="start" font-weight="normal">CD85j</text>
<text transform="translate(146.2 324.93) scale(0.920 1)" font-size="4.7" fill="#3a3a3a" text-anchor="start" font-weight="normal">2B4</text>
<text transform="translate(146.2 329.02) scale(0.920 1)" font-size="4.7" fill="#3a3a3a" text-anchor="start" font-weight="normal">CD69</text>
<text transform="translate(146.2 333.11) scale(0.920 1)" font-size="4.7" fill="#3a3a3a" text-anchor="start" font-weight="normal">CTLA-4</text>
<text transform="translate(146.2 337.2) scale(0.920 1)" font-size="4.7" fill="#3a3a3a" text-anchor="start" font-weight="normal">CD49d</text>
<text transform="translate(146.2 341.29) scale(0.920 1)" font-size="4.7" fill="#3a3a3a" text-anchor="start" font-weight="normal">CD28</text>
<text transform="translate(146.2 345.38) scale(0.920 1)" font-size="4.7" fill="#3a3a3a" text-anchor="start" font-weight="normal">CD27</text>
<text transform="translate(146.2 349.47) scale(0.920 1)" font-size="4.7" fill="#3a3a3a" text-anchor="start" font-weight="normal">CD25</text>
<text transform="translate(146.2 353.56) scale(0.920 1)" font-size="4.7" fill="#3a3a3a" text-anchor="start" font-weight="normal">CD127</text>
<text transform="translate(146.2 357.65) scale(0.920 1)" font-size="4.7" fill="#3a3a3a" text-anchor="start" font-weight="normal">CCR7</text>
<text x="36.46" y="360" font-size="4.2" fill="#555" text-anchor="start" font-weight="normal" transform="rotate(90 36.46 360)">Cluster_15</text>
<text x="40.18" y="360" font-size="4.2" fill="#555" text-anchor="start" font-weight="normal" transform="rotate(90 40.18 360)">Cluster_9</text>
<text x="43.9" y="360" font-size="4.2" fill="#555" text-anchor="start" font-weight="normal" transform="rotate(90 43.9 360)">Cluster_4</text>
<text x="47.62" y="360" font-size="4.2" fill="#555" text-anchor="start" font-weight="normal" transform="rotate(90 47.62 360)">Cluster_13</text>
<text x="51.34" y="360" font-size="4.2" fill="#555" text-anchor="start" font-weight="normal" transform="rotate(90 51.34 360)">Cluster_2</text>
<text x="55.06" y="360" font-size="4.2" fill="#555" text-anchor="start" font-weight="normal" transform="rotate(90 55.06 360)">Cluster_21</text>
<text x="58.78" y="360" font-size="4.2" fill="#555" text-anchor="start" font-weight="normal" transform="rotate(90 58.78 360)">Cluster_20</text>
<text x="62.5" y="360" font-size="4.2" fill="#555" text-anchor="start" font-weight="normal" transform="rotate(90 62.5 360)">Cluster_25</text>
<text x="66.22" y="360" font-size="4.2" fill="#555" text-anchor="start" font-weight="normal" transform="rotate(90 66.22 360)">Cluster_17</text>
<text x="69.94" y="360" font-size="4.2" fill="#555" text-anchor="start" font-weight="normal" transform="rotate(90 69.94 360)">Cluster_26</text>
<text x="73.66" y="360" font-size="4.2" fill="#555" text-anchor="start" font-weight="normal" transform="rotate(90 73.66 360)">Cluster_3</text>
<text x="77.38" y="360" font-size="4.2" fill="#555" text-anchor="start" font-weight="normal" transform="rotate(90 77.38 360)">Cluster_18</text>
<text x="81.1" y="360" font-size="4.2" fill="#555" text-anchor="start" font-weight="normal" transform="rotate(90 81.1 360)">Cluster_14</text>
<text x="84.82" y="360" font-size="4.2" fill="#555" text-anchor="start" font-weight="normal" transform="rotate(90 84.82 360)">Cluster_1</text>
<text x="88.54" y="360" font-size="4.2" fill="#555" text-anchor="start" font-weight="normal" transform="rotate(90 88.54 360)">Cluster_6</text>
<text x="92.26" y="360" font-size="4.2" fill="#555" text-anchor="start" font-weight="normal" transform="rotate(90 92.26 360)">Cluster_28</text>
<text x="95.98" y="360" font-size="4.2" fill="#555" text-anchor="start" font-weight="normal" transform="rotate(90 95.98 360)">Cluster_12</text>
<text x="99.7" y="360" font-size="4.2" fill="#555" text-anchor="start" font-weight="normal" transform="rotate(90 99.7 360)">Cluster_31</text>
<text x="103.42" y="360" font-size="4.2" fill="#555" text-anchor="start" font-weight="normal" transform="rotate(90 103.42 360)">Cluster_22</text>
<text x="107.14" y="360" font-size="4.2" fill="#555" text-anchor="start" font-weight="normal" transform="rotate(90 107.14 360)">Cluster_8</text>
<text x="110.86" y="360" font-size="4.2" fill="#555" text-anchor="start" font-weight="normal" transform="rotate(90 110.86 360)">Cluster_11</text>
<text x="114.58" y="360" font-size="4.2" fill="#555" text-anchor="start" font-weight="normal" transform="rotate(90 114.58 360)">Cluster_7</text>
<text x="118.3" y="360" font-size="4.2" fill="#555" text-anchor="start" font-weight="normal" transform="rotate(90 118.3 360)">Cluster_23</text>
<text x="122.02" y="360" font-size="4.2" fill="#555" text-anchor="start" font-weight="normal" transform="rotate(90 122.02 360)">Cluster_27</text>
<text x="125.74" y="360" font-size="4.2" fill="#555" text-anchor="start" font-weight="normal" transform="rotate(90 125.74 360)">Cluster_16</text>
<text x="129.46" y="360" font-size="4.2" fill="#555" text-anchor="start" font-weight="normal" transform="rotate(90 129.46 360)">Cluster_29</text>
<text x="133.18" y="360" font-size="4.2" fill="#555" text-anchor="start" font-weight="normal" transform="rotate(90 133.18 360)">Cluster_10</text>
<text x="136.9" y="360" font-size="4.2" fill="#555" text-anchor="start" font-weight="normal" transform="rotate(90 136.9 360)">Cluster_5</text>
<text x="140.62" y="360" font-size="4.2" fill="#555" text-anchor="start" font-weight="normal" transform="rotate(90 140.62 360)">Cluster_24</text>
<rect x="179.9" y="204.1" width="5.4" height="9.9" fill="#081d58"/>
<rect x="179.9" y="213.91" width="5.4" height="9.9" fill="#253494"/>
<rect x="179.9" y="223.72" width="5.4" height="9.9" fill="#225ea8"/>
<rect x="179.9" y="233.53" width="5.4" height="9.9" fill="#1d91c0"/>
<rect x="179.9" y="243.34" width="5.4" height="9.9" fill="#41b6c4"/>
<rect x="179.9" y="253.15" width="5.4" height="9.9" fill="#7fcdbb"/>
<rect x="179.9" y="262.96" width="5.4" height="9.9" fill="#c7e9b4"/>
<rect x="179.9" y="272.77" width="5.4" height="9.9" fill="#edf8b1"/>
<rect x="179.9" y="282.58" width="5.4" height="9.9" fill="#f7fbd0"/>
<text x="186.8" y="215.5" font-size="4.6" fill="#333" text-anchor="start" font-weight="normal">4</text>
<text x="186.8" y="233.1" font-size="4.6" fill="#333" text-anchor="start" font-weight="normal">2</text>
<text x="186.8" y="250.8" font-size="4.6" fill="#333" text-anchor="start" font-weight="normal">0</text>
<text x="186.8" y="267.8" font-size="4.6" fill="#333" text-anchor="start" font-weight="normal">−2</text>
<text x="186.8" y="285.1" font-size="4.6" fill="#333" text-anchor="start" font-weight="normal">−4</text>
<path d="M41.68 204.9V197H45.4V204.9M52.84 204.9V198H56.56V204.9M64 204.9V199H67.72V204.9M60.28 204.9V196.5H65.86V199M54.7 198V195H63.07V196.5M49.12 204.9V193H58.89V195M43.54 197V190.7H54V193M75.16 204.9V195H78.88V204.9M86.32 204.9V198.5H90.04V204.9M82.6 204.9V196H88.18V198.5M77.02 195V192.5H85.39V196M71.44 204.9V190H81.21V192.5M97.48 204.9V196H101.2V204.9M93.76 204.9V192.3H99.34V196M108.64 204.9V198H112.36V204.9M104.92 204.9V195.5H110.5V198M116.08 204.9V197H119.8V204.9M107.71 195.5V193H117.94V197M127.24 204.9V198H130.96V204.9M123.52 204.9V195.5H129.1V198M134.68 204.9V199H138.4V204.9M136.54 199V196.5H142.12V204.9M126.31 195.5V192.8H139.33V196.5M112.83 193V190.4H132.82V192.8M96.55 192.3V188H122.82V190.4M76.32 190V185.2H109.69V188M48.77 190.7V180H93V185.2M37.96 204.9V172.8H70.89V180" stroke="#333" stroke-width="0.6" fill="none"/>
<path d="M35.9 220.72H28.6V224.81H35.9M35.9 216.63H20.5V222.77H28.6M35.9 212.54H17.4V219.7H20.5M35.9 228.91H23.5V232.99H35.9M35.9 241.17H25.5V245.26H35.9M35.9 237.08H21.5V243.22H25.5M23.5 230.95H19.5V240.15H21.5M35.9 249.35H28V253.44H35.9M35.9 257.54H26.5V261.62H35.9M35.9 269.81H28.5V273.9H35.9M35.9 265.72H25V271.85H28.5M26.5 259.58H21.5V268.78H25M28 251.4H19.3V264.18H21.5M19.5 235.55H16.4V257.79H19.3M17.4 216.12H12.4V246.67H16.4M35.9 282.07H20V286.17H35.9M35.9 277.99H17V284.12H20M35.9 290.25H31.5V294.35H35.9M35.9 302.53H31V306.62H35.9M35.9 298.44H30V304.57H31M31.5 292.3H29.2V301.5H30M35.9 310.7H25.5V314.8H35.9M29.2 296.9H17.4V312.75H25.5M35.9 318.89H28V322.98H35.9M35.9 327.06H27.5V331.16H35.9M28 320.93H18.6V329.11H27.5M35.9 339.33H26V343.43H35.9M35.9 335.25H21.7V341.38H26M18.6 325.02H16.1V338.31H21.7M35.9 347.52H26V351.61H35.9M26 349.56H21.7V355.69H35.9M16.1 331.67H12.4V352.63H21.7M17.4 304.83H9.6V342.15H12.4M17 281.05H9V323.49H9.6M12.4 231.4H8.4V302.27H9" stroke="#333" stroke-width="0.6" fill="none"/>
<rect x="152.1" y="366.9" width="5.2" height="4.9" fill="#5b2a8e"/>
<rect x="152.3" y="372.9" width="4.9" height="4.8" fill="#f8eef4" stroke="#cbbfc8" stroke-width="0.4"/>
<text transform="translate(160.2 371.1) scale(0.947 1)" font-size="5.6" fill="#333" text-anchor="start" font-weight="normal">Increased cluster</text>
<text transform="translate(160.2 376.9) scale(0.937 1)" font-size="5.6" fill="#333" text-anchor="start" font-weight="normal">Decreased cluster</text>
<path d="M116.2 391V385" stroke="#c8102e" stroke-width="0.9" fill="none"/>
<path d="M114.3 385.6L116.2 381.8L118.1 385.6Z" stroke="none" stroke-width="0" fill="#c8102e"/>
<path d="M142.4 391V385" stroke="#c8102e" stroke-width="0.9" fill="none"/>
<path d="M140.5 385.6L142.4 381.8L144.3 385.6Z" stroke="none" stroke-width="0" fill="#c8102e"/>
<text x="199.6" y="204.8" font-size="11.5" fill="#111" text-anchor="start" font-weight="bold">C</text>
<path d="M275.75 222.4H347.83V225.15H275.75ZM275.75 226.03H310.94V228.78H275.75ZM275.75 229.66H310.94V232.41H275.75ZM275.75 233.29H309.67V236.04H275.75ZM275.75 236.92H306.28V239.67H275.75ZM275.75 240.55H292.29V243.3H275.75ZM275.75 244.18H289.95V246.93H275.75ZM275.75 247.81H288.89V250.56H275.75ZM275.75 251.44H287.62V254.19H275.75ZM275.75 255.07H286.77V257.82H275.75ZM275.75 258.7H283.38V261.45H275.75ZM275.75 262.33H281.56V265.08H275.75ZM275.75 265.96H280.84V268.71H275.75ZM275.75 269.59H276.94V272.34H275.75ZM272.36 276.85H275.75V279.6H272.36ZM272.06 280.48H275.75V283.23H272.06ZM268.97 284.11H275.75V286.86H268.97ZM266.55 287.74H275.75V290.49H266.55ZM265.28 291.37H275.75V294.12H265.28ZM264.3 295H275.75V297.75H264.3ZM264.17 298.63H275.75V301.38H264.17ZM263.11 302.26H275.75V305.01H263.11ZM260.99 305.89H275.75V308.64H260.99ZM255.14 309.52H275.75V312.27H255.14ZM246.92 313.15H275.75V315.9H246.92ZM243.53 316.78H275.75V319.53H243.53ZM237.17 320.41H275.75V323.16H237.17ZM236.32 324.04H275.75V326.79H236.32ZM234.2 327.67H275.75V330.42H234.2ZM233.52 331.3H275.75V334.05H233.52ZM233.52 334.93H275.75V337.68H233.52ZM233.52 338.56H275.75V341.31H233.52ZM233.52 342.19H275.75V344.94H233.52ZM233.52 345.82H275.75V348.57H233.52ZM233.52 349.45H275.75V352.2H233.52Z" stroke="none" stroke-width="0" fill="#c8102e"/>
<path d="M227.8 221.2V353.2H353.4" stroke="#333" stroke-width="0.6" fill="none"/>
<path d="M225.9 223.78H227.8M225.9 227.41H227.8M225.9 231.03H227.8M225.9 234.67H227.8M225.9 238.3H227.8M225.9 241.93H227.8M225.9 245.56H227.8M225.9 249.19H227.8M225.9 252.81H227.8M225.9 256.44H227.8M225.9 260.07H227.8M225.9 263.7H227.8M225.9 267.34H227.8M225.9 270.97H227.8M225.9 274.6H227.8M225.9 278.23H227.8M225.9 281.86H227.8M225.9 285.49H227.8M225.9 289.12H227.8M225.9 292.75H227.8M225.9 296.38H227.8M225.9 300H227.8M225.9 303.63H227.8M225.9 307.26H227.8M225.9 310.89H227.8M225.9 314.52H227.8M225.9 318.15H227.8M225.9 321.78H227.8M225.9 325.42H227.8M225.9 329.05H227.8M225.9 332.68H227.8M225.9 336.31H227.8M225.9 339.94H227.8M225.9 343.56H227.8M225.9 347.19H227.8M225.9 350.82H227.8" stroke="#333" stroke-width="0.5" fill="none"/>
<text transform="translate(223.4 225.48) scale(0.850 1)" font-size="5" fill="#666" text-anchor="end" font-weight="normal">CD29</text>
<text transform="translate(223.4 229.11) scale(0.850 1)" font-size="5" fill="#666" text-anchor="end" font-weight="normal">CD4</text>
<text transform="translate(223.4 232.74) scale(0.850 1)" font-size="5" fill="#666" text-anchor="end" font-weight="normal">HLA-DR</text>
<text transform="translate(223.4 236.37) scale(0.850 1)" font-size="5" fill="#666" text-anchor="end" font-weight="normal">PD1</text>
<text transform="translate(223.4 240) scale(0.850 1)" font-size="5" fill="#666" text-anchor="end" font-weight="normal">CD28</text>
<text transform="translate(223.4 243.63) scale(0.850 1)" font-size="5" fill="#666" text-anchor="end" font-weight="normal">Ki67</text>
<text transform="translate(223.4 247.26) scale(0.850 1)" font-size="5" fill="#666" text-anchor="end" font-weight="normal">CD95</text>
<text transform="translate(223.4 250.89) scale(0.850 1)" font-size="5" fill="#666" text-anchor="end" font-weight="normal">CD38</text>
<text transform="translate(223.4 254.52) scale(0.850 1)" font-size="5" fill="#666" text-anchor="end" font-weight="normal">CTLA-4</text>
<text transform="translate(223.4 258.14) scale(0.850 1)" font-size="5" fill="#666" text-anchor="end" font-weight="normal">TIGIT</text>
<text transform="translate(223.4 261.77) scale(0.850 1)" font-size="5" fill="#666" text-anchor="end" font-weight="normal">CD352</text>
<text transform="translate(223.4 265.4) scale(0.850 1)" font-size="5" fill="#666" text-anchor="end" font-weight="normal">CD39</text>
<text transform="translate(223.4 269.04) scale(0.850 1)" font-size="5" fill="#666" text-anchor="end" font-weight="normal">TOX</text>
<text transform="translate(223.4 272.67) scale(0.850 1)" font-size="5" fill="#666" text-anchor="end" font-weight="normal">Helios</text>
<text transform="translate(223.4 276.3) scale(0.850 1)" font-size="5" fill="#666" text-anchor="end" font-weight="normal">CD49d</text>
<text transform="translate(223.4 279.93) scale(0.850 1)" font-size="5" fill="#666" text-anchor="end" font-weight="normal">CD3</text>
<text transform="translate(223.4 283.56) scale(0.850 1)" font-size="5" fill="#666" text-anchor="end" font-weight="normal">CD69</text>
<text transform="translate(223.4 287.19) scale(0.850 1)" font-size="5" fill="#666" text-anchor="end" font-weight="normal">Tbet</text>
<text transform="translate(223.4 290.81) scale(0.850 1)" font-size="5" fill="#666" text-anchor="end" font-weight="normal">TCF1</text>
<text transform="translate(223.4 294.44) scale(0.850 1)" font-size="5" fill="#666" text-anchor="end" font-weight="normal">Eomes</text>
<text transform="translate(223.4 298.07) scale(0.850 1)" font-size="5" fill="#666" text-anchor="end" font-weight="normal">GzK</text>
<text transform="translate(223.4 301.7) scale(0.850 1)" font-size="5" fill="#666" text-anchor="end" font-weight="normal">CXCR3</text>
<text transform="translate(223.4 305.33) scale(0.850 1)" font-size="5" fill="#666" text-anchor="end" font-weight="normal">CD57</text>
<text transform="translate(223.4 308.96) scale(0.850 1)" font-size="5" fill="#666" text-anchor="end" font-weight="normal">CD8</text>
<text transform="translate(223.4 312.59) scale(0.850 1)" font-size="5" fill="#666" text-anchor="end" font-weight="normal">CCR7</text>
<text transform="translate(223.4 316.22) scale(0.850 1)" font-size="5" fill="#666" text-anchor="end" font-weight="normal">CD27</text>
<text transform="translate(223.4 319.85) scale(0.850 1)" font-size="5" fill="#666" text-anchor="end" font-weight="normal">CD45RA</text>
<text transform="translate(223.4 323.48) scale(0.850 1)" font-size="5" fill="#666" text-anchor="end" font-weight="normal">CD85j</text>
<text transform="translate(223.4 327.12) scale(0.850 1)" font-size="5" fill="#666" text-anchor="end" font-weight="normal">GzB</text>
<text transform="translate(223.4 330.75) scale(0.850 1)" font-size="5" fill="#666" text-anchor="end" font-weight="normal">CD127</text>
<text transform="translate(223.4 334.38) scale(0.850 1)" font-size="5" fill="#666" text-anchor="end" font-weight="normal">2B4</text>
<text transform="translate(223.4 338) scale(0.850 1)" font-size="5" fill="#666" text-anchor="end" font-weight="normal">CD25</text>
<text transform="translate(223.4 341.63) scale(0.850 1)" font-size="5" fill="#666" text-anchor="end" font-weight="normal">LAG-3</text>
<text transform="translate(223.4 345.26) scale(0.850 1)" font-size="5" fill="#666" text-anchor="end" font-weight="normal">CD103</text>
<text transform="translate(223.4 348.89) scale(0.850 1)" font-size="5" fill="#666" text-anchor="end" font-weight="normal">CD16</text>
<text transform="translate(223.4 352.52) scale(0.850 1)" font-size="5" fill="#666" text-anchor="end" font-weight="normal">CXCR5</text>
<line x1="233.35" y1="353.2" x2="233.35" y2="355" stroke="#333" stroke-width="0.5"/>
<text x="233.35" y="359.4" font-size="4.8" fill="#444" text-anchor="middle" font-weight="normal">−100</text>
<line x1="275.75" y1="353.2" x2="275.75" y2="355" stroke="#333" stroke-width="0.5"/>
<text x="275.75" y="359.4" font-size="4.8" fill="#444" text-anchor="middle" font-weight="normal">0</text>
<line x1="318.15" y1="353.2" x2="318.15" y2="355" stroke="#333" stroke-width="0.5"/>
<text x="318.15" y="359.4" font-size="4.8" fill="#444" text-anchor="middle" font-weight="normal">100</text>
<text transform="translate(227 218.8) scale(0.908 1)" font-size="5.6" fill="#222" text-anchor="start" font-weight="normal">Cluster_15</text>
<text transform="translate(203.6 287.5) rotate(-90) scale(0.743 1)" font-size="6.4" fill="#333" text-anchor="middle" font-weight="normal">Marker</text>
<text transform="translate(291 369.6) scale(0.814 1)" font-size="6.4" fill="#333" text-anchor="middle" font-weight="normal">Intensity</text>
<path d="M445.6 222.4H506.11V225.15H445.6ZM445.6 226.03H506.11V228.78H445.6ZM445.6 229.66H498.93V232.41H445.6ZM445.6 233.29H495.6V236.04H445.6ZM445.6 236.92H493.33V239.67H445.6ZM445.6 240.55H479.87V243.3H445.6ZM445.6 244.18H474.85V246.93H445.6ZM445.6 247.81H469.84V250.56H445.6ZM445.6 251.44H465.35V254.19H445.6ZM445.6 255.07H462.87V257.82H445.6ZM445.6 258.7H460.86V261.45H445.6ZM445.6 262.33H457.85V265.08H445.6ZM445.6 265.96H455.84V268.71H445.6ZM445.6 269.59H453.63V272.34H445.6ZM445.6 273.22H453.36V275.97H445.6ZM445.6 276.85H449.61V279.6H445.6ZM445.6 280.48H448.61V283.23H445.6ZM444.33 284.11H445.6V286.86H444.33ZM442.59 287.74H445.6V290.49H442.59ZM441.38 291.37H445.6V294.12H441.38ZM441.38 295H445.6V297.75H441.38ZM430.82 298.63H445.6V301.38H430.82ZM418.83 302.26H445.6V305.01H418.83ZM418.83 305.89H445.6V308.64H418.83ZM417.09 309.52H445.6V312.27H417.09ZM417.09 313.15H445.6V315.9H417.09ZM410.86 316.78H445.6V319.53H410.86ZM398.34 320.41H445.6V323.16H398.34ZM397.02 324.04H445.6V326.79H397.02ZM393.86 327.67H445.6V330.42H393.86ZM392.96 331.3H445.6V334.05H392.96ZM392.96 334.93H445.6V337.68H392.96ZM392.96 338.56H445.6V341.31H392.96ZM392.96 342.19H445.6V344.94H392.96ZM392.96 345.82H445.6V348.57H392.96ZM392.96 349.45H445.6V352.2H392.96Z" stroke="none" stroke-width="0" fill="#c8102e"/>
<path d="M388.1 221.2V353.2H512.3" stroke="#333" stroke-width="0.6" fill="none"/>
<path d="M386.2 223.78H388.1M386.2 227.41H388.1M386.2 231.03H388.1M386.2 234.67H388.1M386.2 238.3H388.1M386.2 241.93H388.1M386.2 245.56H388.1M386.2 249.19H388.1M386.2 252.81H388.1M386.2 256.44H388.1M386.2 260.07H388.1M386.2 263.7H388.1M386.2 267.34H388.1M386.2 270.97H388.1M386.2 274.6H388.1M386.2 278.23H388.1M386.2 281.86H388.1M386.2 285.49H388.1M386.2 289.12H388.1M386.2 292.75H388.1M386.2 296.38H388.1M386.2 300H388.1M386.2 303.63H388.1M386.2 307.26H388.1M386.2 310.89H388.1M386.2 314.52H388.1M386.2 318.15H388.1M386.2 321.78H388.1M386.2 325.42H388.1M386.2 329.05H388.1M386.2 332.68H388.1M386.2 336.31H388.1M386.2 339.94H388.1M386.2 343.56H388.1M386.2 347.19H388.1M386.2 350.82H388.1" stroke="#333" stroke-width="0.5" fill="none"/>
<text transform="translate(383.7 225.48) scale(0.850 1)" font-size="5" fill="#666" text-anchor="end" font-weight="normal">CD29</text>
<text transform="translate(383.7 229.11) scale(0.850 1)" font-size="5" fill="#666" text-anchor="end" font-weight="normal">TIGIT</text>
<text transform="translate(383.7 232.74) scale(0.850 1)" font-size="5" fill="#666" text-anchor="end" font-weight="normal">CD8</text>
<text transform="translate(383.7 236.37) scale(0.850 1)" font-size="5" fill="#666" text-anchor="end" font-weight="normal">PD1</text>
<text transform="translate(383.7 240) scale(0.850 1)" font-size="5" fill="#666" text-anchor="end" font-weight="normal">HLA-DR</text>
<text transform="translate(383.7 243.63) scale(0.850 1)" font-size="5" fill="#666" text-anchor="end" font-weight="normal">CD27</text>
<text transform="translate(383.7 247.26) scale(0.850 1)" font-size="5" fill="#666" text-anchor="end" font-weight="normal">CD38</text>
<text transform="translate(383.7 250.89) scale(0.850 1)" font-size="5" fill="#666" text-anchor="end" font-weight="normal">GzB</text>
<text transform="translate(383.7 254.52) scale(0.850 1)" font-size="5" fill="#666" text-anchor="end" font-weight="normal">Ki67</text>
<text transform="translate(383.7 258.14) scale(0.850 1)" font-size="5" fill="#666" text-anchor="end" font-weight="normal">Eomes</text>
<text transform="translate(383.7 261.77) scale(0.850 1)" font-size="5" fill="#666" text-anchor="end" font-weight="normal">CD352</text>
<text transform="translate(383.7 265.4) scale(0.850 1)" font-size="5" fill="#666" text-anchor="end" font-weight="normal">CD39</text>
<text transform="translate(383.7 269.04) scale(0.850 1)" font-size="5" fill="#666" text-anchor="end" font-weight="normal">CD49d</text>
<text transform="translate(383.7 272.67) scale(0.850 1)" font-size="5" fill="#666" text-anchor="end" font-weight="normal">CD28</text>
<text transform="translate(383.7 276.3) scale(0.850 1)" font-size="5" fill="#666" text-anchor="end" font-weight="normal">TOX</text>
<text transform="translate(383.7 279.93) scale(0.850 1)" font-size="5" fill="#666" text-anchor="end" font-weight="normal">GzK</text>
<text transform="translate(383.7 283.56) scale(0.850 1)" font-size="5" fill="#666" text-anchor="end" font-weight="normal">CD3</text>
<text transform="translate(383.7 287.19) scale(0.850 1)" font-size="5" fill="#666" text-anchor="end" font-weight="normal">TCF1</text>
<text transform="translate(383.7 290.81) scale(0.850 1)" font-size="5" fill="#666" text-anchor="end" font-weight="normal">CD69</text>
<text transform="translate(383.7 294.44) scale(0.850 1)" font-size="5" fill="#666" text-anchor="end" font-weight="normal">CD85j</text>
<text transform="translate(383.7 298.07) scale(0.850 1)" font-size="5" fill="#666" text-anchor="end" font-weight="normal">Tbet</text>
<text transform="translate(383.7 301.7) scale(0.850 1)" font-size="5" fill="#666" text-anchor="end" font-weight="normal">CD57</text>
<text transform="translate(383.7 305.33) scale(0.850 1)" font-size="5" fill="#666" text-anchor="end" font-weight="normal">CD45RA</text>
<text transform="translate(383.7 308.96) scale(0.850 1)" font-size="5" fill="#666" text-anchor="end" font-weight="normal">CD8</text>
<text transform="translate(383.7 312.59) scale(0.850 1)" font-size="5" fill="#666" text-anchor="end" font-weight="normal">GzB</text>
<text transform="translate(383.7 316.22) scale(0.850 1)" font-size="5" fill="#666" text-anchor="end" font-weight="normal">CCR7</text>
<text transform="translate(383.7 319.85) scale(0.850 1)" font-size="5" fill="#666" text-anchor="end" font-weight="normal">CD127</text>
<text transform="translate(383.7 323.48) scale(0.850 1)" font-size="5" fill="#666" text-anchor="end" font-weight="normal">2B4</text>
<text transform="translate(383.7 327.12) scale(0.850 1)" font-size="5" fill="#666" text-anchor="end" font-weight="normal">CXCR3</text>
<text transform="translate(383.7 330.75) scale(0.850 1)" font-size="5" fill="#666" text-anchor="end" font-weight="normal">LAG-3</text>
<text transform="translate(383.7 334.38) scale(0.850 1)" font-size="5" fill="#666" text-anchor="end" font-weight="normal">CD103</text>
<text transform="translate(383.7 338) scale(0.850 1)" font-size="5" fill="#666" text-anchor="end" font-weight="normal">CD16</text>
<text transform="translate(383.7 341.63) scale(0.850 1)" font-size="5" fill="#666" text-anchor="end" font-weight="normal">CXCR5</text>
<text transform="translate(383.7 345.26) scale(0.850 1)" font-size="5" fill="#666" text-anchor="end" font-weight="normal">CD25</text>
<text transform="translate(383.7 348.89) scale(0.850 1)" font-size="5" fill="#666" text-anchor="end" font-weight="normal">CD4</text>
<text transform="translate(383.7 352.52) scale(0.850 1)" font-size="5" fill="#666" text-anchor="end" font-weight="normal">CD29</text>
<line x1="392.8" y1="353.2" x2="392.8" y2="355" stroke="#333" stroke-width="0.5"/>
<text x="392.8" y="359.4" font-size="4.8" fill="#444" text-anchor="middle" font-weight="normal">−100</text>
<line x1="419.2" y1="353.2" x2="419.2" y2="355" stroke="#333" stroke-width="0.5"/>
<text x="419.2" y="359.4" font-size="4.8" fill="#444" text-anchor="middle" font-weight="normal">−50</text>
<line x1="445.6" y1="353.2" x2="445.6" y2="355" stroke="#333" stroke-width="0.5"/>
<text x="445.6" y="359.4" font-size="4.8" fill="#444" text-anchor="middle" font-weight="normal">0</text>
<line x1="472" y1="353.2" x2="472" y2="355" stroke="#333" stroke-width="0.5"/>
<text x="472" y="359.4" font-size="4.8" fill="#444" text-anchor="middle" font-weight="normal">50</text>
<line x1="498.4" y1="353.2" x2="498.4" y2="355" stroke="#333" stroke-width="0.5"/>
<text x="498.4" y="359.4" font-size="4.8" fill="#444" text-anchor="middle" font-weight="normal">100</text>
<text transform="translate(387.3 218.8) scale(0.908 1)" font-size="5.6" fill="#222" text-anchor="start" font-weight="normal">Cluster_24</text>
<text transform="translate(362.3 287.5) rotate(-90) scale(0.743 1)" font-size="6.4" fill="#333" text-anchor="middle" font-weight="normal">Marker</text>
<text transform="translate(450 369.6) scale(0.814 1)" font-size="6.4" fill="#333" text-anchor="middle" font-weight="normal">Intensity</text>
<text x="17.6" y="419.6" font-size="10.8" fill="#111" text-anchor="start" font-weight="bold">D</text>
<path d="M41.7 434.8H46.5V600.3H41.7ZM47.38 434.8H52.17V600.3H47.38ZM53.05 434.8H57.85V600.3H53.05ZM58.73 434.8H63.52V600.3H58.73ZM64.4 434.8H69.2V600.3H64.4ZM70.08 434.8H74.88V600.3H70.08ZM75.75 434.8H80.55V600.3H75.75ZM81.43 434.8H86.23V600.3H81.43ZM87.1 434.8H91.9V600.3H87.1ZM92.78 434.8H97.58V600.3H92.78ZM98.45 434.8H103.25V600.3H98.45ZM104.12 434.8H108.92V600.3H104.12ZM109.8 434.8H114.6V600.3H109.8ZM115.47 434.8H120.27V600.3H115.47ZM121.15 434.8H125.95V600.3H121.15ZM126.83 434.8H131.62V600.3H126.83ZM132.5 434.8H137.3V600.3H132.5ZM138.18 434.8H142.98V600.3H138.18ZM143.85 434.8H148.65V600.3H143.85ZM149.53 434.8H154.33V600.3H149.53ZM155.2 434.8H160V600.3H155.2ZM160.88 434.8H165.68V600.3H160.88ZM166.55 434.8H171.35V600.3H166.55ZM172.23 434.8H177.03V600.3H172.23ZM177.9 434.8H182.7V600.3H177.9ZM183.57 434.8H188.38V600.3H183.57ZM189.25 434.8H194.05V600.3H189.25ZM194.93 434.8H199.73V600.3H194.93ZM200.6 434.8H205.4V600.3H200.6ZM206.27 434.8H211.07V600.3H206.27Z" stroke="none" stroke-width="0" fill="#f9ebf2"/>
<path d="M47.38 582.92H52.17V600.3H47.38ZM53.05 578.95H57.85V600.3H53.05ZM58.73 578.62H63.52V600.3H58.73ZM64.4 569.85H69.2V600.3H64.4ZM70.08 554.95H74.88V600.3H70.08ZM75.75 545.02H80.55V600.3H75.75ZM81.43 534.27H86.23V600.3H81.43ZM87.1 534.27H91.9V600.3H87.1ZM92.78 531.62H97.58V600.3H92.78ZM98.45 529.63H103.25V600.3H98.45ZM104.12 523.34H108.92V600.3H104.12ZM109.8 522.51H114.6V600.3H109.8ZM115.47 520.86H120.27V600.3H115.47ZM121.15 518.87H125.95V600.3H121.15ZM126.83 513.08H131.62V600.3H126.83ZM132.5 511.76H137.3V600.3H132.5ZM138.18 511.76H142.98V600.3H138.18ZM143.85 505.8H148.65V600.3H143.85ZM149.53 504.97H154.33V600.3H149.53ZM155.2 492.89H160V600.3H155.2ZM160.88 487.43H165.68V600.3H160.88ZM166.55 478.82H171.35V600.3H166.55ZM172.23 477.5H177.03V600.3H172.23ZM177.9 477.33H182.7V600.3H177.9ZM183.57 475.84H188.38V600.3H183.57ZM189.25 473.03H194.05V600.3H189.25ZM194.93 469.39H199.73V600.3H194.93ZM200.6 469.06H205.4V600.3H200.6ZM206.27 444.56H211.07V600.3H206.27Z" stroke="none" stroke-width="0" fill="#2c0f38"/>
<path d="M39.3 434.8V600.3" stroke="#555" stroke-width="0.7" fill="none"/>
<line x1="37.6" y1="600.3" x2="39.3" y2="600.3" stroke="#555" stroke-width="0.5"/>
<text x="35.9" y="602.3" font-size="5.9" fill="#333" text-anchor="end" font-weight="normal">0</text>
<line x1="37.6" y1="558.92" x2="39.3" y2="558.92" stroke="#555" stroke-width="0.5"/>
<text x="35.9" y="560.92" font-size="5.9" fill="#333" text-anchor="end" font-weight="normal">25</text>
<line x1="37.6" y1="517.55" x2="39.3" y2="517.55" stroke="#555" stroke-width="0.5"/>
<text x="35.9" y="519.55" font-size="5.9" fill="#333" text-anchor="end" font-weight="normal">50</text>
<line x1="37.6" y1="476.18" x2="39.3" y2="476.18" stroke="#555" stroke-width="0.5"/>
<text x="35.9" y="478.18" font-size="5.9" fill="#333" text-anchor="end" font-weight="normal">75</text>
<line x1="37.6" y1="434.8" x2="39.3" y2="434.8" stroke="#555" stroke-width="0.5"/>
<text x="35.9" y="436.8" font-size="5.9" fill="#333" text-anchor="end" font-weight="normal">100</text>
<text transform="translate(20.6 517) rotate(-90) scale(0.847 1)" font-size="6.6" fill="#444" text-anchor="middle" font-weight="normal">Perc</text>
<text transform="translate(44.1 610) scale(0.800 1)" font-size="5" fill="#444" text-anchor="middle" font-weight="normal">24</text>
<text transform="translate(49.77 610) scale(0.800 1)" font-size="5" fill="#444" text-anchor="middle" font-weight="normal">25</text>
<text transform="translate(55.45 610) scale(0.800 1)" font-size="5" fill="#444" text-anchor="middle" font-weight="normal">10</text>
<text transform="translate(61.12 610) scale(0.800 1)" font-size="5" fill="#444" text-anchor="middle" font-weight="normal">9</text>
<text transform="translate(66.8 610) scale(0.800 1)" font-size="5" fill="#444" text-anchor="middle" font-weight="normal">2</text>
<text transform="translate(72.48 610) scale(0.800 1)" font-size="5" fill="#444" text-anchor="middle" font-weight="normal">4</text>
<text transform="translate(78.15 610) scale(0.800 1)" font-size="5" fill="#444" text-anchor="middle" font-weight="normal">3</text>
<text transform="translate(83.83 610) scale(0.800 1)" font-size="5" fill="#444" text-anchor="middle" font-weight="normal">15</text>
<text transform="translate(89.5 610) scale(0.800 1)" font-size="5" fill="#444" text-anchor="middle" font-weight="normal">13</text>
<text transform="translate(95.18 610) scale(0.800 1)" font-size="5" fill="#444" text-anchor="middle" font-weight="normal">21</text>
<text transform="translate(100.85 610) scale(0.800 1)" font-size="5" fill="#444" text-anchor="middle" font-weight="normal">16</text>
<text transform="translate(106.53 610) scale(0.800 1)" font-size="5" fill="#444" text-anchor="middle" font-weight="normal">26</text>
<text transform="translate(112.2 610) scale(0.800 1)" font-size="5" fill="#444" text-anchor="middle" font-weight="normal">1</text>
<text transform="translate(117.88 610) scale(0.800 1)" font-size="5" fill="#444" text-anchor="middle" font-weight="normal">18</text>
<text transform="translate(123.55 610) scale(0.800 1)" font-size="5" fill="#444" text-anchor="middle" font-weight="normal">28</text>
<text transform="translate(129.22 610) scale(0.800 1)" font-size="5" fill="#444" text-anchor="middle" font-weight="normal">17</text>
<text transform="translate(134.9 610) scale(0.800 1)" font-size="5" fill="#444" text-anchor="middle" font-weight="normal">6</text>
<text transform="translate(140.58 610) scale(0.800 1)" font-size="5" fill="#444" text-anchor="middle" font-weight="normal">22</text>
<text transform="translate(146.25 610) scale(0.800 1)" font-size="5" fill="#444" text-anchor="middle" font-weight="normal">23</text>
<text transform="translate(151.93 610) scale(0.800 1)" font-size="5" fill="#444" text-anchor="middle" font-weight="normal">19</text>
<text transform="translate(157.6 610) scale(0.800 1)" font-size="5" fill="#444" text-anchor="middle" font-weight="normal">20</text>
<text transform="translate(163.28 610) scale(0.800 1)" font-size="5" fill="#444" text-anchor="middle" font-weight="normal">14</text>
<text transform="translate(168.95 610) scale(0.800 1)" font-size="5" fill="#444" text-anchor="middle" font-weight="normal">11</text>
<text transform="translate(174.63 610) scale(0.800 1)" font-size="5" fill="#444" text-anchor="middle" font-weight="normal">12</text>
<text transform="translate(180.3 610) scale(0.800 1)" font-size="5" fill="#444" text-anchor="middle" font-weight="normal">27</text>
<text transform="translate(185.97 610) scale(0.800 1)" font-size="5" fill="#444" text-anchor="middle" font-weight="normal">29</text>
<text transform="translate(191.65 610) scale(0.800 1)" font-size="5" fill="#444" text-anchor="middle" font-weight="normal">5</text>
<text transform="translate(197.33 610) scale(0.800 1)" font-size="5" fill="#444" text-anchor="middle" font-weight="normal">7</text>
<text transform="translate(203 610) scale(0.800 1)" font-size="5" fill="#444" text-anchor="middle" font-weight="normal">8</text>
<text transform="translate(208.67 610) scale(0.800 1)" font-size="5" fill="#444" text-anchor="middle" font-weight="normal">30</text>
<path d="M44.1 601.2V602.6M49.77 601.2V602.6M55.45 601.2V602.6M61.12 601.2V602.6M66.8 601.2V602.6M72.48 601.2V602.6M78.15 601.2V602.6M83.83 601.2V602.6M89.5 601.2V602.6M95.18 601.2V602.6M100.85 601.2V602.6M106.53 601.2V602.6M112.2 601.2V602.6M117.88 601.2V602.6M123.55 601.2V602.6M129.22 601.2V602.6M134.9 601.2V602.6M140.58 601.2V602.6M146.25 601.2V602.6M151.93 601.2V602.6M157.6 601.2V602.6M163.28 601.2V602.6M168.95 601.2V602.6M174.63 601.2V602.6M180.3 601.2V602.6M185.97 601.2V602.6M191.65 601.2V602.6M197.33 601.2V602.6M203 601.2V602.6M208.67 601.2V602.6" stroke="#555" stroke-width="0.5" fill="none"/>
<text transform="translate(126.5 620.4) scale(0.890 1)" font-size="6.6" fill="#444" text-anchor="middle" font-weight="normal">Rphenograph</text>
<rect x="89.5" y="427.9" width="4" height="4.1" fill="#f6dde9"/>
<text transform="translate(96.4 431.6) scale(0.896 1)" font-size="4.8" fill="#333" text-anchor="start" font-weight="normal">Non responders</text>
<rect x="133.3" y="427.9" width="4" height="4.1" fill="#2c0f38"/>
<text transform="translate(140.6 431.6) scale(0.854 1)" font-size="4.8" fill="#333" text-anchor="start" font-weight="normal">Responders</text>
<path d="M49.2 638.2V627.5" stroke="#111" stroke-width="0.9" fill="none"/>
<path d="M47.2 628.3L49.2 623.8L51.2 628.3Z" stroke="none" stroke-width="0" fill="#111"/>
<path d="M54.9 638.2V627.5" stroke="#111" stroke-width="0.9" fill="none"/>
<path d="M52.9 628.3L54.9 623.8L56.9 628.3Z" stroke="none" stroke-width="0" fill="#111"/>
<path d="M135.2 638.2V627.5" stroke="#111" stroke-width="0.9" fill="none"/>
<path d="M133.2 628.3L135.2 623.8L137.2 628.3Z" stroke="none" stroke-width="0" fill="#111"/>
<path d="M169.6 638.2V627.5" stroke="#111" stroke-width="0.9" fill="none"/>
<path d="M167.6 628.3L169.6 623.8L171.6 628.3Z" stroke="none" stroke-width="0" fill="#111"/>
<path d="M180.6 638.2V627.5" stroke="#111" stroke-width="0.9" fill="none"/>
<path d="M178.6 628.3L180.6 623.8L182.6 628.3Z" stroke="none" stroke-width="0" fill="#111"/>
<path d="M192.5 638.2V627.5" stroke="#111" stroke-width="0.9" fill="none"/>
<path d="M190.5 628.3L192.5 623.8L194.5 628.3Z" stroke="none" stroke-width="0" fill="#111"/>
<text x="228" y="421" font-size="10.8" fill="#111" text-anchor="start" font-weight="bold">E</text>
<text x="379.6" y="421" font-size="10.8" fill="#111" text-anchor="start" font-weight="bold">F</text>
<text x="286.2" y="439.3" font-size="6.6" fill="#222" text-anchor="middle" font-weight="normal">CAR T cells</text>
<rect x="253.1" y="442.1" width="11.03" height="2.9" fill="#5e2a8c" stroke="#7a5a98" stroke-width="0.3"/>
<rect x="264.13" y="442.1" width="11.03" height="2.9" fill="#5e2a8c" stroke="#7a5a98" stroke-width="0.3"/>
<rect x="275.16" y="442.1" width="11.03" height="2.9" fill="#5e2a8c" stroke="#7a5a98" stroke-width="0.3"/>
<rect x="286.19" y="442.1" width="11.03" height="2.9" fill="#f8eef5" stroke="#c8bcc6" stroke-width="0.35"/>
<rect x="297.22" y="442.1" width="11.03" height="2.9" fill="#f8eef5" stroke="#c8bcc6" stroke-width="0.35"/>
<rect x="308.25" y="442.1" width="11.03" height="2.9" fill="#f8eef5" stroke="#c8bcc6" stroke-width="0.35"/>
<g><rect x="253.1" y="446.8" width="11.03" height="4.26" fill="#283b96"/><rect x="264.13" y="446.8" width="11.03" height="4.26" fill="#2a8dc7"/><rect x="275.16" y="446.8" width="11.03" height="4.26" fill="#cfe9b8"/><rect x="286.19" y="446.8" width="11.03" height="4.26" fill="#2b5cae"/><rect x="297.22" y="446.8" width="11.03" height="4.26" fill="#84cfbe"/><rect x="308.25" y="446.8" width="11.03" height="4.26" fill="#cfe9b8"/><rect x="253.1" y="451.06" width="11.03" height="4.26" fill="#2b5cae"/><rect x="264.13" y="451.06" width="11.03" height="4.26" fill="#283b96"/><rect x="275.16" y="451.06" width="11.03" height="4.26" fill="#cfe9b8"/><rect x="286.19" y="451.06" width="11.03" height="4.26" fill="#2b5cae"/><rect x="297.22" y="451.06" width="11.03" height="4.26" fill="#cfe9b8"/><rect x="308.25" y="451.06" width="11.03" height="4.26" fill="#cfe9b8"/><rect x="253.1" y="455.33" width="11.03" height="4.26" fill="#181f55"/><rect x="264.13" y="455.33" width="11.03" height="4.26" fill="#45b7cb"/><rect x="275.16" y="455.33" width="11.03" height="4.26" fill="#84cfbe"/><rect x="286.19" y="455.33" width="11.03" height="4.26" fill="#45b7cb"/><rect x="297.22" y="455.33" width="11.03" height="4.26" fill="#84cfbe"/><rect x="308.25" y="455.33" width="11.03" height="4.26" fill="#cfe9b8"/><rect x="253.1" y="459.59" width="11.03" height="4.26" fill="#283b96"/><rect x="264.13" y="459.59" width="11.03" height="4.26" fill="#84cfbe"/><rect x="275.16" y="459.59" width="11.03" height="4.26" fill="#84cfbe"/><rect x="286.19" y="459.59" width="11.03" height="4.26" fill="#283b96"/><rect x="297.22" y="459.59" width="11.03" height="4.26" fill="#cfe9b8"/><rect x="308.25" y="459.59" width="11.03" height="4.26" fill="#cfe9b8"/><rect x="253.1" y="463.85" width="11.03" height="4.26" fill="#45b7cb"/><rect x="264.13" y="463.85" width="11.03" height="4.26" fill="#2a8dc7"/><rect x="275.16" y="463.85" width="11.03" height="4.26" fill="#2b5cae"/><rect x="286.19" y="463.85" width="11.03" height="4.26" fill="#eef5bb"/><rect x="297.22" y="463.85" width="11.03" height="4.26" fill="#2b5cae"/><rect x="308.25" y="463.85" width="11.03" height="4.26" fill="#eef5bb"/><rect x="253.1" y="468.12" width="11.03" height="4.26" fill="#84cfbe"/><rect x="264.13" y="468.12" width="11.03" height="4.26" fill="#181f55"/><rect x="275.16" y="468.12" width="11.03" height="4.26" fill="#84cfbe"/><rect x="286.19" y="468.12" width="11.03" height="4.26" fill="#84cfbe"/><rect x="297.22" y="468.12" width="11.03" height="4.26" fill="#84cfbe"/><rect x="308.25" y="468.12" width="11.03" height="4.26" fill="#84cfbe"/><rect x="253.1" y="472.38" width="11.03" height="4.26" fill="#84cfbe"/><rect x="264.13" y="472.38" width="11.03" height="4.26" fill="#181f55"/><rect x="275.16" y="472.38" width="11.03" height="4.26" fill="#84cfbe"/><rect x="286.19" y="472.38" width="11.03" height="4.26" fill="#84cfbe"/><rect x="297.22" y="472.38" width="11.03" height="4.26" fill="#84cfbe"/><rect x="308.25" y="472.38" width="11.03" height="4.26" fill="#84cfbe"/><rect x="253.1" y="476.64" width="11.03" height="4.26" fill="#84cfbe"/><rect x="264.13" y="476.64" width="11.03" height="4.26" fill="#181f55"/><rect x="275.16" y="476.64" width="11.03" height="4.26" fill="#84cfbe"/><rect x="286.19" y="476.64" width="11.03" height="4.26" fill="#84cfbe"/><rect x="297.22" y="476.64" width="11.03" height="4.26" fill="#84cfbe"/><rect x="308.25" y="476.64" width="11.03" height="4.26" fill="#84cfbe"/><rect x="253.1" y="480.9" width="11.03" height="4.26" fill="#84cfbe"/><rect x="264.13" y="480.9" width="11.03" height="4.26" fill="#181f55"/><rect x="275.16" y="480.9" width="11.03" height="4.26" fill="#84cfbe"/><rect x="286.19" y="480.9" width="11.03" height="4.26" fill="#84cfbe"/><rect x="297.22" y="480.9" width="11.03" height="4.26" fill="#84cfbe"/><rect x="308.25" y="480.9" width="11.03" height="4.26" fill="#84cfbe"/><rect x="253.1" y="485.17" width="11.03" height="4.26" fill="#84cfbe"/><rect x="264.13" y="485.17" width="11.03" height="4.26" fill="#181f55"/><rect x="275.16" y="485.17" width="11.03" height="4.26" fill="#84cfbe"/><rect x="286.19" y="485.17" width="11.03" height="4.26" fill="#2a8dc7"/><rect x="297.22" y="485.17" width="11.03" height="4.26" fill="#84cfbe"/><rect x="308.25" y="485.17" width="11.03" height="4.26" fill="#cfe9b8"/><rect x="253.1" y="489.43" width="11.03" height="4.26" fill="#84cfbe"/><rect x="264.13" y="489.43" width="11.03" height="4.26" fill="#181f55"/><rect x="275.16" y="489.43" width="11.03" height="4.26" fill="#84cfbe"/><rect x="286.19" y="489.43" width="11.03" height="4.26" fill="#2b5cae"/><rect x="297.22" y="489.43" width="11.03" height="4.26" fill="#84cfbe"/><rect x="308.25" y="489.43" width="11.03" height="4.26" fill="#84cfbe"/><rect x="253.1" y="493.69" width="11.03" height="4.26" fill="#cfe9b8"/><rect x="264.13" y="493.69" width="11.03" height="4.26" fill="#181f55"/><rect x="275.16" y="493.69" width="11.03" height="4.26" fill="#84cfbe"/><rect x="286.19" y="493.69" width="11.03" height="4.26" fill="#2b5cae"/><rect x="297.22" y="493.69" width="11.03" height="4.26" fill="#84cfbe"/><rect x="308.25" y="493.69" width="11.03" height="4.26" fill="#84cfbe"/><rect x="253.1" y="497.96" width="11.03" height="4.26" fill="#45b7cb"/><rect x="264.13" y="497.96" width="11.03" height="4.26" fill="#45b7cb"/><rect x="275.16" y="497.96" width="11.03" height="4.26" fill="#84cfbe"/><rect x="286.19" y="497.96" width="11.03" height="4.26" fill="#2a8dc7"/><rect x="297.22" y="497.96" width="11.03" height="4.26" fill="#eef5bb"/><rect x="308.25" y="497.96" width="11.03" height="4.26" fill="#283b96"/><rect x="253.1" y="502.22" width="11.03" height="4.26" fill="#cfe9b8"/><rect x="264.13" y="502.22" width="11.03" height="4.26" fill="#2a8dc7"/><rect x="275.16" y="502.22" width="11.03" height="4.26" fill="#cfe9b8"/><rect x="286.19" y="502.22" width="11.03" height="4.26" fill="#283b96"/><rect x="297.22" y="502.22" width="11.03" height="4.26" fill="#cfe9b8"/><rect x="308.25" y="502.22" width="11.03" height="4.26" fill="#2b5cae"/><rect x="253.1" y="506.48" width="11.03" height="4.26" fill="#cfe9b8"/><rect x="264.13" y="506.48" width="11.03" height="4.26" fill="#2b5cae"/><rect x="275.16" y="506.48" width="11.03" height="4.26" fill="#cfe9b8"/><rect x="286.19" y="506.48" width="11.03" height="4.26" fill="#45b7cb"/><rect x="297.22" y="506.48" width="11.03" height="4.26" fill="#eef5bb"/><rect x="308.25" y="506.48" width="11.03" height="4.26" fill="#181f55"/><rect x="253.1" y="510.75" width="11.03" height="4.26" fill="#eef5bb"/><rect x="264.13" y="510.75" width="11.03" height="4.26" fill="#2a8dc7"/><rect x="275.16" y="510.75" width="11.03" height="4.26" fill="#45b7cb"/><rect x="286.19" y="510.75" width="11.03" height="4.26" fill="#283b96"/><rect x="297.22" y="510.75" width="11.03" height="4.26" fill="#84cfbe"/><rect x="308.25" y="510.75" width="11.03" height="4.26" fill="#2a8dc7"/><rect x="253.1" y="515.01" width="11.03" height="4.26" fill="#eef5bb"/><rect x="264.13" y="515.01" width="11.03" height="4.26" fill="#2b5cae"/><rect x="275.16" y="515.01" width="11.03" height="4.26" fill="#45b7cb"/><rect x="286.19" y="515.01" width="11.03" height="4.26" fill="#283b96"/><rect x="297.22" y="515.01" width="11.03" height="4.26" fill="#84cfbe"/><rect x="308.25" y="515.01" width="11.03" height="4.26" fill="#45b7cb"/><rect x="253.1" y="519.27" width="11.03" height="4.26" fill="#eef5bb"/><rect x="264.13" y="519.27" width="11.03" height="4.26" fill="#2b5cae"/><rect x="275.16" y="519.27" width="11.03" height="4.26" fill="#84cfbe"/><rect x="286.19" y="519.27" width="11.03" height="4.26" fill="#283b96"/><rect x="297.22" y="519.27" width="11.03" height="4.26" fill="#84cfbe"/><rect x="308.25" y="519.27" width="11.03" height="4.26" fill="#84cfbe"/><rect x="253.1" y="523.53" width="11.03" height="4.26" fill="#cfe9b8"/><rect x="264.13" y="523.53" width="11.03" height="4.26" fill="#2b5cae"/><rect x="275.16" y="523.53" width="11.03" height="4.26" fill="#84cfbe"/><rect x="286.19" y="523.53" width="11.03" height="4.26" fill="#283b96"/><rect x="297.22" y="523.53" width="11.03" height="4.26" fill="#cfe9b8"/><rect x="308.25" y="523.53" width="11.03" height="4.26" fill="#84cfbe"/><rect x="253.1" y="527.8" width="11.03" height="4.26" fill="#cfe9b8"/><rect x="264.13" y="527.8" width="11.03" height="4.26" fill="#283b96"/><rect x="275.16" y="527.8" width="11.03" height="4.26" fill="#84cfbe"/><rect x="286.19" y="527.8" width="11.03" height="4.26" fill="#283b96"/><rect x="297.22" y="527.8" width="11.03" height="4.26" fill="#84cfbe"/><rect x="308.25" y="527.8" width="11.03" height="4.26" fill="#45b7cb"/><rect x="253.1" y="532.06" width="11.03" height="4.26" fill="#45b7cb"/><rect x="264.13" y="532.06" width="11.03" height="4.26" fill="#45b7cb"/><rect x="275.16" y="532.06" width="11.03" height="4.26" fill="#84cfbe"/><rect x="286.19" y="532.06" width="11.03" height="4.26" fill="#181f55"/><rect x="297.22" y="532.06" width="11.03" height="4.26" fill="#eef5bb"/><rect x="308.25" y="532.06" width="11.03" height="4.26" fill="#45b7cb"/><rect x="253.1" y="536.32" width="11.03" height="4.26" fill="#45b7cb"/><rect x="264.13" y="536.32" width="11.03" height="4.26" fill="#2a8dc7"/><rect x="275.16" y="536.32" width="11.03" height="4.26" fill="#cfe9b8"/><rect x="286.19" y="536.32" width="11.03" height="4.26" fill="#181f55"/><rect x="297.22" y="536.32" width="11.03" height="4.26" fill="#cfe9b8"/><rect x="308.25" y="536.32" width="11.03" height="4.26" fill="#84cfbe"/><rect x="253.1" y="540.59" width="11.03" height="4.26" fill="#84cfbe"/><rect x="264.13" y="540.59" width="11.03" height="4.26" fill="#2b5cae"/><rect x="275.16" y="540.59" width="11.03" height="4.26" fill="#cfe9b8"/><rect x="286.19" y="540.59" width="11.03" height="4.26" fill="#181f55"/><rect x="297.22" y="540.59" width="11.03" height="4.26" fill="#cfe9b8"/><rect x="308.25" y="540.59" width="11.03" height="4.26" fill="#84cfbe"/><rect x="253.1" y="544.85" width="11.03" height="4.26" fill="#cfe9b8"/><rect x="264.13" y="544.85" width="11.03" height="4.26" fill="#2b5cae"/><rect x="275.16" y="544.85" width="11.03" height="4.26" fill="#2a8dc7"/><rect x="286.19" y="544.85" width="11.03" height="4.26" fill="#45b7cb"/><rect x="297.22" y="544.85" width="11.03" height="4.26" fill="#eef5bb"/><rect x="308.25" y="544.85" width="11.03" height="4.26" fill="#2b5cae"/><rect x="253.1" y="549.11" width="11.03" height="4.26" fill="#eef5bb"/><rect x="264.13" y="549.11" width="11.03" height="4.26" fill="#2a8dc7"/><rect x="275.16" y="549.11" width="11.03" height="4.26" fill="#2b5cae"/><rect x="286.19" y="549.11" width="11.03" height="4.26" fill="#84cfbe"/><rect x="297.22" y="549.11" width="11.03" height="4.26" fill="#cfe9b8"/><rect x="308.25" y="549.11" width="11.03" height="4.26" fill="#283b96"/><rect x="253.1" y="553.38" width="11.03" height="4.26" fill="#eef5bb"/><rect x="264.13" y="553.38" width="11.03" height="4.26" fill="#2a8dc7"/><rect x="275.16" y="553.38" width="11.03" height="4.26" fill="#2b5cae"/><rect x="286.19" y="553.38" width="11.03" height="4.26" fill="#eef5bb"/><rect x="297.22" y="553.38" width="11.03" height="4.26" fill="#84cfbe"/><rect x="308.25" y="553.38" width="11.03" height="4.26" fill="#283b96"/><rect x="253.1" y="557.64" width="11.03" height="4.26" fill="#eef5bb"/><rect x="264.13" y="557.64" width="11.03" height="4.26" fill="#2a8dc7"/><rect x="275.16" y="557.64" width="11.03" height="4.26" fill="#45b7cb"/><rect x="286.19" y="557.64" width="11.03" height="4.26" fill="#eef5bb"/><rect x="297.22" y="557.64" width="11.03" height="4.26" fill="#45b7cb"/><rect x="308.25" y="557.64" width="11.03" height="4.26" fill="#2b5cae"/><rect x="253.1" y="561.9" width="11.03" height="4.26" fill="#45b7cb"/><rect x="264.13" y="561.9" width="11.03" height="4.26" fill="#eef5bb"/><rect x="275.16" y="561.9" width="11.03" height="4.26" fill="#84cfbe"/><rect x="286.19" y="561.9" width="11.03" height="4.26" fill="#84cfbe"/><rect x="297.22" y="561.9" width="11.03" height="4.26" fill="#2b5cae"/><rect x="308.25" y="561.9" width="11.03" height="4.26" fill="#283b96"/><rect x="253.1" y="566.16" width="11.03" height="4.26" fill="#fcfbd4"/><rect x="264.13" y="566.16" width="11.03" height="4.26" fill="#84cfbe"/><rect x="275.16" y="566.16" width="11.03" height="4.26" fill="#2a8dc7"/><rect x="286.19" y="566.16" width="11.03" height="4.26" fill="#2a8dc7"/><rect x="297.22" y="566.16" width="11.03" height="4.26" fill="#2a8dc7"/><rect x="308.25" y="566.16" width="11.03" height="4.26" fill="#2b5cae"/><rect x="253.1" y="570.43" width="11.03" height="4.26" fill="#eef5bb"/><rect x="264.13" y="570.43" width="11.03" height="4.26" fill="#84cfbe"/><rect x="275.16" y="570.43" width="11.03" height="4.26" fill="#2a8dc7"/><rect x="286.19" y="570.43" width="11.03" height="4.26" fill="#2a8dc7"/><rect x="297.22" y="570.43" width="11.03" height="4.26" fill="#2b5cae"/><rect x="308.25" y="570.43" width="11.03" height="4.26" fill="#2a8dc7"/><rect x="253.1" y="574.69" width="11.03" height="4.26" fill="#eef5bb"/><rect x="264.13" y="574.69" width="11.03" height="4.26" fill="#eef5bb"/><rect x="275.16" y="574.69" width="11.03" height="4.26" fill="#2b5cae"/><rect x="286.19" y="574.69" width="11.03" height="4.26" fill="#45b7cb"/><rect x="297.22" y="574.69" width="11.03" height="4.26" fill="#2a8dc7"/><rect x="308.25" y="574.69" width="11.03" height="4.26" fill="#2b5cae"/><rect x="253.1" y="578.95" width="11.03" height="4.26" fill="#cfe9b8"/><rect x="264.13" y="578.95" width="11.03" height="4.26" fill="#eef5bb"/><rect x="275.16" y="578.95" width="11.03" height="4.26" fill="#2b5cae"/><rect x="286.19" y="578.95" width="11.03" height="4.26" fill="#45b7cb"/><rect x="297.22" y="578.95" width="11.03" height="4.26" fill="#2a8dc7"/><rect x="308.25" y="578.95" width="11.03" height="4.26" fill="#283b96"/><rect x="253.1" y="583.22" width="11.03" height="4.26" fill="#cfe9b8"/><rect x="264.13" y="583.22" width="11.03" height="4.26" fill="#84cfbe"/><rect x="275.16" y="583.22" width="11.03" height="4.26" fill="#cfe9b8"/><rect x="286.19" y="583.22" width="11.03" height="4.26" fill="#2a8dc7"/><rect x="297.22" y="583.22" width="11.03" height="4.26" fill="#2a8dc7"/><rect x="308.25" y="583.22" width="11.03" height="4.26" fill="#2b5cae"/><rect x="253.1" y="587.48" width="11.03" height="4.26" fill="#eef5bb"/><rect x="264.13" y="587.48" width="11.03" height="4.26" fill="#84cfbe"/><rect x="275.16" y="587.48" width="11.03" height="4.26" fill="#45b7cb"/><rect x="286.19" y="587.48" width="11.03" height="4.26" fill="#283b96"/><rect x="297.22" y="587.48" width="11.03" height="4.26" fill="#84cfbe"/><rect x="308.25" y="587.48" width="11.03" height="4.26" fill="#2b5cae"/><rect x="253.1" y="591.74" width="11.03" height="4.26" fill="#eef5bb"/><rect x="264.13" y="591.74" width="11.03" height="4.26" fill="#84cfbe"/><rect x="275.16" y="591.74" width="11.03" height="4.26" fill="#2a8dc7"/><rect x="286.19" y="591.74" width="11.03" height="4.26" fill="#2b5cae"/><rect x="297.22" y="591.74" width="11.03" height="4.26" fill="#45b7cb"/><rect x="308.25" y="591.74" width="11.03" height="4.26" fill="#2b5cae"/></g>
<path d="M253.1 446.8V596M264.13 446.8V596M275.16 446.8V596M286.19 446.8V596M297.22 446.8V596M308.25 446.8V596M319.28 446.8V596M253.1 446.8H319.28M253.1 451.06H319.28M253.1 455.33H319.28M253.1 459.59H319.28M253.1 463.85H319.28M253.1 468.12H319.28M253.1 472.38H319.28M253.1 476.64H319.28M253.1 480.9H319.28M253.1 485.17H319.28M253.1 489.43H319.28M253.1 493.69H319.28M253.1 497.96H319.28M253.1 502.22H319.28M253.1 506.48H319.28M253.1 510.75H319.28M253.1 515.01H319.28M253.1 519.27H319.28M253.1 523.53H319.28M253.1 527.8H319.28M253.1 532.06H319.28M253.1 536.32H319.28M253.1 540.59H319.28M253.1 544.85H319.28M253.1 549.11H319.28M253.1 553.38H319.28M253.1 557.64H319.28M253.1 561.9H319.28M253.1 566.16H319.28M253.1 570.43H319.28M253.1 574.69H319.28M253.1 578.95H319.28M253.1 583.22H319.28M253.1 587.48H319.28M253.1 591.74H319.28M253.1 596H319.28" stroke="#a0a0a0" stroke-width="0.4" fill="none"/>
<text transform="translate(321.6 450.48) scale(0.880 1)" font-size="4.4" fill="#444" text-anchor="start" font-weight="normal">CD26</text>
<text transform="translate(321.6 454.74) scale(0.880 1)" font-size="4.4" fill="#444" text-anchor="start" font-weight="normal">CD127</text>
<text transform="translate(321.6 459.01) scale(0.880 1)" font-size="4.4" fill="#444" text-anchor="start" font-weight="normal">CD69</text>
<text transform="translate(321.6 463.27) scale(0.880 1)" font-size="4.4" fill="#444" text-anchor="start" font-weight="normal">Tbet</text>
<text transform="translate(321.6 467.53) scale(0.880 1)" font-size="4.4" fill="#444" text-anchor="start" font-weight="normal">CD8</text>
<text transform="translate(321.6 471.8) scale(0.880 1)" font-size="4.4" fill="#444" text-anchor="start" font-weight="normal">CD103</text>
<text transform="translate(321.6 476.06) scale(0.880 1)" font-size="4.4" fill="#444" text-anchor="start" font-weight="normal">LAG-3</text>
<text transform="translate(321.6 480.32) scale(0.880 1)" font-size="4.4" fill="#444" text-anchor="start" font-weight="normal">CD16</text>
<text transform="translate(321.6 484.59) scale(0.880 1)" font-size="4.4" fill="#444" text-anchor="start" font-weight="normal">CXCR5</text>
<text transform="translate(321.6 488.85) scale(0.880 1)" font-size="4.4" fill="#444" text-anchor="start" font-weight="normal">CXCR3</text>
<text transform="translate(321.6 493.11) scale(0.880 1)" font-size="4.4" fill="#444" text-anchor="start" font-weight="normal">Tim-3</text>
<text transform="translate(321.6 497.37) scale(0.880 1)" font-size="4.4" fill="#444" text-anchor="start" font-weight="normal">CCR7</text>
<text transform="translate(321.6 501.64) scale(0.880 1)" font-size="4.4" fill="#444" text-anchor="start" font-weight="normal">CD28</text>
<text transform="translate(321.6 505.9) scale(0.880 1)" font-size="4.4" fill="#444" text-anchor="start" font-weight="normal">CD4</text>
<text transform="translate(321.6 510.16) scale(0.880 1)" font-size="4.4" fill="#444" text-anchor="start" font-weight="normal">CD57</text>
<text transform="translate(321.6 514.43) scale(0.880 1)" font-size="4.4" fill="#444" text-anchor="start" font-weight="normal">CD95</text>
<text transform="translate(321.6 518.69) scale(0.880 1)" font-size="4.4" fill="#444" text-anchor="start" font-weight="normal">CD49d</text>
<text transform="translate(321.6 522.95) scale(0.880 1)" font-size="4.4" fill="#444" text-anchor="start" font-weight="normal">CTLA-4</text>
<text transform="translate(321.6 527.22) scale(0.880 1)" font-size="4.4" fill="#444" text-anchor="start" font-weight="normal">CD85j</text>
<text transform="translate(321.6 531.48) scale(0.880 1)" font-size="4.4" fill="#444" text-anchor="start" font-weight="normal">CD45RA</text>
<text transform="translate(321.6 535.74) scale(0.880 1)" font-size="4.4" fill="#444" text-anchor="start" font-weight="normal">Helios</text>
<text transform="translate(321.6 540) scale(0.880 1)" font-size="4.4" fill="#444" text-anchor="start" font-weight="normal">TCF1</text>
<text transform="translate(321.6 544.27) scale(0.880 1)" font-size="4.4" fill="#444" text-anchor="start" font-weight="normal">2B4</text>
<text transform="translate(321.6 548.53) scale(0.880 1)" font-size="4.4" fill="#444" text-anchor="start" font-weight="normal">CD27</text>
<text transform="translate(321.6 552.79) scale(0.880 1)" font-size="4.4" fill="#444" text-anchor="start" font-weight="normal">CD352</text>
<text transform="translate(321.6 557.06) scale(0.880 1)" font-size="4.4" fill="#444" text-anchor="start" font-weight="normal">PD-1</text>
<text transform="translate(321.6 561.32) scale(0.880 1)" font-size="4.4" fill="#444" text-anchor="start" font-weight="normal">TIGIT</text>
<text transform="translate(321.6 565.58) scale(0.880 1)" font-size="4.4" fill="#444" text-anchor="start" font-weight="normal">GranzymeK</text>
<text transform="translate(321.6 569.85) scale(0.880 1)" font-size="4.4" fill="#444" text-anchor="start" font-weight="normal">CD38</text>
<text transform="translate(321.6 574.11) scale(0.880 1)" font-size="4.4" fill="#444" text-anchor="start" font-weight="normal">HLA-DR</text>
<text transform="translate(321.6 578.37) scale(0.880 1)" font-size="4.4" fill="#444" text-anchor="start" font-weight="normal">Ki67</text>
<text transform="translate(321.6 582.63) scale(0.880 1)" font-size="4.4" fill="#444" text-anchor="start" font-weight="normal">Eomes</text>
<text transform="translate(321.6 586.9) scale(0.880 1)" font-size="4.4" fill="#444" text-anchor="start" font-weight="normal">GranzymeB</text>
<text transform="translate(321.6 591.16) scale(0.880 1)" font-size="4.4" fill="#444" text-anchor="start" font-weight="normal">TOX</text>
<text transform="translate(321.6 595.42) scale(0.880 1)" font-size="4.4" fill="#444" text-anchor="start" font-weight="normal">CD39</text>
<text x="322.6" y="443.7" font-size="4" fill="#111" text-anchor="start" font-weight="bold">Responders vs non-responders</text>
<text x="257.31" y="597.4" font-size="4.6" fill="#333" text-anchor="start" font-weight="normal" transform="rotate(90 257.31 597.4)">Cluster_11</text>
<text x="268.34" y="597.4" font-size="4.6" fill="#333" text-anchor="start" font-weight="normal" transform="rotate(90 268.34 597.4)">Cluster_27</text>
<text x="279.37" y="597.4" font-size="4.6" fill="#333" text-anchor="start" font-weight="normal" transform="rotate(90 279.37 597.4)">Cluster_5</text>
<text x="290.4" y="597.4" font-size="4.6" fill="#333" text-anchor="start" font-weight="normal" transform="rotate(90 290.4 597.4)">Cluster_6</text>
<text x="301.43" y="597.4" font-size="4.6" fill="#333" text-anchor="start" font-weight="normal" transform="rotate(90 301.43 597.4)">Cluster_10</text>
<text x="312.46" y="597.4" font-size="4.6" fill="#333" text-anchor="start" font-weight="normal" transform="rotate(90 312.46 597.4)">Cluster_25</text>
<rect x="342.6" y="452.3" width="4.9" height="8.2" fill="#081d58"/>
<rect x="342.6" y="460.4" width="4.9" height="8.2" fill="#253494"/>
<rect x="342.6" y="468.5" width="4.9" height="8.2" fill="#225ea8"/>
<rect x="342.6" y="476.6" width="4.9" height="8.2" fill="#1d91c0"/>
<rect x="342.6" y="484.7" width="4.9" height="8.2" fill="#41b6c4"/>
<rect x="342.6" y="492.8" width="4.9" height="8.2" fill="#7fcdbb"/>
<rect x="342.6" y="500.9" width="4.9" height="8.2" fill="#c7e9b4"/>
<rect x="342.6" y="509" width="4.9" height="8.2" fill="#edf8b1"/>
<rect x="342.6" y="517.1" width="4.9" height="8.2" fill="#ffffd9"/>
<text x="349.6" y="454.7" font-size="4.3" fill="#333" text-anchor="start" font-weight="normal">2</text>
<text x="349.6" y="471.8" font-size="4.3" fill="#333" text-anchor="start" font-weight="normal">1</text>
<text x="349.6" y="491.5" font-size="4.3" fill="#333" text-anchor="start" font-weight="normal">0</text>
<text x="349.6" y="509" font-size="4.3" fill="#333" text-anchor="start" font-weight="normal">−1</text>
<text x="349.6" y="526.1" font-size="4.3" fill="#333" text-anchor="start" font-weight="normal">−2</text>
<path d="M253.1 448.93H247.3V453.19H253.1M253.1 457.46H243.8V461.72H253.1M247.3 451.06H240.6V459.59H243.8M253.1 478.77H251.4V483.04H253.1M253.1 474.51H251.4V480.9H251.4M253.1 470.25H251.4V477.71H251.4M253.1 487.3H248.5V491.56H253.1M248.5 489.43H248.5V495.82H253.1M251.4 473.98H244.4V492.63H248.5M253.1 465.98H233.5V483.3H244.4M240.6 455.33H230.5V474.64H233.5M253.1 504.35H245.5V508.61H253.1M253.1 500.09H242.6V506.48H245.5M253.1 517.14H251V521.4H253.1M253.1 512.88H248.5V519.27H251M253.1 525.67H251V529.93H253.1M253.1 538.45H251.5V542.72H253.1M253.1 534.19H249V540.59H251.5M251 527.8H247V537.39H249M248.5 516.07H239.8V532.59H247M242.6 503.28H233.8V524.33H239.8M253.1 551.24H247.5V555.51H253.1M253.1 546.98H247.5V553.38H247.5M253.1 559.77H247.5V564.03H253.1M247.5 550.18H239.2V561.9H247.5M253.1 568.3H248.8V572.56H253.1M253.1 576.82H248.8V581.08H253.1M248.8 570.43H243V578.95H248.8M253.1 585.35H248.8V589.61H253.1M248.8 587.48H246V593.87H253.1M243 574.69H241.1V590.68H246M239.2 556.04H232.2V582.68H241.1M233.8 513.81H228.2V569.36H232.2M230.5 464.98H226.6V541.59H228.2" stroke="#333" stroke-width="0.55" fill="none"/>
<rect x="338" y="614.2" width="5" height="4.4" fill="#5b2a8e"/>
<rect x="338.2" y="620.1" width="4.7" height="4.4" fill="#f8eef4" stroke="#cbbfc8" stroke-width="0.4"/>
<text transform="translate(345.6 618.2) scale(0.933 1)" font-size="5.6" fill="#333" text-anchor="start" font-weight="normal">Increased cluster</text>
<text transform="translate(345.6 623.8) scale(0.933 1)" font-size="5.6" fill="#333" text-anchor="start" font-weight="normal">Decreased cluster</text>
<text x="438.7" y="437.3" font-size="6.6" fill="#222" text-anchor="middle" font-weight="normal">Non-CAR T cells</text>
<rect x="394.9" y="439.6" width="25.03" height="3.2" fill="#f8eef5" stroke="#c8bcc6" stroke-width="0.35"/>
<rect x="419.93" y="439.6" width="25.03" height="3.2" fill="#8e44a8" stroke="#8e44a8" stroke-width="0.2"/>
<rect x="444.96" y="439.6" width="25.03" height="3.2" fill="#8e44a8" stroke="#7a3a94" stroke-width="0.2"/>
<g><rect x="394.9" y="445.7" width="25.03" height="4.16" fill="#283b96"/><rect x="419.93" y="445.7" width="25.03" height="4.16" fill="#fcfbd4"/><rect x="444.96" y="445.7" width="25.03" height="4.16" fill="#2a8dc7"/><rect x="394.9" y="449.85" width="25.03" height="4.16" fill="#181f55"/><rect x="419.93" y="449.85" width="25.03" height="4.16" fill="#fcfbd4"/><rect x="444.96" y="449.85" width="25.03" height="4.16" fill="#45b7cb"/><rect x="394.9" y="454.01" width="25.03" height="4.16" fill="#181f55"/><rect x="419.93" y="454.01" width="25.03" height="4.16" fill="#fcfbd4"/><rect x="444.96" y="454.01" width="25.03" height="4.16" fill="#45b7cb"/><rect x="394.9" y="458.16" width="25.03" height="4.16" fill="#2b5cae"/><rect x="419.93" y="458.16" width="25.03" height="4.16" fill="#fcfbd4"/><rect x="444.96" y="458.16" width="25.03" height="4.16" fill="#2b5cae"/><rect x="394.9" y="462.32" width="25.03" height="4.16" fill="#2b5cae"/><rect x="419.93" y="462.32" width="25.03" height="4.16" fill="#fcfbd4"/><rect x="444.96" y="462.32" width="25.03" height="4.16" fill="#2b5cae"/><rect x="394.9" y="466.47" width="25.03" height="4.16" fill="#2b5cae"/><rect x="419.93" y="466.47" width="25.03" height="4.16" fill="#fcfbd4"/><rect x="444.96" y="466.47" width="25.03" height="4.16" fill="#2b5cae"/><rect x="394.9" y="470.63" width="25.03" height="4.16" fill="#283b96"/><rect x="419.93" y="470.63" width="25.03" height="4.16" fill="#fcfbd4"/><rect x="444.96" y="470.63" width="25.03" height="4.16" fill="#2a8dc7"/><rect x="394.9" y="474.78" width="25.03" height="4.16" fill="#2b5cae"/><rect x="419.93" y="474.78" width="25.03" height="4.16" fill="#fcfbd4"/><rect x="444.96" y="474.78" width="25.03" height="4.16" fill="#2b5cae"/><rect x="394.9" y="478.94" width="25.03" height="4.16" fill="#181f55"/><rect x="419.93" y="478.94" width="25.03" height="4.16" fill="#84cfbe"/><rect x="444.96" y="478.94" width="25.03" height="4.16" fill="#eef5bb"/><rect x="394.9" y="483.09" width="25.03" height="4.16" fill="#181f55"/><rect x="419.93" y="483.09" width="25.03" height="4.16" fill="#84cfbe"/><rect x="444.96" y="483.09" width="25.03" height="4.16" fill="#eef5bb"/><rect x="394.9" y="487.25" width="25.03" height="4.16" fill="#181f55"/><rect x="419.93" y="487.25" width="25.03" height="4.16" fill="#eef5bb"/><rect x="444.96" y="487.25" width="25.03" height="4.16" fill="#84cfbe"/><rect x="394.9" y="491.4" width="25.03" height="4.16" fill="#181f55"/><rect x="419.93" y="491.4" width="25.03" height="4.16" fill="#eef5bb"/><rect x="444.96" y="491.4" width="25.03" height="4.16" fill="#cfe9b8"/><rect x="394.9" y="495.56" width="25.03" height="4.16" fill="#181f55"/><rect x="419.93" y="495.56" width="25.03" height="4.16" fill="#eef5bb"/><rect x="444.96" y="495.56" width="25.03" height="4.16" fill="#cfe9b8"/><rect x="394.9" y="499.71" width="25.03" height="4.16" fill="#181f55"/><rect x="419.93" y="499.71" width="25.03" height="4.16" fill="#eef5bb"/><rect x="444.96" y="499.71" width="25.03" height="4.16" fill="#cfe9b8"/><rect x="394.9" y="503.87" width="25.03" height="4.16" fill="#181f55"/><rect x="419.93" y="503.87" width="25.03" height="4.16" fill="#eef5bb"/><rect x="444.96" y="503.87" width="25.03" height="4.16" fill="#cfe9b8"/><rect x="394.9" y="508.02" width="25.03" height="4.16" fill="#181f55"/><rect x="419.93" y="508.02" width="25.03" height="4.16" fill="#cfe9b8"/><rect x="444.96" y="508.02" width="25.03" height="4.16" fill="#cfe9b8"/><rect x="394.9" y="512.18" width="25.03" height="4.16" fill="#181f55"/><rect x="419.93" y="512.18" width="25.03" height="4.16" fill="#cfe9b8"/><rect x="444.96" y="512.18" width="25.03" height="4.16" fill="#cfe9b8"/><rect x="394.9" y="516.34" width="25.03" height="4.16" fill="#181f55"/><rect x="419.93" y="516.34" width="25.03" height="4.16" fill="#cfe9b8"/><rect x="444.96" y="516.34" width="25.03" height="4.16" fill="#cfe9b8"/><rect x="394.9" y="520.49" width="25.03" height="4.16" fill="#181f55"/><rect x="419.93" y="520.49" width="25.03" height="4.16" fill="#cfe9b8"/><rect x="444.96" y="520.49" width="25.03" height="4.16" fill="#cfe9b8"/><rect x="394.9" y="524.64" width="25.03" height="4.16" fill="#84cfbe"/><rect x="419.93" y="524.64" width="25.03" height="4.16" fill="#eef5bb"/><rect x="444.96" y="524.64" width="25.03" height="4.16" fill="#181f55"/><rect x="394.9" y="528.8" width="25.03" height="4.16" fill="#cfe9b8"/><rect x="419.93" y="528.8" width="25.03" height="4.16" fill="#cfe9b8"/><rect x="444.96" y="528.8" width="25.03" height="4.16" fill="#181f55"/><rect x="394.9" y="532.96" width="25.03" height="4.16" fill="#cfe9b8"/><rect x="419.93" y="532.96" width="25.03" height="4.16" fill="#cfe9b8"/><rect x="444.96" y="532.96" width="25.03" height="4.16" fill="#181f55"/><rect x="394.9" y="537.11" width="25.03" height="4.16" fill="#eef5bb"/><rect x="419.93" y="537.11" width="25.03" height="4.16" fill="#84cfbe"/><rect x="444.96" y="537.11" width="25.03" height="4.16" fill="#181f55"/><rect x="394.9" y="541.26" width="25.03" height="4.16" fill="#fcfbd4"/><rect x="419.93" y="541.26" width="25.03" height="4.16" fill="#2a8dc7"/><rect x="444.96" y="541.26" width="25.03" height="4.16" fill="#283b96"/><rect x="394.9" y="545.42" width="25.03" height="4.16" fill="#fcfbd4"/><rect x="419.93" y="545.42" width="25.03" height="4.16" fill="#2a8dc7"/><rect x="444.96" y="545.42" width="25.03" height="4.16" fill="#181f55"/><rect x="394.9" y="549.58" width="25.03" height="4.16" fill="#fcfbd4"/><rect x="419.93" y="549.58" width="25.03" height="4.16" fill="#2a8dc7"/><rect x="444.96" y="549.58" width="25.03" height="4.16" fill="#283b96"/><rect x="394.9" y="553.73" width="25.03" height="4.16" fill="#fcfbd4"/><rect x="419.93" y="553.73" width="25.03" height="4.16" fill="#181f55"/><rect x="444.96" y="553.73" width="25.03" height="4.16" fill="#45b7cb"/><rect x="394.9" y="557.88" width="25.03" height="4.16" fill="#fcfbd4"/><rect x="419.93" y="557.88" width="25.03" height="4.16" fill="#181f55"/><rect x="444.96" y="557.88" width="25.03" height="4.16" fill="#45b7cb"/><rect x="394.9" y="562.04" width="25.03" height="4.16" fill="#2a8dc7"/><rect x="419.93" y="562.04" width="25.03" height="4.16" fill="#283b96"/><rect x="444.96" y="562.04" width="25.03" height="4.16" fill="#fcfbd4"/><rect x="394.9" y="566.19" width="25.03" height="4.16" fill="#45b7cb"/><rect x="419.93" y="566.19" width="25.03" height="4.16" fill="#181f55"/><rect x="444.96" y="566.19" width="25.03" height="4.16" fill="#fcfbd4"/><rect x="394.9" y="570.35" width="25.03" height="4.16" fill="#45b7cb"/><rect x="419.93" y="570.35" width="25.03" height="4.16" fill="#181f55"/><rect x="444.96" y="570.35" width="25.03" height="4.16" fill="#fcfbd4"/><rect x="394.9" y="574.5" width="25.03" height="4.16" fill="#84cfbe"/><rect x="419.93" y="574.5" width="25.03" height="4.16" fill="#181f55"/><rect x="444.96" y="574.5" width="25.03" height="4.16" fill="#eef5bb"/><rect x="394.9" y="578.66" width="25.03" height="4.16" fill="#cfe9b8"/><rect x="419.93" y="578.66" width="25.03" height="4.16" fill="#181f55"/><rect x="444.96" y="578.66" width="25.03" height="4.16" fill="#cfe9b8"/><rect x="394.9" y="582.82" width="25.03" height="4.16" fill="#cfe9b8"/><rect x="419.93" y="582.82" width="25.03" height="4.16" fill="#181f55"/><rect x="444.96" y="582.82" width="25.03" height="4.16" fill="#cfe9b8"/><rect x="394.9" y="586.97" width="25.03" height="4.16" fill="#cfe9b8"/><rect x="419.93" y="586.97" width="25.03" height="4.16" fill="#181f55"/><rect x="444.96" y="586.97" width="25.03" height="4.16" fill="#cfe9b8"/></g>
<path d="M394.9 445.7V591.12M419.93 445.7V591.12M444.96 445.7V591.12M469.99 445.7V591.12M394.9 445.7H469.99M394.9 449.85H469.99M394.9 454.01H469.99M394.9 458.16H469.99M394.9 462.32H469.99M394.9 466.47H469.99M394.9 470.63H469.99M394.9 474.78H469.99M394.9 478.94H469.99M394.9 483.09H469.99M394.9 487.25H469.99M394.9 491.4H469.99M394.9 495.56H469.99M394.9 499.71H469.99M394.9 503.87H469.99M394.9 508.02H469.99M394.9 512.18H469.99M394.9 516.34H469.99M394.9 520.49H469.99M394.9 524.64H469.99M394.9 528.8H469.99M394.9 532.96H469.99M394.9 537.11H469.99M394.9 541.26H469.99M394.9 545.42H469.99M394.9 549.58H469.99M394.9 553.73H469.99M394.9 557.88H469.99M394.9 562.04H469.99M394.9 566.19H469.99M394.9 570.35H469.99M394.9 574.5H469.99M394.9 578.66H469.99M394.9 582.82H469.99M394.9 586.97H469.99M394.9 591.12H469.99" stroke="#a0a0a0" stroke-width="0.4" fill="none"/>
<text transform="translate(471.6 449.33) scale(0.880 1)" font-size="4.4" fill="#444" text-anchor="start" font-weight="normal">CD352</text>
<text transform="translate(471.6 453.48) scale(0.880 1)" font-size="4.4" fill="#444" text-anchor="start" font-weight="normal">TOX</text>
<text transform="translate(471.6 457.64) scale(0.880 1)" font-size="4.4" fill="#444" text-anchor="start" font-weight="normal">CD95</text>
<text transform="translate(471.6 461.79) scale(0.880 1)" font-size="4.4" fill="#444" text-anchor="start" font-weight="normal">GzB</text>
<text transform="translate(471.6 465.95) scale(0.880 1)" font-size="4.4" fill="#444" text-anchor="start" font-weight="normal">CTLA4</text>
<text transform="translate(471.6 470.1) scale(0.880 1)" font-size="4.4" fill="#444" text-anchor="start" font-weight="normal">TIGIT</text>
<text transform="translate(471.6 474.26) scale(0.880 1)" font-size="4.4" fill="#444" text-anchor="start" font-weight="normal">CD49d</text>
<text transform="translate(471.6 478.41) scale(0.880 1)" font-size="4.4" fill="#444" text-anchor="start" font-weight="normal">TCF1</text>
<text transform="translate(471.6 482.57) scale(0.880 1)" font-size="4.4" fill="#444" text-anchor="start" font-weight="normal">PD-1</text>
<text transform="translate(471.6 486.72) scale(0.880 1)" font-size="4.4" fill="#444" text-anchor="start" font-weight="normal">LAF-3</text>
<text transform="translate(471.6 490.88) scale(0.880 1)" font-size="4.4" fill="#444" text-anchor="start" font-weight="normal">CD28</text>
<text transform="translate(471.6 495.03) scale(0.880 1)" font-size="4.4" fill="#444" text-anchor="start" font-weight="normal">CD85j</text>
<text transform="translate(471.6 499.19) scale(0.880 1)" font-size="4.4" fill="#444" text-anchor="start" font-weight="normal">Ki67</text>
<text transform="translate(471.6 503.34) scale(0.880 1)" font-size="4.4" fill="#444" text-anchor="start" font-weight="normal">CD39</text>
<text transform="translate(471.6 507.5) scale(0.880 1)" font-size="4.4" fill="#444" text-anchor="start" font-weight="normal">Tim-3</text>
<text transform="translate(471.6 511.65) scale(0.880 1)" font-size="4.4" fill="#444" text-anchor="start" font-weight="normal">CD38</text>
<text transform="translate(471.6 515.81) scale(0.880 1)" font-size="4.4" fill="#444" text-anchor="start" font-weight="normal">HLA-DR</text>
<text transform="translate(471.6 519.96) scale(0.880 1)" font-size="4.4" fill="#444" text-anchor="start" font-weight="normal">CD4</text>
<text transform="translate(471.6 524.12) scale(0.880 1)" font-size="4.4" fill="#444" text-anchor="start" font-weight="normal">CD57</text>
<text transform="translate(471.6 528.27) scale(0.880 1)" font-size="4.4" fill="#444" text-anchor="start" font-weight="normal">CCR7</text>
<text transform="translate(471.6 532.43) scale(0.880 1)" font-size="4.4" fill="#444" text-anchor="start" font-weight="normal">CD103</text>
<text transform="translate(471.6 536.58) scale(0.880 1)" font-size="4.4" fill="#444" text-anchor="start" font-weight="normal">CXCR3</text>
<text transform="translate(471.6 540.74) scale(0.880 1)" font-size="4.4" fill="#444" text-anchor="start" font-weight="normal">CD45RA</text>
<text transform="translate(471.6 544.89) scale(0.880 1)" font-size="4.4" fill="#444" text-anchor="start" font-weight="normal">CD8</text>
<text transform="translate(471.6 549.05) scale(0.880 1)" font-size="4.4" fill="#444" text-anchor="start" font-weight="normal">CD27</text>
<text transform="translate(471.6 553.2) scale(0.880 1)" font-size="4.4" fill="#444" text-anchor="start" font-weight="normal">CD127</text>
<text transform="translate(471.6 557.36) scale(0.880 1)" font-size="4.4" fill="#444" text-anchor="start" font-weight="normal">CD69</text>
<text transform="translate(471.6 561.51) scale(0.880 1)" font-size="4.4" fill="#444" text-anchor="start" font-weight="normal">CD26</text>
<text transform="translate(471.6 565.67) scale(0.880 1)" font-size="4.4" fill="#444" text-anchor="start" font-weight="normal">CD16</text>
<text transform="translate(471.6 569.82) scale(0.880 1)" font-size="4.4" fill="#444" text-anchor="start" font-weight="normal">CXCR5</text>
<text transform="translate(471.6 573.98) scale(0.880 1)" font-size="4.4" fill="#444" text-anchor="start" font-weight="normal">Tbet</text>
<text transform="translate(471.6 578.13) scale(0.880 1)" font-size="4.4" fill="#444" text-anchor="start" font-weight="normal">Helios</text>
<text transform="translate(471.6 582.29) scale(0.880 1)" font-size="4.4" fill="#444" text-anchor="start" font-weight="normal">GzK</text>
<text transform="translate(471.6 586.44) scale(0.880 1)" font-size="4.4" fill="#444" text-anchor="start" font-weight="normal">Eomes</text>
<text transform="translate(471.6 590.6) scale(0.880 1)" font-size="4.4" fill="#444" text-anchor="start" font-weight="normal">2B4</text>
<text x="473.8" y="436.3" font-size="4" fill="#111" text-anchor="start" font-weight="bold">Responders vs</text>
<text x="473.8" y="440.9" font-size="4" fill="#111" text-anchor="start" font-weight="bold">non-responders</text>
<text x="406.11" y="594" font-size="4.6" fill="#333" text-anchor="start" font-weight="normal" transform="rotate(90 406.11 594)">Cluster_10</text>
<text x="431.14" y="594" font-size="4.6" fill="#333" text-anchor="start" font-weight="normal" transform="rotate(90 431.14 594)">Cluster_4</text>
<text x="456.17" y="594" font-size="4.6" fill="#333" text-anchor="start" font-weight="normal" transform="rotate(90 456.17 594)">Cluster_17</text>
<rect x="489.3" y="451.4" width="4.6" height="9.6" fill="#081d58"/>
<rect x="489.3" y="460.88" width="4.6" height="9.6" fill="#253494"/>
<rect x="489.3" y="470.36" width="4.6" height="9.6" fill="#225ea8"/>
<rect x="489.3" y="479.84" width="4.6" height="9.6" fill="#1d91c0"/>
<rect x="489.3" y="489.32" width="4.6" height="9.6" fill="#41b6c4"/>
<rect x="489.3" y="498.8" width="4.6" height="9.6" fill="#7fcdbb"/>
<rect x="489.3" y="508.28" width="4.6" height="9.6" fill="#c7e9b4"/>
<rect x="489.3" y="517.76" width="4.6" height="9.6" fill="#edf8b1"/>
<rect x="489.3" y="527.24" width="4.6" height="9.6" fill="#ffffd9"/>
<text x="495.6" y="457.7" font-size="4.3" fill="#333" text-anchor="start" font-weight="normal">1</text>
<text x="495.6" y="477.5" font-size="4.3" fill="#333" text-anchor="start" font-weight="normal">0.5</text>
<text x="495.6" y="495.7" font-size="4.3" fill="#333" text-anchor="start" font-weight="normal">0</text>
<text x="495.6" y="514.7" font-size="4.3" fill="#333" text-anchor="start" font-weight="normal">0.5</text>
<text x="495.6" y="534.4" font-size="4.3" fill="#333" text-anchor="start" font-weight="normal">1</text>
<path d="M394.9 451.93H391.5V456.09H394.9M394.9 447.78H389V454.01H391.5M394.9 460.24H391.5V464.4H394.9M394.9 472.71H392V476.86H394.9M394.9 468.55H390.5V474.78H392M391.5 462.32H388.5V471.67H390.5M389 450.89H386V466.99H388.5M394.9 481.02H392V485.17H394.9M394.9 489.33H391V493.48H394.9M392 483.09H389V491.4H391M394.9 497.64H392V501.79H394.9M392 499.71H390.5V505.95H394.9M394.9 510.1H392V514.26H394.9M394.9 518.41H391.5V522.57H394.9M392 512.18H390V520.49H391.5M390.5 502.83H388.5V516.34H390M389 487.25H386.5V509.58H388.5M386 458.94H381.6V498.42H386.5M394.9 526.72H392V530.88H394.9M394.9 535.03H391.5V539.19H394.9M392 528.8H389.5V537.11H391.5M394.9 543.34H392V547.5H394.9M394.9 555.81H392.5V559.96H394.9M394.9 551.65H391V557.88H392.5M392 545.42H389V554.77H391M389.5 532.95H384.2V550.09H389M394.9 564.12H392V568.27H394.9M394.9 572.43H391.5V576.58H394.9M392 566.19H389V574.5H391.5M394.9 580.74H392V584.89H394.9M392 582.82H390.5V589.05H394.9M389 570.35H386.5V585.93H390.5M384.2 541.52H381.3V578.14H386.5M381.6 478.68H374.1V559.83H381.3" stroke="#333" stroke-width="0.55" fill="none"/>
<rect x="0.5" y="0.5" width="519" height="644" fill="none" stroke="#1a1214" stroke-width="1.2"/>
</svg>
</body></html>
